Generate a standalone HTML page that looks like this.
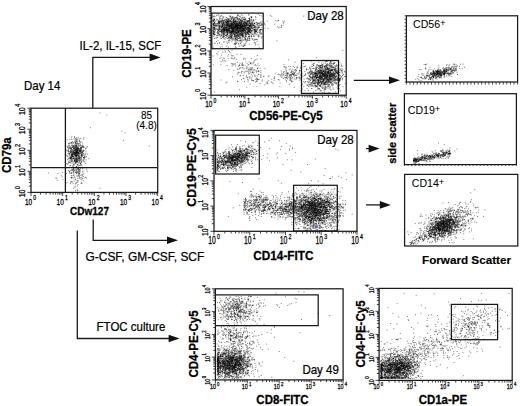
<!DOCTYPE html>
<html><head><meta charset="utf-8"><style>
html,body{margin:0;padding:0;background:#fff;}
svg{display:block;}
text{font-family:"Liberation Sans", sans-serif;}
</style></head><body>
<svg width="520" height="406" viewBox="0 0 520 406">
<rect width="520" height="406" fill="#fff"/>
<g transform="translate(79.5 50) scale(1 1.04)"><text x="0" y="0" font-size="11.5" fill="#000" stroke="#000" stroke-width="0.22">IL-2, IL-15, SCF</text></g>
<g transform="translate(24 90) scale(1 1.04)"><text x="0" y="0" font-size="11.5" fill="#000" stroke="#000" stroke-width="0.22">Day 14</text></g>
<g transform="translate(85.5 261.2) scale(1 1.04)"><text x="0" y="0" font-size="11.95" fill="#000" stroke="#000" stroke-width="0.22">G-CSF, GM-CSF, SCF</text></g>
<g transform="translate(96.6 330.5) scale(1 1.04)"><text x="0" y="0" font-size="11.5" fill="#000" stroke="#000" stroke-width="0.22">FTOC culture</text></g>
<path d="M92.8 108 L92.8 57.4 L150 57.4" fill="none" stroke="#1a1a1a" stroke-width="1.3"/>
<path d="M150 57.4 L150.6 57.4" stroke="#111" stroke-width="1.25"/>
<path d="M160.6 57.4 L149.6 53.6 L149.6 61.199999999999996 Z" fill="#111"/>
<path d="M93.2 219.5 L93.2 240.3 L170 240.3" fill="none" stroke="#1a1a1a" stroke-width="1.3"/>
<path d="M170 240.3 L168 240.3" stroke="#111" stroke-width="1.25"/>
<path d="M178 240.3 L167 236.5 L167 244.10000000000002 Z" fill="#111"/>
<path d="M77.3 230.5 L77.3 338.5 L170 338.5" fill="none" stroke="#1a1a1a" stroke-width="1.3"/>
<path d="M170 338.5 L169.6 338.5" stroke="#111" stroke-width="1.25"/>
<path d="M179.6 338.5 L168.6 334.7 L168.6 342.3 Z" fill="#111"/>
<path d="M353.8 80.3 L390 80.3" stroke="#111" stroke-width="1.25"/>
<path d="M400 80.3 L389 76.5 L389 84.1 Z" fill="#111"/>
<path d="M366 148.6 L369.6 148.6" stroke="#111" stroke-width="1.25"/>
<path d="M379.6 148.6 L368.6 144.79999999999998 L368.6 152.4 Z" fill="#111"/>
<path d="M366 204.9 L380.8 204.9" stroke="#111" stroke-width="1.25"/>
<path d="M390.8 204.9 L379.8 201.1 L379.8 208.70000000000002 Z" fill="#111"/>
<rect x="31" y="108.2" width="126.69999999999999" height="84.2" fill="none" stroke="#1a1a1a" stroke-width="1.25"/>
<path d="M31.0 192.4v3.6M40.5 192.4v2.2M46.1 192.4v2.2M50.1 192.4v2.2M53.1 192.4v2.2M55.6 192.4v2.2M57.8 192.4v2.2M59.6 192.4v2.2M61.2 192.4v2.2M62.7 192.4v3.6M72.2 192.4v2.2M77.8 192.4v2.2M81.7 192.4v2.2M84.8 192.4v2.2M87.3 192.4v2.2M89.4 192.4v2.2M91.3 192.4v2.2M92.9 192.4v2.2M94.3 192.4v3.6M103.9 192.4v2.2M109.5 192.4v2.2M113.4 192.4v2.2M116.5 192.4v2.2M119.0 192.4v2.2M121.1 192.4v2.2M123.0 192.4v2.2M124.6 192.4v2.2M126.0 192.4v3.6M135.6 192.4v2.2M141.1 192.4v2.2M145.1 192.4v2.2M148.2 192.4v2.2M150.7 192.4v2.2M152.8 192.4v2.2M154.6 192.4v2.2M156.3 192.4v2.2M157.7 192.4v3.6" stroke="#222" stroke-width="0.85"/>
<path d="M31 192.4h-3.6M31 186.1h-2.2M31 182.4h-2.2M31 179.7h-2.2M31 177.7h-2.2M31 176.0h-2.2M31 174.6h-2.2M31 173.4h-2.2M31 172.3h-2.2M31 171.3h-3.6M31 165.0h-2.2M31 161.3h-2.2M31 158.7h-2.2M31 156.6h-2.2M31 155.0h-2.2M31 153.6h-2.2M31 152.3h-2.2M31 151.3h-2.2M31 150.3h-3.6M31 144.0h-2.2M31 140.3h-2.2M31 137.6h-2.2M31 135.6h-2.2M31 133.9h-2.2M31 132.5h-2.2M31 131.3h-2.2M31 130.2h-2.2M31 129.2h-3.6M31 122.9h-2.2M31 119.2h-2.2M31 116.6h-2.2M31 114.5h-2.2M31 112.9h-2.2M31 111.5h-2.2M31 110.2h-2.2M31 109.2h-2.2M31 108.2h-3.6" stroke="#222" stroke-width="0.85"/>
<path d="M65.4 108.2 L65.4 192.4" fill="none" stroke="#1a1a1a" stroke-width="1.3"/>
<path d="M31 167.7 L157.7 167.7" fill="none" stroke="#1a1a1a" stroke-width="1.3"/>
<g transform="translate(146.5 118.8) scale(1 1.04)"><text x="0" y="0" font-size="10" text-anchor="middle" fill="#000" stroke="#000" stroke-width="0.1">85</text></g>
<g transform="translate(146.5 128.5) scale(1 1.04)"><text x="0" y="0" font-size="10" text-anchor="middle" fill="#000" stroke="#000" stroke-width="0.1">(4.8)</text></g>
<g transform="translate(32.1 204.8) scale(0.72 1)"><text x="0" y="0" font-size="9" text-anchor="end" fill="#000" stroke="#000" stroke-width="0.28">10</text><text x="1.6666666666666667" y="-4.5" font-size="7.0200000000000005" fill="#000" stroke="#000" stroke-width="0.28">0</text></g>
<g transform="translate(63.775 204.8) scale(0.72 1)"><text x="0" y="0" font-size="9" text-anchor="end" fill="#000" stroke="#000" stroke-width="0.28">10</text><text x="1.6666666666666667" y="-4.5" font-size="7.0200000000000005" fill="#000" stroke="#000" stroke-width="0.28">1</text></g>
<g transform="translate(95.44999999999999 204.8) scale(0.72 1)"><text x="0" y="0" font-size="9" text-anchor="end" fill="#000" stroke="#000" stroke-width="0.28">10</text><text x="1.6666666666666667" y="-4.5" font-size="7.0200000000000005" fill="#000" stroke="#000" stroke-width="0.28">2</text></g>
<g transform="translate(127.12499999999999 204.8) scale(0.72 1)"><text x="0" y="0" font-size="9" text-anchor="end" fill="#000" stroke="#000" stroke-width="0.28">10</text><text x="1.6666666666666667" y="-4.5" font-size="7.0200000000000005" fill="#000" stroke="#000" stroke-width="0.28">3</text></g>
<g transform="translate(158.79999999999998 204.8) scale(0.72 1)"><text x="0" y="0" font-size="9" text-anchor="end" fill="#000" stroke="#000" stroke-width="0.28">10</text><text x="1.6666666666666667" y="-4.5" font-size="7.0200000000000005" fill="#000" stroke="#000" stroke-width="0.28">4</text></g>
<g transform="translate(24.9 193.4) rotate(-90) scale(0.78 1)"><text x="0" y="0" font-size="9" text-anchor="middle" fill="#000" stroke="#000" stroke-width="0.28">10</text><text x="5.58" y="-5.3999999999999995" font-size="7.0200000000000005" fill="#000" stroke="#000" stroke-width="0.28">0</text></g>
<g transform="translate(24.9 172.35) rotate(-90) scale(0.78 1)"><text x="0" y="0" font-size="9" text-anchor="middle" fill="#000" stroke="#000" stroke-width="0.28">10</text><text x="5.58" y="-5.3999999999999995" font-size="7.0200000000000005" fill="#000" stroke="#000" stroke-width="0.28">1</text></g>
<g transform="translate(24.9 151.3) rotate(-90) scale(0.78 1)"><text x="0" y="0" font-size="9" text-anchor="middle" fill="#000" stroke="#000" stroke-width="0.28">10</text><text x="5.58" y="-5.3999999999999995" font-size="7.0200000000000005" fill="#000" stroke="#000" stroke-width="0.28">2</text></g>
<g transform="translate(24.9 130.25) rotate(-90) scale(0.78 1)"><text x="0" y="0" font-size="9" text-anchor="middle" fill="#000" stroke="#000" stroke-width="0.28">10</text><text x="5.58" y="-5.3999999999999995" font-size="7.0200000000000005" fill="#000" stroke="#000" stroke-width="0.28">3</text></g>
<g transform="translate(24.9 111.2) rotate(-90) scale(0.78 1)"><text x="0" y="0" font-size="9" text-anchor="middle" fill="#000" stroke="#000" stroke-width="0.28">10</text><text x="5.58" y="-5.3999999999999995" font-size="7.0200000000000005" fill="#000" stroke="#000" stroke-width="0.28">4</text></g>
<g transform="translate(89.5 215.4) scale(1 1.12)"><text x="0" y="0" font-size="10" font-weight="bold" text-anchor="middle" fill="#000" stroke="#000" stroke-width="0.25">CDw127</text></g>
<g transform="translate(10.6 155.2) rotate(-90) scale(1 1.1)"><text x="0" y="0" font-size="11.5" font-weight="bold" text-anchor="middle" fill="#000" stroke="#000" stroke-width="0.25">CD79a</text></g>
<rect x="211" y="6.5" width="135.2" height="88.7" fill="none" stroke="#1a1a1a" stroke-width="1.25"/>
<path d="M211.0 95.2v3.6M221.2 95.2v2.2M227.1 95.2v2.2M231.3 95.2v2.2M234.6 95.2v2.2M237.3 95.2v2.2M239.6 95.2v2.2M241.5 95.2v2.2M243.3 95.2v2.2M244.8 95.2v3.6M255.0 95.2v2.2M260.9 95.2v2.2M265.1 95.2v2.2M268.4 95.2v2.2M271.1 95.2v2.2M273.4 95.2v2.2M275.3 95.2v2.2M277.1 95.2v2.2M278.6 95.2v3.6M288.8 95.2v2.2M294.7 95.2v2.2M298.9 95.2v2.2M302.2 95.2v2.2M304.9 95.2v2.2M307.2 95.2v2.2M309.1 95.2v2.2M310.9 95.2v2.2M312.4 95.2v3.6M322.6 95.2v2.2M328.5 95.2v2.2M332.7 95.2v2.2M336.0 95.2v2.2M338.7 95.2v2.2M341.0 95.2v2.2M342.9 95.2v2.2M344.7 95.2v2.2M346.2 95.2v3.6" stroke="#222" stroke-width="0.85"/>
<path d="M211 95.2h-3.6M211 88.5h-2.2M211 84.6h-2.2M211 81.8h-2.2M211 79.7h-2.2M211 77.9h-2.2M211 76.5h-2.2M211 75.2h-2.2M211 74.0h-2.2M211 73.0h-3.6M211 66.3h-2.2M211 62.4h-2.2M211 59.7h-2.2M211 57.5h-2.2M211 55.8h-2.2M211 54.3h-2.2M211 53.0h-2.2M211 51.9h-2.2M211 50.9h-3.6M211 44.2h-2.2M211 40.3h-2.2M211 37.5h-2.2M211 35.4h-2.2M211 33.6h-2.2M211 32.1h-2.2M211 30.8h-2.2M211 29.7h-2.2M211 28.7h-3.6M211 22.0h-2.2M211 18.1h-2.2M211 15.3h-2.2M211 13.2h-2.2M211 11.4h-2.2M211 9.9h-2.2M211 8.6h-2.2M211 7.5h-2.2M211 6.5h-3.6" stroke="#222" stroke-width="0.85"/>
<rect x="211.8" y="13.1" width="51.39999999999998" height="35.6" fill="none" stroke="#1a1a1a" stroke-width="1.25"/>
<rect x="301.5" y="60.5" width="37.0" height="32.900000000000006" fill="none" stroke="#1a1a1a" stroke-width="1.25"/>
<g transform="translate(343.7 20) scale(1 1.04)"><text x="0" y="0" font-size="11.5" text-anchor="end" fill="#000" stroke="#000" stroke-width="0.22">Day 28</text></g>
<g transform="translate(212.3 107) scale(0.75 1)"><text x="0" y="0" font-size="8.6" text-anchor="end" fill="#000" stroke="#000" stroke-width="0.28">10</text><text x="1.5999999999999999" y="-4.3" font-size="6.708" fill="#000" stroke="#000" stroke-width="0.28">0</text></g>
<g transform="translate(246.10000000000002 107) scale(0.75 1)"><text x="0" y="0" font-size="8.6" text-anchor="end" fill="#000" stroke="#000" stroke-width="0.28">10</text><text x="1.5999999999999999" y="-4.3" font-size="6.708" fill="#000" stroke="#000" stroke-width="0.28">1</text></g>
<g transform="translate(279.90000000000003 107) scale(0.75 1)"><text x="0" y="0" font-size="8.6" text-anchor="end" fill="#000" stroke="#000" stroke-width="0.28">10</text><text x="1.5999999999999999" y="-4.3" font-size="6.708" fill="#000" stroke="#000" stroke-width="0.28">2</text></g>
<g transform="translate(313.7 107) scale(0.75 1)"><text x="0" y="0" font-size="8.6" text-anchor="end" fill="#000" stroke="#000" stroke-width="0.28">10</text><text x="1.5999999999999999" y="-4.3" font-size="6.708" fill="#000" stroke="#000" stroke-width="0.28">3</text></g>
<g transform="translate(347.5 107) scale(0.75 1)"><text x="0" y="0" font-size="8.6" text-anchor="end" fill="#000" stroke="#000" stroke-width="0.28">10</text><text x="1.5999999999999999" y="-4.3" font-size="6.708" fill="#000" stroke="#000" stroke-width="0.28">4</text></g>
<g transform="translate(205.7 96.2) rotate(-90) scale(0.78 1)"><text x="0" y="0" font-size="8.8" text-anchor="middle" fill="#000" stroke="#000" stroke-width="0.28">10</text><text x="5.456" y="-5.28" font-size="6.864000000000001" fill="#000" stroke="#000" stroke-width="0.28">0</text></g>
<g transform="translate(205.7 74.025) rotate(-90) scale(0.78 1)"><text x="0" y="0" font-size="8.8" text-anchor="middle" fill="#000" stroke="#000" stroke-width="0.28">10</text><text x="5.456" y="-5.28" font-size="6.864000000000001" fill="#000" stroke="#000" stroke-width="0.28">1</text></g>
<g transform="translate(205.7 51.85) rotate(-90) scale(0.78 1)"><text x="0" y="0" font-size="8.8" text-anchor="middle" fill="#000" stroke="#000" stroke-width="0.28">10</text><text x="5.456" y="-5.28" font-size="6.864000000000001" fill="#000" stroke="#000" stroke-width="0.28">2</text></g>
<g transform="translate(205.7 29.674999999999997) rotate(-90) scale(0.78 1)"><text x="0" y="0" font-size="8.8" text-anchor="middle" fill="#000" stroke="#000" stroke-width="0.28">10</text><text x="5.456" y="-5.28" font-size="6.864000000000001" fill="#000" stroke="#000" stroke-width="0.28">3</text></g>
<g transform="translate(205.7 9.2) rotate(-90) scale(0.78 1)"><text x="0" y="0" font-size="8.8" text-anchor="middle" fill="#000" stroke="#000" stroke-width="0.28">10</text><text x="5.456" y="-5.28" font-size="6.864000000000001" fill="#000" stroke="#000" stroke-width="0.28">4</text></g>
<g transform="translate(286 119.5) scale(1 1.04)"><text x="0" y="0" font-size="11.5" font-weight="bold" text-anchor="middle" fill="#000" stroke="#000" stroke-width="0.25">CD56-PE-Cy5</text></g>
<g transform="translate(190.5 53.5) rotate(-90) scale(1 1.04)"><text x="0" y="0" font-size="11.5" font-weight="bold" text-anchor="middle" fill="#000" stroke="#000" stroke-width="0.25">CD19-PE</text></g>
<rect x="214" y="130.4" width="143" height="100.9" fill="none" stroke="#1a1a1a" stroke-width="1.25"/>
<path d="M214.0 231.3v3.6M224.8 231.3v2.2M231.1 231.3v2.2M235.5 231.3v2.2M239.0 231.3v2.2M241.8 231.3v2.2M244.2 231.3v2.2M246.3 231.3v2.2M248.1 231.3v2.2M249.8 231.3v3.6M260.5 231.3v2.2M266.8 231.3v2.2M271.3 231.3v2.2M274.7 231.3v2.2M277.6 231.3v2.2M280.0 231.3v2.2M282.0 231.3v2.2M283.9 231.3v2.2M285.5 231.3v3.6M296.3 231.3v2.2M302.6 231.3v2.2M307.0 231.3v2.2M310.5 231.3v2.2M313.3 231.3v2.2M315.7 231.3v2.2M317.8 231.3v2.2M319.6 231.3v2.2M321.2 231.3v3.6M332.0 231.3v2.2M338.3 231.3v2.2M342.8 231.3v2.2M346.2 231.3v2.2M349.1 231.3v2.2M351.5 231.3v2.2M353.5 231.3v2.2M355.4 231.3v2.2M357.0 231.3v3.6" stroke="#222" stroke-width="0.85"/>
<path d="M214 231.3h-3.6M214 223.7h-2.2M214 219.3h-2.2M214 216.1h-2.2M214 213.7h-2.2M214 211.7h-2.2M214 210.0h-2.2M214 208.5h-2.2M214 207.2h-2.2M214 206.1h-3.6M214 198.5h-2.2M214 194.0h-2.2M214 190.9h-2.2M214 188.4h-2.2M214 186.4h-2.2M214 184.8h-2.2M214 183.3h-2.2M214 182.0h-2.2M214 180.9h-3.6M214 173.3h-2.2M214 168.8h-2.2M214 165.7h-2.2M214 163.2h-2.2M214 161.2h-2.2M214 159.5h-2.2M214 158.1h-2.2M214 156.8h-2.2M214 155.6h-3.6M214 148.0h-2.2M214 143.6h-2.2M214 140.4h-2.2M214 138.0h-2.2M214 136.0h-2.2M214 134.3h-2.2M214 132.8h-2.2M214 131.6h-2.2M214 130.4h-3.6" stroke="#222" stroke-width="0.85"/>
<rect x="215.6" y="135.2" width="43.70000000000002" height="38.80000000000001" fill="none" stroke="#1a1a1a" stroke-width="1.25"/>
<rect x="293.6" y="185.3" width="43.69999999999999" height="45.69999999999999" fill="none" stroke="#1a1a1a" stroke-width="1.25"/>
<g transform="translate(353.7 143.7) scale(1 1.04)"><text x="0" y="0" font-size="11.5" text-anchor="end" fill="#000" stroke="#000" stroke-width="0.22">Day 28</text></g>
<g transform="translate(215.8 243.6) scale(0.68 1)"><text x="0" y="0" font-size="10" text-anchor="end" fill="#000" stroke="#000" stroke-width="0.28">10</text><text x="1.764705882352941" y="-5.0" font-size="7.800000000000001" fill="#000" stroke="#000" stroke-width="0.28">0</text></g>
<g transform="translate(251.55 243.6) scale(0.68 1)"><text x="0" y="0" font-size="10" text-anchor="end" fill="#000" stroke="#000" stroke-width="0.28">10</text><text x="1.764705882352941" y="-5.0" font-size="7.800000000000001" fill="#000" stroke="#000" stroke-width="0.28">1</text></g>
<g transform="translate(287.3 243.6) scale(0.68 1)"><text x="0" y="0" font-size="10" text-anchor="end" fill="#000" stroke="#000" stroke-width="0.28">10</text><text x="1.764705882352941" y="-5.0" font-size="7.800000000000001" fill="#000" stroke="#000" stroke-width="0.28">2</text></g>
<g transform="translate(323.05 243.6) scale(0.68 1)"><text x="0" y="0" font-size="10" text-anchor="end" fill="#000" stroke="#000" stroke-width="0.28">10</text><text x="1.764705882352941" y="-5.0" font-size="7.800000000000001" fill="#000" stroke="#000" stroke-width="0.28">3</text></g>
<g transform="translate(358.8 243.6) scale(0.68 1)"><text x="0" y="0" font-size="10" text-anchor="end" fill="#000" stroke="#000" stroke-width="0.28">10</text><text x="1.764705882352941" y="-5.0" font-size="7.800000000000001" fill="#000" stroke="#000" stroke-width="0.28">4</text></g>
<g transform="translate(207.7 232.3) rotate(-90) scale(0.78 1)"><text x="0" y="0" font-size="8.6" text-anchor="middle" fill="#000" stroke="#000" stroke-width="0.28">10</text><text x="5.332" y="-5.159999999999999" font-size="6.708" fill="#000" stroke="#000" stroke-width="0.28">0</text></g>
<g transform="translate(207.7 207.07500000000002) rotate(-90) scale(0.78 1)"><text x="0" y="0" font-size="8.6" text-anchor="middle" fill="#000" stroke="#000" stroke-width="0.28">10</text><text x="5.332" y="-5.159999999999999" font-size="6.708" fill="#000" stroke="#000" stroke-width="0.28">1</text></g>
<g transform="translate(207.7 181.85000000000002) rotate(-90) scale(0.78 1)"><text x="0" y="0" font-size="8.6" text-anchor="middle" fill="#000" stroke="#000" stroke-width="0.28">10</text><text x="5.332" y="-5.159999999999999" font-size="6.708" fill="#000" stroke="#000" stroke-width="0.28">2</text></g>
<g transform="translate(207.7 156.625) rotate(-90) scale(0.78 1)"><text x="0" y="0" font-size="8.6" text-anchor="middle" fill="#000" stroke="#000" stroke-width="0.28">10</text><text x="5.332" y="-5.159999999999999" font-size="6.708" fill="#000" stroke="#000" stroke-width="0.28">3</text></g>
<g transform="translate(207.7 134.3) rotate(-90) scale(0.78 1)"><text x="0" y="0" font-size="8.6" text-anchor="middle" fill="#000" stroke="#000" stroke-width="0.28">10</text><text x="5.332" y="-5.159999999999999" font-size="6.708" fill="#000" stroke="#000" stroke-width="0.28">4</text></g>
<g transform="translate(283.4 260) scale(1 1.04)"><text x="0" y="0" font-size="11.8" font-weight="bold" text-anchor="middle" fill="#000" stroke="#000" stroke-width="0.25">CD14-FITC</text></g>
<g transform="translate(196.4 167.4) rotate(-90) scale(1 1.04)"><text x="0" y="0" font-size="12.3" font-weight="bold" text-anchor="middle" fill="#000" stroke="#000" stroke-width="0.25">CD19-PE-Cy5</text></g>
<rect x="215.4" y="288.8" width="127.70000000000002" height="91.09999999999997" fill="none" stroke="#1a1a1a" stroke-width="1.25"/>
<path d="M215.4 379.9v3.6M225.0 379.9v2.2M230.6 379.9v2.2M234.6 379.9v2.2M237.7 379.9v2.2M240.2 379.9v2.2M242.4 379.9v2.2M244.2 379.9v2.2M245.9 379.9v2.2M247.3 379.9v3.6M256.9 379.9v2.2M262.6 379.9v2.2M266.5 379.9v2.2M269.6 379.9v2.2M272.2 379.9v2.2M274.3 379.9v2.2M276.2 379.9v2.2M277.8 379.9v2.2M279.2 379.9v3.6M288.9 379.9v2.2M294.5 379.9v2.2M298.5 379.9v2.2M301.6 379.9v2.2M304.1 379.9v2.2M306.2 379.9v2.2M308.1 379.9v2.2M309.7 379.9v2.2M311.2 379.9v3.6M320.8 379.9v2.2M326.4 379.9v2.2M330.4 379.9v2.2M333.5 379.9v2.2M336.0 379.9v2.2M338.2 379.9v2.2M340.0 379.9v2.2M341.6 379.9v2.2M343.1 379.9v3.6" stroke="#222" stroke-width="0.85"/>
<path d="M215.4 379.9h-3.6M215.4 373.0h-2.2M215.4 369.0h-2.2M215.4 366.2h-2.2M215.4 364.0h-2.2M215.4 362.2h-2.2M215.4 360.7h-2.2M215.4 359.3h-2.2M215.4 358.2h-2.2M215.4 357.1h-3.6M215.4 350.3h-2.2M215.4 346.3h-2.2M215.4 343.4h-2.2M215.4 341.2h-2.2M215.4 339.4h-2.2M215.4 337.9h-2.2M215.4 336.6h-2.2M215.4 335.4h-2.2M215.4 334.4h-3.6M215.4 327.5h-2.2M215.4 323.5h-2.2M215.4 320.6h-2.2M215.4 318.4h-2.2M215.4 316.6h-2.2M215.4 315.1h-2.2M215.4 313.8h-2.2M215.4 312.6h-2.2M215.4 311.6h-3.6M215.4 304.7h-2.2M215.4 300.7h-2.2M215.4 297.9h-2.2M215.4 295.7h-2.2M215.4 293.9h-2.2M215.4 292.3h-2.2M215.4 291.0h-2.2M215.4 289.8h-2.2M215.4 288.8h-3.6" stroke="#222" stroke-width="0.85"/>
<path d="M215.4 294.8 L318.2 294.8 L318.2 325.5 L215.4 325.5" fill="none" stroke="#1a1a1a" stroke-width="1.25"/>
<g transform="translate(338.8 374.4) scale(1 1.04)"><text x="0" y="0" font-size="11.5" text-anchor="end" fill="#000" stroke="#000" stroke-width="0.22">Day 49</text></g>
<g transform="translate(215.9 389.4) scale(0.75 1)"><text x="0" y="0" font-size="7.2" text-anchor="end" fill="#000" stroke="#000" stroke-width="0.28">10</text><text x="1.5999999999999999" y="-3.6" font-size="5.6160000000000005" fill="#000" stroke="#000" stroke-width="0.28">0</text></g>
<g transform="translate(247.82500000000002 389.4) scale(0.75 1)"><text x="0" y="0" font-size="7.2" text-anchor="end" fill="#000" stroke="#000" stroke-width="0.28">10</text><text x="1.5999999999999999" y="-3.6" font-size="5.6160000000000005" fill="#000" stroke="#000" stroke-width="0.28">1</text></g>
<g transform="translate(279.75 389.4) scale(0.75 1)"><text x="0" y="0" font-size="7.2" text-anchor="end" fill="#000" stroke="#000" stroke-width="0.28">10</text><text x="1.5999999999999999" y="-3.6" font-size="5.6160000000000005" fill="#000" stroke="#000" stroke-width="0.28">2</text></g>
<g transform="translate(311.675 389.4) scale(0.75 1)"><text x="0" y="0" font-size="7.2" text-anchor="end" fill="#000" stroke="#000" stroke-width="0.28">10</text><text x="1.5999999999999999" y="-3.6" font-size="5.6160000000000005" fill="#000" stroke="#000" stroke-width="0.28">3</text></g>
<g transform="translate(343.6 389.4) scale(0.75 1)"><text x="0" y="0" font-size="7.2" text-anchor="end" fill="#000" stroke="#000" stroke-width="0.28">10</text><text x="1.5999999999999999" y="-3.6" font-size="5.6160000000000005" fill="#000" stroke="#000" stroke-width="0.28">4</text></g>
<g transform="translate(210 381.7) rotate(-90) scale(0.78 1)"><text x="0" y="0" font-size="7" text-anchor="middle" fill="#000" stroke="#000" stroke-width="0.28">10</text><text x="4.34" y="-4.2" font-size="5.46" fill="#000" stroke="#000" stroke-width="0.28">0</text></g>
<g transform="translate(210 358.925) rotate(-90) scale(0.78 1)"><text x="0" y="0" font-size="7" text-anchor="middle" fill="#000" stroke="#000" stroke-width="0.28">10</text><text x="4.34" y="-4.2" font-size="5.46" fill="#000" stroke="#000" stroke-width="0.28">1</text></g>
<g transform="translate(210 336.15000000000003) rotate(-90) scale(0.78 1)"><text x="0" y="0" font-size="7" text-anchor="middle" fill="#000" stroke="#000" stroke-width="0.28">10</text><text x="4.34" y="-4.2" font-size="5.46" fill="#000" stroke="#000" stroke-width="0.28">2</text></g>
<g transform="translate(210 313.375) rotate(-90) scale(0.78 1)"><text x="0" y="0" font-size="7" text-anchor="middle" fill="#000" stroke="#000" stroke-width="0.28">10</text><text x="4.34" y="-4.2" font-size="5.46" fill="#000" stroke="#000" stroke-width="0.28">3</text></g>
<g transform="translate(210 290.6) rotate(-90) scale(0.78 1)"><text x="0" y="0" font-size="7" text-anchor="middle" fill="#000" stroke="#000" stroke-width="0.28">10</text><text x="4.34" y="-4.2" font-size="5.46" fill="#000" stroke="#000" stroke-width="0.28">4</text></g>
<g transform="translate(282.5 404) scale(1 1.04)"><text x="0" y="0" font-size="11.5" font-weight="bold" text-anchor="middle" fill="#000" stroke="#000" stroke-width="0.25">CD8-FITC</text></g>
<g transform="translate(198 344) rotate(-90) scale(1 1.04)"><text x="0" y="0" font-size="11.5" font-weight="bold" text-anchor="middle" fill="#000" stroke="#000" stroke-width="0.25">CD4-PE-Cy5</text></g>
<rect x="379.1" y="288.4" width="133.10000000000002" height="92.0" fill="none" stroke="#1a1a1a" stroke-width="1.25"/>
<path d="M379.1 380.4v3.6M389.1 380.4v2.2M395.0 380.4v2.2M399.1 380.4v2.2M402.4 380.4v2.2M405.0 380.4v2.2M407.2 380.4v2.2M409.2 380.4v2.2M410.9 380.4v2.2M412.4 380.4v3.6M422.4 380.4v2.2M428.3 380.4v2.2M432.4 380.4v2.2M435.6 380.4v2.2M438.3 380.4v2.2M440.5 380.4v2.2M442.4 380.4v2.2M444.1 380.4v2.2M445.7 380.4v3.6M455.7 380.4v2.2M461.5 380.4v2.2M465.7 380.4v2.2M468.9 380.4v2.2M471.5 380.4v2.2M473.8 380.4v2.2M475.7 380.4v2.2M477.4 380.4v2.2M478.9 380.4v3.6M488.9 380.4v2.2M494.8 380.4v2.2M499.0 380.4v2.2M502.2 380.4v2.2M504.8 380.4v2.2M507.0 380.4v2.2M509.0 380.4v2.2M510.7 380.4v2.2M512.2 380.4v3.6" stroke="#222" stroke-width="0.85"/>
<path d="M379.1 380.4h-3.6M379.1 373.5h-2.2M379.1 369.4h-2.2M379.1 366.6h-2.2M379.1 364.3h-2.2M379.1 362.5h-2.2M379.1 361.0h-2.2M379.1 359.6h-2.2M379.1 358.5h-2.2M379.1 357.4h-3.6M379.1 350.5h-2.2M379.1 346.4h-2.2M379.1 343.6h-2.2M379.1 341.3h-2.2M379.1 339.5h-2.2M379.1 338.0h-2.2M379.1 336.6h-2.2M379.1 335.5h-2.2M379.1 334.4h-3.6M379.1 327.5h-2.2M379.1 323.4h-2.2M379.1 320.6h-2.2M379.1 318.3h-2.2M379.1 316.5h-2.2M379.1 315.0h-2.2M379.1 313.6h-2.2M379.1 312.5h-2.2M379.1 311.4h-3.6M379.1 304.5h-2.2M379.1 300.4h-2.2M379.1 297.6h-2.2M379.1 295.3h-2.2M379.1 293.5h-2.2M379.1 292.0h-2.2M379.1 290.6h-2.2M379.1 289.5h-2.2M379.1 288.4h-3.6" stroke="#222" stroke-width="0.85"/>
<rect x="451.4" y="304.4" width="46.200000000000045" height="35.30000000000001" fill="none" stroke="#1a1a1a" stroke-width="1.25"/>
<g transform="translate(379.6 389.4) scale(0.75 1)"><text x="0" y="0" font-size="7.2" text-anchor="end" fill="#000" stroke="#000" stroke-width="0.28">10</text><text x="1.5999999999999999" y="-3.6" font-size="5.6160000000000005" fill="#000" stroke="#000" stroke-width="0.28">0</text></g>
<g transform="translate(412.875 389.4) scale(0.75 1)"><text x="0" y="0" font-size="7.2" text-anchor="end" fill="#000" stroke="#000" stroke-width="0.28">10</text><text x="1.5999999999999999" y="-3.6" font-size="5.6160000000000005" fill="#000" stroke="#000" stroke-width="0.28">1</text></g>
<g transform="translate(446.15000000000003 389.4) scale(0.75 1)"><text x="0" y="0" font-size="7.2" text-anchor="end" fill="#000" stroke="#000" stroke-width="0.28">10</text><text x="1.5999999999999999" y="-3.6" font-size="5.6160000000000005" fill="#000" stroke="#000" stroke-width="0.28">2</text></g>
<g transform="translate(479.42500000000007 389.4) scale(0.75 1)"><text x="0" y="0" font-size="7.2" text-anchor="end" fill="#000" stroke="#000" stroke-width="0.28">10</text><text x="1.5999999999999999" y="-3.6" font-size="5.6160000000000005" fill="#000" stroke="#000" stroke-width="0.28">3</text></g>
<g transform="translate(512.7 389.4) scale(0.75 1)"><text x="0" y="0" font-size="7.2" text-anchor="end" fill="#000" stroke="#000" stroke-width="0.28">10</text><text x="1.5999999999999999" y="-3.6" font-size="5.6160000000000005" fill="#000" stroke="#000" stroke-width="0.28">4</text></g>
<g transform="translate(373.6 382.2) rotate(-90) scale(0.78 1)"><text x="0" y="0" font-size="7" text-anchor="middle" fill="#000" stroke="#000" stroke-width="0.28">10</text><text x="4.34" y="-4.2" font-size="5.46" fill="#000" stroke="#000" stroke-width="0.28">0</text></g>
<g transform="translate(373.6 359.2) rotate(-90) scale(0.78 1)"><text x="0" y="0" font-size="7" text-anchor="middle" fill="#000" stroke="#000" stroke-width="0.28">10</text><text x="4.34" y="-4.2" font-size="5.46" fill="#000" stroke="#000" stroke-width="0.28">1</text></g>
<g transform="translate(373.6 336.2) rotate(-90) scale(0.78 1)"><text x="0" y="0" font-size="7" text-anchor="middle" fill="#000" stroke="#000" stroke-width="0.28">10</text><text x="4.34" y="-4.2" font-size="5.46" fill="#000" stroke="#000" stroke-width="0.28">2</text></g>
<g transform="translate(373.6 313.2) rotate(-90) scale(0.78 1)"><text x="0" y="0" font-size="7" text-anchor="middle" fill="#000" stroke="#000" stroke-width="0.28">10</text><text x="4.34" y="-4.2" font-size="5.46" fill="#000" stroke="#000" stroke-width="0.28">3</text></g>
<g transform="translate(373.6 290.2) rotate(-90) scale(0.78 1)"><text x="0" y="0" font-size="7" text-anchor="middle" fill="#000" stroke="#000" stroke-width="0.28">10</text><text x="4.34" y="-4.2" font-size="5.46" fill="#000" stroke="#000" stroke-width="0.28">4</text></g>
<g transform="translate(442.9 403.8) scale(1 1.04)"><text x="0" y="0" font-size="11.5" font-weight="bold" text-anchor="middle" fill="#000" stroke="#000" stroke-width="0.25">CD1a-PE</text></g>
<g transform="translate(365 334) rotate(-90) scale(1 1.04)"><text x="0" y="0" font-size="11.5" font-weight="bold" text-anchor="middle" fill="#000" stroke="#000" stroke-width="0.25">CD4-PE-Cy5</text></g>
<rect x="406.4" y="15.8" width="111.20000000000005" height="66.2" fill="none" stroke="#1a1a1a" stroke-width="1.25"/>
<path d="M406.40 82.0v2.6M409.99 82.0v2.6M413.57 82.0v2.6M417.16 82.0v2.6M420.75 82.0v2.6M424.34 82.0v2.6M427.92 82.0v2.6M431.51 82.0v2.6M435.10 82.0v2.6M438.68 82.0v2.6M442.27 82.0v2.6M445.86 82.0v2.6M449.45 82.0v2.6M453.03 82.0v2.6M456.62 82.0v2.6M460.21 82.0v2.6M463.79 82.0v2.6M467.38 82.0v2.6M470.97 82.0v2.6M474.55 82.0v2.6M478.14 82.0v2.6M481.73 82.0v2.6M485.32 82.0v2.6M488.90 82.0v2.6M492.49 82.0v2.6M496.08 82.0v2.6M499.66 82.0v2.6M503.25 82.0v2.6M506.84 82.0v2.6M510.43 82.0v2.6M514.01 82.0v2.6M517.60 82.0v2.6" stroke="#222" stroke-width="0.8"/>
<path d="M406.4 82.00h-1.8M406.4 78.52h-1.8M406.4 75.03h-1.8M406.4 71.55h-1.8M406.4 68.06h-1.8M406.4 64.58h-1.8M406.4 61.09h-1.8M406.4 57.61h-1.8M406.4 54.13h-1.8M406.4 50.64h-1.8M406.4 47.16h-1.8M406.4 43.67h-1.8M406.4 40.19h-1.8M406.4 36.71h-1.8M406.4 33.22h-1.8M406.4 29.74h-1.8M406.4 26.25h-1.8M406.4 22.77h-1.8M406.4 19.28h-1.8M406.4 15.80h-1.8" stroke="#222" stroke-width="0.8"/>
<g transform="translate(413 27.6) scale(1 1.04)"><text x="0" y="0" font-size="10.6" fill="#000" stroke="#000" stroke-width="0.05">CD56<tspan font-size="9.5" dy="-1.6">+</tspan></text></g>
<rect x="404.4" y="93.7" width="112.0" height="70.89999999999999" fill="none" stroke="#1a1a1a" stroke-width="1.25"/>
<path d="M404.40 164.6v1.4M408.01 164.6v1.4M411.63 164.6v1.4M415.24 164.6v1.4M418.85 164.6v1.4M422.46 164.6v1.4M426.08 164.6v1.4M429.69 164.6v1.4M433.30 164.6v1.4M436.92 164.6v1.4M440.53 164.6v1.4M444.14 164.6v1.4M447.75 164.6v1.4M451.37 164.6v1.4M454.98 164.6v1.4M458.59 164.6v1.4M462.21 164.6v1.4M465.82 164.6v1.4M469.43 164.6v1.4M473.05 164.6v1.4M476.66 164.6v1.4M480.27 164.6v1.4M483.88 164.6v1.4M487.50 164.6v1.4M491.11 164.6v1.4M494.72 164.6v1.4M498.34 164.6v1.4M501.95 164.6v1.4M505.56 164.6v1.4M509.17 164.6v1.4M512.79 164.6v1.4M516.40 164.6v1.4" stroke="#222" stroke-width="0.7"/>
<g transform="translate(407.8 113.6) scale(1 1.04)"><text x="0" y="0" font-size="10.6" fill="#000" stroke="#000" stroke-width="0.05">CD19<tspan font-size="9.5" dy="-1.6">+</tspan></text></g>
<rect x="404.6" y="174.4" width="113.19999999999993" height="71.6" fill="none" stroke="#1a1a1a" stroke-width="1.25"/>
<g transform="translate(411.8 187.1) scale(1 1.04)"><text x="0" y="0" font-size="10.6" fill="#000" stroke="#000" stroke-width="0.05">CD14<tspan font-size="9.5" dy="-1.6">+</tspan></text></g>
<g transform="translate(395.6 133.3) rotate(-90) scale(1 1.04)"><text x="0" y="0" font-size="11" font-weight="bold" text-anchor="middle" fill="#000" stroke="#000" stroke-width="0.25">side scatter</text></g>
<g transform="translate(466.5 263.7) scale(1 1.0)"><text x="0" y="0" font-size="11.7" font-weight="bold" text-anchor="middle" fill="#000" stroke="#000" stroke-width="0.15">Forward Scatter</text></g>
<filter id="bl" x="0" y="0" width="1" height="1"><feGaussianBlur stdDeviation="0.3"/></filter>
<g filter="url(#bl)">
<path d="M76.2 161.2h1M71.9 154.9h1M76.5 155.3h1M73.2 151.0h1M76.7 150.4h1M79.5 167.5h1M67.1 164.2h1M75.1 154.3h1M77.0 142.0h1M76.0 152.5h1M73.9 151.2h1M81.3 151.0h1M80.4 153.3h1M76.7 151.9h1M76.6 146.2h1M80.3 160.2h1M85.8 167.9h1M76.6 162.0h1M79.5 149.9h1M83.1 157.5h1M74.0 158.0h1M73.4 158.3h1M81.7 156.1h1M79.3 149.3h1M75.7 162.0h1M74.6 167.4h1M83.5 147.2h1M77.9 154.1h1M70.9 142.9h1M81.8 151.3h1M79.4 149.2h1M76.2 166.4h1M77.9 158.4h1M74.7 153.1h1M87.0 154.1h1M77.2 145.9h1M75.2 153.0h1M71.2 158.5h1M71.1 159.9h1M80.9 164.4h1M73.4 149.9h1M70.8 148.8h1M67.8 163.3h1M79.9 151.4h1M82.2 147.1h1M74.9 143.0h1M81.5 155.7h1M72.4 142.8h1M82.2 145.0h1M76.3 139.7h1M73.5 156.0h1M74.8 153.8h1M84.1 156.2h1M77.8 152.3h1M75.2 144.0h1M79.7 145.0h1M72.6 152.9h1M75.5 149.0h1M82.6 153.2h1M76.0 146.4h1M79.2 159.0h1M76.3 153.3h1M78.0 150.2h1M80.8 150.6h1M78.8 141.1h1M80.6 157.4h1M70.2 157.9h1M80.4 147.9h1M70.7 161.6h1M71.3 149.3h1M68.3 158.9h1M76.4 155.8h1M72.1 141.3h1M71.5 154.3h1M75.9 159.2h1M73.0 168.2h1M77.1 154.6h1M77.8 152.7h1M80.5 150.4h1M69.2 154.3h1M75.8 153.4h1M81.7 151.8h1M66.7 146.1h1M76.4 152.0h1M81.6 154.2h1M75.9 160.9h1M78.9 154.8h1M78.7 158.7h1M70.1 149.8h1M69.8 158.4h1M74.0 160.8h1M77.4 161.8h1M71.0 149.0h1M81.9 152.8h1M83.5 160.0h1M67.5 156.3h1M80.6 156.0h1M77.2 150.1h1M76.5 149.5h1M75.9 155.0h1M83.9 157.6h1M74.5 159.2h1M80.4 165.4h1M75.1 158.2h1M75.1 153.0h1M72.5 153.0h1M74.7 157.9h1M76.2 151.9h1M85.9 147.1h1M71.2 153.3h1M70.9 152.5h1M81.4 152.8h1M78.9 151.1h1M73.4 154.1h1M83.3 150.7h1M72.1 156.0h1M75.2 167.6h1M74.8 160.2h1M75.8 156.6h1M79.0 151.5h1M78.1 138.0h1M80.3 148.5h1M68.0 143.5h1M79.3 139.2h1M72.5 146.1h1M75.4 155.6h1M70.7 157.5h1M81.4 154.4h1M75.6 151.8h1M70.0 165.7h1M75.3 159.7h1M67.9 151.6h1M78.1 170.6h1M77.2 147.4h1M80.1 147.7h1M82.7 159.6h1M74.4 142.7h1M88.4 158.7h1M73.1 166.6h1M74.4 159.6h1M81.3 146.8h1M73.8 163.8h1M73.6 151.6h1M71.3 155.4h1M80.4 138.5h1M73.1 154.4h1M73.7 149.0h1M78.1 148.7h1M79.0 143.3h1M76.0 159.0h1M76.4 149.7h1M76.0 158.7h1M71.0 145.1h1M81.5 152.2h1M72.6 157.0h1M72.3 152.6h1M72.6 145.9h1M70.4 148.3h1M74.7 154.6h1M77.0 148.0h1M71.2 139.4h1M69.8 158.0h1M71.6 166.0h1M82.9 160.9h1M81.2 156.0h1M69.0 146.1h1M80.1 153.1h1M67.1 147.5h1M75.8 156.6h1M75.9 147.8h1M85.2 157.3h1M75.9 150.9h1M75.9 149.3h1M75.7 145.4h1M72.7 151.1h1M73.6 147.8h1M69.7 152.9h1M73.2 147.5h1M76.6 158.0h1M74.2 160.0h1M74.9 163.2h1M70.4 159.3h1M75.5 149.8h1M68.2 147.3h1M77.6 160.4h1M75.0 147.7h1M77.2 157.7h1M81.8 143.0h1M68.7 145.1h1M78.0 158.1h1M73.2 148.8h1M77.5 158.0h1M75.7 161.8h1M72.9 142.8h1M76.7 150.8h1M75.9 147.0h1M81.3 155.0h1M77.9 155.9h1M79.0 150.3h1M68.1 161.8h1M72.1 167.7h1M78.0 156.5h1M79.8 150.1h1M79.5 149.1h1M77.7 173.3h1M73.6 153.1h1M85.6 159.8h1M77.2 149.3h1M83.3 157.6h1M75.2 160.9h1M69.0 143.1h1M73.0 164.6h1M78.6 157.6h1M81.1 152.8h1M76.7 182.5h1M77.0 190.2h1M75.8 171.6h1M73.7 176.0h1M66.2 173.5h1M81.9 174.7h1M76.1 172.6h1M86.3 169.8h1M78.1 169.2h1M75.2 179.7h1M77.6 172.8h1M71.0 170.2h1M69.0 171.7h1M77.6 184.6h1M73.4 171.4h1M82.5 180.6h1M71.0 178.0h1M70.8 175.7h1M73.6 172.0h1M74.8 186.2h1M67.9 170.6h1M82.0 175.7h1M79.7 175.5h1M73.3 174.1h1M78.7 170.2h1M81.6 183.3h1M75.3 172.3h1M75.4 183.3h1M80.6 183.3h1M71.3 181.2h1M76.4 173.3h1M76.9 185.9h1M81.5 177.9h1M73.3 168.5h1M77.1 169.8h1M74.5 177.3h1M70.6 177.5h1M76.4 175.7h1M78.8 171.8h1M61.7 176.9h1M60.8 175.2h1M56.7 180.3h1M124.5 132.7h1M148.8 146.1h1M89.9 127.7h1M225.5 30.6h1M229.6 27.6h1M225.5 27.8h1M229.4 16.6h1M244.2 26.2h1M238.7 30.9h1M243.6 22.6h1M235.1 22.3h1M247.0 33.5h1M232.8 26.6h1M220.1 24.1h1M237.8 31.0h1M225.6 26.1h1M222.8 29.3h1M230.3 23.3h1M214.4 31.9h1M231.9 39.1h1M212.9 26.7h1M227.7 30.2h1M218.9 42.7h1M243.4 25.0h1M226.1 31.0h1M214.0 29.4h1M226.2 19.7h1M240.3 27.2h1M251.4 28.2h1M254.0 23.4h1M224.5 25.4h1M219.6 31.2h1M239.5 23.2h1M244.1 33.1h1M213.4 32.1h1M246.9 29.2h1M233.0 27.3h1M228.3 29.7h1M232.5 31.8h1M257.6 14.2h1M250.6 28.1h1M250.5 24.9h1M218.7 23.8h1M227.6 22.7h1M246.0 32.4h1M220.8 34.8h1M229.8 25.3h1M237.7 32.0h1M226.6 30.6h1M250.4 26.1h1M241.1 14.7h1M248.9 40.4h1M247.6 30.4h1M248.8 18.2h1M218.5 21.1h1M231.5 29.7h1M245.4 24.3h1M244.5 23.3h1M259.1 23.1h1M238.5 31.7h1M248.6 31.4h1M226.5 30.3h1M240.0 38.9h1M225.8 27.2h1M250.1 32.5h1M228.2 20.1h1M223.8 31.3h1M230.6 33.1h1M239.8 25.0h1M233.7 29.4h1M221.2 23.0h1M236.8 23.9h1M255.5 31.4h1M248.8 18.9h1M236.1 29.2h1M245.0 22.2h1M238.8 28.9h1M257.7 36.3h1M234.9 21.4h1M232.1 25.2h1M232.0 28.4h1M223.5 28.0h1M227.3 31.9h1M223.2 23.7h1M213.2 23.7h1M230.5 24.5h1M239.3 23.9h1M229.5 33.2h1M235.2 26.5h1M249.9 29.8h1M232.5 17.0h1M229.7 27.8h1M234.5 29.9h1M252.6 25.0h1M240.0 25.7h1M239.8 30.1h1M225.0 20.8h1M258.7 32.9h1M247.6 30.3h1M231.7 37.8h1M234.7 25.1h1M231.2 27.1h1M254.9 33.7h1M230.8 24.2h1M234.2 23.3h1M237.2 18.4h1M232.9 20.4h1M239.6 28.5h1M251.2 25.1h1M255.3 27.7h1M221.2 23.1h1M216.2 25.0h1M220.9 34.0h1M235.1 25.3h1M231.8 25.7h1M257.8 26.7h1M236.1 36.5h1M258.9 25.6h1M234.9 26.6h1M237.9 35.5h1M227.6 30.3h1M225.2 28.9h1M233.9 26.2h1M229.3 24.8h1M226.2 25.8h1M235.1 24.8h1M239.0 18.4h1M249.8 25.4h1M222.9 31.4h1M239.7 34.0h1M233.6 23.1h1M216.9 19.7h1M221.6 22.7h1M227.8 27.4h1M237.9 32.7h1M226.6 25.2h1M226.5 23.1h1M230.4 28.2h1M246.0 29.1h1M254.2 31.3h1M224.1 30.6h1M231.7 17.2h1M227.7 21.8h1M226.8 33.2h1M214.3 24.1h1M227.8 26.7h1M259.4 30.7h1M243.5 29.3h1M249.0 30.1h1M232.3 38.9h1M261.0 33.1h1M220.4 20.4h1M234.4 27.5h1M231.8 28.1h1M255.8 31.4h1M242.5 33.8h1M236.4 26.5h1M218.7 28.4h1M234.8 25.7h1M241.9 27.6h1M248.4 27.1h1M216.4 19.1h1M230.8 29.0h1M213.3 29.1h1M249.3 22.8h1M232.9 27.3h1M252.1 28.7h1M224.4 24.3h1M244.9 29.6h1M230.2 38.6h1M219.9 28.3h1M243.0 36.4h1M242.1 30.4h1M258.4 27.0h1M232.7 31.8h1M212.6 16.7h1M242.2 34.1h1M239.4 28.8h1M226.2 24.5h1M236.1 17.2h1M232.7 20.2h1M259.3 32.9h1M215.7 37.0h1M245.1 27.4h1M228.2 29.1h1M227.4 30.8h1M246.9 20.8h1M218.7 23.7h1M223.6 34.6h1M222.2 30.1h1M227.4 28.9h1M240.8 35.2h1M237.9 28.0h1M241.2 23.1h1M254.5 32.5h1M218.4 26.1h1M228.7 30.5h1M234.4 34.3h1M237.1 26.1h1M259.6 29.5h1M225.9 27.3h1M227.0 29.4h1M224.6 32.1h1M236.9 20.2h1M255.4 24.9h1M231.3 18.0h1M233.3 27.3h1M224.2 30.7h1M244.1 21.3h1M235.0 26.4h1M223.6 22.9h1M222.7 33.1h1M248.8 28.8h1M237.6 25.6h1M231.0 36.1h1M252.1 39.6h1M230.8 24.3h1M229.6 34.7h1M221.4 19.1h1M228.8 29.3h1M250.1 32.8h1M231.3 29.8h1M238.2 32.3h1M213.6 16.3h1M239.1 23.0h1M231.1 27.0h1M229.1 25.7h1M250.9 16.7h1M232.9 25.3h1M241.8 25.0h1M227.6 22.0h1M232.4 18.1h1M242.7 17.9h1M242.8 31.1h1M219.3 19.8h1M233.0 20.6h1M231.9 28.2h1M250.4 24.0h1M225.1 22.4h1M233.8 24.3h1M243.4 24.2h1M254.1 29.6h1M218.6 27.1h1M245.4 20.4h1M233.1 30.7h1M242.5 25.0h1M239.0 24.2h1M230.5 24.9h1M239.7 30.7h1M247.3 21.8h1M241.3 24.8h1M229.6 27.9h1M245.3 28.2h1M230.6 26.6h1M235.7 25.0h1M230.3 31.2h1M240.3 26.9h1M242.8 25.3h1M240.7 26.4h1M227.2 30.0h1M226.3 29.7h1M229.0 24.3h1M233.2 28.6h1M244.8 19.0h1M248.7 23.4h1M234.5 24.0h1M239.8 20.1h1M213.1 33.6h1M236.8 33.7h1M244.6 24.2h1M256.8 27.5h1M249.0 29.0h1M247.7 29.0h1M225.7 27.9h1M217.9 21.8h1M235.1 17.4h1M226.2 22.0h1M228.7 32.4h1M236.2 30.0h1M230.1 24.5h1M237.9 31.0h1M248.7 31.7h1M247.0 21.4h1M235.7 33.8h1M237.3 27.0h1M225.0 29.5h1M242.8 29.7h1M222.8 20.3h1M231.6 27.9h1M241.3 24.2h1M250.6 20.3h1M233.7 22.7h1M228.6 32.1h1M213.6 26.1h1M228.4 28.9h1M219.1 34.0h1M236.9 37.3h1M242.2 36.7h1M238.9 25.3h1M241.7 36.8h1M237.4 32.7h1M234.5 38.2h1M245.0 27.4h1M232.3 32.2h1M226.6 25.0h1M255.1 28.2h1M256.1 31.1h1M247.0 21.3h1M221.0 26.3h1M232.2 29.8h1M246.2 25.7h1M257.1 32.5h1M226.7 26.9h1M240.9 28.9h1M233.7 27.0h1M230.9 32.4h1M258.1 37.2h1M243.6 27.7h1M232.0 30.5h1M227.9 25.5h1M249.8 25.5h1M241.1 26.6h1M220.4 22.6h1M222.1 24.9h1M230.9 27.8h1M235.3 25.2h1M249.5 31.9h1M239.0 27.5h1M225.1 35.4h1M217.4 24.3h1M243.0 28.5h1M251.2 17.2h1M253.8 30.9h1M238.8 36.4h1M255.2 19.6h1M240.7 27.3h1M245.3 25.8h1M229.5 18.7h1M248.0 30.7h1M242.3 27.5h1M242.9 24.3h1M245.7 23.5h1M228.0 24.6h1M222.4 29.6h1M223.5 36.3h1M241.7 22.4h1M249.1 25.7h1M218.0 14.8h1M221.5 23.9h1M226.3 31.3h1M229.9 16.8h1M239.6 29.9h1M241.8 26.3h1M228.7 25.7h1M243.6 30.8h1M238.0 36.5h1M250.8 35.9h1M240.7 34.1h1M256.2 31.3h1M223.2 26.0h1M242.8 25.4h1M229.4 26.8h1M228.7 20.3h1M236.6 34.8h1M221.4 31.5h1M240.5 25.2h1M238.8 25.7h1M229.5 26.6h1M232.6 30.5h1M234.7 32.3h1M242.2 29.0h1M236.5 32.6h1M250.6 20.8h1M225.7 30.0h1M232.8 24.2h1M236.6 27.1h1M227.0 24.6h1M244.8 36.2h1M249.5 28.5h1M220.4 30.0h1M216.1 28.8h1M230.1 32.2h1M248.4 28.4h1M235.3 20.6h1M226.6 22.0h1M221.6 25.6h1M223.3 16.7h1M234.2 30.3h1M224.0 20.5h1M246.2 23.8h1M230.5 31.2h1M226.8 21.5h1M226.1 21.0h1M235.2 20.8h1M228.1 21.1h1M235.9 25.1h1M245.3 28.2h1M245.5 24.4h1M227.7 20.1h1M233.1 19.1h1M240.0 26.5h1M239.2 33.2h1M248.8 26.1h1M222.6 22.2h1M251.3 27.5h1M225.6 17.7h1M239.3 23.6h1M240.5 27.4h1M244.9 33.9h1M234.8 29.1h1M241.0 32.7h1M245.3 30.7h1M255.4 17.5h1M244.6 21.0h1M254.0 23.1h1M233.2 31.0h1M246.1 23.0h1M248.5 28.1h1M238.1 15.2h1M240.3 29.2h1M226.3 34.4h1M227.1 25.5h1M248.3 14.9h1M229.2 25.3h1M243.2 25.1h1M239.1 21.8h1M235.7 30.0h1M225.5 30.4h1M239.9 26.0h1M231.2 23.8h1M212.9 30.4h1M228.9 31.9h1M235.1 39.0h1M234.9 27.0h1M235.8 30.4h1M243.4 33.8h1M248.1 36.3h1M249.2 34.9h1M241.8 28.0h1M258.8 31.6h1M240.4 23.4h1M212.8 24.7h1M235.4 24.4h1M243.5 27.3h1M225.7 31.3h1M234.5 29.4h1M261.2 23.4h1M239.4 28.3h1M222.0 26.4h1M221.8 24.0h1M244.9 29.2h1M247.7 25.6h1M218.5 29.3h1M218.6 29.1h1M229.9 28.4h1M214.2 26.8h1M235.8 26.1h1M221.1 27.1h1M243.0 23.4h1M230.7 32.4h1M227.7 32.1h1M221.3 28.9h1M218.7 15.9h1M242.4 30.1h1M238.1 35.4h1M261.4 15.9h1M241.4 24.2h1M231.4 26.8h1M237.0 15.6h1M250.7 26.4h1M238.2 33.1h1M223.5 29.6h1M228.2 31.9h1M232.7 30.1h1M236.1 26.2h1M248.5 29.6h1M212.9 23.9h1M260.0 30.0h1M232.9 19.2h1M237.7 25.9h1M237.1 29.5h1M244.7 26.2h1M249.8 29.7h1M218.7 28.9h1M237.3 23.4h1M236.3 26.1h1M238.9 19.2h1M226.9 35.7h1M233.3 27.7h1M222.2 34.8h1M226.5 22.3h1M232.9 32.1h1M237.3 29.5h1M248.5 30.5h1M236.3 31.9h1M247.5 33.7h1M231.9 24.9h1M245.6 34.8h1M236.7 25.9h1M248.4 27.2h1M237.6 31.3h1M248.8 22.8h1M232.4 28.6h1M227.1 36.2h1M256.8 24.6h1M233.2 34.2h1M225.4 25.8h1M256.8 22.9h1M238.9 25.2h1M247.5 20.8h1M234.9 30.2h1M217.9 33.3h1M239.7 21.9h1M249.2 34.5h1M242.0 30.7h1M243.7 30.0h1M247.2 28.0h1M258.0 28.2h1M225.3 27.6h1M237.4 21.9h1M236.3 23.2h1M224.1 28.6h1M220.7 29.8h1M248.3 31.0h1M221.1 30.5h1M233.8 21.5h1M244.1 22.7h1M224.3 29.9h1M250.5 27.7h1M251.1 31.7h1M242.0 26.4h1M226.3 25.2h1M239.2 23.4h1M230.9 23.7h1M227.0 24.5h1M240.2 35.0h1M243.7 32.5h1M218.9 31.6h1M252.5 25.0h1M227.9 29.3h1M228.4 35.9h1M252.7 25.3h1M234.5 25.4h1M239.9 17.1h1M213.7 28.3h1M240.6 31.0h1M231.1 26.1h1M224.5 35.2h1M230.6 23.5h1M213.8 28.5h1M235.0 31.7h1M248.6 28.1h1M236.0 35.7h1M248.5 32.0h1M235.4 25.9h1M222.9 27.1h1M239.0 28.9h1M257.1 23.3h1M249.3 19.0h1M222.6 30.3h1M222.6 23.4h1M224.8 22.4h1M237.0 26.9h1M237.3 24.9h1M248.7 25.6h1M222.3 25.3h1M231.0 37.4h1M255.2 31.3h1M233.1 24.9h1M237.0 33.0h1M223.5 38.8h1M242.7 31.9h1M235.8 28.2h1M243.6 26.3h1M236.9 25.3h1M240.0 31.1h1M213.7 33.2h1M256.5 24.1h1M229.3 21.8h1M244.3 26.7h1M231.5 24.9h1M240.3 20.5h1M238.4 21.4h1M254.3 26.6h1M234.8 29.9h1M212.9 34.6h1M222.0 20.3h1M256.4 26.4h1M248.2 14.9h1M213.1 31.8h1M250.0 30.0h1M230.4 25.5h1M212.8 27.5h1M231.4 25.3h1M234.6 25.8h1M232.1 29.7h1M225.8 29.9h1M252.3 23.4h1M242.7 23.9h1M242.3 25.1h1M235.5 18.2h1M242.5 28.1h1M213.1 25.1h1M246.0 28.7h1M229.3 33.1h1M226.0 28.8h1M224.5 19.4h1M236.8 31.7h1M228.1 26.0h1M243.6 29.4h1M236.0 30.1h1M247.2 28.2h1M231.6 35.9h1M230.5 21.5h1M243.4 21.4h1M223.9 36.3h1M232.1 28.3h1M241.8 30.5h1M235.6 24.8h1M240.3 26.7h1M216.2 15.7h1M249.4 33.0h1M235.0 44.8h1M256.5 41.6h1M238.5 36.1h1M213.8 43.1h1M219.2 43.1h1M250.8 36.1h1M239.6 35.7h1M232.4 40.6h1M231.2 39.7h1M244.3 37.5h1M244.3 45.4h1M258.8 47.2h1M226.9 34.4h1M238.0 31.5h1M228.8 37.9h1M234.3 36.8h1M225.6 31.0h1M233.8 43.3h1M244.3 37.6h1M240.3 36.6h1M217.0 43.7h1M221.0 35.7h1M261.4 34.4h1M249.2 36.4h1M234.8 40.1h1M223.4 42.7h1M253.9 35.9h1M235.0 46.8h1M230.4 37.6h1M243.4 44.1h1M246.4 39.6h1M223.0 36.1h1M217.5 33.9h1M235.3 35.9h1M220.3 38.1h1M240.9 40.3h1M230.9 34.9h1M231.1 33.9h1M230.3 36.5h1M244.1 45.1h1M245.5 39.8h1M235.2 41.1h1M237.9 43.5h1M238.1 32.3h1M255.0 44.8h1M220.9 38.6h1M235.9 43.2h1M231.0 38.1h1M229.4 40.4h1M253.6 30.7h1M223.2 37.0h1M244.6 40.4h1M247.3 39.2h1M234.7 44.5h1M230.1 38.3h1M217.1 33.5h1M235.2 38.8h1M236.5 42.3h1M212.7 47.2h1M233.6 44.2h1M233.1 39.1h1M242.4 40.4h1M236.9 39.3h1M222.7 33.0h1M225.8 36.1h1M235.6 35.5h1M216.7 35.3h1M245.4 43.1h1M254.1 33.3h1M255.8 30.2h1M245.2 35.2h1M238.9 34.5h1M239.5 67.8h1M241.9 63.3h1M261.7 81.1h1M250.3 67.4h1M241.1 79.4h1M239.0 64.8h1M248.6 62.0h1M256.7 59.2h1M260.4 76.3h1M250.8 74.7h1M256.9 68.5h1M251.9 80.5h1M257.9 74.3h1M245.5 71.8h1M239.9 75.2h1M259.6 68.2h1M250.0 63.4h1M246.9 71.2h1M257.5 71.4h1M248.1 69.6h1M255.4 75.1h1M258.6 65.5h1M251.7 67.5h1M246.7 63.7h1M246.5 68.8h1M250.0 63.6h1M250.7 68.8h1M250.3 62.5h1M248.3 71.6h1M241.9 65.0h1M283.8 21.0h1M277.8 20.6h1M279.4 27.1h1M264.9 25.1h1M281.0 25.5h1M280.6 27.2h1M283.3 22.9h1M316.0 73.3h1M314.9 81.5h1M319.8 76.0h1M329.2 78.3h1M325.7 71.8h1M317.6 73.3h1M332.1 70.3h1M325.8 81.8h1M316.7 77.7h1M308.1 82.3h1M309.0 78.2h1M331.3 70.5h1M310.3 82.6h1M317.6 81.0h1M317.9 83.6h1M334.2 70.7h1M326.4 64.2h1M321.9 83.0h1M314.0 77.6h1M328.2 73.8h1M340.7 66.7h1M319.1 73.1h1M329.9 72.7h1M317.0 73.4h1M318.4 66.2h1M320.3 74.4h1M336.3 78.9h1M329.3 72.0h1M332.8 84.7h1M330.2 76.7h1M316.3 71.8h1M303.7 79.1h1M315.9 64.9h1M342.2 66.1h1M324.1 79.1h1M327.6 79.4h1M316.0 76.8h1M321.9 86.0h1M331.6 85.1h1M311.8 76.4h1M326.0 76.3h1M325.6 81.0h1M322.7 76.0h1M319.5 72.3h1M321.0 75.3h1M323.2 80.6h1M336.3 82.8h1M324.9 73.5h1M336.1 83.0h1M331.8 85.8h1M338.9 85.6h1M308.7 75.9h1M318.9 66.7h1M306.3 78.1h1M315.0 76.2h1M316.9 75.7h1M334.7 82.9h1M305.9 68.6h1M312.6 81.5h1M329.0 84.2h1M309.3 68.0h1M339.9 69.8h1M328.8 84.5h1M317.4 79.9h1M317.7 82.2h1M327.9 72.2h1M318.4 76.6h1M315.5 80.2h1M335.0 70.8h1M318.9 77.1h1M321.0 73.2h1M320.0 65.7h1M340.9 70.6h1M325.8 87.3h1M325.2 86.6h1M318.0 68.5h1M336.8 71.6h1M337.6 65.6h1M314.0 73.4h1M320.2 79.6h1M334.0 78.8h1M330.7 76.4h1M330.3 69.4h1M327.0 68.8h1M326.6 66.9h1M318.3 70.3h1M337.4 77.9h1M331.8 77.4h1M332.5 75.9h1M323.4 76.3h1M332.4 67.3h1M311.4 83.2h1M326.2 77.3h1M325.0 82.2h1M320.0 74.2h1M334.9 77.8h1M323.4 63.1h1M328.8 70.2h1M317.6 84.3h1M337.7 66.1h1M338.2 89.9h1M304.7 75.2h1M326.4 65.7h1M333.6 76.4h1M319.9 85.8h1M344.7 83.7h1M319.6 82.0h1M322.6 79.2h1M336.0 66.0h1M320.2 73.0h1M319.3 79.4h1M319.2 82.9h1M302.6 76.3h1M316.9 74.3h1M329.8 72.2h1M310.2 71.7h1M322.4 78.8h1M327.2 82.0h1M322.4 71.2h1M322.6 84.7h1M339.4 77.7h1M320.3 72.9h1M330.6 73.7h1M341.5 71.5h1M324.6 88.5h1M319.8 70.4h1M333.7 78.7h1M326.0 69.2h1M324.9 78.8h1M332.3 74.2h1M311.6 72.6h1M296.8 77.7h1M328.5 76.0h1M326.0 61.5h1M326.6 73.7h1M319.1 70.1h1M306.6 88.5h1M320.4 67.9h1M312.4 82.5h1M327.4 71.8h1M332.7 67.7h1M337.4 80.2h1M327.4 82.2h1M319.9 81.6h1M334.9 79.3h1M311.1 88.4h1M332.5 77.8h1M315.7 80.7h1M313.3 77.0h1M341.8 78.4h1M313.9 83.5h1M325.3 72.1h1M329.7 74.6h1M333.2 67.5h1M304.5 66.1h1M321.9 88.6h1M341.8 75.6h1M329.4 74.8h1M326.9 67.8h1M317.2 67.4h1M316.2 86.3h1M323.5 90.8h1M326.4 84.2h1M327.9 75.2h1M318.6 86.3h1M318.5 84.4h1M325.4 77.7h1M322.6 71.8h1M301.5 73.4h1M324.2 72.3h1M320.1 81.1h1M319.1 88.7h1M325.8 64.9h1M319.0 89.0h1M325.6 81.8h1M320.4 86.5h1M336.3 72.5h1M313.1 80.4h1M313.1 92.1h1M311.5 88.4h1M322.0 74.5h1M317.1 71.8h1M308.4 74.8h1M318.9 71.6h1M320.1 79.0h1M322.1 72.0h1M310.6 78.0h1M314.9 86.2h1M337.2 80.6h1M326.7 76.1h1M324.6 82.6h1M320.8 90.9h1M330.2 83.4h1M324.7 77.2h1M328.4 92.5h1M314.9 85.8h1M329.6 70.1h1M329.0 78.8h1M324.7 73.8h1M334.6 80.8h1M324.7 68.0h1M330.9 76.3h1M334.4 69.3h1M327.8 73.7h1M334.9 77.3h1M337.3 67.3h1M321.9 77.1h1M315.6 78.5h1M319.3 77.4h1M315.0 67.2h1M315.7 74.0h1M328.4 79.8h1M317.3 85.2h1M322.0 73.9h1M338.6 79.3h1M324.6 71.6h1M325.1 73.0h1M327.1 75.1h1M333.5 71.9h1M332.7 79.0h1M333.4 63.1h1M307.3 73.4h1M313.4 76.2h1M321.3 73.8h1M338.0 77.3h1M312.5 81.8h1M321.8 76.0h1M323.5 76.3h1M339.7 80.4h1M318.1 82.5h1M325.8 77.4h1M329.5 64.8h1M325.6 70.2h1M326.9 78.3h1M314.3 80.1h1M319.0 85.4h1M326.8 63.7h1M309.9 80.5h1M328.0 71.2h1M317.0 75.8h1M329.1 82.7h1M332.9 72.0h1M339.8 79.2h1M318.4 70.6h1M319.7 91.0h1M330.9 78.1h1M338.4 76.7h1M325.3 76.4h1M335.4 75.7h1M320.1 65.6h1M326.2 79.7h1M321.9 64.5h1M334.6 67.1h1M327.3 80.0h1M307.5 72.5h1M321.1 77.0h1M322.2 87.1h1M328.8 67.9h1M323.8 76.3h1M316.5 69.5h1M325.3 89.0h1M338.2 70.0h1M332.0 75.7h1M335.9 70.6h1M320.4 73.8h1M320.2 80.8h1M327.8 82.4h1M319.4 75.5h1M329.8 82.4h1M322.2 79.9h1M321.4 83.8h1M329.0 76.2h1M326.7 80.3h1M332.3 77.0h1M313.8 63.4h1M316.6 75.6h1M324.5 71.1h1M311.6 83.2h1M307.2 78.0h1M301.4 75.9h1M333.2 80.5h1M338.2 75.4h1M328.0 71.6h1M333.8 75.4h1M310.0 77.7h1M312.5 85.9h1M323.7 74.8h1M310.9 66.3h1M333.3 75.6h1M336.2 84.1h1M321.2 65.7h1M312.3 80.7h1M329.3 80.6h1M331.7 64.0h1M323.7 84.0h1M327.3 79.5h1M323.4 87.5h1M334.4 62.8h1M323.1 74.6h1M332.7 69.2h1M325.5 73.3h1M309.5 72.7h1M317.3 80.6h1M337.8 77.2h1M316.5 77.7h1M309.0 81.8h1M321.5 81.3h1M342.2 69.1h1M333.9 65.8h1M313.0 64.2h1M319.4 67.1h1M321.7 73.9h1M313.0 83.7h1M321.2 79.2h1M320.1 73.1h1M319.1 72.4h1M333.7 73.9h1M331.1 84.9h1M321.5 78.5h1M327.8 73.5h1M325.3 76.7h1M321.6 79.0h1M318.2 70.9h1M323.4 76.9h1M324.6 75.2h1M310.4 74.2h1M328.2 72.2h1M318.7 72.9h1M313.3 80.3h1M329.3 87.4h1M329.0 63.4h1M333.9 77.9h1M339.2 75.2h1M327.1 71.9h1M321.3 68.4h1M329.2 81.1h1M319.7 77.3h1M323.2 74.6h1M298.7 77.0h1M310.9 61.1h1M333.0 75.3h1M323.6 83.0h1M320.1 69.4h1M320.4 81.2h1M327.7 72.3h1M330.9 74.1h1M309.0 79.4h1M323.8 74.8h1M337.2 68.9h1M321.7 73.1h1M320.1 67.3h1M329.7 72.8h1M330.2 62.2h1M321.2 73.1h1M318.2 74.0h1M304.5 90.4h1M334.5 68.9h1M330.3 75.8h1M335.3 71.7h1M324.8 87.2h1M329.8 75.7h1M316.1 78.4h1M309.6 84.5h1M318.4 62.3h1M325.4 76.2h1M322.3 66.7h1M325.1 77.2h1M309.2 67.2h1M323.7 79.4h1M323.5 69.7h1M312.6 80.7h1M327.9 81.8h1M322.0 69.9h1M316.6 76.9h1M325.5 75.5h1M323.5 81.1h1M329.6 78.2h1M311.8 64.4h1M329.3 85.7h1M323.8 68.0h1M327.1 61.2h1M321.0 71.7h1M303.1 63.6h1M330.2 70.3h1M322.1 73.8h1M325.5 66.4h1M314.6 83.2h1M318.1 66.2h1M339.1 81.3h1M339.1 74.5h1M331.9 71.9h1M317.3 83.8h1M331.4 69.7h1M335.2 72.2h1M320.6 67.3h1M330.3 81.7h1M327.8 80.2h1M313.3 78.1h1M330.7 70.4h1M317.5 79.8h1M333.4 76.2h1M321.1 81.7h1M316.6 65.1h1M315.8 78.1h1M331.3 73.0h1M326.7 67.9h1M322.9 71.7h1M324.1 92.0h1M319.2 82.7h1M327.3 65.4h1M321.2 73.4h1M306.2 70.0h1M325.2 65.7h1M316.6 79.5h1M326.5 70.1h1M339.4 70.8h1M307.5 81.9h1M323.1 74.6h1M291.7 78.9h1M299.8 74.8h1M281.2 77.2h1M294.2 74.0h1M286.9 73.3h1M288.9 84.4h1M293.7 73.4h1M299.7 78.8h1M284.3 71.7h1M298.4 72.7h1M292.0 74.2h1M293.8 73.1h1M282.9 71.8h1M283.3 75.0h1M286.0 71.8h1M280.7 71.0h1M286.6 72.7h1M286.1 81.7h1M294.4 72.6h1M275.2 73.2h1M296.1 75.7h1M290.2 69.1h1M286.8 78.9h1M289.8 79.1h1M285.4 67.0h1M290.2 78.0h1M289.6 75.6h1M300.7 66.2h1M290.6 72.5h1M290.5 76.1h1M283.6 66.4h1M285.8 70.3h1M299.6 70.9h1M292.0 73.9h1M294.4 75.6h1M290.7 76.4h1M287.8 73.2h1M294.0 67.5h1M289.4 74.9h1M293.9 87.2h1M290.5 78.1h1M291.1 75.0h1M241.0 71.9h1M232.6 55.8h1M256.4 81.0h1M243.6 58.4h1M221.9 60.0h1M237.3 69.5h1M259.6 83.5h1M256.3 78.9h1M231.2 63.7h1M248.4 64.4h1M231.6 63.7h1M237.8 66.2h1M241.3 64.9h1M220.3 64.3h1M256.4 81.7h1M230.8 55.2h1M242.6 68.1h1M226.6 65.4h1M237.2 74.2h1M236.6 54.2h1M255.6 70.4h1M245.4 61.9h1M239.7 76.0h1M232.7 58.9h1M257.5 67.9h1M223.4 58.0h1M256.8 78.9h1M231.0 57.9h1M249.2 69.3h1M235.8 59.6h1M221.0 55.0h1M232.4 64.1h1M212.6 55.9h1M237.0 81.2h1M234.6 64.3h1M284.7 75.5h1M274.1 78.4h1M286.4 76.8h1M284.1 77.2h1M271.3 79.3h1M289.7 77.7h1M273.5 78.0h1M277.9 79.6h1M286.1 77.4h1M267.8 76.5h1M254.5 26.7h1M322.8 60.4h1M278.9 80.0h1M242.5 46.5h1M225.3 82.8h1M269.8 15.3h1M333.0 75.1h1M266.9 82.8h1M309.1 76.1h1M327.9 69.5h1M290.0 79.1h1M267.2 83.6h1M239.1 89.7h1M226.5 82.1h1M228.8 51.6h1M224.7 61.4h1M231.2 164.5h1M244.0 159.5h1M225.3 163.9h1M226.7 153.6h1M238.4 155.1h1M217.0 159.8h1M230.9 158.0h1M223.4 155.9h1M249.5 152.3h1M251.1 161.5h1M225.1 161.5h1M247.5 151.5h1M227.3 168.2h1M247.4 154.3h1M247.8 159.9h1M222.6 161.5h1M236.2 151.2h1M239.9 148.0h1M228.4 157.0h1M232.4 157.5h1M240.8 158.7h1M234.7 166.8h1M249.6 147.9h1M240.5 166.1h1M236.9 158.9h1M236.7 164.0h1M257.5 142.9h1M246.2 153.2h1M222.7 167.3h1M231.9 160.7h1M236.6 156.7h1M235.9 150.9h1M230.2 157.1h1M220.6 163.0h1M225.6 152.2h1M254.2 149.1h1M227.0 168.0h1M231.2 159.7h1M232.1 157.7h1M248.2 145.2h1M237.6 156.4h1M225.7 157.5h1M247.3 160.6h1M240.0 161.8h1M226.0 171.3h1M232.9 150.0h1M217.9 168.6h1M252.7 157.8h1M239.0 157.4h1M236.0 148.8h1M257.7 150.5h1M226.9 170.3h1M235.4 148.1h1M220.3 161.4h1M247.5 150.4h1M236.1 159.3h1M236.7 153.3h1M229.6 154.6h1M224.3 155.0h1M235.1 158.4h1M245.6 148.1h1M223.9 167.5h1M222.7 164.4h1M233.2 165.1h1M252.7 157.4h1M228.7 147.2h1M252.2 156.3h1M230.6 165.2h1M233.4 157.1h1M227.6 168.0h1M230.8 155.5h1M241.8 158.2h1M243.4 155.6h1M241.6 157.3h1M226.3 158.6h1M234.4 159.7h1M247.9 147.4h1M234.7 162.8h1M225.4 164.2h1M223.5 165.6h1M216.8 159.2h1M246.7 157.9h1M239.7 157.6h1M240.7 163.2h1M236.9 158.2h1M229.9 157.9h1M231.2 163.5h1M235.3 158.6h1M249.1 163.8h1M238.5 161.0h1M224.6 156.0h1M229.0 167.3h1M218.5 165.3h1M233.0 161.2h1M231.8 159.5h1M231.3 155.3h1M228.8 165.0h1M228.9 158.8h1M235.3 160.1h1M235.4 155.7h1M237.0 165.1h1M243.3 150.3h1M221.0 164.5h1M236.9 158.3h1M230.4 167.8h1M235.8 150.1h1M241.2 158.7h1M232.6 160.1h1M246.5 153.8h1M243.6 149.9h1M223.1 155.5h1M240.4 140.8h1M257.0 145.4h1M221.6 160.0h1M233.8 157.5h1M237.9 156.5h1M251.4 145.9h1M235.6 157.8h1M225.5 162.2h1M240.5 156.6h1M236.8 155.0h1M247.7 152.7h1M242.6 157.2h1M222.9 162.2h1M232.7 154.8h1M239.1 160.6h1M225.1 151.3h1M244.5 152.0h1M225.2 170.2h1M230.1 160.9h1M240.1 157.9h1M216.8 167.2h1M236.4 164.3h1M244.8 163.3h1M240.7 152.0h1M240.4 151.6h1M247.3 153.7h1M236.5 154.6h1M233.6 157.8h1M245.9 154.5h1M217.6 166.5h1M231.3 158.4h1M230.9 158.8h1M226.0 161.4h1M232.6 158.7h1M227.3 160.4h1M235.3 157.1h1M225.3 163.1h1M229.1 154.8h1M224.3 157.6h1M223.4 155.9h1M228.3 159.2h1M229.8 159.3h1M224.6 161.6h1M235.8 152.5h1M237.7 155.7h1M245.4 152.8h1M231.8 157.7h1M222.8 164.2h1M244.0 158.2h1M217.9 171.1h1M218.0 155.5h1M217.0 170.1h1M236.9 165.2h1M228.3 169.2h1M248.9 153.6h1M251.1 150.1h1M235.5 160.7h1M218.1 162.6h1M246.9 161.2h1M243.7 159.1h1M240.6 159.9h1M248.9 150.1h1M227.8 154.9h1M238.0 163.4h1M233.7 162.4h1M217.7 166.2h1M233.0 154.4h1M224.5 157.4h1M246.4 159.6h1M231.6 153.7h1M228.4 151.6h1M217.1 167.0h1M227.2 157.3h1M236.3 164.2h1M240.6 158.3h1M219.8 153.8h1M244.2 161.6h1M228.4 158.1h1M238.8 148.0h1M242.5 155.3h1M229.2 156.4h1M235.7 163.2h1M222.0 164.4h1M243.7 151.2h1M257.0 159.8h1M238.8 154.2h1M228.3 156.8h1M218.1 154.2h1M245.9 149.5h1M245.6 155.7h1M238.9 154.6h1M223.2 164.3h1M229.1 161.3h1M223.7 156.2h1M226.8 157.1h1M241.9 152.1h1M236.3 155.0h1M230.9 159.9h1M236.8 144.5h1M251.6 160.4h1M228.0 159.1h1M229.9 162.3h1M242.3 160.0h1M231.7 160.8h1M228.0 158.7h1M233.3 160.1h1M239.3 146.6h1M239.4 160.1h1M246.9 153.6h1M237.5 162.4h1M236.2 154.5h1M241.0 154.0h1M244.9 159.2h1M241.4 157.2h1M232.0 163.8h1M246.4 154.9h1M251.6 163.5h1M221.8 160.9h1M240.0 151.4h1M220.0 156.6h1M218.5 160.8h1M240.2 151.1h1M233.9 162.9h1M234.5 162.5h1M234.4 164.7h1M218.7 157.4h1M248.8 152.2h1M229.6 152.3h1M238.0 153.4h1M228.3 160.6h1M239.3 167.3h1M233.9 168.2h1M219.6 161.3h1M224.6 161.8h1M255.0 159.8h1M222.9 163.6h1M239.7 163.0h1M217.3 164.6h1M239.6 156.2h1M234.7 161.2h1M233.3 157.5h1M238.0 150.5h1M233.9 164.1h1M231.7 157.6h1M248.1 159.7h1M228.3 161.0h1M235.2 159.4h1M239.7 150.0h1M226.1 156.6h1M230.4 163.1h1M239.4 155.1h1M220.1 164.9h1M245.3 157.1h1M232.6 158.8h1M246.4 148.8h1M250.3 145.1h1M234.7 156.9h1M232.0 159.1h1M234.5 156.5h1M238.9 154.2h1M250.2 151.0h1M235.8 169.4h1M231.1 168.5h1M251.3 148.8h1M233.5 165.8h1M232.7 156.9h1M246.1 156.2h1M229.8 155.7h1M234.8 159.5h1M232.3 161.3h1M237.5 154.2h1M233.8 163.8h1M233.2 160.7h1M226.9 158.4h1M245.0 148.8h1M229.6 155.1h1M225.0 156.7h1M231.1 165.4h1M242.1 151.6h1M249.5 153.7h1M219.8 161.8h1M240.1 165.8h1M234.2 163.8h1M233.6 166.7h1M223.9 162.6h1M229.3 158.6h1M256.6 154.0h1M221.4 161.9h1M231.7 160.8h1M228.9 162.1h1M234.2 164.9h1M227.6 155.3h1M243.7 159.3h1M239.3 153.5h1M229.7 155.1h1M219.9 169.0h1M231.2 160.3h1M244.3 160.0h1M230.7 156.6h1M246.7 155.9h1M225.7 161.2h1M246.5 155.6h1M227.1 165.3h1M231.6 159.3h1M239.0 155.9h1M230.5 162.6h1M234.6 155.6h1M222.2 152.2h1M248.4 146.5h1M247.0 155.6h1M218.4 161.9h1M234.0 160.4h1M236.8 155.7h1M232.6 160.1h1M218.1 160.9h1M238.8 155.2h1M246.6 153.1h1M224.4 166.4h1M232.1 160.1h1M229.8 157.2h1M245.3 155.0h1M232.3 158.7h1M247.9 149.4h1M220.0 156.3h1M231.5 163.5h1M237.1 157.3h1M241.9 159.4h1M239.9 154.8h1M242.8 156.7h1M242.2 161.1h1M243.6 163.5h1M225.2 162.8h1M238.2 159.0h1M252.7 154.3h1M228.9 151.1h1M275.7 154.1h1M282.4 164.3h1M264.2 142.0h1M292.0 147.9h1M271.1 138.2h1M268.8 148.6h1M285.3 153.4h1M291.5 159.9h1M284.5 209.1h1M258.0 215.7h1M274.3 217.9h1M281.3 214.4h1M273.5 214.0h1M254.7 212.2h1M254.7 202.9h1M260.2 203.9h1M290.6 208.6h1M254.8 212.2h1M254.6 204.2h1M249.2 210.6h1M295.2 211.3h1M293.5 210.1h1M266.1 206.6h1M264.5 199.4h1M284.8 217.7h1M256.1 206.7h1M245.9 199.5h1M290.3 206.2h1M259.0 204.5h1M273.5 210.2h1M259.7 203.8h1M269.4 203.0h1M280.2 214.0h1M251.0 210.2h1M280.0 205.2h1M269.1 202.1h1M264.0 207.7h1M263.6 205.0h1M246.8 212.9h1M266.7 202.2h1M255.5 207.6h1M277.2 209.8h1M275.6 206.4h1M295.8 204.4h1M251.2 204.9h1M250.3 209.9h1M282.5 209.4h1M244.5 208.0h1M289.3 216.5h1M275.5 205.2h1M281.5 214.0h1M268.9 206.6h1M243.5 210.7h1M288.3 214.3h1M257.8 202.3h1M277.5 199.1h1M293.1 212.8h1M265.1 207.1h1M290.5 209.5h1M255.6 201.6h1M257.0 199.5h1M273.1 196.4h1M283.8 208.5h1M285.9 210.6h1M281.9 214.2h1M251.1 205.4h1M285.5 209.1h1M272.3 206.3h1M260.6 203.3h1M251.0 212.5h1M295.3 208.6h1M287.3 210.7h1M277.3 206.4h1M274.3 206.9h1M267.1 199.9h1M286.9 212.0h1M260.9 216.5h1M287.9 207.2h1M263.8 205.1h1M265.3 206.2h1M247.3 202.9h1M288.5 209.8h1M270.4 205.3h1M290.0 214.3h1M257.0 204.9h1M277.4 216.0h1M285.0 204.3h1M247.7 209.9h1M295.1 203.1h1M271.6 195.3h1M273.1 205.6h1M287.5 199.9h1M289.2 212.1h1M291.4 203.2h1M269.7 208.8h1M245.1 200.8h1M249.3 220.4h1M249.0 205.9h1M293.4 213.1h1M263.6 213.1h1M250.3 205.8h1M289.0 205.3h1M288.6 198.6h1M284.5 209.1h1M256.6 203.4h1M294.7 218.0h1M249.7 202.5h1M291.1 210.4h1M293.7 215.4h1M245.0 209.7h1M247.4 207.1h1M273.7 211.0h1M282.8 213.5h1M249.3 202.3h1M244.5 206.0h1M244.5 206.2h1M261.5 201.5h1M274.6 212.5h1M264.9 198.9h1M254.8 208.7h1M260.8 195.8h1M291.7 205.3h1M268.6 209.0h1M253.4 208.6h1M255.3 210.2h1M276.7 201.7h1M285.5 206.3h1M273.3 211.1h1M281.0 210.9h1M282.9 204.4h1M293.8 206.8h1M271.6 217.2h1M261.8 205.1h1M250.6 201.5h1M294.9 207.2h1M275.0 206.7h1M275.9 211.5h1M251.5 212.4h1M262.7 207.0h1M246.9 204.2h1M244.0 207.1h1M262.8 200.9h1M264.7 205.2h1M290.9 216.4h1M246.5 201.4h1M257.7 206.4h1M283.8 204.3h1M293.8 200.2h1M293.0 211.3h1M281.7 211.4h1M284.7 209.0h1M244.7 209.6h1M265.2 207.4h1M275.2 205.2h1M256.3 200.3h1M262.7 200.9h1M243.4 199.2h1M284.4 204.2h1M269.1 204.0h1M280.8 208.4h1M257.8 202.9h1M291.3 213.6h1M281.5 192.5h1M259.4 191.0h1M246.8 212.5h1M260.5 205.9h1M248.3 209.9h1M280.4 212.9h1M271.5 212.4h1M264.0 210.3h1M262.4 201.6h1M263.6 208.2h1M280.5 207.2h1M250.7 208.2h1M247.0 201.7h1M256.9 205.7h1M279.9 216.5h1M272.7 212.3h1M285.7 207.3h1M266.8 204.4h1M265.9 199.7h1M253.2 205.8h1M275.5 212.6h1M262.5 206.9h1M267.4 213.1h1M271.1 217.1h1M261.4 210.7h1M284.4 211.0h1M296.4 199.9h1M267.7 207.0h1M255.7 206.7h1M291.8 195.4h1M252.6 206.2h1M250.1 191.5h1M275.4 199.2h1M244.7 199.6h1M261.0 213.5h1M248.2 201.1h1M289.7 203.2h1M256.6 206.7h1M286.9 215.4h1M262.7 207.6h1M255.4 200.4h1M254.3 202.3h1M283.2 212.4h1M285.7 217.4h1M295.1 201.7h1M289.1 199.8h1M293.7 212.0h1M260.5 198.6h1M286.7 203.9h1M286.2 212.9h1M249.2 203.4h1M291.7 204.1h1M253.3 201.7h1M291.4 202.7h1M260.4 201.3h1M272.3 208.6h1M257.3 204.5h1M289.2 197.2h1M276.7 204.0h1M258.4 198.0h1M276.4 197.4h1M278.4 209.9h1M266.1 204.0h1M258.0 196.5h1M259.6 200.0h1M257.7 202.5h1M261.2 200.4h1M256.6 196.6h1M250.5 194.3h1M255.6 196.1h1M259.0 196.7h1M258.0 194.8h1M253.6 200.7h1M262.6 192.5h1M255.6 202.4h1M260.9 192.7h1M296.2 212.4h1M315.7 207.5h1M323.7 214.1h1M329.1 205.7h1M309.4 217.3h1M310.5 202.0h1M311.8 201.1h1M333.9 215.0h1M322.0 202.3h1M313.5 206.7h1M331.2 213.4h1M323.7 220.8h1M318.9 211.3h1M311.8 209.0h1M303.7 204.2h1M307.6 205.9h1M314.8 209.9h1M308.9 217.9h1M328.3 192.5h1M315.0 217.8h1M307.5 218.2h1M312.9 201.9h1M320.6 215.9h1M307.6 225.4h1M299.8 215.5h1M317.3 207.8h1M304.4 207.8h1M299.4 219.4h1M324.2 209.7h1M311.0 208.2h1M312.1 204.6h1M308.1 201.3h1M307.1 209.9h1M308.1 197.4h1M309.3 219.9h1M313.5 194.4h1M308.8 201.7h1M308.7 208.4h1M317.3 211.1h1M311.8 223.1h1M319.0 205.2h1M299.8 210.4h1M299.3 220.9h1M305.6 217.4h1M309.5 197.7h1M316.7 225.7h1M300.7 216.4h1M309.0 209.0h1M325.3 202.7h1M311.6 207.5h1M316.9 210.3h1M282.2 206.2h1M318.6 220.3h1M330.4 205.9h1M300.0 209.7h1M321.5 203.4h1M316.5 207.1h1M339.9 208.1h1M307.1 207.2h1M299.4 194.7h1M302.8 204.9h1M313.4 214.8h1M298.9 203.6h1M308.5 194.5h1M320.1 208.8h1M313.9 218.3h1M314.3 208.9h1M303.6 195.7h1M326.9 213.6h1M313.8 208.8h1M325.2 212.3h1M319.1 225.6h1M337.6 210.2h1M295.4 203.8h1M311.3 200.3h1M299.6 202.3h1M302.9 227.8h1M319.5 209.8h1M308.6 210.2h1M295.3 223.3h1M317.8 200.4h1M295.7 204.3h1M314.3 202.3h1M324.7 211.1h1M311.7 218.4h1M304.2 205.5h1M331.1 204.1h1M316.7 211.8h1M290.4 198.9h1M317.6 217.6h1M317.3 218.6h1M324.7 207.1h1M339.2 198.6h1M298.3 204.2h1M324.3 200.6h1M317.1 201.0h1M299.7 202.6h1M324.1 202.6h1M323.8 206.1h1M315.3 216.7h1M315.6 223.3h1M308.6 214.2h1M303.4 213.1h1M327.4 194.2h1M314.1 202.8h1M301.4 198.1h1M317.8 196.6h1M303.6 203.7h1M325.7 208.3h1M329.5 214.8h1M308.2 219.1h1M300.1 208.8h1M297.1 211.3h1M316.2 209.6h1M302.0 200.2h1M308.8 206.2h1M307.4 216.6h1M335.4 201.7h1M328.4 206.1h1M302.0 216.2h1M311.5 216.4h1M298.2 211.0h1M325.9 202.7h1M321.6 194.6h1M299.4 208.3h1M331.8 199.6h1M301.0 207.3h1M301.2 215.7h1M337.0 199.8h1M341.6 207.8h1M320.3 226.7h1M328.2 194.9h1M335.0 206.4h1M316.7 204.9h1M333.7 207.1h1M308.6 204.5h1M325.3 211.8h1M299.2 205.1h1M315.1 227.7h1M297.5 214.1h1M315.9 197.0h1M324.4 211.5h1M308.7 220.7h1M325.3 213.4h1M301.8 212.5h1M285.8 205.6h1M305.4 216.2h1M332.5 208.6h1M301.5 200.9h1M313.4 216.1h1M330.2 207.6h1M328.0 204.5h1M322.6 210.4h1M287.5 212.6h1M320.7 200.4h1M299.4 207.2h1M314.5 218.3h1M327.6 222.7h1M292.6 207.2h1M292.2 206.3h1M320.1 212.4h1M311.8 204.3h1M294.8 206.2h1M327.4 193.0h1M308.1 203.7h1M318.8 219.0h1M300.2 200.0h1M320.1 209.6h1M305.9 199.7h1M329.4 203.9h1M303.2 205.2h1M310.8 209.3h1M323.3 210.4h1M315.0 211.1h1M314.8 207.6h1M326.0 220.5h1M316.6 214.5h1M290.5 213.1h1M309.2 221.2h1M316.1 224.0h1M322.8 206.8h1M335.7 226.6h1M316.3 214.5h1M330.4 207.8h1M322.3 215.4h1M329.9 209.7h1M307.6 205.6h1M311.9 203.7h1M286.4 201.3h1M309.7 208.0h1M308.2 205.5h1M324.0 205.6h1M329.2 218.2h1M318.9 204.3h1M281.4 206.2h1M338.7 204.2h1M302.3 218.2h1M318.4 205.6h1M315.9 221.4h1M320.5 218.3h1M312.7 213.1h1M305.9 215.1h1M323.2 213.0h1M324.9 210.1h1M299.3 196.3h1M331.8 205.6h1M309.6 203.9h1M313.4 213.6h1M322.9 216.4h1M337.4 203.4h1M317.5 204.8h1M307.8 199.2h1M306.5 204.8h1M307.0 200.3h1M308.4 201.0h1M322.9 201.2h1M310.9 207.0h1M302.5 210.2h1M309.7 216.2h1M297.4 211.0h1M326.6 196.8h1M303.0 206.7h1M310.9 205.4h1M313.6 228.4h1M323.0 202.5h1M330.5 203.4h1M308.8 205.4h1M332.8 206.6h1M293.9 208.7h1M310.6 207.7h1M311.0 220.4h1M325.1 203.0h1M322.0 218.1h1M337.6 216.3h1M306.8 210.9h1M328.6 209.9h1M294.7 212.9h1M312.9 199.4h1M302.2 215.1h1M342.5 213.4h1M308.3 201.2h1M289.9 212.4h1M311.0 216.8h1M323.6 204.5h1M309.6 224.2h1M308.9 206.0h1M311.3 204.7h1M308.0 216.9h1M335.7 212.4h1M317.4 206.7h1M302.9 203.0h1M311.2 212.0h1M318.7 204.8h1M299.7 199.4h1M297.4 199.6h1M329.2 215.4h1M297.1 197.4h1M317.7 204.1h1M315.9 200.0h1M300.2 195.3h1M325.2 212.0h1M320.9 210.0h1M295.2 192.7h1M310.3 196.1h1M313.3 202.5h1M306.6 196.7h1M312.6 205.3h1M311.9 202.8h1M322.9 207.1h1M321.0 207.0h1M317.4 195.0h1M310.1 212.3h1M314.0 204.3h1M314.4 205.2h1M315.7 192.8h1M295.3 203.6h1M318.5 213.5h1M309.8 193.1h1M318.5 203.9h1M282.4 210.1h1M307.3 202.4h1M297.3 210.0h1M312.0 212.9h1M325.7 201.3h1M310.6 208.9h1M301.4 205.6h1M301.5 204.2h1M305.8 191.4h1M326.7 200.8h1M325.4 216.3h1M303.3 200.4h1M299.5 206.6h1M301.3 215.2h1M318.6 206.3h1M324.4 213.2h1M324.8 196.0h1M321.9 199.8h1M335.0 215.6h1M319.7 201.9h1M318.5 211.3h1M317.6 210.3h1M324.3 209.3h1M313.7 201.9h1M295.7 218.3h1M337.0 210.2h1M318.1 223.5h1M311.3 206.5h1M314.0 205.7h1M320.6 205.2h1M318.2 215.2h1M304.9 197.3h1M291.3 207.1h1M306.7 208.9h1M297.9 190.6h1M304.9 197.3h1M305.1 200.0h1M304.9 207.9h1M284.2 197.7h1M320.0 209.8h1M302.7 219.6h1M304.4 200.5h1M328.8 198.2h1M318.5 198.6h1M313.7 212.6h1M311.1 208.6h1M296.8 217.4h1M309.1 204.2h1M326.2 205.4h1M315.5 200.3h1M299.5 202.7h1M329.9 194.9h1M304.1 221.9h1M326.6 206.1h1M304.8 200.8h1M311.0 192.2h1M328.5 213.8h1M301.6 206.7h1M312.4 205.3h1M329.9 200.0h1M315.7 218.7h1M307.9 217.1h1M317.1 213.2h1M329.3 225.8h1M304.7 206.0h1M332.2 213.8h1M311.2 222.4h1M313.1 218.7h1M314.3 212.3h1M338.2 206.1h1M328.7 208.1h1M326.2 202.7h1M296.6 203.7h1M314.3 209.6h1M304.9 201.2h1M311.4 204.3h1M315.3 207.7h1M325.9 205.7h1M326.0 217.9h1M320.1 199.3h1M313.1 201.2h1M308.7 212.0h1M305.2 203.3h1M303.5 204.8h1M314.8 199.2h1M298.8 213.3h1M306.8 211.7h1M315.3 213.6h1M327.8 204.4h1M300.1 207.9h1M325.3 198.1h1M305.1 203.1h1M315.9 213.6h1M318.4 195.4h1M308.1 217.0h1M316.5 197.2h1M309.7 204.4h1M299.8 208.1h1M303.2 214.2h1M293.1 205.5h1M316.3 197.1h1M317.2 208.2h1M315.4 199.8h1M310.4 213.8h1M321.9 218.9h1M317.8 210.8h1M311.4 220.0h1M305.2 206.3h1M317.3 202.9h1M305.6 200.5h1M310.2 220.9h1M334.2 214.4h1M311.1 208.3h1M315.6 220.3h1M330.1 207.5h1M297.3 206.3h1M318.1 203.6h1M322.9 213.0h1M303.7 205.6h1M304.5 205.6h1M310.6 204.0h1M313.5 208.3h1M308.6 210.5h1M322.7 221.0h1M306.3 204.7h1M325.4 208.6h1M319.3 204.3h1M302.6 194.6h1M296.1 197.7h1M304.0 214.8h1M303.4 203.1h1M303.5 226.1h1M288.8 214.4h1M300.8 204.4h1M322.9 224.0h1M305.8 211.4h1M319.0 209.6h1M332.5 210.8h1M312.0 202.9h1M314.9 194.7h1M327.1 202.2h1M321.0 204.8h1M295.3 220.2h1M334.7 219.6h1M309.7 204.6h1M326.7 213.4h1M301.8 215.8h1M315.9 215.1h1M325.8 201.5h1M293.7 200.6h1M305.5 214.7h1M309.6 210.4h1M309.9 211.6h1M320.3 207.3h1M308.9 217.7h1M293.9 201.6h1M329.8 210.6h1M328.6 213.7h1M319.6 207.7h1M316.7 202.2h1M297.6 214.7h1M323.1 217.8h1M332.2 213.6h1M301.9 208.1h1M327.9 199.3h1M306.6 219.7h1M328.4 202.6h1M313.6 213.8h1M323.7 214.3h1M313.6 208.9h1M289.7 204.0h1M301.5 210.5h1M327.0 198.3h1M328.8 204.8h1M300.3 204.3h1M334.5 209.7h1M318.3 225.3h1M304.2 209.7h1M304.2 219.1h1M318.3 212.9h1M326.8 207.4h1M310.7 205.5h1M301.9 213.1h1M336.2 217.5h1M302.3 200.9h1M316.2 210.2h1M334.3 207.8h1M317.0 201.7h1M317.2 206.8h1M289.3 205.0h1M318.4 199.4h1M319.8 219.0h1M332.8 192.0h1M339.3 216.3h1M308.8 211.8h1M293.3 206.2h1M296.0 212.3h1M316.1 199.6h1M299.4 217.1h1M314.8 200.8h1M334.6 213.2h1M314.3 208.8h1M306.1 214.1h1M304.5 219.6h1M313.2 224.3h1M322.0 210.4h1M314.4 209.3h1M293.9 207.7h1M306.2 208.4h1M327.2 210.7h1M334.5 194.8h1M319.0 214.0h1M292.3 207.2h1M335.2 201.4h1M312.8 216.4h1M311.2 199.7h1M288.0 217.0h1M298.4 213.5h1M324.2 207.3h1M327.2 210.8h1M288.4 209.3h1M323.8 204.1h1M323.1 204.7h1M320.0 196.9h1M327.7 201.1h1M304.1 212.2h1M339.0 207.1h1M317.5 215.0h1M300.7 204.1h1M280.7 212.7h1M303.1 202.0h1M314.4 216.3h1M317.7 205.3h1M306.3 217.0h1M317.1 219.4h1M320.0 204.7h1M311.8 204.3h1M284.4 207.8h1M317.6 207.4h1M310.2 212.7h1M284.4 200.9h1M299.5 196.2h1M300.5 206.0h1M305.8 215.6h1M312.2 215.7h1M312.4 205.3h1M332.4 206.7h1M292.3 196.6h1M342.8 204.3h1M304.1 204.3h1M312.8 207.2h1M313.1 221.5h1M321.9 210.6h1M325.5 197.2h1M312.5 216.0h1M308.8 210.3h1M293.0 210.1h1M326.2 210.4h1M321.0 207.1h1M319.5 215.9h1M328.4 202.5h1M316.0 194.7h1M310.5 186.5h1M297.5 217.0h1M303.8 215.9h1M314.5 206.0h1M308.4 205.0h1M334.6 201.7h1M317.1 211.4h1M316.6 210.5h1M310.1 203.8h1M311.6 200.1h1M309.1 204.1h1M289.7 203.4h1M317.7 209.4h1M311.2 205.5h1M288.7 206.1h1M314.2 209.0h1M307.5 197.5h1M330.7 218.4h1M324.7 202.9h1M311.2 218.8h1M330.2 192.1h1M319.0 213.3h1M321.4 203.3h1M313.4 217.5h1M320.0 216.3h1M305.9 197.7h1M303.3 204.2h1M327.7 202.5h1M324.4 211.3h1M309.8 206.6h1M301.5 205.0h1M319.9 210.2h1M306.7 213.2h1M311.1 218.0h1M317.8 205.1h1M313.0 220.3h1M321.8 204.3h1M294.3 207.9h1M321.2 207.9h1M320.1 203.2h1M306.3 212.7h1M301.7 207.0h1M311.1 198.2h1M302.7 209.2h1M304.4 219.5h1M307.3 210.5h1M315.9 215.3h1M331.7 199.2h1M300.5 201.3h1M296.9 209.2h1M298.0 211.5h1M305.0 205.4h1M310.6 207.0h1M312.6 208.8h1M339.9 204.1h1M304.7 215.6h1M311.3 203.0h1M311.0 205.0h1M309.3 212.6h1M334.4 209.3h1M301.7 211.9h1M323.3 221.5h1M344.9 210.0h1M313.7 213.2h1M303.1 196.9h1M304.8 212.9h1M331.3 215.4h1M307.3 215.6h1M314.3 209.9h1M288.5 211.6h1M288.8 205.7h1M330.3 223.3h1M336.6 216.5h1M306.2 211.3h1M307.0 212.4h1M311.4 205.4h1M294.7 206.7h1M333.5 197.0h1M321.4 210.6h1M318.6 212.3h1M305.4 223.9h1M313.6 198.3h1M304.6 199.2h1M314.6 213.2h1M313.1 214.8h1M326.2 196.8h1M299.5 210.2h1M319.3 208.5h1M318.6 215.1h1M303.1 214.8h1M301.7 206.8h1M290.4 203.8h1M312.1 218.7h1M285.3 211.9h1M325.5 207.9h1M319.9 207.5h1M320.3 202.8h1M308.6 217.3h1M320.9 210.8h1M314.8 200.7h1M318.6 218.8h1M300.0 213.2h1M302.9 207.7h1M306.4 210.5h1M336.6 214.1h1M313.8 197.3h1M308.2 198.5h1M314.8 203.3h1M305.0 202.8h1M307.0 209.8h1M320.7 211.5h1M298.1 208.7h1M334.7 208.1h1M326.6 212.9h1M288.2 211.5h1M309.1 209.0h1M314.7 214.9h1M321.2 201.4h1M308.5 208.7h1M305.1 218.3h1M312.6 201.7h1M318.0 201.2h1M316.1 215.4h1M308.0 203.8h1M306.7 204.2h1M303.4 210.2h1M302.6 197.4h1M312.4 218.0h1M323.9 206.9h1M306.4 211.5h1M309.6 204.2h1M326.4 215.3h1M320.6 199.6h1M307.7 204.8h1M309.7 203.7h1M316.5 203.5h1M316.2 215.1h1M317.9 210.2h1M334.9 200.8h1M320.4 206.6h1M307.8 207.5h1M314.2 216.6h1M315.5 205.5h1M309.1 214.2h1M325.3 199.4h1M305.7 201.5h1M326.2 210.6h1M313.1 207.0h1M302.3 221.2h1M310.4 219.0h1M305.8 226.0h1M314.4 227.1h1M313.4 223.8h1M312.0 219.2h1M307.7 217.7h1M326.3 217.6h1M323.9 221.6h1M319.3 227.9h1M310.2 225.9h1M303.8 222.5h1M313.7 218.4h1M313.7 218.4h1M301.9 221.8h1M334.3 219.4h1M303.6 222.3h1M314.6 220.4h1M333.9 229.1h1M334.3 223.0h1M306.8 222.8h1M330.5 224.6h1M316.6 230.6h1M307.6 220.4h1M315.3 214.4h1M303.8 223.1h1M312.3 218.8h1M320.2 214.4h1M318.7 214.2h1M304.8 227.7h1M304.3 214.1h1M305.4 223.4h1M319.8 224.1h1M314.9 220.9h1M329.9 219.4h1M314.3 215.9h1M311.5 216.3h1M310.3 214.0h1M316.5 229.2h1M320.6 220.6h1M310.6 223.2h1M311.5 217.1h1M337.8 220.0h1M324.9 230.4h1M321.4 227.0h1M333.3 223.2h1M334.5 226.2h1M319.5 227.7h1M325.9 221.6h1M314.9 217.1h1M309.9 222.2h1M306.8 225.3h1M329.7 226.6h1M331.3 216.0h1M332.6 220.9h1M299.3 215.1h1M326.7 226.0h1M305.1 217.4h1M319.9 225.7h1M309.0 221.0h1M334.4 219.6h1M319.5 228.5h1M306.8 216.4h1M315.6 215.3h1M324.7 230.4h1M310.6 222.7h1M303.9 218.4h1M325.4 226.1h1M312.9 222.7h1M314.7 226.0h1M300.6 226.4h1M307.2 224.2h1M312.2 218.6h1M314.8 225.0h1M310.5 229.3h1M330.3 225.5h1M304.0 217.0h1M310.5 222.0h1M294.2 219.7h1M326.6 223.3h1M315.3 226.2h1M315.3 219.7h1M305.4 213.9h1M330.6 218.3h1M310.8 212.3h1M316.2 225.1h1M309.3 219.7h1M317.3 215.8h1M296.2 224.1h1M310.8 220.1h1M258.6 178.7h1M260.3 147.7h1M310.5 198.2h1M276.8 152.8h1M306.8 210.8h1M330.5 211.2h1M252.8 189.2h1M276.8 157.9h1M315.2 159.0h1M295.1 152.4h1M229.5 181.7h1M232.0 147.0h1M259.1 212.0h1M338.8 219.9h1M345.9 179.6h1M341.6 187.7h1M310.9 180.6h1M333.5 189.3h1M323.5 175.4h1M338.2 176.2h1M231.0 366.2h1M242.2 368.8h1M233.8 355.3h1M235.4 365.8h1M224.9 361.9h1M233.6 355.5h1M237.9 367.0h1M217.3 357.9h1M228.9 360.1h1M238.8 351.7h1M247.5 352.0h1M225.0 371.4h1M219.9 360.7h1M240.7 364.3h1M227.8 355.2h1M216.8 366.7h1M253.1 374.0h1M220.5 357.1h1M238.5 350.6h1M220.2 370.2h1M231.4 360.4h1M231.9 368.8h1M224.3 372.1h1M227.5 372.7h1M227.4 363.1h1M237.2 359.1h1M218.7 359.0h1M217.5 348.6h1M224.4 375.2h1M220.3 355.5h1M230.8 357.8h1M237.5 365.9h1M231.6 363.3h1M225.2 364.2h1M239.1 364.3h1M229.0 370.9h1M234.9 360.0h1M219.5 370.9h1M223.5 372.5h1M241.2 348.7h1M245.4 367.9h1M225.7 367.5h1M235.4 367.7h1M229.1 365.1h1M237.6 359.8h1M220.3 368.1h1M253.6 359.4h1M218.0 374.2h1M229.8 375.7h1M230.3 357.4h1M228.2 363.6h1M252.5 370.4h1M228.9 351.3h1M217.6 359.9h1M228.2 362.5h1M237.2 361.4h1M245.9 366.6h1M232.4 363.5h1M235.2 359.1h1M239.3 355.7h1M232.8 363.5h1M250.8 352.9h1M219.2 372.3h1M233.7 366.0h1M231.0 354.6h1M224.6 373.6h1M247.4 361.6h1M240.6 357.1h1M231.7 373.1h1M226.9 361.3h1M233.3 350.2h1M224.5 366.1h1M235.0 351.0h1M224.5 363.3h1M235.1 363.3h1M237.5 362.1h1M216.8 361.7h1M223.4 360.0h1M234.8 362.7h1M231.7 352.5h1M227.4 348.3h1M225.3 369.9h1M249.1 343.4h1M234.6 357.0h1M228.0 363.4h1M229.6 372.4h1M219.5 360.6h1M238.4 370.3h1M224.4 354.0h1M229.6 369.7h1M218.3 362.8h1M239.5 369.9h1M255.5 365.7h1M250.2 365.2h1M243.3 361.3h1M217.7 362.5h1M239.0 353.1h1M226.7 365.4h1M223.8 372.1h1M231.3 365.9h1M244.4 367.5h1M229.7 358.0h1M224.4 377.6h1M225.5 365.4h1M220.0 354.5h1M223.9 364.8h1M241.9 359.2h1M227.9 366.1h1M232.9 355.9h1M234.4 372.6h1M235.4 359.8h1M234.8 361.8h1M219.7 362.4h1M242.1 369.8h1M239.9 364.3h1M225.7 368.0h1M240.1 358.6h1M238.7 357.4h1M243.4 355.9h1M223.8 361.4h1M235.8 357.9h1M238.6 364.3h1M231.1 357.7h1M223.0 350.7h1M226.9 360.5h1M225.2 370.5h1M228.9 365.1h1M222.6 365.9h1M235.0 367.9h1M223.7 357.3h1M219.5 371.4h1M243.4 359.7h1M232.0 352.4h1M216.8 361.9h1M242.9 360.2h1M219.0 362.8h1M241.1 368.0h1M228.1 361.8h1M225.4 362.9h1M217.8 360.6h1M245.5 367.7h1M230.3 359.7h1M223.4 353.6h1M239.9 365.4h1M245.5 365.2h1M222.5 366.0h1M235.1 367.1h1M243.5 365.4h1M219.4 369.2h1M249.2 359.7h1M216.7 370.2h1M219.7 372.4h1M228.9 373.9h1M227.2 376.9h1M229.8 359.1h1M218.1 359.7h1M223.3 366.9h1M236.4 377.2h1M232.8 362.4h1M229.0 368.2h1M228.0 366.6h1M241.0 360.8h1M222.5 362.4h1M232.5 361.1h1M218.0 356.5h1M240.4 358.0h1M233.1 365.7h1M233.5 366.3h1M222.9 367.8h1M228.8 369.6h1M232.0 365.5h1M225.0 367.6h1M234.7 354.1h1M219.2 358.4h1M229.4 372.7h1M218.8 357.3h1M253.6 359.7h1M233.9 364.5h1M230.0 361.3h1M246.5 374.8h1M236.5 349.2h1M231.8 369.7h1M239.2 358.3h1M229.5 373.6h1M226.3 364.9h1M227.6 364.4h1M230.9 351.8h1M236.7 361.0h1M236.0 371.7h1M224.7 350.3h1M224.3 353.2h1M231.1 363.6h1M220.2 366.9h1M222.4 355.8h1M230.0 364.4h1M238.2 365.0h1M217.4 361.0h1M231.7 366.3h1M221.0 345.9h1M235.4 360.5h1M225.4 369.1h1M224.9 355.2h1M231.0 361.7h1M239.9 377.2h1M217.9 367.5h1M245.1 363.3h1M230.7 367.7h1M238.1 361.8h1M233.7 355.8h1M229.1 367.8h1M258.6 376.8h1M231.8 372.1h1M227.7 368.1h1M219.3 367.5h1M225.4 360.0h1M226.6 350.7h1M218.2 373.3h1M240.8 357.4h1M228.7 346.1h1M228.3 369.7h1M217.1 368.6h1M226.7 373.7h1M237.8 358.4h1M239.4 368.7h1M230.9 376.7h1M240.1 359.7h1M226.4 358.7h1M239.4 364.4h1M226.1 357.8h1M226.1 349.9h1M239.9 359.0h1M223.7 364.4h1M237.8 375.6h1M229.4 362.3h1M230.3 361.2h1M222.7 362.8h1M232.3 369.7h1M243.0 368.4h1M225.2 368.3h1M217.3 357.6h1M227.0 362.0h1M236.5 365.6h1M218.7 365.3h1M216.9 357.0h1M232.2 360.9h1M240.1 367.6h1M227.4 356.4h1M227.4 361.9h1M234.2 353.3h1M216.6 358.1h1M233.0 358.0h1M246.6 361.1h1M237.8 353.9h1M246.8 373.1h1M235.8 360.7h1M231.8 358.4h1M234.9 365.1h1M230.5 371.5h1M235.5 359.3h1M226.1 373.9h1M219.0 376.6h1M245.3 360.8h1M246.7 357.7h1M232.3 357.7h1M228.0 369.4h1M232.6 366.4h1M246.1 364.5h1M227.0 366.2h1M239.9 373.6h1M222.8 367.3h1M233.6 369.0h1M240.2 357.8h1M221.2 362.4h1M225.9 352.1h1M236.4 363.0h1M245.4 365.8h1M233.1 371.6h1M242.0 368.2h1M235.1 363.3h1M219.8 358.4h1M234.7 346.5h1M225.8 356.7h1M226.1 365.3h1M222.4 366.6h1M251.0 359.7h1M222.5 356.6h1M232.2 372.8h1M217.1 367.5h1M225.2 353.3h1M243.2 364.5h1M245.8 351.8h1M229.0 376.8h1M235.1 365.9h1M239.7 373.3h1M234.1 359.2h1M229.0 368.0h1M217.1 357.7h1M239.2 355.5h1M227.6 377.1h1M235.9 364.2h1M222.8 369.4h1M224.3 349.2h1M222.6 354.8h1M237.5 365.3h1M227.2 354.3h1M250.5 364.4h1M222.3 370.6h1M221.9 353.3h1M217.3 366.5h1M236.1 353.5h1M234.1 350.0h1M232.4 367.7h1M246.3 361.5h1M251.7 367.2h1M224.8 363.1h1M230.5 366.1h1M232.7 357.8h1M243.5 362.1h1M234.1 357.3h1M250.6 373.3h1M236.6 368.6h1M239.2 363.4h1M222.5 362.8h1M227.6 364.9h1M236.3 375.1h1M239.6 370.8h1M242.9 371.3h1M233.4 367.3h1M235.1 363.4h1M228.7 374.4h1M216.8 372.0h1M229.1 371.8h1M220.9 361.5h1M223.3 354.0h1M224.9 365.9h1M218.8 356.4h1M231.4 358.1h1M229.8 358.1h1M225.6 363.5h1M237.4 350.5h1M224.2 357.7h1M217.2 378.7h1M240.8 355.9h1M225.7 352.7h1M247.0 366.7h1M217.3 374.1h1M246.8 351.1h1M221.8 371.8h1M243.3 369.2h1M224.4 362.0h1M242.1 340.6h1M226.4 374.4h1M232.9 368.4h1M228.9 369.2h1M218.0 377.6h1M217.7 363.8h1M218.3 351.7h1M236.2 369.7h1M229.1 349.7h1M218.0 360.5h1M228.9 359.2h1M229.6 364.5h1M231.9 354.7h1M229.2 368.8h1M225.3 372.6h1M224.1 363.5h1M220.1 365.8h1M232.0 356.7h1M222.4 362.4h1M234.9 369.8h1M242.7 368.8h1M247.8 358.6h1M217.2 364.7h1M239.8 362.2h1M240.1 359.9h1M232.4 349.9h1M224.5 367.0h1M237.2 369.8h1M230.4 358.8h1M242.3 359.3h1M236.1 374.4h1M227.4 375.0h1M222.4 356.2h1M245.2 353.4h1M228.3 370.1h1M233.7 368.7h1M232.1 378.0h1M229.8 368.9h1M233.9 351.9h1M243.6 364.0h1M229.3 365.4h1M254.1 360.0h1M244.7 359.1h1M216.7 360.9h1M218.1 373.0h1M223.3 365.9h1M239.4 356.1h1M240.0 364.2h1M236.4 361.4h1M225.0 368.5h1M236.0 375.9h1M245.2 373.4h1M228.2 368.7h1M232.8 367.3h1M240.8 369.3h1M219.9 362.5h1M226.7 368.3h1M233.9 373.3h1M235.6 374.0h1M239.8 364.8h1M237.6 368.3h1M249.8 363.9h1M239.1 366.5h1M227.0 361.5h1M217.1 361.5h1M221.7 366.7h1M218.0 364.7h1M248.2 361.0h1M231.5 353.7h1M223.6 349.8h1M241.2 367.7h1M225.7 356.6h1M216.8 359.5h1M226.3 365.4h1M234.8 348.5h1M242.4 358.0h1M217.3 352.8h1M222.3 369.3h1M218.7 362.6h1M224.6 361.5h1M217.3 370.3h1M218.5 346.6h1M228.1 367.5h1M233.5 372.7h1M233.2 356.4h1M236.4 357.7h1M234.5 371.2h1M217.5 363.4h1M221.5 361.8h1M234.4 364.9h1M219.1 362.3h1M230.2 357.8h1M239.4 369.0h1M222.1 358.5h1M235.8 374.1h1M229.7 363.0h1M244.2 352.5h1M238.9 368.2h1M220.2 365.4h1M228.5 372.4h1M229.9 371.6h1M241.8 359.3h1M227.0 357.9h1M231.5 360.6h1M233.0 366.4h1M217.3 358.8h1M232.0 366.2h1M239.8 365.9h1M219.8 366.3h1M232.0 360.7h1M217.6 373.6h1M217.3 359.8h1M229.0 361.4h1M219.5 355.7h1M221.5 370.7h1M227.7 362.6h1M236.8 370.7h1M239.1 372.6h1M219.1 361.1h1M219.4 361.0h1M229.2 363.4h1M232.6 371.3h1M239.3 372.7h1M234.0 367.4h1M255.0 369.5h1M231.8 356.5h1M237.3 359.6h1M225.2 370.3h1M220.6 356.5h1M232.7 366.4h1M221.6 353.3h1M224.6 355.3h1M222.6 363.2h1M220.0 355.5h1M238.5 368.8h1M231.6 351.8h1M244.3 375.6h1M229.1 364.4h1M224.5 358.9h1M232.1 370.3h1M220.8 367.4h1M224.7 365.4h1M233.2 358.8h1M247.0 357.8h1M217.4 365.9h1M223.1 352.9h1M228.1 357.9h1M245.4 374.3h1M231.8 376.5h1M219.7 365.8h1M246.4 373.1h1M236.5 376.7h1M226.1 369.9h1M243.5 362.9h1M226.5 352.2h1M219.4 363.0h1M232.3 371.1h1M220.9 368.3h1M245.1 357.7h1M234.9 366.8h1M216.6 374.3h1M234.7 353.4h1M229.2 375.5h1M234.5 370.1h1M235.5 374.0h1M235.7 360.3h1M232.4 377.7h1M216.6 363.5h1M228.8 367.8h1M234.8 364.4h1M232.8 353.6h1M224.9 362.5h1M228.0 375.8h1M239.9 359.6h1M250.6 364.5h1M239.0 371.0h1M217.6 368.5h1M218.6 366.5h1M231.5 362.2h1M217.4 371.5h1M224.8 360.0h1M239.7 358.6h1M242.7 357.1h1M224.6 361.7h1M228.9 363.2h1M251.8 359.0h1M216.9 362.6h1M217.8 354.5h1M235.9 365.3h1M237.6 378.6h1M227.6 368.5h1M217.8 368.5h1M248.6 356.0h1M226.3 374.5h1M230.2 356.8h1M241.4 372.2h1M239.5 349.9h1M232.1 365.2h1M230.2 370.1h1M234.2 366.9h1M251.9 349.0h1M225.9 376.1h1M218.1 367.0h1M235.2 353.1h1M239.4 360.6h1M224.8 365.3h1M232.4 373.8h1M233.8 359.8h1M238.0 365.5h1M249.7 367.0h1M229.8 373.1h1M217.8 371.7h1M235.5 349.2h1M244.7 364.2h1M221.6 359.0h1M234.6 365.5h1M218.3 352.7h1M238.2 355.2h1M226.4 356.3h1M218.4 362.5h1M223.6 363.7h1M228.9 367.2h1M231.3 356.8h1M232.2 368.1h1M224.3 369.3h1M237.0 313.9h1M239.1 316.7h1M245.4 303.9h1M233.4 310.2h1M231.8 319.6h1M224.2 316.9h1M245.5 306.5h1M242.9 317.2h1M230.3 316.6h1M233.7 304.2h1M263.5 324.4h1M236.0 321.2h1M237.6 307.8h1M241.6 309.4h1M240.3 310.1h1M236.0 307.5h1M231.3 305.6h1M226.9 314.7h1M276.3 304.5h1M235.9 319.8h1M258.3 307.3h1M236.9 314.1h1M238.2 318.7h1M234.5 301.5h1M250.0 302.0h1M236.2 310.6h1M240.5 309.3h1M232.3 314.4h1M248.6 314.9h1M225.1 306.3h1M242.2 309.1h1M223.0 313.1h1M237.5 316.1h1M246.5 316.4h1M250.1 296.9h1M241.7 318.7h1M243.8 304.9h1M236.3 301.7h1M247.5 298.1h1M229.4 308.8h1M247.8 304.9h1M231.8 303.3h1M248.3 318.1h1M245.9 307.5h1M244.3 310.6h1M245.2 305.6h1M239.4 312.3h1M240.9 303.7h1M240.3 317.4h1M233.3 308.3h1M251.8 319.9h1M259.5 320.0h1M238.7 297.4h1M228.4 298.0h1M237.5 309.0h1M222.7 318.0h1M249.4 305.7h1M217.7 319.8h1M243.0 320.0h1M246.0 307.8h1M238.6 311.7h1M246.1 320.1h1M231.3 306.2h1M230.1 297.2h1M240.6 311.2h1M232.7 308.2h1M227.9 300.2h1M236.4 306.5h1M229.3 311.7h1M256.2 312.7h1M224.8 305.4h1M250.2 309.2h1M240.1 303.6h1M234.3 310.3h1M239.4 307.0h1M227.7 318.9h1M233.5 322.8h1M230.2 307.8h1M255.0 321.4h1M238.7 310.2h1M263.7 299.7h1M236.2 310.6h1M234.2 324.7h1M248.4 296.3h1M245.4 313.0h1M220.1 310.0h1M235.4 302.0h1M238.4 314.0h1M237.6 315.7h1M234.1 298.4h1M228.3 316.7h1M259.1 306.4h1M243.9 312.5h1M242.6 312.0h1M234.7 316.5h1M225.9 302.8h1M231.1 319.1h1M232.6 308.1h1M240.8 296.7h1M247.5 309.5h1M234.6 317.3h1M247.4 313.4h1M248.4 311.6h1M233.3 307.2h1M240.4 306.8h1M232.7 306.2h1M235.6 308.3h1M223.9 306.7h1M236.9 306.1h1M236.7 314.9h1M237.2 315.2h1M250.8 296.5h1M230.3 313.5h1M232.3 317.4h1M246.0 311.6h1M228.9 309.0h1M228.6 310.7h1M237.2 314.4h1M218.9 302.8h1M237.1 303.1h1M241.2 298.6h1M239.9 322.0h1M225.0 303.1h1M234.9 325.9h1M249.5 313.0h1M240.6 306.2h1M242.4 319.9h1M225.2 300.3h1M239.1 307.6h1M240.6 311.3h1M229.6 308.8h1M250.8 310.5h1M235.6 299.8h1M231.3 313.6h1M226.2 304.6h1M238.5 312.1h1M256.8 315.9h1M239.1 317.7h1M225.5 308.4h1M233.6 301.1h1M233.0 300.1h1M223.1 316.1h1M230.9 317.3h1M243.7 303.2h1M229.5 309.6h1M227.9 307.9h1M239.8 318.8h1M240.3 302.9h1M238.8 302.1h1M256.9 312.5h1M245.0 318.3h1M235.6 309.3h1M229.4 309.2h1M227.3 312.3h1M244.0 310.8h1M249.5 309.3h1M234.1 306.0h1M239.5 311.0h1M234.8 307.9h1M240.5 317.0h1M225.7 304.8h1M249.2 319.5h1M228.2 303.1h1M234.6 313.0h1M263.2 303.2h1M287.3 305.5h1M277.0 305.8h1M295.6 302.2h1M288.9 304.1h1M245.4 338.4h1M228.7 333.5h1M237.5 336.8h1M245.0 342.2h1M223.4 333.1h1M237.4 333.6h1M235.6 330.7h1M229.8 329.7h1M245.7 345.7h1M230.1 338.7h1M247.3 337.0h1M236.6 335.0h1M236.8 338.7h1M246.9 346.2h1M228.5 332.6h1M244.7 331.9h1M234.7 337.8h1M235.1 336.6h1M227.9 337.7h1M225.3 335.9h1M246.4 336.4h1M217.0 333.9h1M247.2 333.1h1M229.1 326.6h1M246.9 335.4h1M240.1 330.0h1M241.2 336.3h1M231.9 336.0h1M237.8 335.3h1M233.7 334.7h1M230.4 343.1h1M250.3 341.2h1M259.8 347.7h1M241.6 339.3h1M238.2 339.8h1M235.4 341.8h1M236.5 337.1h1M247.0 343.4h1M231.9 344.0h1M225.7 334.5h1M255.6 336.0h1M249.3 332.6h1M239.4 342.4h1M232.2 332.8h1M233.0 341.8h1M230.2 337.2h1M251.5 341.3h1M246.7 347.2h1M253.1 342.4h1M235.5 336.5h1M222.5 334.1h1M225.5 337.3h1M224.2 334.4h1M239.0 348.1h1M230.1 330.0h1M239.4 340.6h1M233.0 330.6h1M220.6 327.0h1M244.9 338.7h1M240.5 350.6h1M239.3 348.1h1M233.3 335.0h1M249.0 335.7h1M242.0 337.0h1M241.4 339.8h1M230.4 334.1h1M247.0 331.8h1M240.6 332.7h1M245.5 326.9h1M243.0 332.0h1M239.4 353.9h1M244.6 341.0h1M230.9 335.5h1M238.3 332.9h1M236.0 330.8h1M236.1 337.7h1M231.0 343.9h1M227.9 330.1h1M235.8 336.4h1M293.3 361.3h1M242.8 350.9h1M332.9 368.2h1M301.1 319.5h1M275.4 293.2h1M271.3 377.1h1M303.5 292.1h1M270.6 333.3h1M252.4 343.8h1M253.8 343.0h1M274.0 327.3h1M390.3 365.0h1M400.9 364.0h1M397.5 372.5h1M406.4 358.1h1M414.5 364.9h1M397.4 368.1h1M399.6 370.0h1M401.0 373.0h1M406.0 361.1h1M397.2 368.9h1M397.3 363.4h1M405.1 366.5h1M382.2 370.1h1M380.3 350.7h1M410.6 359.5h1M410.0 371.1h1M394.1 376.3h1M388.4 368.1h1M396.9 364.6h1M408.3 358.8h1M392.9 365.3h1M392.0 364.0h1M390.1 363.6h1M383.8 362.7h1M403.8 361.4h1M395.3 373.3h1M412.3 374.7h1M390.5 361.9h1M381.1 374.3h1M389.3 357.8h1M387.4 365.7h1M404.5 377.1h1M394.4 362.8h1M391.3 377.6h1M381.8 377.7h1M400.4 362.6h1M391.0 372.1h1M411.9 366.1h1M405.5 372.5h1M398.0 364.6h1M397.1 376.5h1M381.3 373.6h1M390.3 358.4h1M395.4 365.6h1M401.9 360.2h1M413.6 372.8h1M408.1 359.0h1M403.7 363.6h1M396.2 356.9h1M404.3 361.4h1M399.3 370.7h1M391.5 378.1h1M386.0 376.5h1M403.1 370.5h1M392.3 366.6h1M394.4 370.1h1M409.5 366.5h1M386.3 370.2h1M418.3 376.7h1M403.3 366.1h1M399.3 369.4h1M387.3 377.9h1M399.1 363.5h1M401.6 359.7h1M405.9 366.7h1M380.7 368.1h1M396.2 369.7h1M392.4 365.5h1M383.9 377.1h1M386.8 377.1h1M401.3 370.4h1M393.5 368.7h1M394.9 367.5h1M410.1 374.8h1M399.6 372.2h1M380.9 370.1h1M397.0 357.1h1M385.6 368.7h1M388.1 362.7h1M391.0 376.0h1M380.5 366.7h1M399.1 378.0h1M387.8 359.3h1M385.7 361.1h1M415.5 362.2h1M388.7 360.3h1M406.2 365.7h1M399.4 369.8h1M391.9 362.2h1M403.2 368.8h1M393.3 368.2h1M386.6 366.6h1M385.2 360.6h1M402.5 378.5h1M395.1 362.0h1M410.0 378.5h1M381.4 368.2h1M398.2 350.5h1M401.1 377.3h1M407.5 364.1h1M399.2 370.2h1M409.0 360.8h1M411.4 362.0h1M401.4 365.0h1M392.7 358.7h1M380.4 361.6h1M398.1 367.3h1M409.6 370.6h1M388.5 373.7h1M398.5 372.7h1M411.3 365.8h1M405.7 374.9h1M380.2 371.4h1M390.0 369.4h1M388.4 369.7h1M393.2 377.0h1M380.5 364.4h1M395.5 357.5h1M392.0 374.6h1M389.2 359.9h1M401.7 356.3h1M397.8 370.8h1M394.9 364.9h1M401.8 362.2h1M398.5 362.2h1M384.3 367.7h1M396.1 368.1h1M395.6 364.0h1M399.0 365.0h1M417.9 369.4h1M391.9 373.5h1M404.8 362.8h1M384.1 372.1h1M385.5 367.1h1M393.8 373.1h1M380.5 375.7h1M405.2 378.0h1M415.5 363.9h1M383.0 362.2h1M385.0 366.5h1M399.4 362.9h1M398.5 359.5h1M380.3 376.5h1M400.0 365.5h1M380.3 377.6h1M389.5 358.2h1M399.2 355.2h1M401.6 358.8h1M397.6 364.8h1M408.8 349.2h1M389.8 372.1h1M400.6 369.5h1M395.8 367.1h1M410.6 366.0h1M399.2 367.4h1M391.3 368.1h1M394.7 353.8h1M400.7 370.5h1M405.1 367.5h1M389.1 364.3h1M397.5 369.3h1M401.4 363.5h1M387.9 370.0h1M380.3 372.5h1M380.7 357.0h1M408.3 366.2h1M387.9 367.4h1M396.9 368.0h1M407.2 366.1h1M406.5 359.0h1M387.2 370.5h1M383.0 366.5h1M383.4 366.9h1M407.0 368.8h1M408.3 370.6h1M399.9 357.0h1M380.3 375.6h1M403.8 377.4h1M408.4 370.5h1M419.4 361.6h1M395.0 359.2h1M381.3 378.1h1M380.7 375.7h1M406.1 373.1h1M402.6 368.5h1M417.0 358.4h1M395.5 366.4h1M389.5 369.2h1M402.5 374.6h1M405.8 369.9h1M402.6 369.2h1M406.3 365.5h1M388.8 353.7h1M403.5 371.9h1M403.8 375.9h1M382.5 365.2h1M415.1 353.7h1M389.0 370.1h1M399.8 374.3h1M424.4 362.9h1M396.5 369.9h1M414.6 364.5h1M401.2 365.5h1M390.4 368.3h1M392.8 358.0h1M388.9 363.4h1M392.0 364.9h1M389.9 364.1h1M401.5 377.4h1M422.0 355.3h1M380.8 373.3h1M381.5 366.6h1M388.2 368.5h1M414.9 365.3h1M401.9 362.4h1M400.3 375.4h1M392.4 376.9h1M399.9 366.7h1M383.0 368.7h1M387.5 371.4h1M380.4 368.0h1M402.1 365.4h1M389.7 373.3h1M386.0 367.1h1M407.7 374.1h1M411.0 363.7h1M399.9 371.0h1M401.0 378.7h1M405.8 377.1h1M399.6 376.8h1M385.5 377.2h1M397.1 373.5h1M399.5 359.7h1M403.7 360.7h1M405.0 377.3h1M418.7 363.1h1M399.4 378.0h1M389.3 369.4h1M399.2 367.3h1M399.2 372.2h1M381.0 373.3h1M390.1 370.8h1M388.3 358.2h1M411.9 365.8h1M384.9 374.0h1M411.3 371.4h1M389.7 369.7h1M387.3 377.1h1M400.4 362.4h1M416.7 361.3h1M385.3 370.0h1M393.1 378.1h1M381.7 367.8h1M409.2 374.1h1M411.7 372.4h1M388.9 375.9h1M391.8 378.8h1M380.7 378.3h1M395.1 375.0h1M398.7 366.9h1M386.1 372.3h1M408.8 368.8h1M402.2 378.3h1M410.9 367.4h1M381.5 367.1h1M401.8 377.5h1M380.5 377.5h1M388.7 360.3h1M389.4 364.1h1M403.9 358.1h1M391.5 377.9h1M406.5 366.5h1M391.2 365.9h1M399.9 373.2h1M388.5 359.6h1M397.6 368.8h1M391.1 378.5h1M400.2 372.2h1M394.3 373.1h1M404.3 366.1h1M408.7 366.9h1M391.3 378.2h1M390.5 376.9h1M384.0 362.9h1M395.2 356.6h1M406.2 363.1h1M405.9 370.6h1M392.5 362.6h1M395.5 366.8h1M391.1 366.5h1M413.0 367.6h1M400.0 357.8h1M389.1 371.6h1M381.5 368.2h1M405.0 373.9h1M380.4 373.8h1M387.2 371.2h1M387.9 360.4h1M388.4 365.2h1M395.3 370.8h1M398.3 369.3h1M403.1 374.3h1M396.1 360.8h1M389.8 355.9h1M391.7 359.9h1M387.5 377.6h1M392.8 358.2h1M403.5 364.7h1M403.3 373.2h1M401.4 366.3h1M394.0 367.6h1M387.5 377.0h1M393.3 370.5h1M398.5 357.4h1M403.0 357.0h1M384.6 357.0h1M393.8 363.8h1M392.8 363.0h1M413.7 358.3h1M397.0 366.4h1M384.0 364.0h1M407.6 376.3h1M396.3 377.4h1M393.4 362.4h1M388.9 367.4h1M407.9 366.2h1M402.2 352.5h1M386.3 371.2h1M387.5 378.5h1M401.9 370.1h1M391.4 368.2h1M404.6 370.8h1M391.4 377.7h1M392.5 364.6h1M404.1 358.7h1M390.8 370.6h1M401.3 364.7h1M401.5 365.6h1M393.7 367.3h1M391.6 370.4h1M381.1 374.4h1M381.7 370.3h1M381.3 376.7h1M401.1 363.4h1M405.1 358.3h1M397.0 368.4h1M406.7 364.2h1M381.9 358.8h1M399.7 361.1h1M417.4 357.7h1M392.5 358.4h1M402.0 358.1h1M390.2 364.1h1M380.7 375.0h1M389.7 366.3h1M402.6 366.7h1M385.9 372.2h1M399.2 364.4h1M390.5 354.0h1M395.5 365.7h1M396.1 369.2h1M393.7 374.7h1M380.5 377.7h1M389.1 364.6h1M388.1 372.1h1M404.5 363.7h1M390.7 348.3h1M403.5 361.8h1M402.7 371.4h1M388.6 369.6h1M389.0 358.2h1M405.1 375.1h1M397.9 369.8h1M394.9 377.7h1M389.0 371.0h1M402.6 373.7h1M400.1 368.6h1M404.8 367.5h1M393.2 350.7h1M388.1 372.5h1M406.8 364.8h1M388.8 371.1h1M400.0 374.0h1M383.2 375.1h1M415.8 362.0h1M387.8 354.5h1M385.5 353.7h1M404.5 368.9h1M384.8 360.3h1M383.1 370.2h1M386.1 377.4h1M398.9 359.8h1M396.7 356.3h1M389.3 371.1h1M380.2 375.7h1M382.8 370.5h1M399.2 360.7h1M402.8 374.5h1M380.8 374.3h1M410.0 355.8h1M380.6 377.0h1M398.9 371.4h1M408.8 362.0h1M391.3 360.4h1M392.5 365.6h1M381.1 366.1h1M386.4 376.8h1M411.7 365.5h1M401.2 359.5h1M386.7 369.0h1M385.8 373.2h1M391.2 378.2h1M394.3 369.4h1M405.7 375.4h1M403.9 365.6h1M387.0 371.4h1M406.0 376.3h1M381.7 369.5h1M389.3 372.0h1M403.5 377.1h1M397.4 369.0h1M394.5 372.4h1M381.9 369.8h1M389.4 373.2h1M389.7 371.5h1M395.9 367.8h1M391.3 368.3h1M397.0 360.4h1M408.6 366.1h1M382.0 364.9h1M396.1 370.2h1M398.9 367.3h1M398.8 360.2h1M387.8 369.7h1M405.6 377.1h1M397.8 370.4h1M390.9 364.7h1M406.4 366.3h1M415.0 364.9h1M418.2 376.1h1M380.9 360.6h1M398.3 356.0h1M387.9 377.7h1M400.7 361.5h1M413.9 358.7h1M384.0 361.5h1M384.6 377.5h1M401.1 362.7h1M393.9 364.6h1M397.0 364.5h1M398.1 377.7h1M400.9 365.3h1M405.6 362.4h1M397.0 362.7h1M408.3 362.9h1M396.6 360.8h1M398.4 374.1h1M398.1 370.8h1M387.8 367.9h1M407.0 377.8h1M394.6 371.7h1M404.0 372.3h1M403.0 364.9h1M387.7 368.6h1M399.1 369.1h1M389.9 369.5h1M387.9 377.3h1M380.4 364.6h1M381.8 370.5h1M384.1 375.7h1M380.9 376.4h1M380.8 377.4h1M380.5 377.7h1M400.8 368.8h1M400.3 378.5h1M392.2 364.6h1M412.6 375.5h1M390.9 363.8h1M389.5 363.9h1M395.6 366.2h1M402.0 356.6h1M387.2 373.7h1M386.9 367.8h1M395.6 369.7h1M387.6 369.5h1M414.6 372.6h1M391.6 370.5h1M399.3 368.4h1M380.5 373.9h1M403.6 364.0h1M409.7 364.7h1M408.5 361.1h1M400.3 366.3h1M382.2 375.3h1M403.6 375.6h1M396.5 368.8h1M390.6 365.4h1M390.0 362.0h1M412.8 348.1h1M403.4 367.5h1M403.4 373.3h1M404.6 369.2h1M409.9 365.9h1M404.6 367.0h1M394.1 365.4h1M394.8 364.8h1M393.5 359.1h1M380.3 366.1h1M394.3 364.3h1M381.3 377.0h1M413.2 355.7h1M396.4 364.6h1M390.1 365.0h1M380.8 367.8h1M402.0 373.6h1M402.3 378.5h1M390.6 367.9h1M399.4 360.0h1M397.9 354.4h1M401.0 363.6h1M382.8 360.2h1M382.5 369.4h1M394.8 368.3h1M396.4 369.8h1M404.3 375.3h1M385.1 361.6h1M410.5 361.8h1M411.8 375.2h1M413.1 368.9h1M385.6 357.2h1M388.3 378.6h1M398.0 367.6h1M410.4 364.5h1M386.8 367.0h1M384.1 368.6h1M394.6 378.3h1M383.7 365.9h1M413.9 361.8h1M391.1 370.0h1M386.2 378.7h1M423.0 346.2h1M403.4 373.4h1M404.0 369.5h1M381.8 364.9h1M398.1 362.6h1M398.8 371.6h1M401.9 375.4h1M389.4 360.3h1M392.7 374.5h1M401.5 376.4h1M394.2 378.0h1M380.6 365.8h1M385.4 371.0h1M399.2 367.1h1M395.2 359.2h1M393.7 367.6h1M390.2 365.7h1M389.4 373.8h1M396.3 363.3h1M397.1 355.9h1M409.3 353.5h1M390.7 377.6h1M418.5 365.7h1M398.8 356.4h1M397.1 370.5h1M399.9 374.2h1M417.8 350.0h1M454.2 347.0h1M444.9 346.1h1M426.9 351.7h1M413.6 352.2h1M409.3 364.2h1M476.2 325.3h1M465.7 336.2h1M445.5 340.9h1M452.0 355.2h1M442.2 348.4h1M431.7 343.5h1M443.5 355.3h1M453.6 327.6h1M464.0 327.6h1M423.9 339.1h1M426.2 348.4h1M446.5 345.6h1M421.8 344.1h1M444.5 329.7h1M470.1 334.1h1M404.2 350.5h1M413.1 354.0h1M439.7 344.7h1M467.9 337.4h1M441.6 345.7h1M444.0 341.7h1M413.0 366.4h1M409.0 350.8h1M460.0 298.6h1M408.9 355.2h1M440.9 328.8h1M460.2 341.6h1M458.2 342.3h1M470.8 323.9h1M428.4 348.1h1M433.4 360.7h1M461.4 315.9h1M446.3 348.8h1M432.9 354.2h1M471.4 330.3h1M446.2 337.1h1M422.4 351.1h1M449.8 340.7h1M442.2 336.8h1M459.7 340.5h1M468.4 318.7h1M403.8 349.8h1M453.6 341.9h1M476.3 342.9h1M474.6 323.4h1M477.7 342.3h1M478.8 337.3h1M415.5 354.4h1M434.1 334.4h1M431.0 341.2h1M468.0 323.7h1M423.2 358.5h1M413.9 344.9h1M416.3 355.9h1M412.3 351.1h1M411.8 352.0h1M438.0 319.2h1M419.4 347.2h1M409.6 351.8h1M462.6 322.9h1M416.4 349.4h1M432.6 352.2h1M422.5 343.6h1M440.1 350.3h1M405.1 356.0h1M473.5 332.5h1M469.5 322.7h1M406.4 351.5h1M474.6 330.0h1M421.7 353.2h1M478.0 341.4h1M466.2 332.7h1M449.6 338.6h1M431.5 338.1h1M408.7 353.0h1M476.6 348.2h1M436.0 339.2h1M463.7 325.7h1M426.6 357.1h1M468.5 334.6h1M464.4 347.8h1M478.1 338.9h1M474.0 343.3h1M420.4 354.3h1M433.4 355.4h1M463.9 320.0h1M418.8 344.0h1M443.2 345.9h1M470.6 324.0h1M465.3 307.1h1M474.3 324.4h1M408.6 349.7h1M428.0 356.5h1M437.1 355.6h1M422.6 341.0h1M474.6 338.8h1M420.7 346.8h1M452.6 329.9h1M427.3 333.6h1M415.5 351.2h1M432.5 340.0h1M409.2 350.8h1M471.1 323.8h1M447.2 357.5h1M410.3 357.9h1M427.2 351.9h1M426.5 345.0h1M416.3 354.7h1M448.2 359.1h1M466.8 342.3h1M464.6 340.9h1M478.9 342.3h1M416.4 354.5h1M477.1 344.4h1M454.4 332.4h1M449.5 338.9h1M460.1 348.3h1M456.2 343.4h1M424.0 358.8h1M417.7 356.8h1M417.4 355.9h1M434.5 353.3h1M413.2 351.7h1M455.5 336.3h1M406.6 355.1h1M416.1 344.0h1M424.1 347.9h1M458.4 347.6h1M438.9 341.8h1M455.6 324.2h1M405.4 347.2h1M433.1 353.4h1M448.9 347.9h1M455.2 341.9h1M434.7 324.3h1M444.0 329.0h1M435.3 326.7h1M423.3 338.4h1M388.6 349.0h1M396.5 324.1h1M439.9 348.4h1M420.4 313.2h1M430.8 341.3h1M390.1 323.5h1M393.6 348.1h1M384.6 343.9h1M382.5 354.5h1M401.8 354.9h1M390.3 343.7h1M401.1 350.3h1M406.8 341.0h1M396.5 351.4h1M408.4 353.8h1M397.2 339.3h1M391.5 339.4h1M382.4 349.1h1M463.3 326.3h1M449.2 322.1h1M471.6 321.9h1M473.9 313.6h1M494.9 320.7h1M484.4 322.3h1M485.0 313.2h1M468.7 322.7h1M500.5 326.4h1M487.8 325.0h1M486.7 325.3h1M487.4 317.1h1M484.3 306.0h1M497.2 337.4h1M473.4 317.3h1M466.4 329.4h1M462.7 311.9h1M481.8 322.4h1M459.2 319.7h1M471.0 301.6h1M454.7 314.7h1M500.1 318.1h1M460.9 311.2h1M467.8 309.2h1M469.6 318.0h1M477.1 332.8h1M488.9 327.1h1M483.3 316.8h1M488.6 318.6h1M478.6 319.8h1M476.5 311.1h1M488.2 308.0h1M467.9 320.1h1M487.3 319.7h1M464.9 311.2h1M481.5 314.8h1M480.9 329.3h1M473.2 334.1h1M480.8 315.3h1M446.6 326.4h1M473.0 336.4h1M472.5 323.0h1M498.0 331.7h1M488.2 323.5h1M455.4 317.2h1M475.5 324.6h1M476.8 322.0h1M489.6 333.7h1M480.2 317.6h1M495.3 311.2h1M464.4 321.4h1M462.0 325.9h1M461.2 330.3h1M470.4 335.6h1M465.2 324.2h1M480.7 328.5h1M490.4 332.6h1M488.9 325.8h1M495.9 314.4h1M464.1 319.9h1M483.5 331.8h1M491.7 315.3h1M486.1 329.7h1M472.5 314.2h1M447.9 302.0h1M453.2 351.7h1M419.8 354.5h1M433.7 293.8h1M408.3 320.6h1M380.0 350.2h1M481.8 325.3h1M407.7 319.7h1M420.8 305.2h1M396.7 303.6h1M481.1 293.4h1M387.4 307.7h1M465.3 337.8h1M419.4 337.0h1M435.4 359.9h1M446.3 335.4h1M424.8 307.9h1M424.8 364.4h1M497.0 320.9h1M417.4 323.1h1M430.1 78.4h1M443.1 71.1h1M425.8 77.3h1M448.4 73.5h1M444.5 73.1h1M440.8 75.0h1M431.9 78.8h1M441.6 75.2h1M424.1 76.2h1M440.1 70.7h1M437.9 75.8h1M445.7 69.6h1M450.8 70.8h1M432.9 73.5h1M432.3 73.5h1M438.9 77.5h1M437.2 73.4h1M440.3 76.9h1M430.1 78.4h1M432.5 72.7h1M426.6 74.8h1M449.8 73.2h1M435.7 75.0h1M448.0 73.9h1M445.6 73.2h1M441.8 72.2h1M454.1 71.4h1M443.3 71.4h1M451.4 71.8h1M448.6 67.9h1M441.5 73.1h1M444.6 73.8h1M420.6 77.2h1M439.0 75.0h1M443.0 70.7h1M445.6 70.9h1M437.2 70.4h1M444.8 70.5h1M437.8 73.2h1M435.5 77.7h1M444.4 69.5h1M455.3 70.2h1M442.2 68.4h1M438.6 73.5h1M435.2 75.3h1M436.0 71.5h1M455.6 67.9h1M451.3 70.2h1M440.0 72.7h1M437.6 74.5h1M424.5 77.0h1M443.4 73.6h1M445.5 72.8h1M420.5 77.4h1M439.6 75.7h1M421.9 78.5h1M440.7 70.9h1M447.1 73.3h1M429.0 76.0h1M446.1 69.6h1M442.0 72.1h1M427.6 75.4h1M435.5 72.8h1M433.2 71.4h1M436.5 75.8h1M432.4 76.6h1M434.1 73.0h1M436.8 73.9h1M432.8 76.5h1M457.0 74.6h1M445.9 71.2h1M429.4 67.8h1M430.2 74.9h1M456.0 69.8h1M439.2 71.9h1M437.3 77.0h1M430.0 79.2h1M428.5 69.8h1M436.6 70.9h1M449.3 70.2h1M435.0 73.9h1M453.6 66.5h1M443.6 77.4h1M432.9 76.8h1M439.7 71.2h1M444.2 71.3h1M437.8 71.4h1M438.4 71.5h1M449.9 73.2h1M449.5 74.5h1M439.4 73.7h1M437.0 72.3h1M440.8 71.4h1M434.6 72.0h1M439.4 72.7h1M439.4 73.9h1M446.5 64.6h1M443.7 73.4h1M432.3 73.3h1M438.7 69.8h1M443.6 73.5h1M437.5 71.2h1M439.4 77.4h1M443.5 70.2h1M426.3 75.6h1M444.3 72.3h1M438.6 74.3h1M438.0 75.0h1M446.4 68.2h1M442.9 69.8h1M433.6 74.4h1M444.3 76.7h1M448.7 67.9h1M421.5 74.1h1M433.5 75.5h1M443.0 67.8h1M433.0 77.9h1M438.2 71.7h1M442.7 74.2h1M445.5 68.2h1M441.3 75.8h1M449.3 74.2h1M430.6 77.0h1M455.0 68.3h1M449.3 73.7h1M438.1 71.9h1M434.4 76.7h1M420.5 80.5h1M443.4 74.6h1M454.5 68.7h1M440.1 74.7h1M444.0 69.9h1M436.6 74.1h1M442.9 70.8h1M428.6 79.2h1M433.2 76.2h1M430.4 69.6h1M453.9 70.5h1M433.5 74.7h1M443.6 68.4h1M434.1 73.7h1M451.8 72.9h1M462.6 64.1h1M452.9 69.0h1M423.7 64.5h1M425.1 68.7h1M415.2 79.3h1M427.6 76.5h1M419.3 69.5h1M425.1 64.8h1M449.5 69.4h1M447.2 72.6h1M457.0 65.9h1M426.9 159.2h1M437.2 156.2h1M415.9 162.4h1M421.7 156.7h1M449.5 150.9h1M443.6 154.8h1M424.0 160.7h1M433.8 157.9h1M419.0 160.1h1M449.1 155.7h1M429.1 157.1h1M448.5 153.8h1M430.0 156.4h1M428.1 159.1h1M443.4 153.3h1M414.8 159.7h1M424.2 155.1h1M420.6 158.0h1M435.7 155.2h1M422.5 158.2h1M414.2 161.8h1M424.2 155.0h1M421.1 154.6h1M430.2 156.7h1M422.0 158.2h1M413.1 160.8h1M414.4 158.6h1M437.2 155.1h1M425.2 159.8h1M431.6 156.0h1M436.3 153.8h1M444.7 152.2h1M424.3 158.2h1M438.3 154.2h1M448.1 154.8h1M444.7 155.8h1M421.5 160.2h1M416.9 157.7h1M431.0 155.2h1M441.7 154.8h1M433.9 155.6h1M436.4 155.1h1M448.8 153.9h1M424.6 156.3h1M443.0 153.7h1M435.8 152.7h1M422.6 158.1h1M429.5 158.4h1M420.3 160.2h1M423.1 160.7h1M445.7 152.8h1M431.6 157.3h1M431.9 155.3h1M415.1 158.8h1M421.8 157.9h1M428.8 157.1h1M432.6 158.0h1M440.9 151.3h1M414.1 160.4h1M416.4 160.3h1M434.1 157.1h1M413.8 159.4h1M433.7 157.5h1M434.0 155.8h1M427.7 158.9h1M429.8 157.3h1M449.8 153.2h1M443.1 156.3h1M421.6 157.1h1M444.2 155.7h1M432.8 156.4h1M430.3 158.1h1M447.1 152.2h1M418.5 163.5h1M446.1 157.2h1M440.4 155.4h1M436.4 156.6h1M414.9 160.2h1M426.0 156.6h1M430.2 157.1h1M414.7 159.9h1M445.7 153.6h1M436.1 157.8h1M439.7 155.1h1M432.0 157.1h1M437.0 156.6h1M447.9 158.1h1M420.2 159.1h1M416.1 160.2h1M417.7 161.4h1M421.3 156.2h1M435.0 154.1h1M424.5 155.6h1M431.4 158.6h1M445.2 154.8h1M422.1 154.0h1M445.9 153.0h1M431.1 158.9h1M416.6 159.2h1M420.3 158.8h1M438.2 156.2h1M447.9 151.4h1M432.7 156.8h1M449.2 151.2h1M431.2 158.8h1M422.6 159.6h1M413.5 162.8h1M415.9 160.6h1M425.3 160.6h1M441.6 156.0h1M434.8 153.0h1M421.0 159.6h1M429.7 155.7h1M416.1 159.6h1M442.3 152.4h1M440.7 155.1h1M413.1 161.1h1M423.8 158.2h1M429.4 160.8h1M434.1 153.8h1M442.9 153.9h1M434.5 157.1h1M444.8 158.7h1M437.6 155.4h1M415.1 161.8h1M418.8 158.7h1M427.4 159.5h1M449.6 148.0h1M439.8 151.0h1M447.0 150.0h1M439.3 229.0h1M451.3 219.8h1M445.8 229.9h1M447.9 217.3h1M444.4 221.9h1M452.9 231.0h1M451.4 226.5h1M440.4 222.9h1M430.2 241.9h1M460.6 225.5h1M454.2 227.7h1M455.1 220.6h1M449.0 223.6h1M441.9 224.5h1M448.3 216.3h1M442.2 236.9h1M442.6 226.2h1M423.2 239.0h1M445.7 225.0h1M456.8 220.1h1M452.1 221.8h1M437.4 228.1h1M448.9 219.9h1M441.5 231.9h1M450.1 228.1h1M443.5 237.8h1M441.9 221.3h1M438.8 224.9h1M427.7 226.6h1M448.3 221.2h1M438.3 226.3h1M453.0 222.7h1M442.2 227.5h1M442.8 232.2h1M447.5 228.3h1M446.6 225.5h1M443.0 233.5h1M434.7 232.2h1M437.4 223.1h1M449.6 219.0h1M445.5 215.3h1M441.5 219.7h1M446.4 228.5h1M461.3 225.3h1M443.4 222.6h1M436.4 234.8h1M455.0 227.6h1M437.7 220.7h1M434.9 229.7h1M457.5 226.4h1M443.7 215.0h1M444.7 219.1h1M449.7 227.1h1M435.5 232.7h1M441.2 224.2h1M445.0 230.7h1M452.4 224.7h1M435.9 230.7h1M441.0 224.2h1M442.5 226.2h1M429.5 229.1h1M446.2 224.7h1M442.3 217.8h1M442.0 216.2h1M441.4 228.6h1M448.1 214.7h1M441.4 234.9h1M445.4 226.9h1M433.1 234.1h1M454.5 222.1h1M439.2 233.2h1M440.2 218.1h1M438.4 229.1h1M450.5 233.7h1M443.4 232.3h1M435.8 221.5h1M443.1 218.5h1M445.6 214.6h1M429.6 222.9h1M440.0 228.3h1M439.6 228.2h1M446.5 225.8h1M431.7 229.8h1M446.6 228.0h1M446.2 215.8h1M428.3 218.1h1M464.6 225.3h1M448.9 219.9h1M448.7 225.6h1M443.2 235.8h1M444.2 227.8h1M442.2 232.6h1M426.8 229.3h1M443.5 216.2h1M448.6 226.4h1M448.8 227.7h1M444.8 217.6h1M441.5 221.1h1M442.7 223.9h1M442.9 212.2h1M446.8 229.2h1M430.5 237.7h1M464.0 223.1h1M450.6 225.7h1M441.4 215.2h1M443.9 229.4h1M439.0 229.9h1M447.4 234.6h1M439.1 233.0h1M456.8 224.1h1M458.5 216.5h1M438.1 230.0h1M453.8 221.8h1M452.4 213.9h1M455.4 224.6h1M446.3 223.4h1M447.8 225.4h1M434.7 237.5h1M445.6 228.7h1M447.9 220.2h1M461.5 225.3h1M455.2 219.7h1M430.4 236.8h1M432.6 229.3h1M448.0 220.2h1M449.5 219.8h1M444.0 218.6h1M437.3 226.3h1M438.1 226.5h1M444.8 231.0h1M447.5 216.2h1M428.4 223.0h1M432.0 232.3h1M451.2 232.4h1M437.3 232.9h1M463.2 233.7h1M442.1 229.1h1M441.1 220.4h1M456.9 226.9h1M434.2 231.9h1M433.2 224.3h1M445.2 219.1h1M443.5 217.6h1M449.6 228.3h1M440.3 220.3h1M433.3 217.9h1M419.7 234.0h1M428.9 230.8h1M441.7 236.1h1M437.3 224.2h1M441.9 228.4h1M456.9 217.0h1M444.7 220.2h1M445.4 226.2h1M443.7 230.1h1M440.3 226.6h1M448.5 215.8h1M452.9 216.3h1M448.8 227.0h1M442.3 223.2h1M452.1 221.5h1M455.8 217.6h1M456.1 226.2h1M455.4 221.9h1M447.4 226.5h1M440.6 225.5h1M434.8 239.6h1M443.8 226.9h1M446.2 226.7h1M443.8 232.1h1M446.4 229.9h1M456.4 216.4h1M430.1 230.9h1M429.8 230.1h1M439.3 221.5h1M439.7 229.6h1M451.0 224.2h1M443.3 221.6h1M445.4 229.4h1M439.9 235.6h1M438.0 228.1h1M424.3 228.6h1M455.1 225.3h1M432.9 227.2h1M443.8 227.0h1M444.0 221.4h1M447.4 221.6h1M456.3 217.0h1M448.6 223.0h1M438.3 225.3h1M445.4 223.9h1M445.0 219.4h1M438.0 222.8h1M441.1 228.9h1M439.7 222.4h1M435.8 217.8h1M442.2 236.5h1M434.9 241.8h1M433.8 220.5h1M442.2 230.9h1M440.9 229.1h1M428.4 231.7h1M426.2 231.4h1M435.0 219.6h1M449.8 226.8h1M444.8 223.7h1M440.8 226.7h1M448.3 233.8h1M433.0 237.9h1M440.1 230.1h1M462.3 211.5h1M447.1 231.1h1M437.0 223.2h1M438.2 229.5h1M446.7 221.3h1M455.7 218.1h1M433.3 231.7h1M435.8 228.4h1M457.1 209.4h1M441.3 221.7h1M434.7 229.0h1M432.6 220.9h1M432.4 227.5h1M455.9 229.8h1M444.8 226.7h1M440.7 220.0h1M439.0 230.5h1M432.6 226.5h1M442.9 220.7h1M431.1 234.5h1M456.8 221.6h1M443.3 225.1h1M439.4 231.1h1M445.3 222.0h1M449.0 223.3h1M459.3 230.6h1M437.2 239.5h1M444.7 224.3h1M437.3 221.9h1M428.2 233.2h1M432.3 223.3h1M444.3 224.1h1M433.6 232.6h1M447.8 219.0h1M450.0 221.2h1M437.8 222.4h1M445.4 223.5h1M437.8 224.6h1M420.9 222.7h1M442.8 230.9h1M446.4 225.2h1M444.5 220.7h1M443.4 236.6h1M443.6 225.5h1M432.0 218.8h1M461.8 220.1h1M448.2 229.8h1M435.3 229.5h1M445.1 232.3h1M452.7 222.8h1M447.0 225.9h1M440.2 219.4h1M428.2 231.0h1M449.1 229.8h1M447.1 226.1h1M449.6 217.6h1M441.5 239.4h1M442.1 217.9h1M449.5 220.4h1M448.0 219.8h1M445.3 222.7h1M447.7 218.3h1M441.8 236.3h1M437.1 228.4h1M436.9 240.9h1M436.1 231.4h1M445.2 223.5h1M450.8 232.1h1M442.1 226.9h1M440.8 227.4h1M441.1 223.6h1M439.6 219.2h1M438.2 226.7h1M447.0 222.1h1M443.9 221.6h1M441.3 225.0h1M441.5 227.9h1M445.5 226.9h1M446.5 223.5h1M448.5 224.5h1M457.5 216.9h1M438.7 230.3h1M448.3 228.3h1M446.6 224.5h1M445.0 216.8h1M446.8 219.7h1M446.6 227.2h1M432.0 230.9h1M468.0 211.9h1M441.9 229.3h1M435.5 235.8h1M438.8 229.9h1M449.3 230.0h1M442.8 219.0h1M430.1 215.3h1M452.3 214.0h1M443.4 226.7h1M446.6 230.8h1M425.8 226.9h1M443.0 226.2h1M440.8 224.5h1M443.3 232.7h1M446.9 237.0h1M445.4 221.7h1M439.0 228.9h1M439.2 229.5h1M450.3 233.1h1M451.2 230.1h1M448.6 230.7h1M453.6 229.5h1M448.3 220.8h1M442.0 226.8h1M442.7 219.5h1M443.9 225.3h1M443.0 228.3h1M436.0 231.9h1M466.2 213.9h1M448.5 230.6h1M448.2 233.7h1M438.2 225.5h1M452.3 224.7h1M449.3 226.8h1M431.1 226.7h1M441.0 229.9h1M430.0 224.0h1M460.2 212.8h1M444.9 233.3h1M459.7 219.3h1M447.4 233.8h1M467.9 220.1h1M450.1 226.2h1M428.1 217.9h1M436.1 221.0h1M464.4 229.5h1M447.8 216.0h1M440.4 219.6h1M448.8 220.3h1M465.0 221.2h1M477.0 216.5h1M446.6 231.5h1M448.3 230.8h1M453.9 210.2h1M459.6 229.5h1M453.1 214.6h1M449.8 220.1h1M430.8 216.3h1M441.5 229.2h1M425.1 234.6h1M444.6 235.5h1M443.2 220.3h1M445.3 220.5h1M441.3 235.1h1M453.1 221.7h1M470.6 218.8h1M437.9 217.9h1M447.6 215.3h1M453.9 229.1h1M441.0 218.1h1M437.6 236.9h1M449.4 226.3h1M462.6 231.7h1M452.7 234.5h1M456.2 225.5h1M455.5 212.7h1M452.9 221.1h1M450.4 213.2h1M440.3 233.4h1M470.9 229.0h1M450.2 225.4h1M450.9 224.0h1M458.0 227.5h1M449.9 234.0h1M453.0 212.5h1M443.0 224.9h1M434.4 227.8h1M470.2 210.5h1M455.9 232.8h1M462.0 207.9h1M440.0 217.9h1M455.1 226.7h1M446.2 211.5h1M460.1 210.1h1M449.9 216.0h1M472.2 218.4h1M451.7 242.7h1M456.2 224.1h1M434.5 229.2h1M432.0 214.2h1M462.2 216.3h1M444.1 230.4h1M439.0 218.5h1M460.1 217.4h1M450.5 228.8h1M425.5 218.9h1M470.3 192.9h1M464.3 216.2h1M467.1 210.4h1M435.9 227.8h1M451.3 219.7h1M462.3 211.0h1M450.6 210.7h1M441.3 216.1h1M463.4 230.6h1M449.2 220.9h1M472.5 212.8h1M447.5 224.1h1M441.0 232.6h1M441.5 231.4h1M474.0 215.8h1M420.2 230.3h1M450.5 226.7h1M457.3 216.8h1M438.6 228.9h1M466.5 214.4h1M448.7 211.4h1M429.8 228.3h1M436.6 234.2h1M447.9 202.5h1M459.8 230.4h1M438.9 213.6h1M456.9 221.7h1M459.9 232.5h1M464.5 228.6h1M470.4 214.1h1M462.5 216.3h1M441.2 223.4h1M463.3 239.6h1M416.4 240.9h1M454.7 234.3h1M465.4 225.9h1M439.2 224.1h1M458.1 210.4h1M449.1 235.5h1M458.2 218.5h1M463.2 217.7h1M464.7 202.4h1M445.2 209.1h1M445.1 227.6h1M449.1 214.6h1M446.6 230.8h1M439.1 230.8h1M473.3 205.7h1M457.6 230.0h1M441.4 237.5h1M452.3 219.3h1M470.0 218.9h1M445.9 222.5h1M447.0 223.1h1M437.8 223.5h1M460.5 206.8h1M455.3 238.0h1M448.4 240.3h1M430.8 225.2h1M437.9 215.5h1M450.4 230.1h1M435.8 218.6h1M454.8 213.2h1M441.7 223.0h1M467.1 214.9h1M450.5 224.2h1M463.4 211.2h1M454.0 226.9h1M453.6 233.1h1M447.8 211.9h1M440.1 229.0h1M449.3 228.5h1M441.6 220.8h1M467.6 204.0h1M427.0 226.1h1M455.8 233.2h1M443.5 212.6h1M435.9 229.6h1M450.8 227.9h1M442.1 217.4h1M475.7 207.8h1M456.3 215.7h1M454.9 214.1h1M444.5 224.2h1M438.2 212.6h1M435.9 217.8h1M436.2 227.2h1M423.3 224.4h1M422.2 234.1h1M413.0 243.5h1M428.9 235.5h1M430.1 236.0h1M412.1 242.9h1M409.6 242.8h1M429.3 236.0h1M427.6 231.5h1M431.6 234.2h1M434.9 235.5h1M415.1 241.9h1M429.7 231.3h1M416.1 239.6h1M423.2 231.7h1M430.9 236.2h1M428.3 233.3h1M413.8 240.3h1M419.2 237.8h1M432.5 233.9h1M426.4 236.4h1M416.0 239.0h1M429.9 237.1h1M433.1 234.6h1M421.7 235.7h1M411.0 243.1h1M408.2 234.7h1M424.5 233.0h1M411.4 241.7h1M422.4 239.5h1M424.4 237.0h1M412.0 240.8h1M418.6 236.9h1M412.4 240.9h1M430.7 233.3h1M410.9 243.1h1M429.1 242.4h1M418.1 223.2h1M424.5 222.0h1M431.7 218.4h1M420.5 215.9h1M415.8 234.7h1" stroke="#000" stroke-width="1" stroke-opacity="0.5"/>
<path d="M77.6 147.1h1M74.0 148.6h1M82.6 147.0h1M78.6 159.9h1M71.7 162.0h1M69.7 153.9h1M70.0 152.6h1M70.1 156.7h1M75.3 143.4h1M76.7 155.0h1M71.5 157.0h1M72.3 146.3h1M73.4 148.3h1M76.5 158.4h1M82.7 150.9h1M76.8 152.7h1M79.9 151.9h1M79.0 157.0h1M75.9 167.0h1M73.0 158.3h1M76.8 152.1h1M75.3 151.1h1M69.8 148.3h1M66.6 151.1h1M82.2 155.3h1M74.4 153.7h1M74.1 145.1h1M75.6 139.5h1M76.1 155.6h1M79.3 153.0h1M74.6 141.7h1M79.0 167.4h1M68.1 148.8h1M71.9 153.0h1M72.2 150.5h1M78.6 150.9h1M79.6 151.8h1M75.8 145.7h1M77.4 155.4h1M77.1 148.8h1M75.6 163.9h1M77.9 149.8h1M79.8 142.5h1M76.8 148.8h1M83.1 139.0h1M75.4 149.0h1M73.6 164.6h1M73.2 148.2h1M75.5 156.5h1M72.9 158.4h1M76.2 154.2h1M69.6 162.2h1M73.0 156.4h1M83.0 151.7h1M73.2 164.9h1M76.1 141.5h1M78.4 148.5h1M70.9 157.4h1M73.8 160.4h1M74.1 150.2h1M74.8 145.5h1M81.8 146.6h1M73.5 138.8h1M80.8 154.5h1M80.0 150.3h1M74.0 152.9h1M80.3 149.4h1M85.2 163.6h1M68.1 150.1h1M76.1 152.4h1M66.1 150.0h1M75.0 162.0h1M68.9 151.5h1M68.3 162.7h1M78.2 145.8h1M71.4 158.9h1M72.4 166.0h1M85.9 156.7h1M75.8 155.7h1M74.0 152.6h1M76.6 159.6h1M76.1 158.2h1M73.7 169.7h1M70.6 158.7h1M77.0 164.3h1M76.4 153.2h1M77.2 148.8h1M72.9 153.8h1M75.5 138.6h1M84.5 154.5h1M79.9 150.3h1M75.9 143.8h1M74.9 145.8h1M77.8 144.4h1M73.5 161.8h1M83.7 158.5h1M79.4 153.3h1M75.0 154.0h1M83.5 150.5h1M73.4 159.7h1M78.6 169.4h1M70.9 151.3h1M74.3 139.8h1M76.7 159.0h1M72.1 156.7h1M79.0 160.7h1M73.3 146.3h1M71.4 147.3h1M75.0 147.1h1M77.7 157.0h1M82.3 160.8h1M83.5 157.5h1M85.6 151.8h1M69.7 147.2h1M80.8 156.7h1M73.8 156.2h1M77.2 156.1h1M76.0 148.9h1M78.6 153.9h1M76.5 140.8h1M66.9 156.1h1M79.6 152.0h1M74.4 141.3h1M87.0 146.7h1M70.6 158.1h1M70.7 151.3h1M81.5 165.8h1M73.9 146.7h1M74.3 159.3h1M69.3 139.6h1M77.2 151.0h1M72.4 143.8h1M74.4 161.5h1M70.4 150.7h1M78.4 148.7h1M79.1 150.9h1M74.8 148.6h1M75.4 149.1h1M77.0 161.7h1M80.9 161.6h1M77.8 152.7h1M74.0 136.7h1M72.2 151.9h1M70.0 152.0h1M68.9 153.5h1M71.5 155.0h1M83.4 159.0h1M75.1 167.8h1M75.5 155.6h1M71.0 155.0h1M80.8 152.0h1M67.9 150.7h1M67.5 153.2h1M68.9 160.8h1M70.8 156.0h1M72.7 151.3h1M78.3 162.9h1M67.4 150.1h1M77.4 148.5h1M76.4 137.6h1M68.7 153.2h1M79.8 144.1h1M69.5 155.7h1M78.7 162.6h1M71.0 157.8h1M71.5 153.9h1M74.3 154.2h1M74.3 152.6h1M75.7 160.8h1M76.0 142.0h1M75.5 153.8h1M73.3 153.7h1M71.2 151.7h1M77.4 164.8h1M71.6 155.0h1M77.3 153.1h1M76.5 140.4h1M74.8 149.7h1M76.9 159.8h1M74.4 161.7h1M73.5 152.5h1M77.3 143.9h1M74.1 150.9h1M78.4 153.4h1M78.0 152.9h1M79.3 156.3h1M68.9 165.8h1M81.0 147.5h1M80.7 162.6h1M69.0 162.3h1M82.3 151.1h1M84.6 161.8h1M75.0 163.0h1M78.2 152.6h1M81.0 159.9h1M79.7 163.6h1M78.1 160.0h1M71.4 136.3h1M75.9 146.6h1M74.4 150.1h1M74.6 144.9h1M73.3 148.6h1M75.6 154.8h1M84.4 155.8h1M77.6 148.5h1M76.0 152.6h1M75.4 162.4h1M82.6 149.7h1M71.6 163.3h1M80.0 164.1h1M71.8 145.2h1M68.9 147.6h1M78.6 165.5h1M75.0 152.1h1M75.9 182.7h1M72.6 183.3h1M78.9 173.7h1M78.4 174.4h1M73.1 188.3h1M70.6 181.6h1M69.8 170.7h1M78.7 177.9h1M81.1 174.8h1M77.1 190.3h1M77.5 171.9h1M71.2 177.8h1M69.8 183.7h1M83.6 178.2h1M79.5 177.7h1M74.7 184.0h1M77.3 181.3h1M78.0 168.5h1M78.4 174.0h1M77.6 180.7h1M74.9 172.4h1M85.9 177.9h1M76.6 172.3h1M66.4 182.8h1M82.9 173.8h1M81.9 178.8h1M69.5 173.0h1M80.9 182.6h1M73.0 175.2h1M74.9 179.3h1M82.2 172.2h1M72.6 173.0h1M85.0 177.3h1M78.7 173.2h1M78.3 175.5h1M69.5 173.1h1M75.5 170.6h1M70.6 173.5h1M82.5 171.1h1M62.0 172.6h1M62.5 179.8h1M57.4 173.7h1M123.0 140.4h1M106.3 115.0h1M99.5 113.0h1M233.3 22.9h1M238.4 27.9h1M229.5 30.4h1M229.0 25.9h1M238.4 25.2h1M254.1 27.4h1M218.0 23.8h1M233.0 21.0h1M231.2 28.2h1M233.1 25.7h1M224.4 34.2h1M231.3 30.7h1M235.3 27.9h1M255.0 30.1h1M245.8 26.2h1M219.9 16.5h1M229.6 25.5h1M242.2 33.9h1M230.8 27.7h1M223.4 27.4h1M243.1 29.3h1M224.5 27.8h1M251.5 26.1h1M240.2 24.5h1M249.2 20.3h1M251.6 22.0h1M238.1 31.9h1M232.4 18.9h1M244.1 24.3h1M213.1 36.4h1M226.5 20.5h1M244.4 26.5h1M213.0 20.6h1M246.1 29.9h1M225.6 31.9h1M223.2 29.6h1M227.2 31.3h1M249.9 26.2h1M225.2 30.4h1M218.3 22.4h1M236.9 27.6h1M258.5 36.2h1M240.6 26.0h1M226.3 19.2h1M222.2 37.5h1M239.7 26.2h1M244.9 23.3h1M247.2 28.4h1M229.1 31.0h1M222.7 20.9h1M226.9 34.3h1M219.4 26.7h1M240.6 29.3h1M221.2 27.5h1M235.1 21.7h1M225.2 32.5h1M253.6 36.4h1M226.7 22.5h1M231.5 34.9h1M237.4 28.9h1M245.2 27.2h1M251.1 22.2h1M238.2 32.8h1M243.1 19.5h1M231.0 23.2h1M220.6 15.5h1M227.9 21.6h1M240.5 22.4h1M249.3 39.0h1M232.3 32.2h1M239.9 30.2h1M250.9 33.3h1M241.0 28.4h1M248.4 28.7h1M234.7 32.7h1M232.9 25.2h1M220.0 21.4h1M238.6 24.8h1M244.4 24.3h1M243.5 25.9h1M235.8 30.6h1M243.5 23.7h1M219.3 18.6h1M248.7 29.3h1M246.2 32.7h1M234.9 20.8h1M237.5 34.3h1M240.3 35.0h1M235.3 27.6h1M228.4 19.2h1M241.6 25.1h1M234.9 18.0h1M253.6 27.3h1M244.7 28.5h1M231.9 23.6h1M251.7 25.1h1M218.6 28.0h1M231.6 27.4h1M226.7 33.1h1M212.9 30.2h1M242.2 26.6h1M223.0 31.7h1M234.0 22.2h1M216.6 32.6h1M234.1 33.0h1M222.3 33.7h1M253.7 29.9h1M228.0 26.6h1M236.4 26.7h1M247.5 31.4h1M243.9 25.9h1M236.6 24.8h1M244.1 22.6h1M244.9 27.9h1M253.2 25.2h1M220.0 36.1h1M237.2 26.2h1M237.4 28.7h1M231.4 22.1h1M224.9 28.0h1M229.8 20.7h1M244.1 30.3h1M245.0 33.9h1M222.0 29.0h1M238.9 31.9h1M248.2 24.1h1M251.6 25.3h1M236.0 28.3h1M247.8 32.1h1M219.1 18.0h1M213.0 27.9h1M230.0 16.7h1M237.3 27.4h1M240.8 27.5h1M256.9 29.6h1M242.6 27.7h1M235.8 26.1h1M232.8 31.0h1M242.5 21.7h1M236.1 25.0h1M221.1 26.9h1M237.4 35.5h1M223.4 20.1h1M219.2 23.4h1M231.4 28.7h1M257.6 23.5h1M249.1 21.5h1M228.9 26.4h1M226.9 32.2h1M234.3 32.5h1M235.8 23.9h1M235.2 32.6h1M232.3 24.9h1M224.5 19.8h1M250.6 26.6h1M226.4 27.1h1M245.3 23.2h1M229.0 28.1h1M245.5 26.0h1M250.5 32.0h1M236.5 27.2h1M229.5 28.5h1M240.4 26.6h1M223.7 28.5h1M239.5 22.2h1M224.3 26.0h1M235.4 23.5h1M241.8 21.7h1M241.8 32.1h1M246.7 28.1h1M212.8 24.7h1M232.5 28.9h1M231.2 33.2h1M217.6 25.3h1M232.9 22.3h1M221.9 31.8h1M233.8 28.7h1M224.8 24.0h1M243.8 19.9h1M218.3 29.9h1M226.4 21.2h1M237.1 31.0h1M231.7 29.3h1M223.2 21.3h1M218.4 30.4h1M247.9 31.4h1M232.5 31.3h1M260.1 31.3h1M240.1 33.4h1M247.0 23.3h1M244.7 32.1h1M248.3 20.3h1M234.5 34.1h1M248.1 36.7h1M213.7 19.4h1M227.2 26.5h1M220.9 35.3h1M251.0 24.0h1M230.7 25.2h1M254.2 25.7h1M244.1 29.0h1M222.9 32.6h1M226.4 20.2h1M223.7 26.7h1M254.2 25.3h1M250.8 38.1h1M239.5 34.7h1M237.2 27.3h1M240.8 22.9h1M235.9 32.8h1M233.9 20.0h1M245.4 30.9h1M214.8 21.7h1M238.1 27.6h1M245.8 22.8h1M252.7 30.1h1M246.4 22.1h1M233.3 26.4h1M226.4 25.3h1M236.4 28.2h1M237.2 19.1h1M250.1 32.8h1M233.8 27.9h1M228.7 29.1h1M235.8 25.4h1M236.9 26.6h1M246.3 33.1h1M256.7 24.9h1M254.3 31.6h1M231.0 31.5h1M233.9 19.1h1M241.1 21.9h1M221.4 21.3h1M217.8 25.2h1M247.0 25.0h1M213.8 27.8h1M248.1 27.7h1M238.7 23.1h1M222.7 29.5h1M256.2 34.0h1M221.0 26.9h1M237.0 26.1h1M231.1 18.2h1M232.3 29.4h1M246.2 22.5h1M231.1 24.7h1M222.8 27.3h1M215.3 24.2h1M225.7 26.0h1M233.0 29.7h1M239.8 25.7h1M243.3 29.2h1M222.4 24.9h1M232.8 26.4h1M232.2 30.7h1M213.9 35.0h1M253.3 28.8h1M233.3 27.3h1M235.3 27.0h1M245.7 34.4h1M239.4 22.3h1M256.8 30.3h1M239.2 28.5h1M238.5 20.1h1M227.6 20.2h1M236.1 26.2h1M246.8 27.1h1M259.4 32.5h1M241.5 28.8h1M227.0 21.3h1M226.6 22.6h1M222.9 22.4h1M240.8 23.2h1M229.1 26.2h1M247.7 31.3h1M236.2 24.7h1M250.0 24.3h1M236.5 28.1h1M247.8 20.5h1M237.5 27.7h1M213.3 29.1h1M221.4 20.7h1M242.2 17.5h1M231.0 28.4h1M214.1 29.1h1M230.8 28.9h1M256.9 28.4h1M228.9 29.6h1M249.8 27.4h1M244.9 31.2h1M261.4 29.9h1M240.2 25.9h1M229.8 26.4h1M250.0 24.5h1M243.5 22.4h1M224.2 29.3h1M236.2 30.0h1M226.4 25.5h1M225.8 22.7h1M228.6 21.6h1M232.1 23.0h1M230.5 22.0h1M254.7 39.4h1M235.5 19.5h1M239.7 30.9h1M252.3 24.4h1M213.2 19.4h1M246.0 23.7h1M235.4 28.2h1M231.6 31.2h1M219.3 22.0h1M225.8 24.9h1M216.4 15.0h1M217.1 31.0h1M244.0 20.0h1M237.8 31.8h1M221.5 28.0h1M240.6 35.2h1M237.4 36.2h1M237.5 15.9h1M238.7 38.7h1M241.0 18.1h1M241.4 26.3h1M221.0 31.6h1M241.7 29.1h1M246.1 26.0h1M240.1 23.1h1M258.7 23.4h1M223.2 25.3h1M254.4 23.5h1M238.1 24.9h1M244.2 17.4h1M249.1 28.3h1M221.4 30.8h1M234.4 33.4h1M243.8 28.1h1M221.2 29.3h1M232.3 23.5h1M245.0 35.9h1M222.7 28.0h1M227.8 30.0h1M218.3 27.1h1M236.7 18.7h1M231.7 24.7h1M250.9 18.2h1M240.8 24.6h1M245.4 25.2h1M247.9 33.1h1M229.8 33.1h1M223.6 30.4h1M260.9 27.8h1M221.0 31.4h1M244.5 19.5h1M226.0 24.7h1M243.4 29.9h1M243.0 22.1h1M214.8 24.2h1M231.7 21.9h1M255.6 31.2h1M252.9 20.8h1M228.4 31.2h1M230.0 21.1h1M242.9 31.1h1M223.4 28.5h1M224.1 32.3h1M220.5 27.2h1M237.4 18.8h1M233.3 21.0h1M259.5 24.7h1M253.2 20.4h1M261.2 29.3h1M233.1 28.8h1M233.8 34.4h1M223.0 25.1h1M249.7 19.8h1M242.0 33.3h1M238.7 25.6h1M227.1 26.2h1M227.0 30.3h1M248.3 20.6h1M248.9 20.7h1M246.4 29.9h1M214.2 20.8h1M234.3 17.4h1M227.2 31.8h1M235.4 24.5h1M225.6 19.9h1M215.4 28.9h1M247.0 24.5h1M219.2 25.9h1M233.3 29.1h1M249.2 23.5h1M213.0 23.9h1M253.5 33.0h1M230.9 26.4h1M248.2 22.4h1M231.9 32.0h1M225.6 29.6h1M236.1 25.1h1M234.9 36.5h1M228.0 25.3h1M214.1 27.7h1M223.8 32.0h1M243.7 26.5h1M247.0 32.4h1M237.9 25.3h1M235.2 33.3h1M229.6 27.3h1M214.8 30.3h1M214.3 25.5h1M215.4 25.6h1M255.5 34.7h1M240.5 29.1h1M222.0 24.3h1M222.1 36.1h1M219.2 25.1h1M217.1 27.1h1M227.8 23.7h1M248.1 21.4h1M235.5 22.9h1M229.7 30.8h1M247.7 38.2h1M233.4 23.4h1M254.3 27.6h1M227.4 18.5h1M233.1 22.9h1M232.5 23.1h1M246.8 33.4h1M226.7 30.9h1M236.2 26.1h1M239.8 20.4h1M261.5 24.9h1M237.8 25.2h1M249.8 29.9h1M242.4 26.6h1M220.4 24.3h1M239.2 33.4h1M231.5 26.4h1M216.0 41.5h1M232.9 33.0h1M213.2 25.6h1M220.6 30.8h1M232.7 31.4h1M222.8 23.2h1M243.5 32.1h1M248.5 27.7h1M228.4 28.7h1M243.8 17.3h1M237.0 26.8h1M216.3 25.6h1M232.2 27.7h1M230.3 25.5h1M247.0 22.8h1M245.1 27.4h1M237.1 27.4h1M238.0 32.0h1M236.6 17.7h1M234.2 26.5h1M255.6 22.5h1M249.8 25.3h1M235.8 31.7h1M228.8 24.2h1M213.8 34.4h1M222.8 23.3h1M262.0 36.8h1M241.9 31.6h1M241.4 35.2h1M252.9 27.6h1M228.1 24.1h1M231.3 27.5h1M241.3 26.0h1M261.9 30.9h1M242.2 23.5h1M234.1 30.9h1M218.8 34.6h1M245.1 28.1h1M231.7 32.8h1M221.7 25.7h1M243.5 27.8h1M235.7 25.8h1M252.9 19.6h1M230.6 26.2h1M231.8 22.9h1M228.4 27.3h1M245.0 25.3h1M236.6 26.4h1M252.3 28.8h1M234.3 35.8h1M218.7 22.7h1M240.3 24.8h1M248.4 26.4h1M232.8 33.0h1M236.8 34.8h1M218.4 22.4h1M241.6 30.8h1M246.8 32.8h1M228.4 28.8h1M223.7 28.9h1M230.0 23.4h1M233.5 27.7h1M241.2 34.0h1M243.6 36.1h1M218.3 35.0h1M247.9 28.1h1M245.2 25.6h1M238.6 26.4h1M227.1 34.6h1M232.8 20.4h1M250.9 23.4h1M259.1 30.4h1M243.8 29.9h1M235.7 21.4h1M240.3 20.3h1M241.8 29.4h1M242.4 29.0h1M231.7 16.7h1M239.2 16.6h1M244.1 30.3h1M251.9 22.9h1M222.5 36.9h1M250.6 22.9h1M227.8 19.3h1M213.8 19.4h1M234.2 20.1h1M217.8 20.4h1M248.9 26.5h1M231.9 31.5h1M230.4 37.2h1M224.3 26.5h1M235.3 29.3h1M254.0 26.6h1M251.6 17.7h1M214.2 33.0h1M236.2 33.7h1M244.5 23.0h1M235.1 21.4h1M218.4 32.2h1M223.2 34.4h1M239.4 27.0h1M227.4 21.6h1M242.1 28.1h1M226.4 31.0h1M237.2 28.1h1M255.6 27.3h1M233.1 29.3h1M242.6 26.5h1M235.8 27.0h1M233.7 28.7h1M230.2 35.6h1M237.3 33.5h1M235.9 26.7h1M223.5 22.5h1M238.4 30.2h1M242.6 18.4h1M236.4 27.8h1M236.9 28.3h1M234.8 27.4h1M234.7 43.3h1M235.4 25.5h1M221.0 21.8h1M241.6 20.6h1M241.1 31.6h1M234.3 27.4h1M237.2 24.2h1M231.1 28.1h1M251.8 30.5h1M233.2 26.3h1M244.4 22.0h1M237.6 28.1h1M248.8 31.3h1M233.2 28.2h1M247.7 27.4h1M217.3 35.4h1M223.5 22.2h1M219.9 26.7h1M213.5 31.1h1M233.7 22.9h1M236.1 32.5h1M259.7 25.3h1M228.3 21.6h1M222.1 18.8h1M230.7 21.2h1M240.5 34.0h1M227.9 29.0h1M224.5 24.8h1M255.0 16.7h1M254.1 26.9h1M235.5 30.8h1M254.4 29.9h1M224.3 29.7h1M219.0 22.4h1M234.8 26.1h1M230.3 31.5h1M232.4 24.3h1M240.7 33.4h1M241.1 21.7h1M258.4 36.0h1M230.8 25.9h1M234.8 31.0h1M240.4 24.7h1M219.9 31.2h1M240.9 27.5h1M228.6 21.9h1M213.5 18.2h1M247.4 37.3h1M240.3 21.8h1M239.9 24.4h1M236.7 18.0h1M257.4 25.8h1M213.4 34.4h1M213.7 23.5h1M226.8 23.5h1M245.5 32.8h1M260.4 25.7h1M234.2 23.7h1M241.1 23.0h1M251.6 30.4h1M223.8 29.8h1M243.6 19.7h1M237.9 40.8h1M213.6 34.4h1M241.9 35.0h1M235.5 47.5h1M234.5 43.7h1M241.5 41.5h1M231.3 35.5h1M223.4 37.9h1M231.3 41.6h1M240.7 45.7h1M223.1 35.7h1M253.7 42.7h1M217.6 40.6h1M241.2 31.6h1M240.7 34.7h1M244.8 36.0h1M252.3 34.3h1M219.8 47.2h1M217.2 31.5h1M221.5 46.2h1M252.9 36.2h1M251.1 36.1h1M223.0 36.3h1M247.0 38.6h1M222.1 32.1h1M229.6 33.0h1M219.1 35.2h1M244.5 39.4h1M235.4 40.9h1M228.8 40.7h1M238.2 44.0h1M231.0 36.7h1M231.2 37.0h1M232.5 33.5h1M214.2 38.4h1M230.0 32.1h1M216.9 37.3h1M242.9 46.4h1M245.3 36.9h1M247.5 40.6h1M239.8 43.5h1M232.2 35.2h1M221.4 44.2h1M236.7 37.8h1M239.4 40.4h1M225.5 37.8h1M234.9 42.8h1M236.2 39.7h1M213.7 38.4h1M237.0 35.2h1M252.2 38.6h1M236.3 39.6h1M235.2 38.1h1M230.5 31.8h1M235.8 43.8h1M226.9 43.6h1M249.2 38.7h1M222.4 30.5h1M236.8 40.2h1M225.4 37.7h1M224.7 30.8h1M230.5 36.9h1M242.7 45.3h1M246.7 40.4h1M246.5 34.8h1M242.9 39.9h1M242.6 36.0h1M254.4 42.8h1M231.5 36.7h1M244.4 45.4h1M224.4 39.1h1M240.0 40.8h1M245.0 59.0h1M258.3 74.4h1M255.7 71.3h1M257.7 63.9h1M250.2 69.2h1M253.3 72.3h1M246.7 77.9h1M253.6 61.9h1M240.4 67.9h1M257.9 71.2h1M249.3 77.2h1M264.5 68.4h1M252.8 73.2h1M252.6 62.4h1M254.5 65.3h1M247.6 82.0h1M252.5 63.8h1M248.6 70.4h1M258.4 71.2h1M237.8 72.2h1M246.7 67.1h1M250.2 72.1h1M237.4 73.1h1M253.2 80.9h1M242.8 78.3h1M256.4 86.4h1M251.2 63.8h1M260.4 70.3h1M251.7 68.7h1M252.0 76.1h1M275.2 20.8h1M281.2 27.2h1M264.1 23.1h1M282.9 22.9h1M278.1 20.4h1M276.7 21.1h1M277.0 26.7h1M323.3 79.7h1M324.7 68.6h1M331.6 65.5h1M319.2 67.7h1M327.3 78.6h1M316.9 73.0h1M335.2 69.5h1M309.6 68.4h1M318.6 73.7h1M330.0 71.3h1M326.5 76.5h1M317.7 71.0h1M312.4 78.9h1M338.2 75.1h1M327.0 69.6h1M328.0 69.7h1M332.8 77.3h1M320.3 76.5h1M319.4 78.5h1M309.6 76.3h1M335.1 74.4h1M336.2 78.9h1M317.8 70.9h1M325.6 75.7h1M329.3 77.9h1M332.0 74.0h1M301.7 89.1h1M309.9 74.0h1M314.4 78.8h1M321.4 77.5h1M334.7 71.1h1M330.7 61.0h1M337.7 86.6h1M318.5 81.2h1M311.9 77.0h1M329.6 66.6h1M329.1 68.6h1M315.6 85.6h1M332.0 75.8h1M336.2 72.6h1M316.9 64.8h1M322.7 68.9h1M334.2 77.0h1M316.3 71.4h1M324.2 89.7h1M318.8 76.5h1M320.9 76.7h1M310.4 83.5h1M328.0 73.4h1M303.2 81.6h1M331.5 84.2h1M332.6 73.3h1M328.4 80.8h1M332.1 83.6h1M311.9 78.6h1M330.4 79.8h1M320.8 71.2h1M314.1 75.9h1M314.7 79.8h1M318.1 80.8h1M321.7 75.7h1M322.9 73.9h1M334.9 67.2h1M327.8 64.9h1M311.9 74.9h1M333.6 62.8h1M320.4 71.3h1M319.2 85.7h1M312.9 65.6h1M338.6 88.4h1M332.2 70.2h1M339.0 78.8h1M335.5 68.6h1M314.3 73.8h1M330.9 70.9h1M315.1 75.6h1M321.9 71.1h1M316.7 70.2h1M335.7 68.9h1M309.0 72.4h1M321.8 78.2h1M313.0 76.6h1M317.3 82.0h1M323.7 82.4h1M326.7 88.0h1M328.9 73.0h1M316.7 75.8h1M324.4 84.5h1M314.7 73.7h1M322.7 76.4h1M315.1 74.9h1M332.8 74.9h1M327.9 68.6h1M321.3 82.9h1M319.8 70.7h1M327.3 72.5h1M317.3 84.5h1M325.9 73.6h1M320.1 67.2h1M313.1 65.5h1M323.4 85.9h1M321.1 77.2h1M324.8 63.2h1M328.1 85.8h1M310.9 73.0h1M318.1 83.0h1M332.3 70.3h1M308.0 86.6h1M322.5 81.5h1M328.8 81.8h1M321.3 64.4h1M328.0 80.5h1M323.4 78.3h1M328.6 69.3h1M335.0 80.8h1M317.9 88.5h1M317.2 83.6h1M330.9 83.0h1M324.6 74.9h1M312.2 72.3h1M340.6 64.1h1M333.8 75.2h1M316.3 82.5h1M324.6 78.6h1M315.9 75.8h1M324.2 88.8h1M327.3 83.5h1M326.0 81.8h1M329.6 81.8h1M341.3 70.2h1M337.5 76.8h1M322.8 73.3h1M336.5 73.0h1M306.3 84.9h1M331.2 69.3h1M329.3 78.4h1M322.7 83.7h1M303.3 86.5h1M331.0 80.3h1M330.9 82.1h1M336.6 80.4h1M319.0 78.0h1M315.6 82.5h1M319.7 76.5h1M321.9 66.8h1M325.9 72.1h1M329.4 79.5h1M324.0 76.6h1M333.8 82.0h1M311.5 86.2h1M326.5 77.0h1M323.4 81.0h1M339.1 79.5h1M325.7 78.0h1M318.5 77.8h1M322.7 75.7h1M337.1 70.7h1M340.6 68.7h1M329.6 74.8h1M328.1 86.4h1M321.8 66.8h1M331.4 61.0h1M311.6 78.3h1M309.9 71.0h1M317.2 74.1h1M316.8 89.7h1M304.9 73.7h1M333.8 63.4h1M337.3 75.3h1M311.9 76.0h1M332.9 74.1h1M329.5 73.0h1M326.2 78.5h1M323.5 73.7h1M317.2 87.4h1M331.9 75.1h1M304.1 75.4h1M326.0 76.0h1M320.4 78.7h1M323.0 70.7h1M337.1 79.2h1M334.2 73.9h1M330.8 74.9h1M326.8 75.8h1M319.2 75.1h1M312.2 74.0h1M325.4 74.3h1M332.7 80.8h1M311.8 79.3h1M324.2 93.2h1M337.8 71.8h1M318.4 79.2h1M342.3 78.0h1M321.0 79.4h1M329.9 77.2h1M335.9 71.3h1M320.0 76.4h1M320.0 75.4h1M333.2 74.0h1M331.3 79.4h1M324.3 79.1h1M312.4 77.3h1M325.7 71.1h1M339.1 72.8h1M317.0 83.4h1M328.5 75.0h1M325.1 82.1h1M330.9 74.9h1M311.0 73.7h1M319.2 73.7h1M339.7 78.1h1M315.0 76.9h1M327.3 73.7h1M327.6 78.9h1M322.8 80.9h1M338.4 78.5h1M321.3 76.7h1M317.1 75.9h1M334.9 76.6h1M321.6 82.5h1M313.7 73.5h1M321.1 82.8h1M330.1 75.9h1M322.3 73.9h1M320.1 85.4h1M320.3 72.7h1M326.0 78.2h1M323.4 74.4h1M329.9 89.3h1M323.3 79.0h1M316.7 77.0h1M327.6 73.7h1M336.6 73.8h1M311.1 82.7h1M313.0 72.3h1M312.9 63.2h1M340.2 78.6h1M321.8 81.7h1M334.8 76.9h1M323.5 76.0h1M320.8 72.9h1M333.6 69.2h1M313.5 86.1h1M320.4 79.3h1M324.2 66.7h1M323.9 73.6h1M327.7 70.3h1M330.1 79.2h1M339.3 72.6h1M309.9 74.5h1M332.4 88.0h1M338.9 79.5h1M333.1 64.4h1M319.5 69.0h1M310.1 69.6h1M327.3 73.0h1M310.3 71.1h1M326.1 77.9h1M330.9 73.8h1M330.5 70.9h1M338.4 64.7h1M324.6 77.6h1M334.5 76.3h1M324.4 74.3h1M324.4 70.7h1M325.2 78.0h1M344.8 76.2h1M312.5 68.5h1M315.5 83.2h1M332.2 80.7h1M333.3 75.6h1M333.6 76.1h1M318.8 71.8h1M315.0 72.9h1M335.6 79.5h1M314.3 79.6h1M318.1 89.1h1M324.7 87.3h1M327.6 70.0h1M319.0 69.1h1M320.2 70.3h1M334.9 91.9h1M319.5 74.4h1M327.0 75.6h1M331.0 65.4h1M325.6 82.8h1M332.1 73.7h1M321.9 81.6h1M306.7 79.0h1M340.5 76.9h1M314.8 84.1h1M335.8 72.6h1M304.3 71.6h1M311.4 71.0h1M333.1 63.4h1M320.6 77.4h1M331.5 78.8h1M308.8 71.6h1M335.3 65.6h1M338.7 80.9h1M323.1 73.9h1M323.1 74.0h1M322.9 81.9h1M328.9 77.4h1M313.7 68.2h1M326.8 82.2h1M327.1 76.5h1M330.6 63.2h1M312.1 77.5h1M316.9 81.1h1M318.6 77.1h1M338.2 79.6h1M330.1 76.1h1M335.3 79.4h1M318.0 71.1h1M325.9 76.7h1M319.3 76.0h1M307.5 85.1h1M314.1 74.5h1M309.0 73.1h1M311.6 84.5h1M322.0 73.2h1M315.3 74.9h1M333.8 73.5h1M316.1 77.7h1M330.5 67.8h1M337.3 88.5h1M324.1 72.8h1M314.0 72.0h1M307.8 84.1h1M325.3 69.9h1M312.9 74.4h1M305.1 81.4h1M326.3 78.9h1M311.1 77.4h1M317.9 79.1h1M324.1 83.6h1M324.8 86.1h1M329.9 65.5h1M317.9 65.4h1M330.1 77.2h1M328.0 79.6h1M335.3 73.2h1M333.7 79.2h1M299.7 90.9h1M319.9 90.2h1M338.5 62.5h1M327.9 72.7h1M326.0 74.5h1M336.0 64.9h1M329.7 79.4h1M309.3 84.8h1M322.0 78.9h1M326.3 65.9h1M323.4 88.8h1M336.7 83.2h1M325.2 84.1h1M330.7 73.0h1M315.0 70.0h1M339.5 84.5h1M324.5 78.8h1M315.5 73.1h1M316.2 93.6h1M315.8 81.7h1M320.7 84.0h1M320.0 75.5h1M324.1 66.9h1M334.6 71.8h1M309.4 86.0h1M336.6 87.2h1M325.3 79.4h1M314.0 81.0h1M323.8 71.4h1M323.5 75.6h1M321.6 72.8h1M336.9 78.0h1M328.3 77.6h1M331.5 66.5h1M328.0 69.2h1M326.6 71.9h1M318.3 80.5h1M301.9 84.3h1M341.6 72.4h1M318.0 74.0h1M324.3 67.4h1M330.4 78.5h1M304.3 66.5h1M328.2 72.9h1M326.7 83.9h1M324.6 76.9h1M323.8 82.8h1M324.2 78.6h1M321.2 72.9h1M312.9 75.4h1M328.9 74.1h1M327.2 73.3h1M315.2 70.2h1M329.9 62.2h1M319.3 70.9h1M337.3 73.7h1M315.9 86.5h1M332.8 72.9h1M328.5 78.9h1M331.4 67.1h1M320.9 76.4h1M330.2 78.5h1M331.7 69.9h1M317.6 79.4h1M330.7 90.1h1M337.1 73.4h1M321.2 67.5h1M327.3 77.3h1M335.2 70.9h1M329.2 74.3h1M320.4 73.5h1M334.0 69.8h1M334.5 72.9h1M292.9 66.4h1M296.8 66.9h1M293.1 74.4h1M287.6 77.8h1M298.2 77.8h1M296.4 68.4h1M293.8 76.3h1M291.4 74.0h1M295.6 78.2h1M291.2 71.4h1M284.5 67.7h1M298.9 78.0h1M299.1 71.8h1M289.8 80.5h1M283.1 72.8h1M295.9 70.8h1M287.1 75.3h1M291.7 73.0h1M298.3 73.9h1M281.7 76.9h1M290.6 72.7h1M300.7 75.9h1M294.5 62.1h1M295.5 79.7h1M296.7 73.7h1M295.8 70.4h1M291.0 81.4h1M296.4 75.1h1M299.4 70.5h1M292.5 73.3h1M295.1 69.7h1M286.8 74.2h1M284.2 66.7h1M296.1 77.4h1M281.8 73.9h1M285.3 69.7h1M288.7 74.8h1M286.2 73.3h1M293.7 78.9h1M280.6 74.6h1M292.2 69.3h1M284.7 79.0h1M228.2 54.6h1M231.6 58.5h1M236.8 62.3h1M217.6 51.9h1M249.2 73.5h1M228.2 69.7h1M260.3 72.3h1M242.8 75.4h1M220.6 61.6h1M222.6 60.7h1M256.7 79.1h1M243.8 71.9h1M255.0 82.0h1M228.8 51.8h1M256.9 68.8h1M234.2 58.6h1M234.6 63.2h1M250.9 77.8h1M251.1 79.9h1M233.3 64.1h1M220.5 57.2h1M247.3 79.3h1M260.1 75.1h1M240.6 54.5h1M231.5 50.1h1M250.4 69.5h1M241.7 71.5h1M231.6 66.0h1M237.2 69.0h1M245.8 76.7h1M260.9 74.8h1M253.6 70.8h1M243.8 68.8h1M243.7 73.1h1M240.8 72.8h1M284.8 77.5h1M266.8 81.9h1M283.0 78.6h1M262.0 79.9h1M268.5 75.9h1M281.6 75.2h1M265.8 83.0h1M271.6 82.5h1M285.9 77.4h1M283.2 74.4h1M308.4 11.8h1M260.3 58.9h1M278.3 74.2h1M276.5 40.8h1M279.4 86.7h1M230.4 9.2h1M285.9 68.0h1M224.2 27.1h1M315.8 57.6h1M303.2 16.1h1M286.4 78.5h1M214.3 92.0h1M245.9 68.4h1M253.9 60.4h1M213.2 64.9h1M220.7 80.0h1M288.1 59.9h1M251.9 163.0h1M228.1 160.9h1M241.5 157.4h1M233.1 157.3h1M249.5 156.3h1M230.7 154.9h1M240.4 155.6h1M235.9 147.8h1M237.6 157.1h1M229.8 162.7h1M237.0 162.7h1M234.2 156.2h1M221.3 158.9h1M216.7 169.8h1M219.3 161.9h1M242.0 157.4h1M242.4 165.0h1M251.9 142.6h1M227.0 167.4h1M235.3 149.1h1M235.0 160.1h1M240.5 162.2h1M237.9 152.4h1M244.9 154.9h1M232.9 169.2h1M231.7 160.8h1M217.0 167.8h1M243.8 157.3h1M225.6 157.5h1M251.0 154.4h1M238.9 163.5h1M228.3 160.0h1M237.2 154.7h1M239.1 156.5h1M232.6 166.6h1M220.0 169.3h1M238.8 151.5h1M243.7 145.8h1M226.2 155.6h1M236.2 161.1h1M235.6 165.4h1M235.0 153.6h1M252.0 151.1h1M248.2 155.3h1M244.7 149.8h1M248.7 153.4h1M238.2 151.2h1M234.7 157.9h1M237.2 153.4h1M231.8 167.2h1M224.3 164.4h1M228.6 157.0h1M245.2 154.3h1M217.4 165.1h1M220.3 168.3h1M245.3 160.6h1M241.4 169.4h1M253.0 152.5h1M230.4 157.6h1M245.3 158.5h1M254.8 157.3h1M226.8 162.1h1M223.0 156.4h1M240.7 167.6h1M245.0 157.4h1M251.4 152.2h1M245.1 152.0h1M252.7 154.2h1M236.8 158.7h1M233.0 156.6h1M239.3 162.3h1M235.9 160.6h1M246.8 150.1h1M233.2 160.9h1M232.6 166.0h1M239.1 155.8h1M229.4 157.2h1M243.8 150.4h1M216.8 162.6h1M240.0 148.8h1M222.6 168.4h1M237.8 166.2h1M240.4 159.1h1M223.1 165.7h1M227.2 158.8h1M228.2 152.0h1M224.5 161.1h1M255.0 154.3h1M239.6 153.0h1M226.8 161.0h1M252.0 151.0h1M246.0 152.3h1M233.8 163.8h1M242.1 161.0h1M248.8 146.0h1M239.4 149.6h1M222.3 160.2h1M242.4 155.2h1M231.2 157.1h1M223.2 165.5h1M242.4 155.3h1M255.0 149.8h1M235.2 157.6h1M232.6 160.5h1M237.0 162.1h1M244.4 157.8h1M226.3 165.2h1M246.8 159.7h1M220.8 156.9h1M241.5 161.6h1M243.2 156.2h1M229.8 165.7h1M249.7 151.0h1M237.9 153.4h1M247.6 152.4h1M236.0 154.4h1M222.6 168.7h1M216.7 165.6h1M242.3 162.7h1M237.1 158.6h1M229.8 166.1h1M256.3 151.5h1M224.8 160.0h1M243.4 158.5h1M226.9 168.6h1M229.3 160.6h1M248.2 162.8h1M255.3 158.3h1M232.7 167.2h1M238.4 161.2h1M223.0 162.2h1M216.5 156.0h1M226.1 154.3h1M245.6 157.6h1M239.6 161.3h1M232.9 159.1h1M228.5 161.6h1M241.0 167.0h1M240.6 162.3h1M237.0 162.5h1M242.5 161.4h1M231.8 159.1h1M217.7 166.4h1M252.5 151.9h1M236.2 158.7h1M232.4 156.6h1M217.0 152.7h1M234.0 159.3h1M232.0 164.7h1M216.6 171.1h1M238.2 156.5h1M235.1 147.9h1M235.1 170.7h1M221.9 156.4h1M248.1 155.9h1M243.8 157.2h1M235.8 165.5h1M234.5 154.7h1M234.6 162.6h1M252.4 148.4h1M240.6 160.9h1M232.2 157.2h1M241.2 151.0h1M224.1 164.3h1M239.2 150.8h1M238.2 159.9h1M236.1 159.1h1M216.5 161.6h1M224.4 157.8h1M231.1 149.3h1M234.0 151.7h1M223.8 157.2h1M218.9 158.3h1M241.6 150.6h1M239.8 150.9h1M217.0 162.5h1M233.9 154.9h1M236.6 157.8h1M219.5 167.0h1M243.4 153.8h1M238.7 157.3h1M236.1 157.9h1M227.1 161.7h1M255.3 141.0h1M224.8 168.3h1M229.2 162.6h1M233.5 154.4h1M240.1 158.1h1M229.6 157.0h1M226.4 161.2h1M241.3 164.9h1M238.2 160.2h1M227.6 161.5h1M236.5 164.9h1M235.3 168.5h1M232.1 155.7h1M233.4 161.8h1M239.7 164.6h1M231.9 157.9h1M228.5 157.1h1M228.2 156.2h1M241.5 160.8h1M244.2 158.1h1M254.0 149.6h1M229.5 162.0h1M216.8 169.2h1M236.6 152.9h1M240.5 160.6h1M228.7 162.7h1M221.4 162.7h1M224.6 162.9h1M246.5 159.7h1M222.6 159.1h1M240.8 153.3h1M223.8 157.5h1M228.4 152.8h1M229.2 159.3h1M229.0 158.3h1M240.2 150.8h1M230.9 156.8h1M216.5 168.2h1M230.0 158.1h1M235.2 156.2h1M227.4 162.3h1M239.9 162.2h1M217.4 165.8h1M232.5 152.8h1M227.5 162.1h1M239.4 154.8h1M222.0 161.3h1M218.2 156.4h1M232.3 156.6h1M233.8 160.5h1M239.6 151.4h1M231.0 161.7h1M223.1 159.4h1M238.5 158.9h1M242.5 161.6h1M223.0 164.8h1M220.6 162.2h1M236.7 161.0h1M238.1 153.9h1M235.5 169.8h1M229.2 154.5h1M226.2 156.4h1M247.2 158.4h1M238.4 157.2h1M242.5 160.5h1M216.7 167.3h1M246.4 148.9h1M236.5 155.7h1M223.3 152.9h1M237.7 158.5h1M217.2 162.3h1M229.7 157.7h1M233.7 159.4h1M241.4 154.5h1M230.9 165.3h1M216.9 160.3h1M235.1 164.0h1M230.4 158.9h1M227.4 170.6h1M247.3 153.4h1M229.6 162.0h1M240.6 155.9h1M240.5 148.9h1M227.2 167.2h1M219.6 156.6h1M250.4 159.8h1M236.3 157.7h1M224.3 152.6h1M233.9 157.4h1M235.7 166.5h1M222.4 161.0h1M227.1 158.3h1M221.9 158.7h1M229.2 153.8h1M238.2 151.7h1M241.3 161.4h1M233.7 161.0h1M232.6 155.9h1M225.0 161.9h1M231.8 150.8h1M234.9 153.6h1M225.0 155.3h1M227.9 165.0h1M240.8 152.4h1M239.3 158.5h1M238.9 161.4h1M236.1 146.6h1M242.3 157.9h1M231.4 160.0h1M247.2 149.6h1M232.8 155.0h1M221.6 160.4h1M226.4 161.6h1M236.7 156.8h1M246.3 157.8h1M217.3 170.0h1M255.7 150.4h1M245.7 162.5h1M245.8 154.0h1M222.6 162.5h1M220.8 164.8h1M216.7 163.3h1M241.1 152.5h1M223.8 159.1h1M232.8 156.3h1M246.9 156.3h1M233.6 165.9h1M235.3 153.2h1M239.2 155.3h1M237.2 150.9h1M232.5 156.1h1M219.9 158.5h1M242.1 156.5h1M217.7 168.2h1M230.6 160.7h1M233.6 165.7h1M218.1 163.8h1M216.9 165.0h1M239.1 151.7h1M236.8 154.0h1M245.0 155.8h1M237.8 159.5h1M234.6 162.4h1M244.1 151.2h1M224.4 157.5h1M234.6 160.8h1M222.2 161.0h1M239.9 154.1h1M236.3 158.4h1M220.1 155.4h1M233.7 149.3h1M217.8 157.9h1M219.3 160.8h1M240.3 154.8h1M230.5 160.0h1M223.9 155.4h1M231.8 166.4h1M243.2 157.3h1M236.1 171.0h1M241.0 161.9h1M239.5 152.2h1M222.9 165.4h1M237.1 160.2h1M268.9 160.9h1M262.7 155.4h1M258.8 149.6h1M267.3 153.9h1M289.0 150.1h1M286.8 159.8h1M281.2 146.5h1M270.3 205.4h1M284.2 208.4h1M255.3 199.7h1M288.9 203.9h1M273.0 208.4h1M258.0 206.3h1M264.9 202.5h1M283.4 210.0h1M245.6 200.5h1M263.0 205.3h1M256.4 205.2h1M291.0 208.1h1M266.5 211.2h1M295.7 200.6h1M277.1 209.5h1M288.5 204.2h1M248.0 210.2h1M287.1 207.3h1M280.1 207.3h1M289.3 202.0h1M275.1 200.7h1M263.6 210.0h1M250.4 210.4h1M290.9 205.6h1M244.1 207.5h1M275.1 214.2h1M268.0 199.2h1M248.5 205.4h1M271.0 216.6h1M289.1 211.1h1M286.4 204.6h1M255.4 201.0h1M252.8 197.4h1M277.0 214.1h1M290.2 210.6h1M279.4 204.0h1M285.9 213.9h1M266.6 197.8h1M255.7 205.4h1M271.5 212.0h1M261.0 196.7h1M270.4 207.0h1M269.2 206.4h1M282.2 205.6h1M249.3 216.6h1M251.4 203.6h1M293.0 207.4h1M244.8 201.7h1M248.8 211.5h1M253.0 203.8h1M275.3 212.8h1M258.8 202.6h1M252.7 202.3h1M293.1 216.3h1M273.1 201.1h1M278.9 212.5h1M268.0 205.0h1M269.1 208.1h1M253.8 203.7h1M295.7 207.6h1M284.6 206.4h1M292.5 213.6h1M266.3 200.5h1M244.5 209.0h1M286.0 212.2h1M288.0 207.3h1M272.0 208.1h1M280.7 202.8h1M281.3 194.3h1M287.4 210.8h1M263.9 210.5h1M295.4 203.9h1M252.0 209.6h1M284.0 214.6h1M276.1 203.7h1M255.2 202.3h1M287.0 216.9h1M243.5 212.4h1M266.7 200.0h1M254.9 211.5h1M295.5 206.5h1M244.6 203.9h1M269.6 200.5h1M275.6 208.0h1M285.9 209.0h1M270.9 203.9h1M247.2 206.6h1M275.2 202.1h1M275.0 206.0h1M279.3 207.2h1M248.2 211.0h1M286.9 209.3h1M293.9 199.3h1M275.3 195.7h1M269.9 202.8h1M284.6 211.1h1M263.5 204.5h1M277.2 212.7h1M259.8 204.1h1M267.2 205.5h1M246.8 204.9h1M244.2 204.8h1M278.9 206.8h1M282.4 209.8h1M261.6 202.7h1M253.4 203.3h1M264.6 207.1h1M282.1 202.4h1M277.3 212.6h1M258.6 205.5h1M250.6 195.3h1M270.3 203.3h1M259.3 210.6h1M279.1 208.6h1M293.1 205.9h1M261.5 202.0h1M271.2 212.6h1M284.6 207.2h1M289.9 210.0h1M293.5 209.5h1M258.2 209.8h1M281.4 202.0h1M260.7 204.9h1M291.4 213.0h1M243.8 205.7h1M275.6 202.6h1M273.7 213.9h1M280.1 207.2h1M257.6 205.7h1M250.7 197.3h1M245.2 200.0h1M272.3 212.2h1M288.5 210.1h1M243.7 214.4h1M293.4 204.0h1M279.9 210.3h1M262.7 210.2h1M273.4 204.6h1M277.6 210.2h1M246.3 213.8h1M276.5 203.9h1M283.5 207.0h1M270.1 205.6h1M288.4 212.7h1M267.7 203.9h1M263.6 200.0h1M293.5 210.3h1M276.5 210.6h1M245.7 209.4h1M287.3 211.4h1M261.2 211.4h1M252.2 215.6h1M291.8 196.0h1M294.9 210.3h1M263.0 213.5h1M282.3 210.3h1M262.5 202.6h1M263.4 202.1h1M272.6 208.7h1M262.3 211.1h1M291.1 204.2h1M243.1 205.7h1M257.7 209.0h1M269.2 210.1h1M254.7 204.9h1M245.0 198.5h1M284.7 211.5h1M284.7 209.3h1M262.9 211.1h1M257.7 207.6h1M248.7 218.3h1M281.1 214.0h1M264.0 207.8h1M255.0 207.3h1M277.2 208.2h1M252.0 208.3h1M278.8 212.6h1M271.6 206.4h1M271.2 206.9h1M251.2 203.8h1M243.8 202.0h1M272.1 213.0h1M253.2 208.0h1M266.8 209.4h1M263.6 210.4h1M274.8 215.2h1M259.3 213.8h1M272.5 205.2h1M264.5 209.5h1M246.1 205.5h1M280.8 208.3h1M270.6 200.4h1M295.4 203.4h1M278.7 215.6h1M247.2 210.2h1M289.5 203.3h1M258.8 200.0h1M245.4 209.0h1M276.2 203.5h1M253.6 210.0h1M274.3 203.2h1M282.3 208.3h1M293.6 204.3h1M266.6 204.9h1M248.0 210.6h1M264.3 206.6h1M284.8 206.4h1M254.0 208.4h1M293.0 196.9h1M279.9 208.4h1M278.5 213.1h1M265.2 200.9h1M262.6 202.6h1M295.4 205.4h1M291.3 199.5h1M267.2 210.0h1M271.9 208.1h1M256.3 199.9h1M256.3 200.3h1M260.1 197.6h1M265.5 195.6h1M262.5 200.2h1M264.5 206.2h1M253.3 196.5h1M266.5 196.8h1M262.7 198.3h1M256.5 198.2h1M259.3 195.2h1M249.4 196.6h1M258.9 197.6h1M297.8 213.4h1M328.5 216.1h1M317.6 204.9h1M305.0 214.7h1M316.4 205.2h1M314.4 210.7h1M292.1 211.4h1M319.7 221.1h1M298.2 206.6h1M300.5 203.9h1M288.5 205.6h1M316.3 209.3h1M300.3 206.9h1M303.7 197.8h1M313.1 214.5h1M323.1 203.3h1M306.0 196.2h1M311.4 210.9h1M305.6 212.2h1M325.7 210.3h1M309.5 217.5h1M309.2 207.6h1M312.6 205.8h1M308.8 202.7h1M326.3 198.2h1M312.6 222.8h1M322.5 201.8h1M317.4 209.9h1M294.0 202.8h1M327.2 200.0h1M316.4 206.7h1M312.9 226.9h1M306.7 189.7h1M315.2 208.7h1M331.4 194.3h1M329.4 204.0h1M312.4 213.2h1M314.6 204.7h1M316.7 217.8h1M342.8 216.3h1M312.0 207.7h1M309.9 203.2h1M321.4 190.7h1M321.3 200.3h1M342.3 215.6h1M307.6 213.4h1M314.3 200.8h1M304.7 212.7h1M305.3 212.6h1M314.4 203.8h1M320.5 208.1h1M314.8 198.6h1M321.2 206.2h1M309.7 216.1h1M298.7 218.6h1M314.4 210.1h1M315.4 206.8h1M324.5 201.6h1M320.4 199.2h1M314.5 209.3h1M324.8 210.2h1M321.0 205.2h1M309.8 199.8h1M320.0 206.9h1M306.5 228.6h1M307.5 201.9h1M305.7 194.0h1M283.2 211.0h1M333.3 198.2h1M316.0 208.6h1M304.6 209.5h1M320.1 199.7h1M315.9 198.7h1M316.5 209.0h1M305.8 222.9h1M307.6 219.1h1M313.6 201.3h1M304.4 211.7h1M314.4 203.3h1M323.4 217.5h1M308.2 211.1h1M313.6 204.8h1M332.8 226.7h1M320.0 215.4h1M324.3 207.3h1M322.9 208.7h1M296.3 197.3h1M329.0 206.6h1M319.5 198.7h1M306.7 202.9h1M314.6 205.3h1M281.8 214.7h1M305.6 201.6h1M336.3 204.2h1M315.8 210.6h1M297.9 218.5h1M308.0 209.7h1M298.4 202.5h1M310.0 209.4h1M316.6 210.7h1M310.8 202.9h1M303.8 219.3h1M318.4 210.6h1M311.4 210.3h1M316.9 214.1h1M322.9 204.8h1M315.1 203.7h1M315.6 205.2h1M310.0 210.9h1M321.3 212.3h1M318.5 209.6h1M312.7 205.0h1M303.9 208.0h1M314.4 207.9h1M314.1 208.6h1M307.4 188.6h1M315.2 217.1h1M311.6 221.0h1M307.7 214.1h1M320.2 218.8h1M320.9 197.9h1M333.3 198.4h1M306.3 190.7h1M320.6 207.0h1M305.9 211.5h1M291.3 201.9h1M307.6 210.7h1M312.8 206.0h1M295.4 211.4h1M313.0 209.2h1M305.8 218.8h1M298.4 206.7h1M300.3 214.5h1M300.5 207.7h1M309.8 216.7h1M306.5 195.7h1M310.9 200.3h1M308.4 192.9h1M307.7 198.6h1M305.5 230.4h1M314.4 214.7h1M330.7 216.1h1M308.5 213.4h1M312.6 208.6h1M319.4 215.7h1M322.4 204.8h1M291.7 212.6h1M313.5 203.0h1M290.0 212.7h1M296.7 196.4h1M297.0 203.1h1M327.4 211.5h1M313.4 202.3h1M337.3 211.5h1M299.2 208.9h1M311.2 211.0h1M305.0 221.1h1M315.1 214.9h1M303.9 216.5h1M313.7 200.3h1M333.5 209.7h1M325.5 207.5h1M327.0 201.4h1M302.7 215.0h1M315.2 206.9h1M298.0 210.2h1M311.5 206.9h1M311.4 209.7h1M317.1 203.5h1M295.0 209.9h1M309.6 202.1h1M313.0 211.2h1M323.7 217.7h1M322.7 214.4h1M311.3 208.8h1M303.4 205.3h1M318.7 218.8h1M307.8 211.9h1M311.7 212.9h1M302.7 205.4h1M315.8 224.1h1M313.5 196.2h1M314.7 196.4h1M328.9 212.8h1M312.3 210.8h1M312.7 198.2h1M309.7 202.9h1M325.5 207.5h1M287.6 206.6h1M300.9 206.6h1M308.5 214.7h1M292.3 209.8h1M323.5 213.2h1M319.8 194.0h1M314.5 200.5h1M322.0 200.5h1M289.5 215.3h1M314.0 203.6h1M313.7 209.2h1M320.0 213.4h1M312.4 202.2h1M319.1 209.4h1M322.7 207.3h1M336.4 215.5h1M312.9 189.9h1M314.5 207.8h1M340.6 196.2h1M341.5 206.9h1M315.4 213.9h1M307.0 201.3h1M334.0 213.3h1M311.3 219.2h1M315.7 212.4h1M314.7 207.0h1M313.4 206.0h1M306.1 207.8h1M327.9 216.4h1M313.8 210.6h1M313.6 227.0h1M293.4 209.6h1M306.9 201.3h1M303.5 213.5h1M290.9 217.7h1M301.3 206.3h1M307.7 207.6h1M315.1 204.5h1M305.5 202.0h1M296.5 209.3h1M298.5 202.4h1M327.5 205.6h1M329.8 196.2h1M325.6 211.8h1M314.3 196.9h1M324.1 200.5h1M312.2 206.1h1M310.8 208.7h1M308.9 202.6h1M308.3 200.0h1M290.9 213.6h1M338.4 215.7h1M322.5 202.2h1M312.8 225.5h1M326.7 198.7h1M280.0 196.2h1M317.8 203.1h1M316.2 200.0h1M320.5 218.3h1M317.2 217.1h1M344.8 204.2h1M327.7 204.8h1M327.2 216.7h1M299.2 196.1h1M316.6 200.1h1M327.6 196.9h1M308.1 202.3h1M294.3 212.5h1M293.7 211.5h1M332.5 209.0h1M313.6 200.5h1M306.0 211.3h1M314.3 220.1h1M287.6 197.3h1M329.5 202.3h1M302.5 213.2h1M308.9 198.2h1M311.3 202.8h1M326.9 201.0h1M307.6 204.9h1M299.3 216.8h1M333.9 202.2h1M310.0 197.4h1M317.4 210.0h1M310.0 215.0h1M311.5 216.1h1M317.2 205.1h1M315.6 213.0h1M312.3 205.5h1M330.8 220.0h1M307.3 203.1h1M305.7 216.4h1M303.4 193.8h1M329.5 207.5h1M321.7 206.7h1M316.3 211.9h1M333.0 202.8h1M326.0 213.6h1M308.6 212.0h1M317.3 209.2h1M321.2 219.1h1M325.9 212.1h1M321.4 201.1h1M325.5 209.6h1M330.2 212.0h1M319.1 203.4h1M311.0 206.8h1M313.7 206.3h1M303.5 197.3h1M315.8 206.2h1M323.7 218.2h1M312.5 211.3h1M310.0 199.3h1M314.4 205.1h1M329.1 203.3h1M315.9 203.1h1M327.3 197.7h1M336.9 206.1h1M304.3 209.9h1M311.2 190.1h1M323.8 200.0h1M305.3 202.6h1M304.4 207.5h1M303.6 200.5h1M321.3 192.1h1M327.9 227.4h1M320.8 213.0h1M321.5 211.5h1M289.1 197.4h1M292.5 193.9h1M310.0 217.7h1M302.6 202.8h1M322.3 203.0h1M297.7 207.1h1M298.9 209.8h1M289.0 204.1h1M342.4 200.4h1M312.3 195.5h1M324.3 216.6h1M312.1 200.2h1M314.2 212.4h1M340.5 213.4h1M320.3 205.4h1M330.9 208.3h1M322.1 208.7h1M316.6 211.8h1M316.4 208.7h1M308.5 217.6h1M318.1 206.9h1M289.4 209.4h1M324.4 198.9h1M333.9 213.0h1M304.6 208.3h1M304.1 204.6h1M325.2 212.9h1M318.9 211.6h1M300.6 214.3h1M296.2 225.1h1M307.0 212.5h1M325.9 202.1h1M296.8 201.1h1M301.5 210.5h1M295.2 221.8h1M317.5 202.9h1M298.7 206.9h1M313.2 214.9h1M287.1 197.2h1M324.7 208.2h1M321.7 223.0h1M318.6 204.1h1M299.8 207.5h1M334.6 221.8h1M342.3 207.7h1M337.0 198.0h1M306.7 190.8h1M304.0 213.5h1M320.4 212.5h1M323.7 208.2h1M310.8 194.4h1M312.6 208.1h1M310.2 213.1h1M312.1 203.7h1M316.4 209.5h1M317.0 198.6h1M314.5 198.8h1M311.5 210.0h1M320.4 204.7h1M324.3 214.7h1M290.2 204.7h1M315.7 216.7h1M315.3 203.9h1M308.9 207.3h1M302.5 207.2h1M320.0 207.3h1M325.0 224.3h1M306.0 216.0h1M326.6 211.5h1M323.2 207.9h1M311.1 221.6h1M298.1 204.3h1M328.9 204.1h1M295.7 193.7h1M339.8 192.0h1M302.6 199.3h1M302.8 206.3h1M309.0 219.3h1M302.1 205.6h1M311.5 219.2h1M316.1 213.8h1M306.4 201.1h1M308.7 209.1h1M327.9 214.7h1M307.8 197.2h1M313.8 211.5h1M290.2 201.5h1M300.6 201.4h1M305.2 204.5h1M320.2 212.2h1M311.6 205.7h1M313.2 214.4h1M335.6 202.2h1M295.4 217.9h1M306.3 212.7h1M314.9 193.2h1M314.0 211.7h1M310.0 201.4h1M323.0 215.7h1M336.9 194.3h1M312.1 217.4h1M307.3 206.9h1M328.0 211.5h1M308.2 217.9h1M302.6 217.4h1M308.1 222.0h1M305.6 216.4h1M320.9 222.3h1M314.9 206.1h1M328.5 212.8h1M326.8 204.6h1M300.3 220.9h1M313.6 195.3h1M298.3 219.1h1M314.9 199.4h1M299.3 214.6h1M298.8 202.8h1M316.8 206.8h1M312.3 207.2h1M298.2 211.2h1M311.9 202.2h1M309.3 201.8h1M296.9 212.9h1M299.2 215.3h1M331.7 202.4h1M334.3 204.1h1M339.5 212.9h1M328.1 197.3h1M305.7 209.6h1M320.2 223.1h1M324.7 206.7h1M310.1 203.7h1M315.7 212.9h1M313.1 203.6h1M321.5 217.6h1M338.8 211.4h1M317.3 218.4h1M326.0 201.7h1M298.2 209.0h1M325.4 210.0h1M322.9 208.0h1M323.4 207.7h1M300.9 208.3h1M311.3 192.8h1M315.3 211.2h1M303.9 201.1h1M309.5 207.3h1M322.3 208.8h1M301.1 211.7h1M306.5 210.5h1M326.9 199.7h1M330.6 202.3h1M293.7 202.5h1M284.8 219.7h1M302.8 214.9h1M313.1 210.7h1M331.9 205.3h1M314.7 199.0h1M290.0 208.2h1M328.8 213.4h1M321.5 199.1h1M320.3 206.5h1M312.6 194.7h1M333.4 216.9h1M305.8 204.2h1M319.7 199.5h1M337.3 217.8h1M304.9 215.1h1M309.8 220.4h1M314.1 198.0h1M324.3 212.5h1M300.7 201.0h1M328.5 216.4h1M312.5 198.7h1M307.5 207.8h1M298.2 204.6h1M315.1 206.9h1M318.7 196.8h1M297.2 198.6h1M319.5 214.4h1M318.3 202.7h1M338.7 215.1h1M326.6 194.4h1M300.5 211.7h1M321.1 211.2h1M321.8 213.0h1M317.4 204.9h1M313.7 205.3h1M301.0 206.5h1M327.5 209.7h1M304.7 213.1h1M331.4 194.1h1M324.9 208.1h1M321.6 207.1h1M307.8 209.4h1M310.8 205.4h1M305.3 207.1h1M316.6 212.3h1M322.6 198.6h1M317.8 196.1h1M315.0 208.7h1M320.6 202.5h1M310.8 196.0h1M320.4 207.3h1M314.3 208.7h1M330.9 202.6h1M299.4 204.3h1M309.7 210.6h1M328.7 203.7h1M336.6 212.9h1M322.1 220.5h1M303.2 208.9h1M316.3 208.6h1M300.7 206.7h1M314.7 201.3h1M318.8 195.6h1M303.0 197.9h1M321.2 198.5h1M301.1 214.0h1M301.6 217.6h1M306.6 218.6h1M309.0 217.1h1M313.0 221.7h1M316.0 200.3h1M317.9 221.0h1M339.1 213.9h1M303.5 205.2h1M319.7 194.1h1M302.9 213.7h1M299.3 197.3h1M304.9 217.4h1M286.2 207.1h1M300.2 219.3h1M332.0 213.2h1M315.6 212.6h1M298.6 207.6h1M326.6 217.6h1M311.4 212.3h1M299.6 197.7h1M321.4 202.3h1M311.1 214.3h1M327.5 219.0h1M317.6 208.7h1M332.8 201.8h1M296.1 202.9h1M322.1 211.2h1M306.0 207.9h1M314.0 204.9h1M318.0 198.2h1M310.6 213.8h1M322.9 207.1h1M340.0 204.3h1M340.0 215.5h1M301.1 211.2h1M325.2 201.3h1M334.2 215.9h1M315.1 210.7h1M286.1 206.8h1M301.5 208.9h1M308.1 205.8h1M318.9 203.7h1M324.8 211.4h1M320.8 212.7h1M297.4 215.5h1M312.2 209.6h1M323.4 203.1h1M321.1 214.1h1M315.6 220.4h1M319.4 213.0h1M303.5 211.1h1M318.8 212.7h1M321.8 223.6h1M313.5 210.5h1M309.2 216.2h1M336.4 203.9h1M317.4 201.9h1M312.4 207.9h1M335.0 213.8h1M314.9 215.6h1M298.6 220.0h1M304.1 195.7h1M330.8 206.6h1M339.9 216.7h1M302.9 220.3h1M301.6 209.3h1M291.5 199.8h1M308.0 211.2h1M320.2 203.2h1M299.4 200.6h1M316.6 213.3h1M297.1 206.4h1M307.8 217.0h1M319.8 220.4h1M314.7 205.3h1M310.7 201.1h1M310.5 207.1h1M309.5 223.9h1M312.9 203.0h1M330.7 199.0h1M327.1 216.7h1M311.0 215.9h1M310.7 218.8h1M336.4 195.9h1M312.3 211.0h1M324.6 209.6h1M301.1 200.4h1M336.0 199.0h1M332.0 217.2h1M311.6 199.3h1M324.8 214.1h1M327.1 217.8h1M315.7 194.2h1M292.6 197.5h1M307.9 201.9h1M312.3 211.8h1M299.7 218.6h1M313.7 195.5h1M323.0 215.7h1M317.5 216.0h1M338.3 209.1h1M328.3 201.2h1M323.2 193.4h1M330.2 204.7h1M315.1 203.5h1M339.1 215.2h1M339.6 206.2h1M320.4 213.0h1M315.7 205.4h1M315.6 204.4h1M291.2 209.7h1M325.4 207.4h1M327.6 204.3h1M320.7 205.2h1M317.9 206.9h1M319.4 201.7h1M302.0 193.2h1M316.1 196.3h1M311.4 202.3h1M302.5 210.4h1M303.6 195.8h1M315.3 206.4h1M336.2 208.4h1M316.0 215.8h1M327.4 209.2h1M300.6 213.6h1M326.7 211.0h1M307.1 211.5h1M322.6 217.7h1M300.8 200.7h1M321.6 211.5h1M326.2 211.7h1M319.9 210.2h1M322.9 207.0h1M326.2 205.7h1M311.6 211.5h1M329.1 201.2h1M305.7 213.1h1M342.5 207.2h1M323.8 206.1h1M299.0 208.1h1M304.9 209.9h1M307.0 209.3h1M331.3 205.4h1M305.2 205.8h1M322.1 213.5h1M313.8 198.0h1M320.4 198.5h1M312.1 203.8h1M326.7 213.6h1M318.8 211.6h1M323.2 216.9h1M300.3 205.1h1M298.7 212.8h1M309.4 203.5h1M307.2 225.4h1M322.6 227.5h1M303.5 214.4h1M317.9 227.9h1M308.2 215.0h1M324.4 220.7h1M308.6 228.5h1M305.7 217.8h1M321.2 220.3h1M312.8 227.2h1M332.4 219.4h1M312.9 219.2h1M302.8 218.7h1M310.4 219.5h1M311.7 221.8h1M325.6 226.9h1M331.1 222.3h1M304.7 227.7h1M326.3 215.5h1M315.7 226.4h1M336.9 224.9h1M304.2 224.2h1M313.0 223.0h1M302.3 216.0h1M322.2 223.0h1M308.6 215.7h1M312.5 227.0h1M326.3 228.4h1M322.3 228.7h1M322.0 222.6h1M318.9 230.7h1M331.1 226.0h1M308.1 220.0h1M325.1 227.0h1M309.2 219.9h1M295.9 213.0h1M297.7 228.5h1M316.5 212.6h1M316.8 220.1h1M324.9 217.7h1M311.1 218.4h1M311.3 225.5h1M301.6 220.5h1M327.5 217.9h1M319.1 220.3h1M304.4 222.6h1M331.9 220.0h1M319.1 221.4h1M297.4 219.1h1M323.3 220.7h1M315.0 215.9h1M324.3 222.7h1M331.2 216.9h1M316.9 226.9h1M338.6 229.6h1M329.6 222.9h1M319.0 218.5h1M333.1 221.0h1M303.3 228.2h1M312.7 225.6h1M309.9 226.6h1M304.6 214.0h1M311.1 220.3h1M317.4 215.8h1M303.6 227.3h1M302.4 222.6h1M310.1 229.2h1M325.6 213.5h1M298.4 228.8h1M310.1 220.6h1M316.4 226.0h1M304.7 228.1h1M319.3 216.7h1M322.8 218.6h1M319.7 213.4h1M311.5 226.1h1M311.1 222.8h1M316.1 227.1h1M336.6 216.2h1M304.4 224.0h1M334.5 230.6h1M307.2 230.4h1M298.9 221.8h1M300.1 219.7h1M306.3 221.3h1M306.9 228.7h1M317.9 217.8h1M333.6 218.6h1M331.7 222.2h1M271.8 208.4h1M256.9 207.9h1M328.4 202.3h1M215.1 155.1h1M324.6 168.6h1M239.2 205.3h1M287.5 200.7h1M253.4 142.6h1M232.7 207.9h1M242.0 182.5h1M280.8 183.3h1M227.8 216.6h1M277.8 180.7h1M344.8 200.7h1M215.2 142.7h1M329.3 178.5h1M300.6 187.7h1M331.6 176.9h1M322.7 183.8h1M317.8 181.2h1M238.6 357.2h1M240.3 352.9h1M232.4 366.6h1M235.5 358.6h1M222.6 363.5h1M252.1 360.0h1M217.8 357.6h1M229.4 369.2h1M217.8 358.0h1M217.6 361.3h1M226.6 372.9h1M234.3 369.4h1M243.1 366.0h1M230.8 353.2h1M224.7 362.7h1M228.4 357.2h1M220.0 370.1h1M239.1 368.8h1M239.9 367.7h1M257.2 370.2h1M228.3 364.8h1M236.1 359.7h1M235.0 353.7h1M224.2 371.0h1M222.6 367.3h1M232.1 360.4h1M240.1 370.0h1M246.9 365.9h1M217.7 358.7h1M217.1 368.4h1M240.8 360.2h1M218.2 366.7h1M232.4 372.2h1M237.8 365.3h1M244.2 363.0h1M220.2 364.2h1M222.8 370.2h1M243.1 371.2h1M240.3 353.7h1M231.5 359.5h1M259.1 363.1h1M228.7 361.6h1M226.6 366.5h1M222.8 366.8h1M224.3 377.4h1M238.3 366.0h1M226.6 357.1h1M224.6 358.3h1M222.6 361.4h1M219.0 361.4h1M228.3 374.8h1M218.5 360.4h1M231.9 357.9h1M228.7 355.5h1M218.5 352.5h1M245.4 344.4h1M234.8 353.7h1M221.1 363.4h1M233.8 368.1h1M217.0 366.2h1M217.9 361.4h1M224.7 351.4h1M235.8 362.4h1M220.7 363.4h1M230.6 363.9h1M231.2 347.5h1M231.2 369.9h1M232.1 362.1h1M220.3 369.0h1M249.6 360.9h1M222.4 356.6h1M220.3 359.8h1M241.3 360.5h1M231.3 361.7h1M248.2 361.4h1M228.2 356.6h1M219.7 369.8h1M234.8 369.6h1M237.3 370.2h1M229.4 362.5h1M219.7 358.2h1M228.4 342.2h1M220.2 368.2h1M227.4 362.2h1M224.4 353.8h1M226.5 368.0h1M219.5 368.4h1M220.1 368.5h1M245.3 371.7h1M242.2 366.6h1M222.3 352.0h1M236.0 373.5h1M218.0 364.4h1M228.0 351.6h1M226.4 372.7h1M217.4 354.1h1M223.9 373.1h1M241.0 346.4h1M216.9 356.3h1M236.9 368.8h1M217.8 364.6h1M233.5 367.7h1M229.0 359.7h1M240.6 367.9h1M234.1 360.1h1M233.7 368.9h1M243.8 357.1h1M240.1 365.7h1M224.3 370.3h1M244.9 361.0h1M247.7 357.2h1M246.9 371.0h1M238.4 364.4h1M217.8 368.4h1M240.8 359.9h1M224.4 342.6h1M228.2 354.5h1M222.9 372.8h1M217.1 358.7h1M232.1 360.7h1M231.7 361.2h1M230.0 366.7h1M217.9 356.9h1M242.9 343.8h1M231.1 358.8h1M232.3 361.6h1M219.2 374.6h1M232.7 376.5h1M223.6 364.5h1M239.6 364.4h1M219.3 367.1h1M217.2 370.7h1M231.1 363.3h1M230.3 356.1h1M247.4 354.0h1M218.3 350.6h1M217.9 376.8h1M244.4 354.6h1M238.6 357.1h1M233.2 357.8h1M242.1 361.7h1M242.2 372.0h1M237.6 360.5h1M227.8 360.5h1M226.6 369.1h1M240.0 356.5h1M233.7 367.3h1M227.0 361.3h1M229.4 360.0h1M227.6 365.9h1M243.2 373.9h1M242.4 358.4h1M217.9 362.9h1M232.3 371.5h1M228.2 352.4h1M228.2 373.8h1M243.3 364.2h1M229.2 365.1h1M217.5 364.1h1M248.7 362.9h1M236.7 368.5h1M234.8 365.1h1M236.3 357.0h1M219.0 362.9h1M232.7 370.9h1M223.8 372.6h1M228.5 361.0h1M235.0 371.9h1M226.6 367.4h1M235.8 366.3h1M229.7 365.6h1M235.9 361.4h1M217.3 370.7h1M243.4 351.6h1M231.9 364.6h1M240.1 358.8h1M222.0 361.1h1M236.8 356.6h1M233.1 359.3h1M228.5 365.5h1M244.2 356.8h1M223.8 349.2h1M237.1 362.1h1M239.2 359.5h1M217.5 349.4h1M238.3 366.5h1M249.1 354.1h1M226.9 368.6h1M226.7 350.6h1M227.6 355.3h1M225.9 354.0h1M237.1 368.5h1M218.1 366.7h1M218.3 372.6h1M218.7 378.9h1M217.3 369.2h1M225.1 356.2h1M225.5 371.1h1M242.3 362.6h1M233.1 356.9h1M227.7 368.0h1M236.5 352.9h1M242.5 366.8h1M236.6 367.1h1M225.3 364.4h1M217.7 371.0h1M246.9 363.9h1M226.1 360.8h1M227.3 366.8h1M225.8 361.1h1M235.4 359.8h1M233.0 366.7h1M242.2 360.9h1M224.5 353.5h1M225.9 368.8h1M247.0 362.9h1M230.7 369.4h1M233.3 355.5h1M222.1 365.7h1M258.4 363.1h1M227.7 359.1h1M228.6 361.0h1M235.8 361.9h1M218.2 349.1h1M238.9 371.1h1M225.6 359.8h1M225.4 360.4h1M236.8 360.6h1M250.0 356.1h1M226.8 366.8h1M240.6 356.2h1M225.6 358.9h1M234.9 367.7h1M218.0 359.5h1M217.1 364.8h1M228.6 362.4h1M217.7 369.8h1M231.9 348.0h1M228.9 357.1h1M241.3 356.9h1M242.9 355.3h1M240.6 356.0h1M239.6 351.3h1M234.7 357.6h1M228.2 353.8h1M248.2 348.4h1M234.3 370.9h1M242.7 369.3h1M241.4 369.7h1M238.4 357.5h1M231.6 353.5h1M234.0 367.8h1M235.4 376.3h1M235.0 373.5h1M233.8 366.8h1M217.9 345.8h1M247.9 372.7h1M233.1 368.9h1M234.2 365.1h1M238.1 361.7h1M234.3 361.2h1M239.5 376.6h1M223.0 368.4h1M223.9 373.4h1M243.0 359.7h1M240.0 352.9h1M232.3 368.9h1M230.0 365.5h1M232.0 359.2h1M228.0 373.4h1M221.4 356.7h1M218.4 352.9h1M227.6 359.3h1M220.5 354.5h1M241.8 358.9h1M223.3 360.6h1M229.3 368.1h1M216.6 361.0h1M244.0 376.2h1M230.3 355.6h1M238.5 374.8h1M223.6 366.3h1M243.6 368.8h1M228.1 362.3h1M228.4 358.5h1M234.9 364.3h1M233.1 364.0h1M217.2 358.4h1M229.2 358.6h1M228.0 368.2h1M231.4 368.7h1M217.3 354.0h1M223.8 349.1h1M241.8 363.8h1M229.6 366.8h1M235.0 362.1h1M217.5 368.1h1M228.2 358.3h1M218.2 368.5h1M217.3 359.5h1M235.2 363.4h1M233.9 348.3h1M233.9 368.2h1M235.5 363.4h1M217.2 360.6h1M243.2 357.3h1M218.8 366.8h1M248.6 366.1h1M238.5 365.4h1M220.7 356.4h1M227.3 370.1h1M233.9 366.5h1M236.3 351.4h1M245.5 351.3h1M223.1 359.9h1M249.3 364.8h1M234.6 364.2h1M227.3 358.7h1M229.0 354.9h1M229.3 364.2h1M228.6 377.3h1M232.6 367.8h1M234.7 363.1h1M224.6 372.9h1M229.0 359.1h1M221.7 359.1h1M247.7 366.1h1M244.6 354.1h1M220.7 342.3h1M236.3 364.0h1M236.3 367.1h1M231.3 361.3h1M220.2 367.6h1M218.4 376.9h1M231.3 368.1h1M217.8 364.6h1M222.2 366.7h1M231.6 378.6h1M241.8 370.5h1M228.8 356.2h1M228.9 363.3h1M245.8 349.6h1M222.5 361.7h1M222.3 360.9h1M225.8 357.7h1M232.6 361.9h1M232.5 371.3h1M222.3 362.9h1M224.5 365.4h1M231.1 357.4h1M217.4 365.8h1M239.4 372.7h1M246.5 370.6h1M235.7 373.9h1M227.4 368.0h1M231.2 358.9h1M235.1 359.4h1M217.8 354.3h1M226.5 355.2h1M239.6 371.8h1M235.2 377.5h1M231.2 365.8h1M221.2 358.2h1M242.2 358.8h1M222.0 360.3h1M217.4 375.8h1M219.9 355.3h1M217.9 363.8h1M229.8 351.2h1M236.5 364.1h1M236.6 378.0h1M238.4 351.7h1M246.9 359.2h1M224.5 364.4h1M237.1 362.2h1M237.6 360.7h1M241.0 364.4h1M222.5 355.5h1M238.9 358.5h1M242.6 354.9h1M230.5 360.3h1M239.1 364.0h1M247.2 370.0h1M217.6 362.5h1M219.1 372.4h1M217.7 362.8h1M225.9 373.5h1M236.6 354.4h1M236.3 364.1h1M247.6 363.6h1M227.9 355.7h1M219.7 356.6h1M217.8 356.3h1M233.8 362.5h1M224.8 368.4h1M234.4 356.6h1M224.5 366.1h1M220.5 366.4h1M230.9 365.4h1M237.6 358.4h1M246.4 362.8h1M229.8 362.0h1M224.2 353.1h1M230.5 361.9h1M218.0 355.0h1M239.1 355.9h1M226.8 363.5h1M230.8 360.5h1M222.0 373.3h1M241.1 360.4h1M249.8 366.1h1M217.1 371.5h1M242.9 370.0h1M260.5 366.0h1M241.8 366.5h1M233.1 346.7h1M234.7 369.5h1M236.0 361.7h1M219.8 363.9h1M233.7 359.5h1M244.4 355.2h1M230.6 362.9h1M225.8 378.0h1M227.0 371.9h1M232.3 363.0h1M227.0 363.9h1M229.4 364.5h1M219.9 363.4h1M220.2 372.7h1M240.7 369.6h1M218.4 363.8h1M218.6 366.9h1M235.9 369.6h1M220.3 366.4h1M221.0 360.0h1M236.2 362.1h1M234.6 349.0h1M234.0 341.5h1M231.3 358.6h1M217.4 363.1h1M239.3 366.3h1M230.2 356.9h1M240.8 372.0h1M247.1 373.1h1M237.2 375.9h1M230.5 344.9h1M218.0 358.3h1M217.8 365.4h1M232.3 372.0h1M223.5 363.2h1M229.1 368.2h1M226.8 349.4h1M241.1 346.4h1M226.1 366.8h1M230.5 375.4h1M238.2 351.9h1M224.4 367.0h1M219.5 367.6h1M235.8 356.9h1M242.1 363.9h1M235.0 370.0h1M219.3 356.2h1M241.0 360.8h1M241.3 377.7h1M237.1 362.5h1M216.7 361.2h1M258.8 364.5h1M234.0 360.2h1M222.2 369.6h1M217.3 360.8h1M217.8 359.6h1M234.6 360.8h1M235.3 359.5h1M220.3 377.5h1M228.7 370.4h1M224.3 371.1h1M229.0 367.9h1M240.0 362.2h1M218.2 365.4h1M230.8 366.7h1M226.4 364.7h1M254.6 363.4h1M221.2 366.8h1M244.8 361.8h1M236.4 351.6h1M224.2 363.6h1M250.8 348.6h1M229.8 372.0h1M220.2 364.9h1M236.9 370.7h1M241.5 366.1h1M240.9 362.5h1M225.2 367.7h1M225.5 363.4h1M240.1 369.8h1M219.9 363.0h1M222.5 368.3h1M227.1 364.4h1M234.0 364.7h1M246.4 347.3h1M225.9 361.7h1M220.0 359.0h1M231.7 371.5h1M216.6 364.6h1M216.6 366.3h1M217.8 362.8h1M238.4 369.0h1M237.6 365.0h1M240.1 370.6h1M224.9 373.9h1M235.2 360.6h1M222.2 376.5h1M230.1 339.3h1M240.4 365.9h1M229.1 357.1h1M237.2 373.1h1M247.0 361.6h1M228.7 373.2h1M247.0 365.8h1M233.8 367.7h1M237.8 345.5h1M238.5 351.6h1M238.8 361.7h1M235.6 350.3h1M227.1 373.2h1M238.0 352.8h1M231.8 368.7h1M232.2 358.1h1M223.8 362.1h1M228.2 357.3h1M222.8 362.7h1M235.5 367.0h1M234.4 365.8h1M234.4 355.8h1M245.3 372.7h1M218.2 362.0h1M243.1 360.9h1M217.8 356.8h1M232.3 367.6h1M229.0 359.3h1M235.6 362.8h1M230.7 362.2h1M224.5 353.7h1M235.1 354.5h1M218.7 359.0h1M230.8 368.3h1M237.9 365.0h1M221.1 366.0h1M247.7 365.0h1M228.4 357.1h1M228.5 365.6h1M247.2 366.0h1M230.3 366.8h1M248.2 362.8h1M219.0 350.2h1M236.4 364.1h1M240.4 377.8h1M240.5 357.9h1M243.7 350.4h1M224.0 369.0h1M225.0 375.7h1M227.2 365.9h1M218.4 363.8h1M226.1 376.8h1M260.7 375.5h1M241.0 361.6h1M240.7 363.1h1M220.0 372.1h1M237.1 357.3h1M224.2 369.2h1M225.8 346.3h1M231.3 363.8h1M226.9 341.9h1M217.7 361.2h1M225.2 350.8h1M232.4 355.9h1M240.1 313.9h1M234.6 313.9h1M239.8 308.2h1M228.5 307.9h1M230.8 311.2h1M237.8 303.9h1M240.3 302.3h1M226.0 321.5h1M231.4 307.3h1M238.0 311.9h1M235.3 317.5h1M234.3 313.4h1M234.9 314.4h1M227.6 316.5h1M234.1 310.9h1M243.5 313.0h1M236.5 301.0h1M244.0 311.9h1M243.7 298.0h1M221.0 306.0h1M240.8 301.3h1M237.5 298.6h1M242.4 303.1h1M219.3 302.2h1M256.6 323.9h1M233.5 313.6h1M237.9 308.5h1M247.3 301.0h1M239.0 299.2h1M220.9 309.3h1M251.4 305.8h1M240.7 303.0h1M234.3 312.3h1M246.9 319.5h1M236.3 304.0h1M239.9 317.8h1M220.4 313.4h1M237.8 296.3h1M235.5 317.9h1M229.5 302.5h1M223.2 310.9h1M234.2 306.5h1M244.5 316.6h1M247.8 311.0h1M259.3 300.5h1M228.6 315.9h1M223.9 306.3h1M227.7 312.7h1M233.9 320.4h1M239.3 301.5h1M234.3 306.7h1M253.6 311.7h1M236.6 303.9h1M218.1 309.8h1M253.1 315.9h1M227.3 305.3h1M238.4 311.0h1M261.1 303.2h1M240.7 315.1h1M252.4 300.9h1M244.0 318.2h1M227.7 311.2h1M223.2 308.9h1M228.2 304.9h1M245.7 304.0h1M239.6 305.0h1M243.2 309.1h1M225.0 310.0h1M235.7 303.5h1M252.7 305.5h1M236.5 323.2h1M236.4 305.6h1M239.8 307.3h1M233.9 308.3h1M248.1 300.8h1M230.9 306.7h1M233.3 311.0h1M228.2 309.2h1M235.5 308.4h1M233.8 313.6h1M229.8 317.3h1M243.4 306.2h1M238.7 315.7h1M230.8 313.7h1M235.6 296.5h1M222.5 307.7h1M235.6 304.4h1M236.0 305.9h1M247.6 299.4h1M229.7 301.6h1M235.8 314.3h1M217.0 307.4h1M233.4 301.8h1M242.1 302.9h1M226.6 298.8h1M227.2 307.3h1M227.7 317.3h1M240.5 310.9h1M239.0 311.8h1M221.7 314.5h1M238.2 305.9h1M247.2 316.4h1M230.7 314.0h1M233.2 300.0h1M234.6 314.1h1M249.6 314.8h1M235.3 307.3h1M226.2 318.8h1M240.1 309.8h1M248.2 296.3h1M252.4 304.8h1M232.0 306.3h1M236.8 325.2h1M257.5 311.2h1M225.6 314.1h1M237.7 312.0h1M224.2 302.1h1M245.5 312.1h1M241.7 302.2h1M240.3 316.3h1M236.7 301.7h1M236.9 315.6h1M227.1 311.9h1M218.3 311.3h1M228.8 303.6h1M230.7 301.3h1M242.4 311.8h1M233.5 314.8h1M242.2 301.6h1M246.5 316.2h1M247.8 299.5h1M242.5 307.1h1M224.7 320.5h1M232.3 311.4h1M230.3 316.4h1M236.8 307.0h1M242.4 300.2h1M239.7 316.1h1M240.4 316.4h1M243.1 310.6h1M230.3 305.8h1M237.0 318.0h1M236.0 310.3h1M227.7 300.4h1M242.1 301.7h1M240.2 312.6h1M256.1 308.7h1M222.3 306.6h1M242.7 315.1h1M252.6 315.6h1M250.7 325.4h1M219.6 298.4h1M225.6 308.8h1M244.8 317.1h1M245.8 302.0h1M256.2 310.9h1M232.8 304.0h1M222.9 311.6h1M230.7 311.4h1M226.7 323.7h1M239.1 310.9h1M244.6 299.6h1M223.2 304.9h1M294.7 298.3h1M253.1 301.5h1M296.3 299.0h1M285.0 296.8h1M250.8 307.1h1M278.9 307.6h1M258.6 344.7h1M217.6 334.6h1M228.6 329.8h1M245.9 337.1h1M232.7 337.1h1M241.2 340.5h1M222.9 338.8h1M229.7 331.7h1M225.4 329.7h1M229.7 335.4h1M242.4 347.9h1M240.2 344.7h1M235.8 333.9h1M225.3 329.5h1M252.4 341.8h1M230.5 336.5h1M219.3 332.8h1M240.3 333.9h1M225.7 329.0h1M249.3 343.5h1M243.8 327.8h1M237.4 333.6h1M239.4 332.1h1M228.2 335.3h1M222.1 331.3h1M217.5 330.0h1M252.2 336.4h1M232.3 341.6h1M244.2 337.9h1M229.6 339.1h1M254.0 331.2h1M218.8 342.2h1M239.8 337.0h1M233.0 333.1h1M240.4 341.6h1M235.1 342.9h1M233.8 333.7h1M223.9 328.5h1M246.1 328.7h1M226.3 332.0h1M242.3 334.5h1M233.7 327.9h1M245.4 344.9h1M243.4 332.2h1M231.9 335.3h1M244.2 331.1h1M229.8 336.1h1M231.6 326.9h1M236.0 332.5h1M249.2 344.9h1M246.1 330.8h1M233.7 333.5h1M230.0 340.6h1M247.0 336.5h1M238.8 339.8h1M232.7 338.0h1M226.2 341.5h1M238.0 336.9h1M233.5 341.7h1M239.4 336.8h1M231.1 335.8h1M228.6 338.6h1M221.3 330.9h1M235.8 335.5h1M252.8 341.2h1M256.1 346.1h1M236.1 335.5h1M217.9 341.0h1M230.0 339.3h1M239.9 336.3h1M219.6 337.1h1M235.5 330.9h1M246.9 348.7h1M240.1 343.1h1M217.8 332.8h1M242.1 335.8h1M240.5 328.4h1M227.9 334.1h1M228.2 335.9h1M278.8 351.5h1M299.4 332.6h1M237.5 361.1h1M317.6 313.4h1M227.1 327.1h1M329.2 315.5h1M266.6 332.4h1M271.0 329.9h1M256.8 340.1h1M250.3 344.7h1M398.5 372.6h1M410.0 353.0h1M393.4 377.3h1M391.9 370.8h1M380.3 365.1h1M398.6 366.9h1M398.6 372.4h1M394.4 364.6h1M402.7 372.9h1M415.6 372.8h1M384.7 364.9h1M404.2 369.3h1M384.6 365.7h1M417.2 366.0h1M409.5 373.1h1M384.6 377.3h1M394.5 369.0h1M393.2 360.6h1M396.8 362.0h1M405.2 359.9h1M384.2 374.3h1M401.3 378.0h1M403.6 369.4h1M389.6 367.6h1M383.8 373.9h1M391.1 364.5h1M388.2 370.9h1M396.7 375.1h1M386.9 369.2h1M390.9 368.3h1M383.0 365.4h1M380.9 368.1h1M408.5 365.0h1M401.9 363.9h1M399.1 376.6h1M405.5 376.6h1M393.9 376.9h1M399.5 363.2h1M419.5 358.7h1M391.6 367.1h1M394.2 370.4h1M411.4 352.1h1M394.4 350.5h1M383.5 368.9h1M395.8 372.0h1M395.0 370.4h1M389.6 354.4h1M407.3 359.0h1M393.0 354.7h1M380.3 365.6h1M386.8 377.2h1M403.7 356.4h1M400.6 365.9h1M392.9 369.5h1M382.8 365.4h1M396.5 363.1h1M407.0 365.0h1M414.0 372.4h1M392.6 364.3h1M409.4 368.6h1M387.7 361.3h1M405.8 364.0h1M408.4 366.9h1M403.0 366.6h1M390.7 376.2h1M391.5 363.9h1M396.4 366.3h1M385.2 374.5h1M405.9 366.3h1M397.3 356.4h1M401.4 364.8h1M380.7 378.7h1M398.3 371.1h1M382.0 378.6h1M398.1 363.5h1M410.7 369.3h1M384.6 369.1h1M404.6 363.9h1M405.3 367.9h1M403.9 369.1h1M394.7 358.2h1M381.3 367.5h1M400.0 365.8h1M395.6 359.0h1M406.6 369.8h1M403.0 365.9h1M381.2 366.2h1M433.3 357.2h1M385.1 373.7h1M395.6 374.2h1M406.0 356.3h1M381.2 369.5h1M384.0 371.0h1M380.4 368.0h1M383.0 377.8h1M397.0 367.5h1M402.5 372.6h1M381.1 363.0h1M392.9 365.7h1M390.4 357.0h1M405.5 371.8h1M414.4 371.0h1M407.9 365.5h1M415.7 364.7h1M394.4 356.7h1M401.0 366.7h1M389.4 367.9h1M411.3 362.8h1M395.4 361.3h1M388.8 364.9h1M387.6 373.7h1M404.1 362.6h1M405.7 372.0h1M392.3 362.6h1M384.1 371.7h1M395.9 377.0h1M411.6 363.2h1M410.8 377.9h1M391.6 377.3h1M406.1 366.7h1M401.7 364.2h1M383.4 363.3h1M388.4 366.1h1M398.1 372.0h1M396.7 375.7h1M399.3 378.4h1M380.9 377.3h1M393.6 377.4h1M397.5 368.3h1M405.6 365.2h1M389.8 360.1h1M391.7 366.3h1M380.4 371.5h1M390.2 366.3h1M393.4 366.4h1M400.1 375.8h1M395.0 373.1h1M387.6 361.8h1M399.7 358.1h1M388.3 369.7h1M402.6 362.6h1M380.5 370.0h1M402.1 373.8h1M401.7 370.1h1M409.5 372.3h1M408.9 360.1h1M391.3 367.3h1M400.4 369.6h1M425.7 359.5h1M397.2 364.1h1M383.4 377.2h1M381.8 369.0h1M399.1 369.7h1M389.4 374.1h1M395.6 369.1h1M405.7 367.4h1M393.7 374.6h1M392.1 359.2h1M405.9 369.9h1M396.5 372.1h1M389.5 365.2h1M395.4 377.0h1M398.9 376.1h1M387.8 377.1h1M413.5 378.7h1M409.1 373.5h1M403.5 367.7h1M391.5 375.5h1M381.3 377.2h1M394.1 377.5h1M381.5 364.3h1M394.9 366.8h1M398.7 360.5h1M413.4 362.6h1M410.3 373.8h1M380.5 370.3h1M404.6 366.4h1M400.8 370.6h1M395.7 376.7h1M404.6 368.4h1M399.0 373.9h1M381.9 376.3h1M394.0 365.8h1M404.1 368.1h1M400.4 360.1h1M396.1 372.0h1M394.4 372.7h1M403.0 367.2h1M397.9 369.5h1M385.4 370.1h1M402.2 370.8h1M407.6 364.0h1M388.4 371.7h1M383.6 370.3h1M396.8 376.3h1M401.1 373.2h1M397.2 376.5h1M388.3 362.0h1M398.2 356.1h1M396.8 372.4h1M395.8 364.5h1M408.1 377.8h1M400.2 357.5h1M381.6 368.6h1M384.9 365.1h1M388.8 369.3h1M410.2 361.8h1M401.3 363.5h1M407.4 362.6h1M416.9 371.5h1M381.1 378.4h1M384.2 377.5h1M394.3 369.5h1M397.7 368.4h1M395.5 369.1h1M397.0 365.3h1M403.8 367.9h1M400.0 371.3h1M413.9 362.8h1M413.3 373.7h1M407.9 366.6h1M403.0 360.0h1M381.3 378.5h1M406.0 363.6h1M381.5 365.4h1M398.8 355.9h1M398.5 357.0h1M395.2 368.5h1M408.4 363.4h1M384.3 350.0h1M397.9 370.1h1M397.8 373.9h1M395.4 367.0h1M390.9 372.5h1M412.4 363.7h1M402.5 357.2h1M389.4 365.6h1M413.2 369.6h1M380.9 373.7h1M403.4 368.1h1M400.6 354.9h1M399.7 367.8h1M389.7 377.6h1M384.9 372.7h1M382.3 359.7h1M400.3 338.4h1M395.6 362.2h1M408.3 378.6h1M393.7 370.8h1M389.4 378.7h1M384.1 367.0h1M393.1 358.5h1M399.0 368.4h1M380.8 373.0h1M394.2 374.3h1M385.4 368.6h1M398.1 367.3h1M395.3 367.1h1M393.4 360.0h1M405.3 365.0h1M392.1 366.7h1M403.2 367.9h1M420.3 376.4h1M398.1 367.1h1M393.1 377.1h1M406.8 369.6h1M381.6 369.5h1M383.8 374.1h1M413.1 354.7h1M388.0 364.0h1M387.4 358.5h1M400.3 361.5h1M385.1 377.1h1M416.6 371.8h1M385.2 378.1h1M413.2 356.8h1M388.5 370.1h1M401.6 369.5h1M388.5 372.1h1M405.5 363.5h1M399.6 363.7h1M384.9 368.8h1M392.1 377.7h1M385.1 369.0h1M396.3 356.4h1M380.6 371.1h1M383.9 366.1h1M394.3 366.1h1M380.7 366.0h1M399.2 369.1h1M417.8 375.8h1M384.0 369.9h1M405.4 367.5h1M397.2 367.3h1M381.0 367.4h1M415.8 368.9h1M385.5 376.2h1M385.9 365.6h1M381.5 363.5h1M409.5 362.7h1M407.2 373.5h1M394.2 365.1h1M394.1 369.8h1M406.0 373.9h1M394.5 371.9h1M395.1 377.7h1M399.1 362.1h1M419.1 365.2h1M399.0 375.0h1M407.7 367.1h1M426.2 355.3h1M402.2 361.6h1M391.0 357.5h1M396.7 371.7h1M392.2 375.5h1M384.9 376.4h1M399.7 349.6h1M409.2 367.8h1M395.5 370.7h1M384.5 374.5h1M408.6 368.4h1M414.2 364.6h1M394.9 369.5h1M384.8 378.5h1M385.3 378.7h1M401.7 368.5h1M407.7 368.4h1M404.8 357.0h1M381.0 372.7h1M405.6 366.9h1M391.6 377.8h1M394.6 369.2h1M409.2 365.3h1M391.6 377.5h1M380.5 366.2h1M397.4 366.0h1M407.1 363.1h1M396.9 351.2h1M391.2 377.8h1M397.0 361.8h1M390.1 376.9h1M400.4 361.1h1M384.6 363.5h1M400.7 375.2h1M406.0 366.3h1M403.4 365.1h1M381.0 369.5h1M407.0 371.0h1M381.8 373.3h1M416.1 377.4h1M404.8 359.8h1M407.7 364.8h1M391.7 369.4h1M388.3 371.2h1M407.2 361.7h1M403.0 368.1h1M397.0 354.1h1M388.9 369.4h1M394.1 366.9h1M398.5 362.4h1M393.2 364.4h1M408.8 371.1h1M398.7 370.6h1M396.3 364.5h1M410.6 363.4h1M388.7 370.0h1M380.8 368.8h1M389.8 370.1h1M387.0 378.3h1M394.7 357.2h1M409.6 367.1h1M381.0 367.6h1M398.1 359.9h1M380.4 378.5h1M389.3 365.6h1M389.2 377.1h1M396.7 371.5h1M399.5 368.2h1M417.2 367.7h1M408.4 370.4h1M395.0 362.2h1M382.2 367.4h1M399.1 355.6h1M408.2 368.3h1M393.3 368.1h1M390.6 367.2h1M395.4 365.2h1M410.8 359.4h1M402.6 377.9h1M390.2 373.8h1M399.3 359.7h1M386.0 371.1h1M401.2 359.6h1M396.3 375.4h1M382.0 374.8h1M401.9 365.9h1M381.2 371.2h1M385.8 371.3h1M385.5 366.7h1M391.2 373.1h1M404.3 358.0h1M429.9 365.1h1M412.5 359.9h1M383.0 369.9h1M390.0 363.5h1M383.6 377.1h1M388.6 371.7h1M395.7 373.3h1M408.7 366.7h1M382.6 368.8h1M390.2 374.4h1M391.3 377.3h1M381.2 365.2h1M392.1 367.4h1M413.9 371.3h1M398.5 367.1h1M398.1 358.6h1M425.4 359.9h1M397.9 362.9h1M392.9 374.0h1M386.9 354.2h1M417.4 365.7h1M385.7 357.8h1M385.9 376.8h1M386.4 370.3h1M385.9 355.3h1M399.1 362.3h1M408.1 377.5h1M390.5 374.0h1M398.5 366.7h1M390.1 371.7h1M412.0 357.4h1M397.0 360.3h1M393.6 377.9h1M396.9 372.1h1M414.7 368.9h1M396.3 365.7h1M413.1 362.1h1M404.4 372.1h1M381.5 366.8h1M391.7 368.0h1M406.8 358.0h1M381.7 378.6h1M405.5 366.2h1M400.6 361.6h1M383.8 364.2h1M388.2 364.8h1M394.5 357.2h1M381.9 371.8h1M386.9 360.6h1M396.9 363.6h1M382.7 371.1h1M398.2 372.0h1M401.9 367.2h1M416.7 361.6h1M401.3 368.0h1M403.0 365.8h1M402.7 377.6h1M411.2 364.3h1M380.3 361.7h1M394.7 372.7h1M389.1 378.3h1M412.2 367.3h1M403.6 371.2h1M388.3 360.8h1M389.4 372.9h1M398.1 375.6h1M406.6 370.4h1M394.8 360.2h1M406.2 376.1h1M396.6 363.1h1M400.8 364.0h1M391.2 369.0h1M407.9 370.1h1M403.4 367.8h1M398.0 376.3h1M406.8 373.1h1M407.8 369.3h1M401.2 366.8h1M396.9 371.2h1M407.1 362.4h1M388.6 375.8h1M393.8 377.5h1M397.5 377.6h1M394.0 354.0h1M404.5 371.9h1M399.7 364.2h1M401.7 362.2h1M393.5 355.0h1M395.0 363.5h1M389.4 362.1h1M390.3 371.5h1M381.5 368.7h1M399.4 360.8h1M388.3 372.4h1M392.2 356.7h1M403.0 372.4h1M401.2 375.3h1M409.9 364.3h1M384.2 377.4h1M396.0 369.8h1M406.5 362.1h1M392.4 369.7h1M391.0 377.1h1M386.7 366.9h1M397.7 354.5h1M390.1 354.0h1M392.0 353.6h1M380.2 378.5h1M401.2 366.2h1M398.3 376.7h1M400.2 367.4h1M407.6 374.0h1M406.3 364.9h1M395.5 368.7h1M412.4 366.3h1M384.0 375.2h1M416.7 367.3h1M380.8 364.2h1M395.2 378.5h1M401.6 362.3h1M402.3 360.3h1M403.5 372.5h1M409.6 361.9h1M394.2 370.0h1M386.8 369.9h1M400.9 356.2h1M393.9 362.7h1M390.0 367.1h1M404.6 370.8h1M388.2 374.5h1M404.3 362.3h1M396.1 369.6h1M397.6 375.0h1M381.4 375.8h1M397.4 361.4h1M392.7 367.7h1M398.3 378.8h1M396.9 355.2h1M404.3 370.1h1M393.5 378.0h1M382.1 363.8h1M394.2 349.6h1M394.5 378.7h1M395.2 361.2h1M408.1 354.6h1M387.2 363.7h1M391.0 353.1h1M380.6 365.3h1M388.7 371.3h1M395.6 376.4h1M388.6 361.7h1M401.9 363.1h1M385.8 366.7h1M396.7 364.1h1M381.3 368.8h1M400.7 370.0h1M397.9 377.4h1M416.9 365.4h1M386.0 364.0h1M397.8 368.7h1M388.9 369.4h1M407.9 354.3h1M393.4 369.5h1M387.1 374.2h1M407.0 368.4h1M407.9 371.2h1M410.8 349.0h1M442.9 353.6h1M436.4 341.1h1M447.6 317.1h1M460.5 345.0h1M471.3 324.4h1M453.3 331.4h1M468.3 342.8h1M427.7 340.8h1M413.8 350.3h1M443.1 351.0h1M455.7 341.1h1M440.6 344.1h1M424.4 357.8h1M461.7 330.0h1M415.0 347.7h1M436.2 346.2h1M472.7 343.4h1M446.7 355.8h1M412.0 346.6h1M450.0 350.1h1M452.8 342.3h1M475.1 338.3h1M409.7 355.8h1M470.5 343.6h1M473.5 341.9h1M417.6 363.1h1M476.5 351.7h1M421.5 348.5h1M473.5 332.7h1M455.9 341.6h1M425.1 355.8h1M440.0 344.2h1M420.3 353.8h1M437.5 348.1h1M441.1 324.2h1M436.3 340.7h1M414.2 349.5h1M429.5 352.3h1M425.4 345.7h1M421.3 356.6h1M411.8 356.1h1M428.8 350.2h1M476.1 339.4h1M423.9 346.2h1M409.2 352.2h1M436.1 338.1h1M407.6 360.3h1M411.0 343.9h1M451.6 336.3h1M424.0 352.2h1M429.9 349.2h1M449.0 314.0h1M413.8 361.9h1M457.5 337.1h1M474.5 322.5h1M436.0 331.7h1M450.7 346.4h1M451.5 338.9h1M447.4 350.4h1M407.7 352.1h1M426.8 348.0h1M478.2 343.2h1M414.8 342.5h1M475.2 325.3h1M405.9 354.1h1M419.0 347.7h1M452.1 331.3h1M466.6 339.1h1M451.5 343.1h1M463.6 337.7h1M471.6 339.1h1M459.0 342.6h1M457.2 328.9h1M427.7 352.9h1M460.3 328.8h1M449.2 333.2h1M449.1 357.3h1M469.6 340.7h1M415.0 351.8h1M436.6 339.5h1M446.3 329.7h1M475.6 343.7h1M441.9 347.8h1M438.7 341.5h1M449.1 330.8h1M425.8 348.5h1M462.5 352.3h1M429.7 361.7h1M447.4 341.5h1M413.6 342.8h1M431.0 344.4h1M434.2 341.9h1M470.7 329.1h1M453.4 337.2h1M474.7 344.1h1M467.8 331.9h1M435.3 345.4h1M413.9 336.9h1M426.2 339.6h1M412.9 338.2h1M419.4 352.9h1M453.2 353.9h1M456.7 346.1h1M474.1 321.3h1M465.8 333.2h1M424.9 337.7h1M447.7 340.6h1M441.6 330.3h1M437.0 334.1h1M447.4 334.9h1M437.8 341.3h1M420.4 362.6h1M470.3 352.7h1M412.7 353.3h1M428.5 342.2h1M473.3 324.1h1M468.7 320.3h1M411.3 349.5h1M449.8 334.9h1M472.2 330.9h1M413.4 354.2h1M409.9 359.6h1M453.5 362.5h1M439.9 364.7h1M430.0 329.8h1M435.7 352.0h1M466.1 346.3h1M432.9 345.2h1M442.5 335.7h1M471.8 322.2h1M438.5 332.7h1M468.3 356.2h1M476.9 336.6h1M456.2 344.4h1M443.0 348.5h1M468.6 325.2h1M432.5 345.6h1M443.5 328.6h1M445.6 333.8h1M386.5 329.9h1M415.0 314.7h1M426.2 326.1h1M410.9 327.5h1M426.5 320.6h1M398.1 338.7h1M413.3 329.2h1M413.0 333.0h1M412.8 342.5h1M426.9 326.6h1M413.9 345.7h1M397.0 339.9h1M395.8 351.1h1M389.9 349.7h1M383.7 350.0h1M392.9 352.5h1M383.1 347.5h1M395.9 339.5h1M390.2 350.9h1M403.7 348.4h1M411.4 354.7h1M383.7 344.0h1M457.9 320.8h1M461.6 319.7h1M455.9 327.8h1M484.6 320.6h1M470.7 311.6h1M479.5 311.1h1M500.2 309.2h1M477.0 315.7h1M458.2 323.8h1M471.7 333.6h1M452.7 319.2h1M498.8 321.1h1M475.8 327.7h1M483.9 320.2h1M500.4 326.9h1M465.6 324.9h1M468.8 329.9h1M482.5 335.6h1M455.4 321.9h1M476.7 323.5h1M452.5 314.6h1M469.1 319.6h1M475.5 315.6h1M478.6 316.7h1M483.0 312.2h1M468.8 329.0h1M474.1 327.6h1M482.9 311.2h1M453.1 322.7h1M467.9 326.5h1M469.0 329.0h1M454.1 330.3h1M494.6 315.1h1M480.3 315.9h1M460.2 333.4h1M487.9 325.4h1M471.0 327.4h1M473.8 317.6h1M475.6 312.4h1M487.3 324.4h1M489.6 325.6h1M468.5 324.9h1M471.5 332.3h1M486.0 311.8h1M478.2 314.8h1M494.2 309.0h1M475.2 322.7h1M491.5 307.6h1M469.5 332.0h1M484.3 309.1h1M454.5 325.8h1M467.2 310.1h1M476.3 306.1h1M472.2 312.8h1M480.5 312.4h1M465.5 327.8h1M484.0 308.3h1M478.0 319.2h1M470.5 321.7h1M474.0 334.7h1M473.1 308.8h1M468.2 327.0h1M467.1 319.4h1M432.6 342.7h1M449.2 305.0h1M458.2 355.4h1M502.2 329.1h1M507.0 315.4h1M462.3 316.7h1M437.0 315.5h1M501.6 310.4h1M462.8 375.7h1M393.2 328.7h1M509.0 328.3h1M478.1 316.5h1M469.4 351.1h1M461.8 328.5h1M504.9 312.1h1M427.2 318.3h1M430.9 314.8h1M498.9 309.6h1M467.2 317.6h1M459.9 333.8h1M423.4 74.0h1M443.3 71.3h1M437.2 76.5h1M439.4 71.1h1M434.1 73.1h1M438.4 71.7h1M438.5 67.7h1M429.9 73.1h1M449.4 75.9h1M441.6 74.7h1M447.3 73.5h1M438.4 73.1h1M438.4 72.5h1M435.0 76.9h1M450.1 69.6h1M428.0 79.3h1M438.0 71.4h1M435.1 70.6h1M434.5 77.8h1M428.0 71.0h1M439.9 75.0h1M427.7 73.4h1M433.1 71.6h1M439.9 72.5h1M440.6 76.0h1M426.2 78.1h1M452.0 70.0h1M448.8 75.5h1M448.5 69.5h1M426.1 75.9h1M453.0 70.1h1M425.9 75.6h1M446.2 71.4h1M443.3 69.6h1M443.9 76.1h1M432.9 77.5h1M427.0 75.9h1M447.7 71.2h1M430.0 79.5h1M452.2 70.4h1M433.9 68.9h1M427.2 72.3h1M440.5 72.0h1M438.4 74.0h1M422.5 78.7h1M448.1 70.3h1M438.1 72.3h1M448.1 72.8h1M431.3 78.3h1M429.3 77.8h1M448.1 74.5h1M435.1 78.6h1M443.5 73.7h1M450.1 68.5h1M443.2 73.2h1M432.9 80.1h1M443.5 74.1h1M433.0 71.0h1M444.4 71.2h1M443.3 74.3h1M433.2 73.5h1M434.5 75.9h1M450.0 68.6h1M437.5 71.0h1M440.6 73.3h1M440.4 70.2h1M445.6 67.6h1M446.3 69.1h1M430.0 73.8h1M438.2 65.7h1M431.8 74.7h1M424.5 78.9h1M436.5 74.5h1M437.1 73.0h1M434.1 72.5h1M437.4 71.2h1M426.7 75.9h1M442.2 73.6h1M453.1 72.6h1M447.9 67.1h1M450.6 74.0h1M444.6 73.4h1M421.7 73.7h1M437.0 71.6h1M433.0 75.7h1M437.2 71.9h1M445.7 71.5h1M433.1 72.6h1M434.4 73.4h1M446.1 75.9h1M440.6 74.0h1M451.6 66.5h1M429.7 79.3h1M430.5 72.7h1M441.8 72.2h1M455.5 71.0h1M452.3 71.7h1M442.1 72.8h1M459.2 68.4h1M453.7 69.8h1M435.8 74.6h1M431.2 73.7h1M444.1 70.9h1M447.3 70.4h1M446.6 67.6h1M446.1 70.7h1M432.8 77.5h1M429.0 77.0h1M437.8 76.0h1M437.6 70.8h1M436.9 71.8h1M455.9 68.1h1M453.9 67.1h1M418.4 81.0h1M439.5 74.3h1M434.2 74.4h1M444.0 72.5h1M441.3 73.0h1M437.2 75.0h1M441.4 74.9h1M454.8 69.6h1M451.0 68.6h1M435.6 76.2h1M438.5 75.8h1M440.4 72.2h1M430.8 77.5h1M424.0 77.6h1M436.9 72.0h1M443.3 72.0h1M444.5 68.4h1M425.2 77.8h1M451.4 67.1h1M441.0 75.5h1M431.9 76.8h1M451.4 73.8h1M451.3 76.4h1M435.5 73.3h1M440.1 74.6h1M418.4 79.4h1M453.5 70.6h1M453.1 68.4h1M437.9 74.0h1M440.6 77.9h1M452.7 67.3h1M453.6 64.0h1M421.0 77.6h1M425.5 69.0h1M425.3 64.6h1M417.6 76.4h1M426.6 73.6h1M453.2 64.2h1M447.4 73.9h1M459.0 66.4h1M449.1 73.5h1M430.2 155.4h1M428.2 157.0h1M426.0 156.6h1M446.1 152.8h1M421.3 160.6h1M445.5 150.9h1M437.9 156.9h1M439.9 155.9h1M420.2 159.9h1M415.1 163.8h1M447.8 157.1h1M416.5 160.8h1M418.5 160.8h1M433.7 158.6h1M413.7 163.6h1M418.0 161.2h1M436.6 155.5h1M418.1 158.7h1M432.3 152.7h1M419.2 158.9h1M447.9 153.4h1M429.3 158.5h1M447.7 154.0h1M413.3 160.8h1M417.0 158.9h1M416.8 161.2h1M424.1 156.9h1M437.5 158.1h1M432.4 159.5h1M428.9 156.1h1M426.1 160.4h1M420.7 157.5h1M421.8 157.9h1M424.1 159.0h1M448.7 154.0h1M437.3 154.3h1M422.2 156.8h1M413.2 158.6h1M415.0 162.8h1M445.7 152.1h1M416.6 161.6h1M443.6 153.9h1M414.8 159.8h1M417.5 161.4h1M438.4 156.9h1M449.1 153.4h1M421.4 157.8h1M438.5 153.4h1M442.1 152.2h1M432.3 155.4h1M413.4 160.6h1M449.6 153.9h1M442.6 153.4h1M424.9 158.3h1M431.1 157.0h1M438.4 155.1h1M442.6 152.2h1M440.4 157.9h1M433.1 153.6h1M444.4 154.7h1M448.0 151.5h1M415.9 159.0h1M417.9 160.6h1M428.4 158.3h1M438.1 153.2h1M449.0 152.3h1M416.9 161.6h1M417.8 159.9h1M428.1 156.5h1M415.9 159.6h1M419.4 159.6h1M445.7 152.9h1M434.8 150.8h1M440.1 156.7h1M429.1 155.4h1M413.0 159.8h1M419.8 159.6h1M449.5 153.7h1M424.6 158.8h1M419.8 157.5h1M413.4 158.6h1M418.2 160.0h1M437.7 156.9h1M446.1 152.1h1M443.4 155.9h1M438.1 155.7h1M434.2 155.8h1M442.1 154.8h1M447.5 152.9h1M442.8 158.3h1M448.7 150.0h1M426.7 155.4h1M418.0 157.2h1M434.7 157.2h1M429.2 155.5h1M445.9 151.0h1M420.4 159.7h1M444.3 155.2h1M438.1 156.7h1M447.8 153.8h1M436.0 155.2h1M414.1 160.0h1M436.8 156.0h1M424.2 157.1h1M438.8 158.3h1M419.2 158.2h1M440.6 155.1h1M414.7 160.5h1M429.9 157.1h1M438.6 153.5h1M440.2 155.1h1M437.8 156.0h1M442.6 156.4h1M441.9 155.3h1M426.2 158.4h1M426.1 161.6h1M449.1 156.4h1M416.2 159.4h1M441.2 151.0h1M423.3 156.0h1M415.4 159.9h1M415.4 158.4h1M449.1 150.2h1M425.8 155.5h1M418.3 161.1h1M416.9 159.8h1M438.0 143.0h1M417.0 150.6h1M454.2 151.0h1M438.1 233.4h1M457.8 219.7h1M450.3 221.7h1M432.0 230.3h1M437.9 228.6h1M448.8 213.6h1M443.3 230.1h1M457.7 209.4h1M438.9 233.8h1M435.5 242.1h1M455.4 217.7h1M447.1 226.8h1M451.7 218.6h1M452.3 230.0h1M439.6 235.0h1M452.3 219.6h1M444.3 230.1h1M456.0 211.8h1M439.5 229.2h1M444.9 221.8h1M438.0 224.3h1M452.4 221.1h1M439.4 228.3h1M449.2 223.3h1M457.3 221.3h1M451.5 222.9h1M447.2 229.0h1M447.2 227.4h1M433.7 230.5h1M436.0 228.2h1M456.4 224.2h1M446.2 231.8h1M453.1 221.4h1M461.2 212.5h1M419.5 228.9h1M443.2 225.8h1M449.0 228.4h1M447.4 227.2h1M434.2 233.4h1M437.1 223.9h1M427.0 241.6h1M442.3 220.4h1M432.0 229.2h1M446.6 218.9h1M441.0 222.9h1M429.9 223.4h1M441.1 221.6h1M442.8 222.8h1M444.0 228.5h1M433.6 233.9h1M421.2 230.7h1M436.7 225.8h1M429.6 236.4h1M443.4 221.4h1M446.3 230.9h1M435.0 234.4h1M440.2 226.4h1M436.5 224.8h1M430.3 220.5h1M429.4 236.5h1M430.1 226.6h1M447.4 230.0h1M453.6 225.8h1M444.7 226.6h1M456.2 214.7h1M444.1 223.1h1M433.0 237.2h1M444.4 223.4h1M442.7 224.8h1M432.8 227.8h1M435.4 238.4h1M443.8 225.7h1M447.3 225.9h1M431.8 237.2h1M428.7 234.6h1M453.9 216.5h1M431.4 235.3h1M440.4 222.1h1M435.8 227.8h1M438.3 214.8h1M443.3 217.2h1M441.6 230.1h1M432.2 237.7h1M443.4 232.7h1M448.5 209.4h1M455.8 220.2h1M455.8 231.6h1M448.8 222.7h1M441.0 223.5h1M437.3 225.0h1M428.5 229.1h1M442.4 223.7h1M426.7 228.8h1M444.7 223.4h1M426.3 227.9h1M446.1 221.1h1M433.9 240.1h1M434.4 238.6h1M457.8 222.1h1M443.0 220.9h1M450.5 230.4h1M453.5 224.4h1M441.8 233.6h1M441.9 224.3h1M436.8 228.5h1M441.2 221.8h1M424.1 236.1h1M448.1 217.1h1M453.1 221.1h1M445.7 224.2h1M440.9 224.7h1M437.4 223.6h1M448.1 225.3h1M439.7 223.4h1M444.0 225.5h1M456.6 227.4h1M433.5 226.5h1M437.5 233.3h1M437.6 230.4h1M437.4 225.3h1M440.4 223.9h1M447.6 222.4h1M450.2 220.1h1M447.2 216.0h1M442.7 224.7h1M449.1 219.3h1M434.9 226.0h1M451.6 230.0h1M439.0 231.2h1M434.6 226.7h1M430.1 232.8h1M450.0 223.3h1M461.6 225.9h1M444.7 234.2h1M436.7 218.6h1M443.2 219.9h1M452.7 219.8h1M454.3 223.4h1M439.5 221.3h1M438.1 217.6h1M438.2 227.6h1M436.4 219.0h1M440.3 224.4h1M442.3 234.0h1M442.9 223.8h1M444.4 220.4h1M438.4 233.3h1M432.7 229.3h1M442.3 230.5h1M442.2 222.6h1M437.4 233.0h1M448.2 236.0h1M447.9 221.6h1M434.4 228.9h1M450.2 218.7h1M454.1 219.2h1M442.2 222.8h1M433.6 237.5h1M440.6 226.0h1M446.0 226.6h1M448.9 223.6h1M435.9 224.6h1M449.4 209.4h1M438.9 235.4h1M448.0 231.3h1M447.0 215.0h1M451.1 222.4h1M436.3 213.3h1M443.1 227.3h1M427.3 231.3h1M443.5 220.8h1M445.0 222.1h1M442.7 216.6h1M450.7 228.9h1M435.6 228.2h1M442.7 225.2h1M447.1 229.1h1M437.5 226.6h1M432.7 229.6h1M431.4 242.8h1M448.1 232.8h1M437.7 228.7h1M452.4 226.8h1M453.5 222.1h1M453.8 224.9h1M447.4 237.0h1M437.1 223.6h1M452.6 221.3h1M447.9 235.0h1M442.9 226.4h1M446.4 228.9h1M437.4 238.2h1M442.6 229.5h1M438.7 227.1h1M438.6 222.7h1M454.3 230.7h1M446.9 219.7h1M433.6 231.3h1M443.0 218.6h1M450.0 213.6h1M445.7 226.5h1M446.0 220.9h1M447.1 227.6h1M449.9 216.7h1M449.9 227.7h1M458.7 227.7h1M434.1 226.4h1M438.4 226.4h1M458.5 221.0h1M463.7 212.4h1M429.0 234.5h1M443.5 218.9h1M452.1 222.2h1M448.9 220.9h1M447.0 222.9h1M440.2 223.7h1M448.9 228.4h1M440.0 216.5h1M452.2 224.3h1M440.4 233.4h1M447.8 231.5h1M449.0 219.4h1M434.1 227.3h1M438.4 230.9h1M426.0 237.6h1M429.8 229.8h1M448.0 233.7h1M445.1 233.5h1M443.8 227.9h1M451.0 218.2h1M441.5 231.0h1M454.7 226.9h1M429.9 233.0h1M459.0 212.6h1M452.6 224.0h1M437.7 229.2h1M420.2 239.3h1M451.1 219.7h1M432.2 224.5h1M431.4 227.7h1M449.2 227.2h1M443.4 229.9h1M440.7 225.5h1M437.6 228.0h1M455.5 211.6h1M446.7 224.2h1M454.8 222.9h1M449.0 221.6h1M442.2 228.8h1M460.9 229.7h1M436.5 227.1h1M453.5 223.0h1M434.3 232.3h1M427.7 226.9h1M456.6 210.6h1M449.8 220.0h1M445.0 231.1h1M429.3 233.7h1M441.5 218.0h1M449.8 231.2h1M445.9 217.4h1M439.7 225.6h1M440.5 224.2h1M447.1 219.7h1M448.5 225.4h1M456.7 220.5h1M463.3 225.8h1M458.6 208.9h1M434.7 229.1h1M448.6 225.0h1M434.9 228.6h1M455.3 218.4h1M457.7 222.6h1M451.1 211.3h1M439.7 230.1h1M440.4 222.6h1M438.6 222.8h1M436.8 239.6h1M439.3 229.7h1M437.7 222.1h1M428.8 228.9h1M444.3 224.1h1M434.1 229.8h1M448.7 231.9h1M423.8 227.0h1M433.8 228.1h1M440.6 236.5h1M430.8 231.0h1M440.4 226.8h1M436.0 223.4h1M437.1 228.4h1M448.1 217.5h1M449.2 228.7h1M450.8 228.9h1M439.9 230.1h1M446.6 224.9h1M434.7 225.7h1M423.4 232.6h1M449.0 242.6h1M440.5 217.9h1M431.7 224.9h1M436.5 224.2h1M447.0 224.6h1M442.8 223.0h1M434.0 232.8h1M451.1 216.6h1M442.3 226.5h1M456.0 225.4h1M439.0 225.8h1M435.0 219.0h1M449.9 222.5h1M456.9 226.6h1M440.2 229.4h1M442.9 221.0h1M437.7 229.2h1M437.9 224.7h1M443.4 227.1h1M439.0 234.6h1M446.1 226.6h1M430.2 227.2h1M456.6 222.6h1M459.4 221.9h1M454.2 226.3h1M446.9 226.8h1M450.9 226.0h1M433.7 222.8h1M439.1 223.4h1M441.8 220.9h1M432.8 234.9h1M437.6 224.1h1M445.2 214.1h1M444.5 217.9h1M440.1 225.3h1M477.6 207.7h1M443.6 217.9h1M436.0 229.7h1M435.1 225.6h1M477.9 212.3h1M454.5 236.5h1M440.4 213.9h1M463.8 219.9h1M459.0 203.0h1M449.8 235.6h1M456.9 211.5h1M437.0 225.9h1M444.9 236.0h1M451.6 224.1h1M450.0 208.3h1M447.8 215.9h1M468.1 221.4h1M469.3 214.3h1M448.4 213.1h1M442.6 217.7h1M451.0 217.8h1M462.5 219.2h1M447.9 230.0h1M475.9 222.7h1M475.8 212.8h1M418.0 233.7h1M460.3 210.8h1M460.3 220.7h1M463.8 219.5h1M436.7 235.2h1M459.6 216.3h1M474.2 222.0h1M447.0 231.7h1M465.5 207.9h1M450.9 222.9h1M435.3 232.5h1M443.8 222.2h1M441.7 225.7h1M457.7 229.6h1M453.9 210.3h1M439.7 225.3h1M443.8 231.1h1M443.6 225.7h1M448.4 212.3h1M469.7 214.6h1M440.2 236.3h1M467.7 220.8h1M443.8 231.8h1M461.5 207.4h1M448.5 233.0h1M435.0 235.3h1M443.9 234.9h1M450.3 232.4h1M472.8 238.9h1M474.8 207.3h1M457.9 224.2h1M454.5 225.3h1M446.7 222.9h1M449.9 211.3h1M446.4 222.8h1M430.6 213.6h1M442.4 203.1h1M445.2 225.6h1M443.9 239.2h1M460.1 202.5h1M450.0 210.2h1M469.8 212.4h1M435.5 219.7h1M449.0 227.7h1M478.3 210.1h1M443.3 224.3h1M472.5 218.2h1M451.2 208.3h1M444.1 224.7h1M447.1 213.2h1M470.7 215.0h1M443.5 224.7h1M452.9 225.0h1M464.8 210.8h1M407.3 231.8h1M433.5 229.6h1M437.3 226.0h1M453.6 242.3h1M433.7 210.4h1M448.8 224.9h1M455.4 222.5h1M463.2 223.7h1M444.6 219.1h1M460.3 221.1h1M437.3 225.7h1M464.1 208.6h1M452.4 232.6h1M437.8 228.0h1M462.1 222.8h1M442.3 226.7h1M446.2 229.7h1M445.2 232.1h1M415.0 236.8h1M453.9 223.1h1M472.3 219.2h1M452.9 229.5h1M469.0 227.8h1M461.2 228.5h1M447.6 208.8h1M465.5 204.0h1M439.9 219.1h1M467.9 213.6h1M436.8 231.1h1M471.8 218.9h1M460.5 210.4h1M434.0 234.7h1M458.6 218.1h1M443.2 210.5h1M447.7 218.8h1M470.4 201.3h1M438.1 229.6h1M432.0 228.8h1M435.3 227.2h1M451.6 223.9h1M437.6 221.6h1M446.0 220.5h1M438.3 214.5h1M449.5 224.9h1M447.2 210.7h1M453.0 216.9h1M437.4 218.3h1M458.9 221.3h1M433.5 232.9h1M437.7 210.8h1M452.6 224.1h1M457.6 205.6h1M448.8 207.2h1M445.9 230.1h1M455.4 219.4h1M436.2 229.2h1M443.9 235.5h1M466.3 222.9h1M453.6 230.0h1M429.5 235.3h1M446.1 214.9h1M435.8 224.7h1M446.8 218.5h1M448.6 221.9h1M437.8 229.0h1M467.8 220.2h1M454.6 204.5h1M429.6 227.4h1M435.0 221.6h1M457.7 213.9h1M442.0 228.0h1M448.5 221.6h1M444.5 218.0h1M439.6 217.8h1M436.8 212.9h1M440.1 210.7h1M443.0 223.3h1M455.2 224.8h1M450.9 231.5h1M434.7 231.0h1M445.4 230.1h1M423.0 240.6h1M435.0 236.4h1M412.4 243.4h1M434.7 235.9h1M411.5 242.1h1M429.5 233.4h1M410.8 243.8h1M421.7 238.7h1M426.4 237.7h1M415.2 239.8h1M427.8 239.2h1M414.3 243.1h1M419.0 237.2h1M409.5 242.3h1M431.7 232.8h1M423.9 238.8h1M418.8 237.7h1M417.1 243.3h1M430.5 232.7h1M431.6 230.7h1M410.4 244.2h1M417.8 240.6h1M424.5 235.4h1M426.0 228.3h1M413.0 244.8h1M426.9 239.1h1M429.3 234.6h1M429.1 230.6h1M428.5 233.3h1M430.3 234.2h1M420.2 232.2h1M429.2 224.8h1M429.6 236.2h1M410.3 244.4h1M418.7 238.3h1M415.5 244.2h1M421.7 216.3h1M427.9 238.6h1M425.8 230.8h1M420.3 214.1h1" stroke="#000" stroke-width="1" stroke-opacity="0.5"/>
<path d="M74.9 147.5h1M71.4 158.2h1M73.8 154.0h1M77.9 149.1h1M76.1 169.2h1M74.0 155.0h1M67.4 146.7h1M77.5 147.7h1M73.6 148.2h1M68.9 157.8h1M72.3 147.3h1M76.0 161.4h1M75.7 151.0h1M70.3 142.3h1M68.8 171.2h1M73.1 158.5h1M70.4 150.9h1M75.3 158.2h1M79.4 165.5h1M77.2 139.3h1M70.5 156.5h1M80.5 141.7h1M72.4 151.2h1M74.0 137.3h1M79.5 161.3h1M75.0 140.9h1M74.7 150.0h1M75.3 155.9h1M74.1 152.7h1M76.1 149.7h1M81.3 153.3h1M70.0 162.8h1M66.4 163.6h1M77.0 151.5h1M73.2 152.9h1M75.4 169.5h1M78.7 157.2h1M76.4 152.0h1M72.1 154.4h1M76.6 154.1h1M66.6 139.8h1M80.3 157.7h1M72.1 158.8h1M68.8 157.3h1M75.9 150.9h1M71.5 156.1h1M76.0 152.1h1M70.1 147.1h1M80.8 149.0h1M74.6 152.7h1M74.4 157.9h1M72.3 156.5h1M71.1 143.3h1M69.2 155.0h1M67.7 154.2h1M76.5 151.5h1M73.6 154.1h1M70.4 148.4h1M77.6 171.5h1M73.8 147.6h1M75.5 150.1h1M79.5 146.8h1M69.6 143.4h1M75.5 152.2h1M80.2 159.1h1M83.5 147.3h1M78.6 145.3h1M83.3 155.0h1M80.1 160.1h1M80.2 170.9h1M77.4 152.9h1M76.4 150.1h1M75.4 153.6h1M78.6 155.7h1M71.5 159.6h1M71.9 155.3h1M77.9 147.0h1M69.5 158.7h1M76.1 151.6h1M79.8 145.5h1M74.8 146.7h1M72.9 154.8h1M82.6 167.7h1M71.7 154.3h1M76.4 144.3h1M80.1 163.4h1M71.2 155.4h1M81.5 156.9h1M76.2 159.8h1M83.2 154.0h1M78.0 148.6h1M76.6 161.8h1M75.3 162.3h1M76.2 151.0h1M74.3 150.5h1M80.8 149.0h1M76.7 149.7h1M75.2 153.7h1M78.9 161.3h1M73.2 161.9h1M76.5 147.7h1M75.9 166.5h1M75.1 146.7h1M68.6 158.7h1M80.4 158.1h1M83.5 137.7h1M77.1 160.2h1M78.4 156.1h1M75.2 142.5h1M70.2 160.7h1M71.9 153.6h1M77.4 160.9h1M75.3 152.4h1M76.4 160.7h1M71.7 147.7h1M77.6 150.6h1M77.6 165.9h1M77.2 150.8h1M85.2 153.8h1M68.1 151.9h1M69.4 148.4h1M75.5 155.4h1M72.9 146.0h1M77.2 164.6h1M75.9 143.9h1M76.8 153.1h1M81.3 154.9h1M78.7 157.6h1M74.6 153.2h1M80.0 151.4h1M81.0 148.0h1M77.0 154.3h1M81.1 145.7h1M71.7 160.5h1M67.1 159.7h1M82.6 145.7h1M70.8 137.9h1M83.8 156.9h1M68.2 145.4h1M70.2 148.3h1M71.2 142.3h1M76.0 145.8h1M74.7 154.7h1M76.0 161.5h1M76.2 148.5h1M80.3 147.1h1M72.5 155.9h1M72.6 169.7h1M79.1 171.1h1M75.7 152.0h1M71.8 149.6h1M79.3 150.4h1M75.9 147.2h1M71.0 156.1h1M78.0 153.9h1M79.0 158.8h1M71.5 153.7h1M85.1 148.8h1M76.1 161.5h1M85.4 148.4h1M71.3 160.9h1M80.1 148.2h1M74.5 153.5h1M71.0 154.5h1M74.8 149.2h1M82.9 146.9h1M72.0 169.9h1M76.1 152.3h1M70.8 150.1h1M82.4 147.0h1M72.5 146.4h1M72.6 157.0h1M79.1 140.8h1M75.3 138.2h1M75.1 150.9h1M76.2 153.5h1M69.8 152.5h1M66.2 155.1h1M75.4 150.0h1M71.5 161.5h1M76.6 152.3h1M76.9 155.0h1M78.9 141.3h1M77.4 159.7h1M73.1 152.2h1M78.3 151.8h1M78.8 153.3h1M77.3 143.3h1M75.5 155.1h1M70.0 151.0h1M74.4 155.5h1M83.9 162.0h1M70.1 158.1h1M78.1 155.7h1M72.5 151.0h1M79.0 158.2h1M74.7 160.9h1M68.3 148.8h1M77.7 154.9h1M73.3 145.6h1M80.5 155.2h1M76.1 159.0h1M78.8 158.9h1M81.6 152.8h1M80.0 163.2h1M80.5 158.6h1M76.0 155.8h1M76.1 157.1h1M75.3 156.4h1M81.2 154.7h1M77.8 143.4h1M81.2 162.1h1M73.9 160.5h1M76.3 170.7h1M82.1 168.7h1M79.2 174.1h1M80.2 168.6h1M76.7 180.8h1M76.8 168.3h1M82.9 176.4h1M79.4 169.7h1M80.8 177.2h1M71.3 172.3h1M79.4 178.5h1M73.3 170.4h1M74.1 170.4h1M76.7 176.3h1M70.3 182.7h1M75.2 190.6h1M71.6 175.7h1M77.2 168.6h1M78.2 168.9h1M78.2 176.0h1M73.8 177.8h1M78.9 176.6h1M80.7 179.6h1M71.6 182.1h1M86.7 171.7h1M72.5 170.0h1M71.4 177.5h1M72.2 170.0h1M75.8 173.8h1M79.5 172.6h1M71.0 173.0h1M73.1 169.1h1M71.3 169.8h1M77.8 172.1h1M77.1 178.3h1M73.8 181.1h1M74.3 187.2h1M72.4 177.9h1M72.9 171.9h1M79.2 170.1h1M56.2 178.1h1M55.3 178.0h1M121.3 131.3h1M47.9 172.9h1M71.3 147.3h1M99.5 188.2h1M250.2 21.8h1M222.9 22.8h1M230.9 22.0h1M233.9 28.1h1M261.7 24.4h1M239.5 28.0h1M234.4 28.1h1M213.7 25.1h1M230.5 34.5h1M241.1 20.4h1M239.6 29.0h1M228.8 27.1h1M250.8 30.9h1M246.5 28.3h1M217.7 22.2h1M230.9 26.1h1M237.2 21.7h1M218.3 26.1h1M221.5 25.1h1M235.9 24.6h1M223.6 29.1h1M241.6 20.3h1M229.9 25.8h1M248.9 23.9h1M237.7 27.6h1M234.8 24.2h1M237.1 14.7h1M245.7 25.3h1M240.4 28.1h1M234.7 31.8h1M237.1 21.8h1M227.7 25.8h1M244.7 31.3h1M224.4 23.7h1M227.2 32.8h1M250.9 30.8h1M214.4 25.5h1M246.3 20.6h1M233.9 34.3h1M248.3 34.8h1M228.0 22.7h1M242.1 20.3h1M253.2 35.1h1M248.7 30.1h1M231.3 35.8h1M237.4 24.7h1M216.5 25.5h1M241.7 27.3h1M224.1 24.7h1M213.1 23.8h1M232.2 30.2h1M221.5 31.8h1M213.5 22.4h1M222.7 31.6h1M216.8 32.6h1M239.1 28.6h1M230.3 30.6h1M250.0 24.1h1M259.7 34.7h1M240.5 32.4h1M221.2 21.8h1M228.8 29.7h1M236.2 22.2h1M213.2 24.6h1M232.6 27.6h1M243.4 29.0h1M218.9 29.8h1M224.0 27.1h1M248.9 19.8h1M222.4 17.1h1M250.0 25.2h1M246.6 25.7h1M238.9 22.7h1M229.6 20.3h1M248.3 31.8h1M261.4 25.1h1M227.1 29.3h1M247.7 34.0h1M258.5 27.5h1M239.8 26.1h1M232.7 25.0h1M242.8 30.2h1M254.5 30.8h1M253.6 29.5h1M233.0 24.4h1M236.0 35.7h1M234.1 25.7h1M224.8 27.5h1M228.9 30.4h1M261.0 33.2h1M235.3 35.9h1M239.8 28.2h1M235.8 21.1h1M223.5 31.1h1M235.3 28.5h1M222.1 26.3h1M237.7 31.7h1M227.4 18.6h1M242.6 37.9h1M234.6 27.5h1M224.1 30.1h1M244.7 22.6h1M240.6 19.1h1M243.4 26.4h1M248.3 33.8h1M226.2 29.0h1M226.8 20.0h1M229.8 30.2h1M220.0 31.8h1M227.5 33.5h1M246.2 29.1h1M225.7 35.3h1M222.2 29.5h1M242.0 33.6h1M229.3 23.7h1M239.1 21.6h1M214.3 31.0h1M220.3 18.7h1M240.3 40.2h1M245.8 21.8h1M218.8 31.9h1M215.8 23.5h1M231.3 22.4h1M252.4 21.9h1M214.1 22.8h1M257.4 35.2h1M228.4 26.1h1M241.3 33.1h1M252.5 21.0h1M240.4 37.9h1M246.1 24.1h1M237.7 38.4h1M223.0 30.4h1M229.1 32.0h1M246.7 25.8h1M242.1 34.7h1M259.2 15.5h1M218.8 22.4h1M254.1 32.3h1M231.5 28.3h1M236.8 26.8h1M236.3 32.6h1M218.7 23.0h1M255.5 32.1h1M221.5 30.3h1M224.3 25.4h1M240.2 25.0h1M242.8 23.4h1M213.1 33.7h1M259.9 22.6h1M243.4 28.3h1M249.0 22.6h1M237.0 22.2h1M251.2 27.6h1M247.9 30.2h1M233.2 20.0h1M239.6 25.1h1M238.9 19.1h1M237.9 29.7h1M244.6 34.0h1M217.8 21.8h1M236.9 28.4h1M244.1 30.6h1M255.6 29.2h1M250.5 30.0h1M227.2 25.0h1M250.3 26.5h1M243.6 28.0h1M255.0 30.8h1M243.0 32.2h1M252.0 28.1h1M223.9 30.4h1M227.4 38.8h1M253.9 23.4h1M227.1 30.7h1M229.2 34.0h1M218.3 23.5h1M238.0 26.2h1M232.1 32.5h1M214.9 29.6h1M236.8 30.0h1M253.5 40.5h1M225.9 34.9h1M221.8 25.1h1M241.9 25.8h1M239.1 25.4h1M233.1 21.9h1M213.0 27.9h1M228.8 23.0h1M237.9 30.2h1M213.3 28.7h1M248.7 36.4h1M225.8 29.2h1M226.0 28.8h1M234.0 31.6h1M227.0 27.2h1M222.9 17.8h1M240.2 25.3h1M249.3 30.9h1M253.7 27.9h1M245.4 31.8h1M250.8 17.2h1M237.3 24.9h1M216.0 26.6h1M260.5 21.5h1M229.5 15.4h1M222.5 29.4h1M232.0 31.5h1M232.7 31.0h1M232.2 34.2h1M227.6 29.1h1M244.1 28.6h1M231.1 31.7h1M230.3 27.6h1M238.2 24.7h1M248.5 25.3h1M226.8 25.3h1M226.0 30.2h1M238.4 19.6h1M229.0 32.1h1M213.3 16.1h1M239.4 30.2h1M234.3 31.1h1M224.5 27.8h1M248.0 34.3h1M233.9 24.2h1M239.0 26.0h1M232.5 17.4h1M249.6 31.1h1M240.9 23.5h1M218.3 20.9h1M240.9 31.8h1M218.0 22.2h1M247.2 31.8h1M228.6 27.3h1M228.6 36.2h1M243.6 34.2h1M244.3 21.9h1M230.3 26.4h1M252.2 31.9h1M238.2 27.8h1M233.6 23.9h1M246.7 27.3h1M234.6 22.0h1M232.6 21.8h1M217.4 29.0h1M244.5 18.9h1M224.2 29.8h1M221.2 31.0h1M240.8 31.0h1M226.6 28.5h1M236.6 32.6h1M238.1 20.7h1M226.4 32.4h1M240.2 24.8h1M237.5 34.5h1M232.8 22.2h1M238.1 28.2h1M219.1 25.8h1M260.6 29.4h1M250.8 19.5h1M249.5 29.3h1M238.2 23.3h1M226.2 22.6h1M213.0 32.7h1M215.1 26.4h1M237.2 30.4h1M220.9 32.7h1M241.2 26.8h1M228.6 28.9h1M234.8 37.7h1M243.2 28.6h1M213.7 19.0h1M236.4 28.6h1M235.3 32.9h1M244.8 32.8h1M241.8 34.8h1M242.5 30.9h1M240.7 26.7h1M251.7 24.0h1M252.7 23.3h1M233.5 27.2h1M216.4 25.0h1M260.0 33.3h1M236.8 23.8h1M212.6 29.9h1M213.6 20.7h1M241.5 19.0h1M242.6 34.9h1M229.6 18.0h1M231.6 28.9h1M216.5 35.4h1M229.5 22.0h1M230.1 32.9h1M222.4 28.2h1M249.3 28.9h1M219.3 26.6h1M244.8 25.4h1M247.6 24.8h1M250.5 16.8h1M237.5 24.3h1M234.0 21.6h1M232.8 30.6h1M240.8 27.0h1M239.0 27.3h1M230.8 19.3h1M248.5 21.4h1M248.2 28.6h1M247.7 28.2h1M249.2 18.1h1M240.5 20.9h1M241.4 30.0h1M222.1 26.4h1M238.8 34.3h1M220.7 21.1h1M246.0 23.6h1M248.5 18.5h1M228.4 37.8h1M246.5 24.6h1M234.0 31.7h1M236.4 28.7h1M218.3 34.1h1M239.6 16.1h1M217.2 23.6h1M243.7 27.7h1M225.4 23.8h1M244.9 32.2h1M239.6 28.8h1M218.6 29.3h1M242.4 31.7h1M227.4 30.6h1M242.3 30.2h1M242.3 24.2h1M242.4 35.7h1M247.1 30.3h1M215.8 38.2h1M225.7 17.6h1M246.1 27.1h1M224.8 21.5h1M229.3 20.7h1M233.4 25.5h1M219.0 28.1h1M248.8 24.1h1M244.4 31.1h1M233.3 33.7h1M212.6 21.1h1M236.9 28.2h1M223.0 28.8h1M225.4 25.9h1M259.8 29.7h1M222.3 24.3h1M219.2 26.7h1M220.1 25.6h1M237.6 19.1h1M213.5 20.6h1M230.7 20.2h1M219.0 21.2h1M221.9 27.1h1M231.9 24.7h1M241.8 25.9h1M216.6 23.5h1M233.3 32.1h1M238.8 30.2h1M213.0 21.2h1M227.8 47.4h1M222.1 21.7h1M227.8 22.9h1M223.3 34.5h1M227.6 24.1h1M254.7 29.7h1M237.5 28.4h1M243.5 19.8h1M252.0 34.0h1M245.9 34.2h1M222.6 24.7h1M258.0 23.3h1M232.5 38.9h1M250.1 25.7h1M246.9 21.9h1M226.1 23.1h1M227.8 23.5h1M255.5 31.5h1M217.9 30.7h1M243.7 30.9h1M237.9 26.0h1M228.0 29.8h1M223.5 21.0h1M226.9 21.1h1M230.7 29.7h1M221.3 16.0h1M250.2 31.9h1M239.2 31.1h1M219.9 29.4h1M238.6 31.1h1M231.4 26.7h1M240.3 32.0h1M243.0 28.7h1M257.4 29.9h1M254.5 26.3h1M242.7 32.0h1M214.0 23.0h1M244.5 38.8h1M233.6 29.2h1M258.1 25.1h1M228.5 19.3h1M230.2 34.5h1M238.4 30.0h1M226.7 22.8h1M228.3 37.5h1M227.3 32.3h1M212.8 33.6h1M247.5 33.3h1M224.8 28.1h1M232.6 30.7h1M231.4 25.4h1M250.6 28.8h1M235.4 23.0h1M237.0 30.7h1M227.2 34.1h1M246.7 29.5h1M221.6 26.4h1M252.1 26.7h1M240.9 30.5h1M247.8 23.9h1M253.1 25.8h1M250.8 28.3h1M230.2 36.1h1M220.9 27.2h1M245.1 33.5h1M215.0 28.1h1M240.6 27.4h1M242.6 33.1h1M233.6 34.3h1M219.7 22.0h1M248.0 25.6h1M221.3 32.4h1M218.3 29.8h1M213.0 31.2h1M239.4 26.2h1M239.6 31.1h1M232.2 29.4h1M229.2 25.7h1M217.8 30.8h1M214.9 25.7h1M241.8 30.5h1M226.2 35.9h1M234.6 35.1h1M235.7 29.2h1M247.2 32.8h1M245.7 31.9h1M234.8 28.8h1M253.4 25.4h1M236.3 33.8h1M258.9 27.1h1M233.7 27.6h1M244.2 24.0h1M227.6 21.8h1M234.2 23.9h1M234.3 27.7h1M226.6 23.9h1M239.1 23.1h1M236.5 17.0h1M236.8 26.9h1M218.9 21.5h1M242.7 26.4h1M243.9 25.6h1M237.8 26.0h1M246.2 23.7h1M240.1 33.5h1M224.1 30.1h1M248.4 32.0h1M235.0 22.5h1M229.8 25.1h1M238.2 23.8h1M259.8 29.6h1M212.8 31.9h1M244.5 30.6h1M247.8 25.0h1M248.6 30.2h1M219.0 27.3h1M244.9 23.7h1M236.4 26.0h1M227.3 30.6h1M219.7 21.4h1M245.5 25.6h1M232.2 27.0h1M240.7 31.6h1M247.0 31.0h1M224.1 31.2h1M234.8 38.8h1M240.0 28.4h1M242.9 30.4h1M241.6 21.3h1M223.5 27.6h1M255.9 22.6h1M252.5 25.1h1M233.7 18.3h1M241.9 30.4h1M260.7 24.9h1M233.0 28.0h1M236.3 23.8h1M242.7 26.0h1M234.9 24.7h1M235.6 23.1h1M246.4 31.9h1M244.2 25.2h1M242.2 15.8h1M227.3 30.2h1M236.8 28.5h1M224.9 28.3h1M241.0 34.2h1M255.9 29.1h1M251.6 34.4h1M240.1 23.0h1M234.9 25.7h1M222.9 33.9h1M213.9 22.1h1M238.1 22.9h1M227.3 38.2h1M235.9 22.3h1M238.7 30.3h1M224.8 21.5h1M237.4 23.8h1M241.8 28.0h1M228.0 24.4h1M230.3 23.8h1M254.9 31.1h1M245.9 36.3h1M217.9 32.9h1M235.0 27.6h1M230.7 19.4h1M253.8 39.1h1M228.5 28.7h1M255.4 32.8h1M228.2 29.3h1M248.9 21.9h1M222.1 20.2h1M251.0 25.7h1M223.1 32.0h1M254.2 29.4h1M231.0 33.0h1M222.0 29.5h1M226.0 23.0h1M224.0 33.3h1M227.3 23.4h1M257.7 34.7h1M236.5 23.5h1M231.7 27.0h1M234.4 26.5h1M233.9 27.5h1M238.2 23.2h1M225.6 29.6h1M227.1 31.2h1M214.0 27.7h1M234.7 34.1h1M228.5 26.8h1M246.6 25.0h1M240.8 25.4h1M244.2 25.5h1M241.1 30.1h1M250.1 23.5h1M239.9 29.8h1M238.8 28.4h1M225.7 29.4h1M241.0 28.2h1M241.4 32.5h1M237.6 28.3h1M227.1 28.2h1M249.7 30.8h1M224.5 33.5h1M238.4 27.1h1M212.6 21.1h1M251.1 36.1h1M215.1 34.5h1M237.4 36.5h1M231.8 28.6h1M247.8 29.6h1M231.2 33.3h1M240.5 25.8h1M226.6 27.6h1M224.6 24.4h1M260.5 23.2h1M244.9 19.4h1M241.4 21.5h1M216.3 29.7h1M231.8 21.1h1M233.5 18.7h1M231.3 26.0h1M253.9 33.7h1M258.2 27.5h1M236.1 28.6h1M230.0 31.8h1M240.2 19.5h1M234.2 23.2h1M234.6 31.4h1M249.6 27.6h1M252.8 20.3h1M247.0 27.6h1M217.5 37.3h1M245.6 18.7h1M249.0 26.3h1M241.2 35.0h1M214.4 23.6h1M241.5 28.7h1M240.5 27.1h1M231.1 32.1h1M223.6 30.5h1M232.2 30.9h1M231.4 25.1h1M234.4 36.4h1M239.6 31.9h1M231.3 18.2h1M217.0 29.2h1M236.6 25.3h1M221.3 33.1h1M223.2 33.5h1M249.4 25.5h1M215.8 20.2h1M248.7 38.8h1M228.1 40.4h1M228.6 35.8h1M254.6 39.7h1M245.3 44.0h1M257.6 44.7h1M233.4 37.4h1M234.2 36.7h1M237.9 38.5h1M234.0 35.0h1M248.8 40.4h1M238.8 46.1h1M245.8 41.1h1M241.7 35.8h1M238.9 35.3h1M245.0 38.7h1M213.7 32.0h1M256.1 39.5h1M239.4 40.5h1M241.7 38.1h1M241.5 39.7h1M236.6 31.2h1M248.8 44.1h1M238.8 37.4h1M234.2 39.9h1M239.0 37.6h1M220.3 36.8h1M225.9 32.8h1M244.8 39.5h1M244.9 38.3h1M260.7 36.9h1M228.7 37.5h1M227.5 41.8h1M241.9 35.6h1M233.5 36.6h1M239.9 37.5h1M242.5 35.1h1M234.0 35.1h1M229.6 38.4h1M249.0 37.1h1M240.5 43.8h1M236.7 38.3h1M234.6 35.1h1M238.5 32.9h1M248.8 31.0h1M228.4 42.6h1M235.5 39.1h1M242.7 36.2h1M226.2 46.1h1M236.5 35.7h1M239.4 38.6h1M225.8 41.9h1M223.5 41.5h1M237.1 40.6h1M240.6 42.4h1M227.0 38.4h1M229.1 39.2h1M214.7 43.3h1M228.9 36.2h1M235.9 37.8h1M260.9 38.1h1M255.1 43.1h1M249.3 32.6h1M237.8 35.1h1M236.9 30.3h1M230.6 36.9h1M236.5 37.2h1M246.3 41.4h1M239.4 41.8h1M255.8 39.3h1M257.1 39.8h1M248.6 36.6h1M246.2 75.6h1M248.6 68.3h1M241.8 65.4h1M242.8 65.6h1M248.1 72.8h1M263.4 76.0h1M249.5 84.3h1M247.2 77.5h1M242.5 64.6h1M254.1 69.5h1M252.0 71.8h1M256.3 65.8h1M244.6 65.7h1M250.7 58.6h1M239.2 65.5h1M238.6 72.6h1M251.3 69.9h1M247.6 65.0h1M256.9 76.2h1M252.1 72.4h1M254.0 75.1h1M255.2 59.8h1M256.9 55.5h1M246.2 67.0h1M243.5 78.7h1M249.3 78.2h1M255.1 64.7h1M250.3 70.8h1M232.1 76.8h1M257.4 79.6h1M267.4 28.5h1M278.1 27.9h1M282.4 21.1h1M282.4 25.2h1M264.0 24.2h1M264.6 28.2h1M266.7 21.3h1M274.2 24.2h1M320.7 70.7h1M321.2 70.0h1M315.0 76.5h1M329.1 80.8h1M315.7 77.8h1M326.6 64.5h1M320.2 86.3h1M303.9 82.8h1M310.2 80.0h1M317.3 74.5h1M321.9 75.3h1M339.9 75.8h1M323.5 70.2h1M309.6 80.9h1M330.1 74.1h1M320.2 81.9h1M321.7 72.3h1M318.6 75.1h1M310.0 77.3h1M344.2 76.6h1M322.6 75.0h1M326.3 67.2h1M334.7 77.9h1M308.2 79.7h1M320.3 71.3h1M323.8 80.7h1M329.9 76.1h1M312.2 81.0h1M318.5 72.6h1M329.0 75.3h1M327.6 81.8h1M325.0 75.5h1M308.0 78.5h1M339.4 69.0h1M325.4 68.1h1M334.5 82.9h1M331.5 63.4h1M315.4 68.6h1M316.6 75.0h1M309.8 86.1h1M307.9 90.5h1M338.1 71.9h1M334.4 76.0h1M339.7 79.2h1M321.7 70.8h1M331.5 70.0h1M311.4 71.3h1M318.4 68.5h1M314.4 85.2h1M317.9 77.3h1M311.4 71.1h1M324.0 73.0h1M319.0 76.7h1M318.3 72.7h1M326.8 72.6h1M321.9 75.8h1M318.3 77.5h1M331.3 70.4h1M327.7 86.9h1M325.2 71.1h1M333.0 72.4h1M322.0 65.4h1M329.1 70.8h1M333.6 80.4h1M329.3 68.2h1M325.3 84.3h1M314.8 70.8h1M319.9 68.0h1M324.1 79.9h1M327.0 74.5h1M325.2 80.9h1M331.2 76.4h1M331.9 81.5h1M331.3 78.2h1M324.5 74.0h1M331.2 74.3h1M328.9 65.0h1M321.4 80.0h1M327.1 79.5h1M322.9 71.7h1M320.6 70.6h1M325.1 82.6h1M316.8 79.1h1M322.4 81.6h1M315.9 69.1h1M335.2 79.3h1M335.0 83.2h1M329.3 93.1h1M330.3 68.0h1M335.5 66.5h1M322.0 74.6h1M324.0 75.5h1M341.7 73.4h1M341.1 76.8h1M311.7 85.5h1M326.3 69.7h1M317.4 77.5h1M340.1 90.9h1M315.1 75.7h1M332.0 75.9h1M331.5 75.1h1M309.2 84.0h1M317.5 88.7h1M319.8 77.6h1M323.0 79.0h1M328.7 72.1h1M328.9 65.6h1M319.9 81.7h1M330.7 79.4h1M327.8 81.1h1M327.5 65.3h1M322.9 79.0h1M319.2 72.5h1M320.2 77.7h1M326.1 80.2h1M333.4 67.1h1M323.9 84.2h1M317.0 86.0h1M305.1 74.6h1M337.9 82.4h1M332.4 68.0h1M322.9 82.4h1M319.3 65.5h1M312.8 79.7h1M323.5 70.8h1M333.9 74.3h1M324.9 82.8h1M330.2 80.6h1M312.6 73.1h1M326.6 80.4h1M321.8 68.5h1M330.6 74.1h1M330.7 73.4h1M314.4 72.4h1M315.2 83.3h1M306.9 85.4h1M327.2 79.4h1M325.1 83.5h1M323.9 76.1h1M319.9 84.6h1M328.6 76.8h1M333.5 82.1h1M324.1 66.4h1M325.7 68.0h1M326.1 81.5h1M335.7 80.6h1M319.9 67.1h1M312.3 81.9h1M316.3 78.4h1M328.9 76.5h1M315.1 80.2h1M320.6 84.3h1M319.3 79.2h1M324.6 84.5h1M307.9 73.3h1M328.1 71.2h1M320.7 70.2h1M326.5 84.3h1M310.7 72.7h1M330.0 61.3h1M323.7 76.5h1M325.9 66.6h1M315.0 73.2h1M327.4 76.3h1M331.0 76.0h1M318.5 72.6h1M324.7 73.1h1M321.3 63.0h1M314.5 84.9h1M314.5 81.2h1M332.7 74.6h1M321.3 72.9h1M330.6 73.4h1M326.8 80.9h1M341.0 65.4h1M326.7 74.9h1M344.1 71.4h1M329.5 74.8h1M337.3 71.9h1M321.9 75.1h1M318.3 80.3h1M330.6 75.7h1M330.8 70.4h1M327.2 68.7h1M318.4 70.4h1M324.3 74.7h1M323.9 70.1h1M343.0 74.5h1M336.7 72.8h1M319.1 82.8h1M329.8 79.1h1M320.8 83.2h1M314.7 87.1h1M317.6 72.4h1M311.3 77.9h1M327.7 75.4h1M321.1 73.6h1M314.2 72.9h1M315.0 73.4h1M316.6 77.5h1M330.6 66.8h1M312.0 73.2h1M328.6 88.6h1M313.3 83.2h1M331.5 67.0h1M322.1 74.1h1M314.8 69.1h1M332.6 79.2h1M328.1 81.7h1M327.0 86.2h1M326.0 74.2h1M316.2 73.3h1M322.2 67.3h1M326.8 68.3h1M315.2 90.5h1M319.5 65.5h1M328.5 77.9h1M322.5 72.0h1M333.3 78.4h1M321.3 83.7h1M324.1 74.7h1M318.1 81.2h1M317.8 84.6h1M317.8 82.3h1M326.5 77.9h1M321.7 70.0h1M339.2 80.4h1M321.1 83.1h1M331.3 79.7h1M326.7 77.1h1M317.4 83.5h1M305.1 82.0h1M318.7 71.9h1M332.5 84.2h1M321.8 77.6h1M329.0 77.6h1M312.9 79.8h1M328.2 77.8h1M310.8 84.9h1M332.5 67.1h1M315.2 72.0h1M323.1 84.1h1M319.7 85.8h1M316.6 86.2h1M320.5 67.0h1M324.7 69.3h1M324.5 75.6h1M317.3 82.5h1M335.5 70.3h1M320.7 82.5h1M323.0 74.9h1M318.5 83.0h1M312.3 78.0h1M315.9 74.4h1M328.6 66.8h1M314.8 72.4h1M309.3 76.4h1M316.0 66.9h1M341.8 79.7h1M344.4 72.0h1M300.7 80.1h1M307.3 81.7h1M336.0 76.2h1M317.8 65.7h1M328.5 73.6h1M332.9 77.7h1M314.0 76.6h1M313.9 80.3h1M315.0 76.1h1M321.4 87.6h1M329.1 75.7h1M315.3 73.4h1M334.3 69.4h1M337.2 72.7h1M326.6 75.3h1M321.9 77.2h1M330.0 72.1h1M324.7 71.6h1M312.9 83.6h1M322.6 84.2h1M338.5 81.7h1M337.1 85.2h1M330.8 69.3h1M322.4 80.5h1M328.0 70.0h1M331.5 73.8h1M331.8 74.9h1M329.3 70.8h1M324.1 84.2h1M315.9 71.8h1M332.4 76.4h1M333.5 69.5h1M318.4 82.0h1M322.5 66.4h1M327.4 67.9h1M324.8 89.6h1M323.0 80.1h1M336.0 72.2h1M325.5 69.5h1M319.5 78.8h1M326.7 77.2h1M322.4 64.7h1M310.2 79.4h1M342.4 86.8h1M327.3 68.5h1M318.1 81.2h1M325.1 65.9h1M312.6 74.3h1M325.5 74.3h1M337.0 79.1h1M319.4 80.7h1M313.6 77.9h1M309.7 76.0h1M324.6 77.1h1M316.0 74.0h1M336.3 75.3h1M317.7 77.3h1M320.5 72.2h1M315.2 75.8h1M316.0 67.6h1M334.7 68.5h1M321.1 77.6h1M335.2 73.6h1M330.3 79.0h1M331.5 77.0h1M316.1 73.4h1M329.7 86.8h1M320.9 77.9h1M324.7 68.9h1M323.6 65.4h1M314.9 77.8h1M330.3 64.2h1M326.6 75.1h1M317.0 75.8h1M325.4 66.8h1M315.5 69.8h1M324.7 61.3h1M311.9 66.6h1M337.4 73.5h1M326.9 71.6h1M336.0 76.9h1M327.9 79.8h1M333.2 89.3h1M314.3 83.0h1M314.7 73.9h1M325.7 61.5h1M329.6 70.5h1M327.1 76.2h1M310.4 69.0h1M329.3 79.2h1M325.1 72.5h1M315.7 77.0h1M342.3 75.2h1M318.9 76.5h1M310.6 73.9h1M323.1 71.4h1M325.4 74.3h1M312.9 68.5h1M325.9 65.0h1M320.8 75.3h1M327.9 84.1h1M327.2 72.5h1M330.0 70.6h1M313.8 76.0h1M325.5 75.7h1M305.9 69.6h1M325.5 72.9h1M323.8 72.4h1M328.5 73.7h1M320.2 78.3h1M315.6 86.1h1M322.9 80.7h1M319.3 75.2h1M318.7 78.1h1M303.3 66.8h1M326.9 69.2h1M319.7 76.4h1M333.8 70.4h1M327.7 72.7h1M324.2 77.7h1M329.3 75.1h1M325.2 81.8h1M330.7 82.2h1M313.8 82.9h1M317.0 71.6h1M329.6 63.3h1M324.1 75.7h1M339.1 80.7h1M334.2 73.7h1M326.6 79.3h1M319.6 78.1h1M318.5 80.6h1M337.5 65.3h1M334.0 80.0h1M323.8 83.9h1M327.8 84.9h1M329.3 71.7h1M328.6 76.2h1M325.7 77.5h1M320.1 71.0h1M327.2 76.3h1M321.8 92.6h1M313.7 80.2h1M307.6 69.5h1M316.2 68.1h1M319.3 82.8h1M331.3 69.7h1M316.1 75.8h1M329.8 82.6h1M321.9 72.9h1M341.8 70.8h1M328.7 75.2h1M331.6 78.9h1M325.1 71.9h1M330.4 66.4h1M326.7 93.3h1M334.4 73.9h1M289.3 77.6h1M293.6 75.1h1M285.9 75.8h1M291.4 81.9h1M288.3 66.6h1M298.8 80.1h1M300.0 68.0h1M279.3 74.8h1M289.0 80.0h1M291.1 80.3h1M300.4 67.9h1M285.9 80.6h1M292.4 81.2h1M295.0 75.0h1M293.2 75.2h1M284.7 73.3h1M300.7 74.3h1M293.2 72.9h1M292.8 71.2h1M281.2 73.0h1M290.4 74.6h1M290.2 66.5h1M301.0 77.5h1M290.3 74.5h1M287.0 73.3h1M291.6 71.2h1M294.8 71.8h1M294.3 70.4h1M296.9 67.4h1M288.2 73.1h1M300.0 77.9h1M289.4 75.6h1M288.7 76.7h1M292.0 77.3h1M296.0 78.3h1M293.0 74.6h1M285.9 74.7h1M294.6 69.7h1M290.7 71.0h1M299.0 70.2h1M288.8 69.6h1M283.5 64.4h1M216.2 53.6h1M242.1 67.7h1M253.1 80.6h1M260.4 77.3h1M257.5 79.7h1M255.8 78.1h1M251.3 80.1h1M217.3 54.8h1M225.0 52.0h1M224.5 51.0h1M227.8 58.4h1M231.8 55.9h1M222.3 52.1h1M249.4 76.6h1M232.5 65.2h1M239.6 63.3h1M255.3 79.5h1M254.7 76.5h1M252.6 69.8h1M238.5 65.6h1M227.2 56.0h1M248.3 74.0h1M224.3 60.4h1M258.6 79.4h1M251.7 72.5h1M247.7 80.2h1M239.0 68.7h1M230.3 52.7h1M263.1 76.7h1M233.3 70.4h1M235.1 66.0h1M223.6 58.6h1M246.3 87.1h1M219.4 58.4h1M241.6 62.7h1M272.5 83.8h1M273.5 80.2h1M280.1 75.8h1M270.9 81.9h1M287.2 75.8h1M264.3 84.7h1M274.0 76.9h1M277.4 74.3h1M290.9 74.8h1M268.1 80.8h1M342.3 50.4h1M223.5 23.7h1M243.0 59.1h1M320.7 65.5h1M271.2 16.2h1M244.0 81.6h1M311.1 16.7h1M341.5 14.0h1M256.2 80.9h1M214.6 16.3h1M227.9 50.4h1M279.6 83.2h1M245.6 71.0h1M256.0 72.2h1M258.4 70.8h1M234.2 57.4h1M237.6 81.6h1M224.5 165.0h1M244.2 154.7h1M230.4 158.8h1M239.0 160.3h1M242.3 155.7h1M216.7 159.6h1M221.9 167.4h1M231.8 162.6h1M239.6 170.0h1M234.5 163.3h1M244.3 152.9h1M227.8 168.2h1M235.7 164.0h1M218.2 162.3h1M237.7 156.2h1M242.0 153.6h1M235.1 156.4h1M245.0 141.7h1M232.3 150.9h1M228.9 165.6h1M238.1 164.4h1M223.3 158.6h1M238.9 148.6h1M241.7 157.3h1M219.1 159.7h1M231.7 158.5h1M235.2 154.6h1M246.5 155.9h1M240.6 157.8h1M236.9 161.4h1M232.2 155.6h1M234.4 164.6h1M221.3 160.3h1M236.9 159.5h1M224.8 164.0h1M251.1 156.5h1M232.3 167.5h1M242.6 160.3h1M254.5 152.3h1M232.0 158.1h1M246.2 155.7h1M227.4 160.1h1M234.0 153.5h1M232.0 159.1h1M239.7 158.2h1M237.1 160.9h1M234.3 162.9h1M232.9 171.4h1M221.5 164.1h1M248.2 160.0h1M225.7 163.6h1M228.3 153.7h1M222.5 153.8h1M245.4 153.5h1M219.4 161.5h1M244.5 149.4h1M238.0 156.9h1M234.9 155.6h1M220.2 162.2h1M222.9 152.8h1M238.5 155.3h1M231.7 152.2h1M232.4 160.4h1M223.5 161.1h1M243.4 160.3h1M231.6 160.8h1M226.4 164.9h1M244.4 154.8h1M236.8 163.9h1M228.6 155.4h1M225.8 162.0h1M242.2 158.5h1M240.9 153.8h1M240.3 155.2h1M242.0 154.3h1M224.9 156.8h1M238.7 153.4h1M231.3 157.3h1M232.0 161.7h1M248.6 152.8h1M237.8 157.1h1M238.0 155.9h1M250.6 153.0h1M230.4 164.7h1M232.4 157.3h1M241.5 158.6h1M228.1 157.8h1M237.4 159.5h1M217.2 165.6h1M222.0 160.7h1M219.8 165.9h1M241.2 159.2h1M230.0 161.0h1M229.4 154.1h1M217.3 153.2h1M223.0 164.1h1M236.4 157.4h1M244.6 156.6h1M237.4 153.9h1M245.1 153.7h1M221.8 168.6h1M240.8 159.3h1M234.3 168.7h1M239.6 154.4h1M228.3 162.2h1M230.1 157.4h1M231.3 155.7h1M227.5 161.2h1M233.3 155.5h1M225.1 161.5h1M222.7 155.2h1M234.7 164.3h1M242.9 157.4h1M235.3 155.8h1M218.3 163.8h1M227.6 160.4h1M235.1 149.8h1M221.0 164.1h1M243.9 150.5h1M217.3 161.5h1M246.0 152.0h1M241.6 155.6h1M235.5 160.1h1M223.3 168.2h1M230.2 157.4h1M236.9 156.4h1M228.5 156.3h1M217.9 164.9h1M246.0 159.0h1M227.7 153.8h1M242.8 154.0h1M252.3 158.3h1M256.0 153.6h1M230.6 154.4h1M218.7 171.6h1M247.1 151.4h1M228.8 159.7h1M230.7 158.7h1M238.8 157.4h1M226.1 155.6h1M231.4 162.5h1M219.4 154.0h1M230.7 163.7h1M239.0 153.2h1M241.7 162.5h1M231.2 158.8h1M242.4 148.7h1M244.4 161.5h1M222.6 163.4h1M245.8 148.6h1M237.8 159.6h1M233.7 157.2h1M235.1 165.0h1M226.3 162.3h1M249.0 156.5h1M235.8 156.5h1M238.4 160.2h1M253.2 154.4h1M228.8 167.1h1M231.5 169.1h1M240.6 163.3h1M233.9 156.1h1M238.9 155.7h1M227.5 158.4h1M224.8 163.2h1M217.6 162.7h1M229.1 153.5h1M236.4 162.4h1M247.8 156.9h1M224.9 161.5h1M236.6 153.6h1M242.3 153.3h1M228.2 148.9h1M241.8 164.8h1M239.1 166.8h1M217.5 168.3h1M232.1 150.5h1M232.1 157.3h1M216.8 158.2h1M221.0 162.5h1M250.2 150.5h1M245.8 155.2h1M233.9 153.6h1M242.9 150.8h1M242.9 159.9h1M230.0 161.9h1M242.9 162.0h1M242.5 154.8h1M246.2 150.9h1M239.2 155.0h1M235.3 161.0h1M251.1 146.8h1M237.6 156.6h1M231.3 157.0h1M244.7 155.8h1M226.0 162.5h1M235.6 156.8h1M234.9 159.9h1M237.5 153.1h1M226.3 158.2h1M235.3 149.1h1M234.3 151.8h1M229.9 157.4h1M242.9 154.2h1M231.8 165.8h1M242.1 146.0h1M230.2 167.9h1M223.9 151.1h1M241.1 156.5h1M228.1 164.0h1M235.7 149.8h1M233.5 154.6h1M231.8 159.5h1M249.5 155.2h1M235.4 158.4h1M227.9 152.6h1M217.3 150.0h1M245.9 155.1h1M235.9 160.9h1M224.4 160.3h1M230.5 163.8h1M246.5 149.5h1M230.2 157.2h1M230.0 163.3h1M254.1 153.8h1M240.6 160.4h1M249.4 147.4h1M229.4 161.9h1M241.1 170.8h1M226.6 160.2h1M220.8 158.5h1M238.2 161.4h1M227.5 167.4h1M231.1 144.7h1M228.9 157.0h1M244.3 156.3h1M220.7 159.9h1M226.1 161.6h1M233.4 162.8h1M246.1 154.1h1M242.6 153.8h1M232.1 156.4h1M245.7 155.6h1M221.8 167.3h1M244.7 157.7h1M234.7 164.0h1M246.4 158.0h1M232.6 164.1h1M233.0 164.7h1M230.6 167.9h1M244.4 156.9h1M244.6 154.8h1M221.6 161.2h1M217.3 165.4h1M239.5 150.2h1M251.4 151.1h1M221.6 158.2h1M232.0 157.7h1M235.1 167.0h1M237.8 156.3h1M222.8 153.7h1M238.3 156.7h1M224.0 160.4h1M239.3 168.0h1M234.0 155.2h1M240.6 160.0h1M246.7 159.4h1M238.7 157.4h1M229.2 156.1h1M217.9 162.0h1M247.7 146.9h1M218.6 167.4h1M241.0 158.6h1M232.6 156.3h1M227.6 158.9h1M229.7 163.5h1M231.6 160.3h1M221.0 157.7h1M227.7 162.4h1M239.1 154.8h1M225.6 154.2h1M250.9 154.6h1M241.7 155.4h1M233.5 159.9h1M227.2 165.8h1M230.0 157.5h1M253.3 149.9h1M235.2 149.1h1M221.6 168.6h1M224.3 158.0h1M245.3 153.0h1M228.9 152.3h1M217.3 164.7h1M243.7 156.0h1M232.1 164.2h1M234.4 162.0h1M219.3 167.1h1M241.0 150.9h1M225.6 165.2h1M246.7 152.3h1M245.9 155.7h1M237.2 163.6h1M232.8 153.6h1M218.3 158.0h1M251.7 146.7h1M252.1 157.7h1M255.8 151.5h1M236.2 156.6h1M235.1 157.9h1M236.9 154.8h1M251.7 151.1h1M251.1 156.7h1M225.4 149.5h1M237.0 165.0h1M226.8 163.2h1M220.4 157.6h1M228.5 157.4h1M228.3 152.0h1M231.3 164.9h1M238.2 159.5h1M240.4 152.4h1M248.3 153.1h1M227.3 159.0h1M232.2 163.5h1M242.0 149.4h1M227.3 156.1h1M237.0 164.3h1M230.0 162.6h1M234.9 163.1h1M233.3 156.6h1M231.4 161.0h1M217.5 166.2h1M243.4 152.2h1M238.3 157.9h1M228.6 154.7h1M234.9 163.2h1M249.1 157.4h1M235.0 153.2h1M246.9 153.9h1M227.8 167.1h1M251.5 167.6h1M240.9 158.6h1M219.1 163.3h1M218.9 167.1h1M244.2 154.8h1M227.7 165.9h1M279.9 149.2h1M266.7 157.9h1M279.1 140.7h1M289.9 146.1h1M261.2 159.2h1M288.9 148.9h1M268.6 140.4h1M285.3 204.6h1M263.4 201.6h1M267.7 208.2h1M295.5 214.8h1M258.8 196.4h1M289.3 204.8h1M254.6 211.1h1M254.0 200.1h1M291.5 204.1h1M291.7 208.7h1M273.0 197.2h1M294.1 213.1h1M265.6 205.1h1M245.9 211.8h1M268.1 204.5h1M249.6 208.3h1M263.9 209.0h1M250.5 204.9h1M252.2 205.0h1M244.4 202.2h1M264.3 200.3h1M290.6 206.7h1M272.6 210.6h1M252.0 196.0h1M257.3 200.2h1M291.8 205.9h1M248.7 200.0h1M292.0 206.8h1M262.4 207.6h1M283.2 208.2h1M263.5 197.8h1M266.0 197.8h1M279.7 217.3h1M270.5 214.0h1M280.9 203.5h1M270.4 206.8h1M251.1 209.4h1M291.7 211.3h1M296.3 201.6h1M252.4 195.7h1M253.1 206.0h1M269.7 209.0h1M254.9 217.7h1M291.3 205.8h1M294.0 209.0h1M280.9 200.6h1M274.8 202.8h1M282.1 204.1h1M282.5 209.2h1M274.9 208.6h1M249.0 209.5h1M277.3 200.8h1M294.0 205.1h1M288.5 209.0h1M245.0 198.3h1M274.3 201.8h1M262.9 212.0h1M274.9 210.5h1M253.0 199.6h1M294.7 206.0h1M249.7 200.1h1M258.8 204.7h1M284.1 200.4h1M276.9 203.6h1M291.4 213.2h1M264.8 197.9h1M266.0 213.5h1M251.3 200.4h1M254.0 200.1h1M265.8 199.6h1M295.5 210.8h1M263.1 210.4h1M284.6 209.4h1M269.5 204.0h1M293.3 206.7h1M291.9 209.0h1M274.4 214.0h1M285.9 209.5h1M269.8 214.0h1M244.2 202.7h1M254.6 196.2h1M278.6 207.1h1M243.2 201.3h1M287.5 203.4h1M246.2 203.5h1M288.9 210.9h1M264.7 206.7h1M292.8 207.2h1M268.9 209.6h1M281.4 210.8h1M268.7 208.8h1M277.5 219.1h1M268.0 207.9h1M248.2 201.0h1M282.0 207.9h1M284.7 211.3h1M244.5 205.1h1M259.6 208.5h1M280.1 214.4h1M285.8 202.2h1M285.5 210.6h1M286.0 209.4h1M295.5 205.2h1M248.6 209.3h1M272.5 208.9h1M258.8 207.7h1M246.8 214.0h1M280.2 208.9h1M279.2 200.2h1M255.6 197.9h1M272.3 202.5h1M283.0 211.3h1M268.4 209.5h1M251.1 196.2h1M249.8 202.7h1M260.8 214.7h1M285.3 211.2h1M282.1 217.1h1M274.9 206.9h1M288.5 203.9h1M275.0 207.3h1M264.6 197.2h1M249.1 217.9h1M265.2 210.5h1M293.3 211.2h1M250.4 200.4h1M278.6 208.5h1M275.5 204.1h1M262.4 209.4h1M259.0 207.1h1M267.0 205.1h1M263.9 209.2h1M244.8 210.3h1M284.7 209.5h1M259.8 205.3h1M293.1 209.7h1M278.6 214.5h1M277.0 210.4h1M259.1 207.2h1M270.3 212.3h1M292.8 208.0h1M286.0 200.7h1M284.5 213.5h1M243.1 209.3h1M280.7 212.4h1M244.2 203.2h1M275.4 210.4h1M262.6 205.9h1M281.0 203.5h1M243.1 209.6h1M261.2 211.2h1M254.0 205.4h1M250.3 208.7h1M279.9 198.7h1M283.2 216.9h1M268.1 208.3h1M250.6 205.2h1M288.4 208.8h1M286.8 205.7h1M263.0 199.5h1M243.5 203.8h1M258.8 209.0h1M265.0 203.8h1M256.0 209.7h1M265.0 210.8h1M295.8 209.6h1M258.5 201.7h1M273.1 204.7h1M288.7 209.8h1M255.1 214.5h1M255.1 206.1h1M244.5 202.8h1M282.0 209.4h1M287.7 206.4h1M258.0 205.3h1M289.5 207.1h1M282.5 211.6h1M249.2 206.5h1M289.9 216.5h1M264.9 199.8h1M245.1 202.1h1M281.0 208.2h1M278.3 208.7h1M254.2 204.8h1M279.7 209.7h1M259.0 199.5h1M246.2 207.8h1M288.0 211.2h1M294.6 219.0h1M285.3 209.5h1M270.9 205.5h1M278.4 217.1h1M254.2 204.1h1M268.7 203.9h1M285.1 206.2h1M290.0 208.2h1M280.7 206.5h1M286.8 206.9h1M290.2 207.8h1M293.0 207.7h1M248.3 214.7h1M262.3 210.9h1M255.6 199.6h1M279.7 210.2h1M256.0 219.6h1M250.3 208.4h1M273.7 209.2h1M274.0 213.3h1M292.2 208.7h1M270.6 204.8h1M258.4 210.4h1M256.0 193.8h1M245.0 206.0h1M272.5 199.1h1M276.2 210.3h1M284.1 203.1h1M260.5 210.0h1M255.4 199.7h1M263.4 200.0h1M262.2 199.8h1M250.9 191.5h1M256.2 197.3h1M258.5 196.6h1M265.0 199.5h1M266.8 198.9h1M255.9 197.8h1M262.9 194.5h1M260.2 197.2h1M251.1 194.2h1M260.7 199.5h1M311.6 215.3h1M308.5 215.0h1M311.8 202.6h1M318.4 215.6h1M315.3 210.0h1M322.4 209.7h1M315.8 212.1h1M314.2 201.3h1M301.2 209.3h1M317.8 213.3h1M322.2 214.7h1M295.7 209.8h1M312.1 211.0h1M292.0 193.8h1M302.7 209.6h1M312.5 214.1h1M315.8 213.1h1M295.9 215.8h1M314.4 206.8h1M321.7 207.0h1M317.8 211.6h1M302.9 207.8h1M336.9 209.7h1M323.4 214.0h1M323.4 206.2h1M312.1 217.2h1M301.2 207.7h1M325.8 201.5h1M328.0 213.1h1M301.3 208.6h1M319.1 214.1h1M326.3 216.4h1M308.1 217.4h1M310.9 200.9h1M317.3 227.1h1M306.7 222.0h1M306.4 213.3h1M295.6 200.3h1M317.0 215.4h1M321.8 194.8h1M313.5 198.3h1M332.3 208.7h1M319.8 217.4h1M320.4 219.0h1M322.4 220.2h1M304.3 200.5h1M296.0 198.9h1M308.5 208.2h1M321.5 220.9h1M286.4 203.7h1M312.5 198.4h1M295.1 205.7h1M307.1 219.1h1M311.4 219.9h1M313.4 207.6h1M319.4 198.0h1M296.5 210.7h1M325.8 199.3h1M300.9 199.2h1M326.4 201.8h1M321.5 214.1h1M304.1 190.6h1M316.4 213.4h1M286.7 206.6h1M333.0 196.3h1M302.5 206.2h1M341.1 206.9h1M326.3 202.4h1M306.8 204.9h1M328.1 220.0h1M294.3 195.0h1M313.6 205.2h1M306.5 208.9h1M311.1 208.0h1M313.7 193.0h1M312.9 212.1h1M294.4 206.1h1M324.2 200.3h1M299.3 219.2h1M329.0 209.2h1M314.8 210.1h1M321.8 210.9h1M299.4 207.9h1M328.0 204.0h1M329.4 202.6h1M332.6 216.2h1M301.2 198.7h1M309.2 208.4h1M326.6 209.7h1M310.4 227.2h1M309.8 221.4h1M323.9 206.1h1M318.9 212.4h1M314.7 211.4h1M310.0 221.7h1M311.4 202.9h1M326.9 215.7h1M309.4 204.7h1M306.4 202.7h1M307.2 204.9h1M321.4 202.2h1M307.8 208.5h1M318.4 204.2h1M317.6 217.6h1M338.0 209.3h1M309.7 205.0h1M319.8 213.9h1M309.6 190.3h1M319.6 207.6h1M327.2 201.2h1M322.1 205.1h1M320.3 215.7h1M316.2 215.5h1M295.3 207.1h1M306.8 205.6h1M285.9 207.2h1M328.8 211.4h1M331.1 207.2h1M326.8 203.5h1M301.5 212.2h1M342.8 208.3h1M337.4 209.5h1M332.6 220.0h1M313.6 220.6h1M345.0 204.7h1M315.6 218.3h1M313.1 212.1h1M301.1 206.0h1M306.9 207.4h1M316.2 212.0h1M301.3 193.7h1M317.9 199.5h1M307.2 212.3h1M305.2 209.3h1M303.1 212.7h1M317.9 218.3h1M296.6 217.7h1M329.7 195.6h1M319.7 206.9h1M312.0 207.7h1M280.6 207.2h1M324.9 206.7h1M319.9 202.0h1M312.5 209.8h1M324.3 203.9h1M319.8 198.8h1M314.4 212.2h1M305.7 205.8h1M296.7 207.2h1M306.5 216.9h1M318.3 219.2h1M338.9 217.6h1M336.1 195.0h1M311.4 214.6h1M316.1 216.7h1M326.4 212.0h1M326.2 211.4h1M331.5 206.8h1M316.4 208.3h1M318.8 207.0h1M338.9 204.9h1M332.7 196.2h1M318.8 198.5h1M306.9 199.7h1M326.3 230.6h1M339.8 205.0h1M328.9 217.0h1M296.1 198.6h1M309.0 210.0h1M303.7 209.0h1M329.8 199.2h1M308.3 207.2h1M288.3 205.7h1M314.1 212.1h1M322.7 222.7h1M315.9 212.6h1M314.4 208.4h1M308.3 208.8h1M326.3 209.3h1M325.2 218.7h1M319.9 210.3h1M303.7 207.8h1M304.4 196.6h1M296.4 194.5h1M338.9 196.8h1M329.7 216.7h1M316.9 196.1h1M296.6 207.2h1M321.4 214.7h1M317.3 211.6h1M302.1 219.9h1M318.1 186.1h1M313.6 199.7h1M325.9 218.3h1M304.6 204.5h1M312.6 197.8h1M324.5 211.2h1M303.1 205.5h1M324.9 211.6h1M329.9 209.4h1M329.4 198.2h1M310.1 209.0h1M299.8 211.0h1M297.8 209.0h1M319.7 217.3h1M316.0 227.2h1M318.0 220.2h1M312.8 206.8h1M319.9 207.2h1M312.8 213.2h1M319.7 203.1h1M326.8 199.6h1M308.5 206.0h1M314.2 224.0h1M315.0 209.3h1M312.5 211.7h1M316.5 199.5h1M325.5 194.9h1M307.7 203.6h1M314.6 197.3h1M333.0 208.7h1M301.4 189.9h1M302.1 211.9h1M323.6 204.8h1M335.9 207.9h1M337.1 212.6h1M318.2 203.9h1M337.7 204.4h1M320.3 217.3h1M313.6 210.2h1M314.4 206.7h1M310.5 216.8h1M324.5 202.8h1M301.7 202.0h1M336.1 206.5h1M311.0 205.7h1M319.4 207.7h1M317.0 206.4h1M320.5 212.6h1M311.9 215.7h1M320.0 215.0h1M319.9 210.2h1M299.6 216.0h1M319.9 203.8h1M318.3 218.4h1M329.4 215.9h1M323.4 189.6h1M317.0 202.3h1M308.8 216.5h1M288.7 202.3h1M324.5 207.9h1M301.2 206.3h1M334.4 207.9h1M299.1 211.4h1M336.3 217.2h1M313.3 216.8h1M311.0 206.2h1M322.9 211.3h1M311.2 214.5h1M303.0 204.3h1M304.1 212.5h1M321.4 207.0h1M311.0 220.3h1M328.5 193.7h1M306.8 212.1h1M294.5 201.0h1M332.5 200.4h1M331.3 189.7h1M312.5 204.1h1M308.0 202.4h1M328.6 206.3h1M301.7 195.6h1M325.0 212.5h1M309.6 203.4h1M297.6 216.8h1M314.5 208.0h1M297.9 214.3h1M325.1 202.4h1M306.9 205.8h1M307.3 224.3h1M304.2 215.0h1M296.9 213.5h1M301.7 209.4h1M314.3 222.7h1M301.4 213.4h1M311.5 196.5h1M324.6 206.8h1M318.9 219.6h1M322.5 209.3h1M295.2 207.5h1M326.4 214.4h1M318.8 212.4h1M304.2 202.7h1M306.5 201.9h1M317.7 200.9h1M325.1 211.7h1M324.9 205.2h1M328.2 211.4h1M295.6 213.1h1M310.7 203.3h1M334.7 217.3h1M324.0 197.0h1M322.2 209.1h1M287.0 211.9h1M310.1 205.8h1M298.4 203.9h1M319.2 203.6h1M310.7 213.9h1M304.1 219.7h1M320.8 200.9h1M316.0 204.9h1M328.9 209.8h1M323.1 200.7h1M325.7 201.6h1M320.1 203.6h1M323.7 205.5h1M319.3 206.3h1M309.4 214.6h1M333.2 209.7h1M309.0 206.8h1M314.1 213.4h1M308.8 214.5h1M319.5 191.1h1M328.2 213.9h1M336.2 206.3h1M301.5 210.4h1M311.0 202.8h1M322.8 203.5h1M311.8 207.9h1M287.9 213.9h1M316.1 206.5h1M339.4 212.3h1M311.2 205.1h1M325.5 213.2h1M307.7 212.2h1M301.2 205.7h1M328.2 205.4h1M306.1 213.8h1M327.8 202.0h1M323.6 200.1h1M323.1 206.6h1M321.8 205.1h1M305.2 199.8h1M312.2 197.9h1M296.9 209.0h1M322.4 214.3h1M308.3 202.4h1M321.5 214.6h1M291.6 202.2h1M294.3 217.5h1M323.8 214.1h1M326.6 208.2h1M311.8 213.4h1M320.3 202.5h1M319.5 194.3h1M340.8 206.2h1M302.9 199.5h1M317.5 200.9h1M321.5 217.1h1M291.2 224.8h1M309.1 206.8h1M315.8 213.2h1M309.2 202.7h1M316.5 203.2h1M314.6 210.6h1M317.4 215.8h1M318.4 209.3h1M324.0 218.8h1M314.0 198.6h1M320.3 200.4h1M313.1 211.1h1M300.3 201.3h1M302.7 216.4h1M321.9 212.9h1M334.2 202.1h1M306.1 206.9h1M312.3 209.8h1M288.0 191.8h1M319.2 207.3h1M324.3 209.6h1M320.8 210.7h1M326.4 215.6h1M291.4 203.7h1M333.3 217.3h1M306.3 208.4h1M299.7 203.9h1M310.5 208.0h1M319.6 195.4h1M313.3 207.8h1M315.2 212.9h1M343.3 207.0h1M296.4 197.2h1M332.2 203.2h1M314.0 212.9h1M320.3 214.7h1M305.7 217.4h1M329.4 219.9h1M297.3 206.1h1M311.2 208.4h1M326.0 218.4h1M311.1 211.1h1M293.5 203.2h1M314.5 216.5h1M316.2 188.9h1M339.1 209.9h1M308.5 228.8h1M319.9 211.7h1M309.0 203.8h1M324.5 212.3h1M304.8 211.8h1M294.8 208.0h1M319.3 220.7h1M301.5 207.9h1M305.3 197.0h1M310.2 213.7h1M337.9 206.6h1M326.9 201.2h1M337.1 209.0h1M307.5 209.4h1M314.4 225.3h1M310.2 201.4h1M340.1 210.3h1M326.5 207.6h1M296.0 214.0h1M321.3 201.8h1M333.0 203.7h1M291.6 222.6h1M291.1 203.6h1M326.8 213.8h1M312.7 210.1h1M306.0 204.6h1M330.6 199.4h1M322.8 215.1h1M316.9 212.3h1M285.5 218.2h1M317.7 200.7h1M310.6 209.3h1M322.5 195.9h1M318.1 210.8h1M300.7 206.9h1M341.3 212.3h1M296.6 206.8h1M334.9 211.7h1M312.5 208.9h1M314.2 191.5h1M312.7 212.3h1M319.4 215.6h1M314.1 217.9h1M317.8 206.3h1M305.4 210.3h1M321.3 209.2h1M298.9 211.3h1M318.1 209.6h1M314.4 203.8h1M316.5 202.5h1M313.6 203.7h1M336.3 211.4h1M317.7 213.9h1M330.5 202.4h1M315.4 210.0h1M334.9 197.6h1M312.6 204.7h1M329.9 204.3h1M316.6 193.6h1M318.9 211.9h1M308.3 201.9h1M314.8 202.3h1M318.7 205.9h1M292.2 216.4h1M313.9 215.8h1M319.8 198.0h1M294.9 200.9h1M306.6 198.2h1M303.9 206.4h1M309.5 210.0h1M318.2 201.2h1M291.8 209.4h1M314.9 212.4h1M311.7 202.3h1M336.1 201.6h1M304.3 197.3h1M287.3 213.4h1M297.9 200.4h1M320.4 194.7h1M294.3 200.2h1M305.4 206.9h1M294.8 201.8h1M302.7 210.7h1M309.7 213.5h1M332.1 207.6h1M303.3 204.4h1M309.3 203.2h1M314.1 211.7h1M305.4 196.1h1M314.4 204.5h1M326.1 203.7h1M323.6 210.1h1M304.6 199.1h1M317.5 213.2h1M303.5 197.6h1M304.7 215.6h1M296.5 222.5h1M316.6 205.5h1M314.2 220.0h1M298.3 216.8h1M309.8 205.5h1M308.2 208.6h1M311.6 214.1h1M334.2 204.8h1M317.9 212.6h1M317.8 217.1h1M298.8 209.1h1M315.1 208.1h1M323.7 218.8h1M295.9 210.3h1M305.8 200.0h1M308.6 206.6h1M305.6 209.3h1M320.3 204.1h1M324.8 213.0h1M306.2 214.5h1M326.4 205.1h1M324.6 210.0h1M288.3 215.6h1M307.9 210.1h1M325.3 205.5h1M329.5 206.8h1M292.4 210.2h1M312.3 215.6h1M343.1 210.5h1M295.6 206.9h1M312.8 197.9h1M318.1 222.4h1M318.9 204.3h1M321.1 212.3h1M323.8 194.8h1M324.0 200.3h1M314.7 217.3h1M303.9 211.8h1M315.3 202.6h1M307.9 191.0h1M304.6 209.2h1M318.5 205.9h1M323.8 204.2h1M294.6 201.4h1M305.8 218.1h1M324.7 214.0h1M303.3 212.9h1M306.9 216.3h1M329.2 203.0h1M309.2 210.6h1M290.9 202.4h1M323.8 201.3h1M305.8 208.7h1M325.8 208.0h1M325.3 204.1h1M333.6 221.9h1M319.4 209.1h1M327.6 217.6h1M299.5 224.5h1M312.3 204.5h1M318.0 214.9h1M324.9 207.5h1M298.4 217.0h1M324.2 196.4h1M319.0 202.6h1M338.5 207.4h1M326.4 209.8h1M302.4 218.8h1M299.3 197.3h1M304.9 207.2h1M300.8 202.7h1M300.8 208.1h1M316.3 202.5h1M316.7 214.9h1M324.5 203.0h1M331.2 194.0h1M308.6 225.3h1M306.9 210.4h1M301.8 208.4h1M310.1 192.3h1M332.0 220.3h1M323.1 213.0h1M302.1 206.9h1M292.0 217.0h1M315.2 215.4h1M302.9 220.6h1M318.1 198.5h1M326.9 209.3h1M304.6 207.0h1M302.4 206.8h1M327.6 201.8h1M295.4 222.7h1M316.1 221.0h1M317.6 210.6h1M298.7 201.3h1M329.4 207.6h1M323.0 214.4h1M301.9 207.6h1M303.9 208.4h1M309.8 213.5h1M297.8 210.5h1M327.0 206.8h1M316.6 209.3h1M299.1 199.9h1M310.9 209.5h1M310.4 210.2h1M300.0 211.7h1M337.9 191.6h1M310.8 211.9h1M311.9 201.9h1M322.9 213.7h1M321.4 206.6h1M319.9 212.5h1M308.2 201.5h1M316.9 218.2h1M318.1 200.0h1M310.9 204.4h1M329.7 207.0h1M315.6 219.0h1M290.4 205.5h1M313.1 205.1h1M320.9 204.3h1M313.1 206.7h1M309.3 216.3h1M312.5 207.9h1M317.7 213.1h1M297.2 197.8h1M328.7 200.5h1M301.2 199.0h1M318.1 213.9h1M334.2 207.9h1M331.2 206.4h1M314.9 213.0h1M298.7 216.6h1M310.3 205.3h1M317.7 210.9h1M334.3 188.6h1M310.3 205.9h1M319.2 198.9h1M324.8 219.8h1M318.3 204.9h1M309.7 208.1h1M310.0 206.5h1M311.5 206.1h1M311.9 218.6h1M327.9 192.2h1M305.4 205.2h1M295.7 208.7h1M335.7 207.2h1M305.7 206.9h1M328.8 201.0h1M321.0 203.6h1M313.3 212.0h1M319.5 193.9h1M315.2 205.4h1M285.7 211.3h1M319.3 202.0h1M341.8 203.9h1M308.5 202.4h1M311.8 212.5h1M322.3 200.3h1M306.5 205.2h1M283.2 212.7h1M311.3 205.2h1M290.2 212.4h1M316.7 195.1h1M317.7 207.7h1M322.7 200.1h1M299.0 206.3h1M302.0 208.3h1M306.9 215.5h1M303.9 209.4h1M331.3 197.3h1M309.6 217.5h1M332.6 216.6h1M305.9 209.7h1M314.3 215.1h1M298.1 228.2h1M308.6 202.6h1M309.1 187.4h1M328.4 206.5h1M311.4 200.8h1M306.1 207.7h1M306.3 216.3h1M304.4 211.7h1M284.6 203.8h1M324.7 202.1h1M305.3 216.7h1M312.4 228.4h1M338.0 221.8h1M324.2 222.2h1M307.9 222.5h1M294.7 218.6h1M321.4 230.7h1M310.9 230.1h1M315.4 220.2h1M308.6 227.6h1M323.6 214.5h1M310.0 223.6h1M337.9 222.8h1M315.6 223.2h1M332.6 222.7h1M315.5 228.9h1M324.3 214.3h1M330.2 224.8h1M317.6 224.0h1M307.1 221.2h1M295.4 228.4h1M320.4 220.3h1M320.5 227.2h1M323.5 219.0h1M306.3 220.9h1M308.0 218.3h1M297.8 221.6h1M296.9 219.9h1M313.4 214.5h1M324.7 223.8h1M306.5 229.5h1M313.0 220.7h1M310.4 218.5h1M337.5 225.1h1M318.5 223.1h1M319.5 218.9h1M315.4 215.0h1M302.5 222.4h1M320.4 220.4h1M318.3 222.9h1M313.9 218.8h1M312.7 219.2h1M319.2 226.6h1M298.4 223.7h1M335.0 220.3h1M318.8 227.9h1M322.6 230.1h1M321.5 222.1h1M304.1 221.0h1M318.8 216.8h1M323.6 218.1h1M317.7 221.0h1M320.1 230.6h1M329.0 223.1h1M324.3 224.5h1M320.9 219.3h1M312.1 226.9h1M337.4 220.8h1M308.8 212.6h1M327.7 224.7h1M310.1 223.1h1M318.9 219.6h1M316.6 229.4h1M321.3 227.4h1M319.2 224.9h1M305.5 218.2h1M326.1 217.5h1M315.2 223.5h1M314.5 220.1h1M321.9 223.9h1M312.5 224.7h1M310.1 228.5h1M331.0 228.7h1M313.6 225.0h1M332.1 227.9h1M309.5 222.1h1M308.4 217.5h1M314.3 216.1h1M304.5 229.0h1M336.7 221.9h1M314.8 228.0h1M303.6 224.2h1M301.2 216.7h1M304.7 220.5h1M332.7 218.3h1M314.9 215.4h1M335.3 217.3h1M315.1 213.2h1M310.4 224.2h1M304.7 221.4h1M323.4 218.6h1M308.0 198.8h1M325.9 202.2h1M262.5 211.4h1M290.7 170.3h1M300.3 171.9h1M335.4 149.3h1M307.0 164.6h1M292.1 148.3h1M337.6 150.1h1M345.5 172.7h1M336.0 229.8h1M351.7 214.2h1M351.7 174.9h1M237.8 193.8h1M285.8 143.6h1M330.0 178.3h1M296.3 187.9h1M308.0 183.2h1M307.3 185.3h1M340.7 177.6h1M227.1 368.6h1M239.3 358.5h1M223.9 364.6h1M225.6 364.8h1M233.5 357.5h1M242.9 355.1h1M218.6 352.6h1M234.0 370.1h1M232.1 365.4h1M222.9 361.3h1M236.7 353.0h1M232.2 355.5h1M216.9 366.1h1M216.8 354.8h1M236.2 354.7h1M231.1 363.1h1M226.2 360.8h1M238.2 374.3h1M243.4 371.5h1M217.4 366.5h1M221.2 371.9h1M230.8 368.8h1M238.7 372.3h1M242.8 358.2h1M233.7 370.3h1M230.3 358.4h1M222.6 357.9h1M224.0 361.6h1M230.5 360.9h1M221.4 356.2h1M233.2 365.2h1M229.1 353.3h1M241.4 344.2h1M235.4 366.8h1M234.5 365.6h1M220.0 374.9h1M237.0 358.9h1M236.7 355.9h1M224.3 378.9h1M230.8 360.2h1M235.1 372.1h1M234.2 378.4h1M244.3 361.3h1M247.9 351.4h1M230.7 372.1h1M245.5 352.8h1M246.4 359.6h1M229.9 375.8h1M222.0 364.2h1M240.2 360.3h1M240.1 364.7h1M231.1 356.9h1M236.1 359.7h1M235.9 359.7h1M224.9 359.0h1M255.3 367.7h1M237.7 361.4h1M226.0 363.7h1M217.3 353.6h1M238.5 363.6h1M235.9 358.3h1M240.4 351.6h1M217.3 370.5h1M242.1 374.9h1M239.6 371.2h1M222.5 354.7h1M219.2 364.7h1M225.4 366.2h1M241.4 356.3h1M225.4 356.6h1M218.4 362.4h1M234.0 363.9h1M218.1 372.1h1M230.8 359.8h1M226.7 373.4h1M231.7 363.6h1M226.1 359.0h1M222.3 354.7h1M230.7 376.4h1M234.9 371.2h1M232.9 357.5h1M233.6 360.3h1M242.6 372.5h1M242.2 373.0h1M222.5 365.8h1M227.5 363.3h1M239.4 365.2h1M240.0 358.5h1M232.2 370.2h1M229.8 366.0h1M234.8 358.9h1M217.8 359.0h1M237.6 377.5h1M219.2 361.3h1M219.7 368.2h1M218.0 363.6h1M217.2 370.2h1M230.2 360.3h1M235.5 359.6h1M241.0 350.7h1M221.4 361.9h1M217.8 365.1h1M217.2 368.7h1M236.2 367.4h1M242.7 364.0h1M241.3 366.9h1M229.9 361.5h1M233.5 361.3h1M232.5 372.8h1M230.0 355.4h1M234.1 373.4h1M231.8 359.5h1M229.7 364.1h1M228.8 372.3h1M247.1 349.9h1M218.3 368.4h1M223.4 367.8h1M236.7 357.9h1M226.6 365.2h1M219.8 376.3h1M243.5 358.3h1M233.2 372.3h1M220.9 365.0h1M241.6 364.4h1M223.4 363.9h1M227.2 374.8h1M217.5 365.0h1M237.0 358.9h1M243.4 365.6h1M225.1 369.4h1M240.7 355.8h1M223.3 361.9h1M233.1 367.5h1M229.1 370.3h1M229.3 347.2h1M236.2 364.3h1M233.5 354.2h1M244.1 355.8h1M224.8 376.6h1M239.3 357.5h1M225.0 357.6h1M219.3 353.8h1M222.9 353.0h1M238.2 356.6h1M239.1 364.5h1M223.5 358.8h1M239.0 362.5h1M221.6 354.6h1M249.4 350.7h1M224.5 368.4h1M226.0 366.6h1M232.2 360.8h1M234.9 363.3h1M234.8 364.8h1M237.5 362.7h1M237.3 374.5h1M235.4 369.9h1M243.1 370.4h1M220.9 355.2h1M238.5 360.5h1M231.1 369.7h1M216.7 355.9h1M226.6 365.5h1M233.7 367.0h1M248.0 370.7h1M223.3 360.8h1M221.6 354.1h1M247.0 352.4h1M226.0 367.9h1M239.1 359.9h1M244.7 368.9h1M220.2 362.9h1M217.4 349.6h1M228.4 359.4h1M242.4 361.0h1M230.4 358.1h1M228.5 364.4h1M228.6 353.5h1M226.6 356.2h1M238.4 377.8h1M227.9 360.0h1M220.2 350.0h1M230.4 352.7h1M238.5 358.4h1M248.9 359.9h1M235.8 347.6h1M237.7 359.0h1M218.5 370.4h1M226.5 369.4h1M237.5 369.9h1M240.1 364.2h1M236.0 373.4h1M218.1 374.6h1M239.5 373.5h1M226.0 371.7h1M237.0 365.6h1M239.0 360.5h1M229.4 366.8h1M227.7 372.4h1M232.5 370.2h1M232.7 374.7h1M224.5 361.8h1M223.5 370.8h1M227.9 362.0h1M241.0 365.1h1M231.6 368.4h1M222.5 367.1h1M217.1 359.4h1M244.5 360.3h1M224.2 360.0h1M226.2 360.6h1M219.8 356.9h1M235.2 357.7h1M223.2 363.0h1M233.6 359.8h1M234.7 372.1h1M245.4 365.7h1M257.3 371.7h1M232.2 360.7h1M224.4 366.3h1M217.0 355.2h1M236.0 371.0h1M238.4 362.3h1M245.8 363.5h1M231.1 363.4h1M235.1 363.4h1M239.0 361.6h1M229.5 365.6h1M233.2 367.2h1M237.1 364.1h1M233.9 370.4h1M221.6 360.5h1M223.3 361.5h1M224.4 360.3h1M225.0 374.0h1M238.3 368.1h1M225.7 356.0h1M232.7 367.4h1M222.7 368.6h1M234.6 365.5h1M217.6 352.8h1M232.3 348.7h1M234.0 368.6h1M224.2 352.2h1M236.5 360.8h1M233.8 359.3h1M247.3 373.2h1M249.0 342.7h1M217.7 368.7h1M222.9 347.9h1M227.9 365.5h1M239.4 362.7h1M218.3 372.0h1M232.6 369.0h1M227.7 350.4h1M240.6 353.3h1M238.0 363.8h1M219.6 356.9h1M241.0 356.5h1M238.1 367.9h1M229.2 361.8h1M245.5 364.9h1M246.1 365.7h1M248.2 357.3h1M225.3 354.2h1M229.8 368.3h1M221.3 352.6h1M228.2 370.0h1M222.2 371.8h1M239.2 358.0h1M222.3 362.2h1M228.1 372.5h1M239.3 362.9h1M237.2 362.5h1M224.5 376.7h1M217.2 375.1h1M240.9 359.2h1M235.2 369.9h1M247.4 370.8h1M232.0 361.2h1M238.4 360.2h1M237.6 369.5h1M225.3 353.7h1M221.1 365.8h1M216.7 369.4h1M234.1 374.0h1M231.1 375.3h1M230.0 358.9h1M222.4 364.0h1M239.5 351.5h1M220.5 358.5h1M225.7 349.2h1M244.3 353.9h1M228.2 371.1h1M229.7 363.0h1M236.8 370.5h1M227.9 350.9h1M223.0 359.4h1M250.9 371.4h1M235.2 362.7h1M252.6 357.2h1M232.5 359.9h1M243.5 353.0h1M241.0 355.7h1M233.8 378.2h1M229.8 367.7h1M236.0 361.3h1M246.6 373.4h1M230.6 361.8h1M232.0 369.6h1M233.9 367.6h1M219.3 348.9h1M217.0 363.0h1M232.6 349.6h1M221.6 371.7h1M231.5 376.8h1M246.8 367.6h1M233.7 376.0h1M245.0 367.4h1M235.9 372.1h1M244.7 372.4h1M231.6 365.9h1M237.6 376.3h1M221.2 342.3h1M227.4 375.6h1M228.7 363.2h1M231.6 364.6h1M221.0 376.1h1M227.2 357.1h1M229.7 352.7h1M222.9 364.1h1M223.9 363.3h1M221.8 371.6h1M223.0 353.6h1M262.1 362.0h1M236.7 363.2h1M227.6 374.2h1M233.3 376.2h1M239.2 356.2h1M217.6 360.4h1M249.6 356.6h1M221.9 364.7h1M234.2 363.3h1M240.3 358.0h1M227.9 360.5h1M233.8 366.5h1M233.6 361.2h1M223.9 364.9h1M223.0 361.9h1M221.9 356.7h1M218.2 369.4h1M221.2 375.5h1M223.7 363.3h1M228.8 356.9h1M231.9 363.1h1M232.5 356.8h1M221.6 374.2h1M231.6 366.5h1M218.0 373.9h1M230.2 357.4h1M228.7 363.6h1M236.1 378.2h1M229.5 365.6h1M218.6 359.7h1M233.2 367.6h1M239.9 351.3h1M218.2 368.7h1M229.2 359.9h1M234.1 371.1h1M229.5 366.3h1M227.0 362.6h1M226.6 361.0h1M217.2 372.6h1M235.2 364.5h1M230.5 359.1h1M226.4 362.5h1M224.4 363.6h1M244.9 356.9h1M227.1 367.4h1M228.0 353.0h1M230.5 354.7h1M247.8 357.2h1M223.3 358.2h1M239.0 369.3h1M227.6 361.0h1M231.5 367.5h1M220.8 358.6h1M217.0 366.2h1M217.7 370.5h1M218.3 371.3h1M236.7 365.1h1M217.7 373.8h1M228.2 364.8h1M232.5 365.7h1M217.8 366.2h1M239.0 364.5h1M235.1 348.4h1M242.3 368.2h1M220.0 373.1h1M248.0 375.1h1M227.4 358.7h1M231.7 358.0h1M239.0 362.9h1M223.9 360.2h1M228.3 362.4h1M218.3 374.3h1M249.2 360.5h1M228.5 365.7h1M233.4 352.8h1M222.2 366.3h1M238.7 359.6h1M244.1 359.8h1M235.9 372.0h1M223.9 367.6h1M233.5 362.0h1M234.4 350.7h1M233.4 367.3h1M252.2 368.1h1M217.9 375.0h1M217.7 362.1h1M233.4 371.8h1M241.1 373.6h1M221.5 363.4h1M217.5 367.8h1M232.6 350.5h1M230.3 371.0h1M231.2 352.3h1M241.8 369.0h1M240.5 357.9h1M229.9 356.2h1M244.0 363.6h1M238.7 360.5h1M230.4 371.1h1M224.2 367.0h1M237.1 363.2h1M233.1 357.7h1M239.0 363.0h1M221.7 373.1h1M240.3 365.9h1M225.3 374.1h1M227.6 361.6h1M237.5 362.7h1M225.8 361.9h1M220.9 371.1h1M261.8 349.6h1M243.8 356.9h1M221.3 348.0h1M216.6 350.9h1M242.8 373.5h1M227.3 360.6h1M239.4 366.0h1M235.7 369.9h1M233.5 371.7h1M217.8 358.1h1M247.2 366.0h1M243.8 370.2h1M228.4 356.0h1M239.3 352.7h1M237.6 372.8h1M217.9 369.7h1M224.0 365.7h1M229.3 378.1h1M240.8 358.2h1M229.1 364.9h1M236.4 365.4h1M221.0 365.0h1M224.2 354.7h1M228.5 377.3h1M230.2 359.9h1M231.5 364.2h1M236.6 364.3h1M248.0 370.4h1M239.1 366.4h1M237.3 353.1h1M231.6 372.5h1M227.5 352.5h1M217.4 348.5h1M248.1 366.4h1M237.4 357.5h1M226.8 368.0h1M237.8 364.5h1M238.6 369.3h1M229.0 368.8h1M240.5 354.7h1M231.0 350.4h1M252.1 365.9h1M226.1 350.5h1M247.5 353.7h1M220.1 356.4h1M234.6 369.0h1M247.3 364.6h1M254.0 376.3h1M235.0 363.1h1M230.2 361.3h1M222.8 378.6h1M232.7 358.4h1M238.1 368.0h1M233.1 357.5h1M237.8 367.1h1M218.7 366.9h1M251.2 364.0h1M226.4 359.1h1M239.8 367.5h1M237.1 361.8h1M217.0 360.6h1M235.3 366.1h1M227.6 366.2h1M229.0 362.8h1M218.3 360.8h1M225.7 360.2h1M236.1 365.7h1M234.4 354.4h1M243.9 368.4h1M241.9 361.9h1M238.4 368.9h1M222.4 369.2h1M228.2 357.3h1M239.8 363.6h1M236.2 359.1h1M242.3 367.2h1M243.1 362.6h1M236.7 360.3h1M251.4 357.7h1M235.4 367.4h1M230.9 370.1h1M225.0 369.6h1M246.4 361.7h1M240.9 365.7h1M235.9 356.5h1M234.2 355.0h1M248.4 360.0h1M230.7 361.4h1M235.2 364.8h1M218.1 373.4h1M241.7 368.2h1M224.1 375.8h1M243.3 357.7h1M225.3 364.6h1M220.4 366.2h1M225.6 373.2h1M232.5 358.0h1M217.2 364.8h1M232.5 369.1h1M221.4 360.9h1M230.7 367.1h1M233.8 366.1h1M219.7 363.7h1M234.9 369.5h1M230.1 367.8h1M239.6 363.1h1M239.4 356.6h1M246.0 369.0h1M232.8 357.2h1M217.0 358.7h1M232.4 358.5h1M222.8 363.8h1M230.6 363.2h1M218.2 358.3h1M248.8 375.9h1M240.8 376.4h1M224.2 346.2h1M217.2 359.5h1M225.0 358.4h1M233.0 344.3h1M239.9 368.5h1M231.2 359.1h1M238.9 354.0h1M233.9 354.1h1M227.6 353.7h1M218.5 358.0h1M232.1 358.9h1M228.4 374.4h1M234.0 351.3h1M233.8 363.8h1M232.8 346.7h1M233.8 316.2h1M249.9 301.1h1M234.9 304.9h1M231.1 319.7h1M227.7 319.5h1M245.2 313.9h1M224.4 310.9h1M250.5 313.4h1M237.4 314.5h1M226.1 297.5h1M239.3 304.9h1M237.9 307.6h1M233.8 320.5h1M244.8 307.9h1M237.0 322.6h1M234.6 302.6h1M238.9 300.3h1M250.1 311.3h1M234.4 306.9h1M237.6 309.2h1M231.6 308.2h1M234.0 316.4h1M227.0 299.5h1M221.5 307.7h1M245.8 305.4h1M223.4 326.7h1M248.3 313.9h1M243.4 306.9h1M233.5 302.9h1M239.5 320.8h1M220.6 317.4h1M233.7 312.5h1M224.1 312.9h1M249.6 304.6h1M232.2 305.2h1M238.3 309.3h1M223.1 313.0h1M242.0 309.4h1M225.6 315.5h1M245.9 325.8h1M237.8 304.5h1M231.0 315.8h1M232.3 304.1h1M237.3 303.0h1M229.4 304.7h1M230.5 309.0h1M246.1 303.0h1M232.2 316.6h1M243.2 313.9h1M241.1 298.4h1M226.6 315.4h1M249.2 311.6h1M236.9 308.1h1M240.3 316.5h1M240.4 310.9h1M256.0 305.0h1M245.2 316.9h1M237.7 306.7h1M229.7 304.0h1M227.7 308.1h1M236.6 307.1h1M247.4 316.5h1M227.3 303.3h1M235.0 319.1h1M246.3 303.9h1M235.3 299.4h1M218.1 310.8h1M246.0 303.3h1M243.0 312.8h1M226.9 319.4h1M228.2 318.2h1M243.6 315.7h1M224.0 302.2h1M220.3 317.8h1M226.7 311.5h1M247.6 299.1h1M244.3 321.3h1M260.2 316.4h1M236.5 309.1h1M234.0 315.6h1M241.0 322.9h1M234.9 304.5h1M236.4 299.2h1M227.6 306.8h1M221.3 319.8h1M238.5 305.5h1M226.4 316.7h1M253.2 318.7h1M256.9 297.3h1M231.9 299.4h1M240.9 301.3h1M241.3 310.0h1M237.8 299.3h1M246.1 305.9h1M232.6 298.4h1M238.9 300.4h1M248.6 306.0h1M245.3 316.2h1M235.1 304.7h1M252.4 312.3h1M246.3 312.0h1M250.4 296.4h1M258.0 304.6h1M219.1 313.6h1M229.6 296.6h1M246.4 304.6h1M258.4 303.3h1M249.1 313.4h1M220.1 304.2h1M236.7 307.0h1M235.5 319.5h1M241.3 312.2h1M236.5 320.2h1M241.4 305.6h1M221.4 310.4h1M240.1 319.3h1M237.7 308.3h1M229.5 316.2h1M253.8 310.1h1M232.0 300.3h1M245.2 312.9h1M253.3 320.4h1M248.8 326.0h1M252.1 305.4h1M245.3 313.0h1M223.3 308.0h1M227.3 314.7h1M220.3 300.5h1M230.3 307.0h1M256.2 312.6h1M220.6 301.3h1M221.7 310.2h1M238.2 316.4h1M225.6 311.9h1M249.6 305.1h1M218.7 308.2h1M248.2 316.8h1M227.9 323.8h1M236.2 312.1h1M235.9 308.9h1M258.9 318.4h1M246.4 307.9h1M239.3 311.3h1M227.9 309.7h1M230.8 312.5h1M232.9 309.5h1M217.0 302.6h1M231.7 316.7h1M238.0 307.0h1M229.0 298.6h1M225.6 308.8h1M259.4 305.7h1M245.6 306.4h1M230.7 314.7h1M238.8 304.2h1M232.8 307.7h1M238.6 305.8h1M237.0 304.7h1M232.7 305.5h1M230.5 302.0h1M241.8 312.3h1M225.3 317.1h1M250.9 312.5h1M223.1 310.2h1M290.9 303.7h1M280.7 303.4h1M262.9 306.1h1M259.8 302.7h1M264.8 305.7h1M225.5 350.6h1M232.2 352.1h1M239.0 344.2h1M238.3 346.2h1M240.0 336.1h1M225.1 335.6h1M235.5 338.6h1M224.2 329.5h1M257.5 342.6h1M228.9 331.1h1M230.4 335.5h1M242.0 343.4h1M231.9 346.8h1M222.3 335.0h1M233.5 327.0h1M246.1 337.4h1M236.0 329.0h1M239.0 341.0h1M221.4 339.2h1M230.1 331.6h1M230.1 332.4h1M228.2 332.7h1M242.2 337.2h1M239.8 338.9h1M267.8 349.1h1M238.5 332.4h1M232.6 328.8h1M251.8 333.0h1M230.8 340.1h1M225.1 328.6h1M227.7 339.3h1M253.1 348.4h1M238.7 337.0h1M228.4 329.1h1M231.5 335.4h1M233.8 339.8h1M242.8 333.0h1M221.0 327.2h1M242.4 334.5h1M232.4 341.2h1M238.6 340.9h1M234.2 337.5h1M244.3 328.6h1M253.4 336.0h1M240.9 337.3h1M245.8 338.1h1M245.1 336.7h1M222.2 338.2h1M233.5 345.5h1M223.5 332.8h1M217.5 331.4h1M237.0 345.1h1M236.5 329.1h1M250.4 352.4h1M235.4 334.2h1M226.5 330.7h1M232.8 338.5h1M249.5 338.0h1M223.0 335.4h1M237.6 343.9h1M237.6 344.0h1M232.8 343.5h1M230.3 339.4h1M230.5 339.0h1M234.0 343.5h1M235.4 337.6h1M247.5 336.1h1M216.8 344.0h1M229.5 334.7h1M228.9 349.1h1M230.9 330.8h1M237.7 341.9h1M223.4 331.1h1M229.8 332.7h1M230.3 332.2h1M230.0 340.5h1M248.8 347.4h1M234.5 329.9h1M235.1 337.7h1M284.2 357.6h1M265.9 344.1h1M274.0 337.3h1M225.4 298.0h1M298.2 291.7h1M225.8 309.7h1M238.0 316.5h1M273.6 326.7h1M251.1 344.8h1M258.3 335.6h1M261.3 334.5h1M414.1 371.0h1M391.3 369.6h1M403.9 365.3h1M381.5 371.4h1M389.7 369.5h1M396.9 373.0h1M392.5 369.0h1M392.6 358.2h1M399.8 371.8h1M414.0 366.2h1M408.1 363.0h1M392.5 363.7h1M398.0 358.9h1M393.6 368.8h1M406.4 366.5h1M400.2 367.5h1M400.4 351.6h1M410.7 373.3h1M402.4 350.4h1M380.3 370.8h1M394.2 364.5h1M394.5 373.4h1M417.8 354.0h1M390.4 363.6h1M391.5 364.4h1M387.9 364.5h1M424.4 353.9h1M380.7 368.2h1M387.2 365.1h1M390.1 377.2h1M400.0 369.2h1M385.6 361.5h1M384.5 374.1h1M405.6 366.1h1M391.6 377.0h1M395.4 366.5h1M387.0 364.2h1M383.0 362.5h1M381.5 368.9h1M402.4 373.7h1M405.4 359.8h1M399.5 369.3h1M396.2 356.8h1M416.3 363.3h1M381.1 377.5h1M407.5 366.6h1M388.8 357.9h1M399.5 369.0h1M396.0 362.8h1M403.8 365.4h1M390.6 377.7h1M396.4 377.3h1M397.5 370.1h1M392.5 376.7h1M388.0 365.6h1M420.6 373.3h1M404.2 372.1h1M402.1 377.8h1M411.6 357.8h1M420.9 360.4h1M397.3 376.6h1M405.1 356.7h1M390.5 353.6h1M403.5 367.8h1M394.9 371.8h1M384.2 357.4h1M387.0 361.0h1M391.7 365.1h1M387.1 378.0h1M404.6 363.3h1M396.3 378.5h1M397.1 365.2h1M389.1 368.6h1M395.9 366.7h1M396.8 365.6h1M389.1 375.2h1M389.1 365.5h1M388.5 375.7h1M407.1 374.7h1M394.1 364.3h1M387.1 366.6h1M388.1 365.1h1M404.8 365.6h1M381.0 364.7h1M394.5 364.1h1M391.0 362.4h1M409.5 367.4h1M417.5 375.5h1M380.9 378.3h1M380.6 371.5h1M385.7 363.8h1M406.5 376.7h1M380.6 368.5h1M406.9 367.0h1M386.5 365.5h1M384.7 365.6h1M417.0 364.7h1M403.4 366.3h1M383.7 366.5h1M410.1 372.0h1M381.9 365.6h1M415.2 377.4h1M387.8 368.3h1M400.4 367.5h1M397.9 369.4h1M394.1 374.9h1M400.2 368.7h1M406.1 366.7h1M407.2 365.3h1M405.4 358.7h1M406.0 373.0h1M409.8 376.2h1M387.5 365.8h1M381.3 365.6h1M397.1 371.5h1M386.4 362.8h1M385.0 375.6h1M404.0 376.4h1M399.1 368.8h1M392.7 367.6h1M387.4 369.1h1M390.1 369.0h1M406.2 376.0h1M380.4 377.6h1M381.6 370.1h1M388.3 377.4h1M396.1 374.8h1M417.1 364.7h1M380.2 369.8h1M386.4 360.7h1M397.3 375.5h1M380.7 369.8h1M408.9 378.3h1M422.2 376.5h1M382.5 378.0h1M412.3 370.3h1M402.0 372.7h1M396.6 352.5h1M418.1 366.5h1M396.1 375.7h1M384.0 375.2h1M386.8 368.7h1M385.6 362.5h1M385.2 362.7h1M402.6 365.6h1M407.6 374.8h1M410.9 373.0h1M407.4 359.5h1M410.6 362.7h1M392.8 363.0h1M405.4 377.9h1M406.4 360.3h1M392.8 362.7h1M410.2 368.3h1M396.2 363.4h1M398.6 362.9h1M399.2 374.8h1M409.2 373.2h1M386.9 360.1h1M393.6 371.4h1M391.3 370.9h1M417.5 350.2h1M395.4 360.6h1M400.1 360.9h1M412.9 357.4h1M408.0 363.4h1M413.7 374.1h1M402.8 372.4h1M405.0 369.0h1M400.4 354.2h1M390.5 366.1h1M383.3 378.0h1M415.7 365.7h1M406.5 373.0h1M392.0 361.5h1M388.0 365.0h1M381.9 362.2h1M399.5 370.9h1M382.7 356.3h1M398.3 369.2h1M412.4 346.9h1M384.2 370.9h1M408.9 362.8h1M393.5 356.7h1M386.0 375.4h1M406.0 373.6h1M413.8 365.3h1M398.5 364.3h1M391.8 364.3h1M386.4 361.9h1M402.6 357.5h1M401.6 369.1h1M402.0 368.5h1M394.2 372.0h1M415.4 367.8h1M397.8 364.6h1M396.9 372.7h1M395.3 376.0h1M381.6 373.4h1M398.6 367.4h1M401.8 363.8h1M420.3 378.5h1M383.2 369.1h1M387.4 357.9h1M396.7 368.3h1M400.6 359.2h1M403.3 363.4h1M389.4 364.8h1M381.2 367.9h1M381.6 367.1h1M381.6 371.1h1M390.2 355.9h1M405.1 376.3h1M403.0 366.9h1M404.1 363.1h1M392.8 372.7h1M382.3 368.0h1M399.6 372.6h1M407.6 369.8h1M388.9 363.0h1M392.9 361.6h1M401.2 365.0h1M404.9 359.8h1M383.0 372.3h1M388.0 377.1h1M390.2 367.9h1M404.5 368.1h1M397.8 371.0h1M402.7 375.6h1M380.4 369.2h1M401.0 363.3h1M384.8 358.7h1M394.3 369.7h1M396.0 369.2h1M400.6 377.2h1M414.1 369.1h1M403.6 368.8h1M381.2 365.1h1M411.0 373.7h1M400.6 369.2h1M391.8 378.2h1M395.6 360.9h1M410.2 362.3h1M403.3 367.4h1M385.6 372.5h1M402.2 368.5h1M393.5 354.1h1M389.8 371.5h1M395.8 366.8h1M414.9 356.7h1M397.7 370.0h1M382.9 362.0h1M397.9 368.0h1M381.0 365.8h1M396.9 368.1h1M400.6 364.8h1M381.2 365.4h1M397.3 371.2h1M405.6 364.9h1M403.2 364.3h1M396.9 366.0h1M399.5 377.5h1M405.2 368.0h1M405.2 375.4h1M382.5 364.8h1M401.1 361.1h1M390.0 372.7h1M390.0 364.2h1M382.4 364.0h1M396.8 371.3h1M380.6 371.9h1M384.4 369.0h1M389.1 375.1h1M404.5 367.6h1M384.0 355.0h1M410.1 358.0h1M381.4 377.9h1M402.0 366.6h1M401.5 364.3h1M398.8 367.2h1M391.0 364.5h1M403.2 358.9h1M399.0 377.8h1M386.1 363.1h1M399.4 365.5h1M397.5 369.7h1M386.4 369.0h1M407.6 378.0h1M395.6 364.9h1M387.0 372.9h1M390.1 356.3h1M398.5 358.5h1M396.0 375.7h1M380.2 367.9h1M412.9 370.0h1M401.3 362.6h1M399.4 355.2h1M384.5 370.2h1M400.6 366.5h1M413.7 359.6h1M407.8 359.8h1M409.7 367.7h1M390.7 367.7h1M403.4 377.8h1M397.8 366.4h1M385.7 372.7h1M398.6 364.3h1M394.3 356.8h1M391.1 372.0h1M396.2 372.8h1M386.8 372.2h1M396.1 360.4h1M393.7 362.5h1M412.9 367.1h1M403.5 366.0h1M389.8 367.9h1M405.2 365.4h1M390.2 369.5h1M398.1 369.0h1M402.1 368.3h1M382.2 364.2h1M409.5 359.7h1M407.4 371.1h1M394.8 378.3h1M390.2 365.9h1M406.4 367.1h1M385.0 377.8h1M400.5 358.7h1M397.9 370.3h1M380.7 360.5h1M382.2 377.3h1M404.9 369.0h1M404.1 363.8h1M397.8 367.9h1M380.9 363.2h1M416.9 360.4h1M397.7 361.6h1M407.7 368.9h1M395.0 365.1h1M398.5 378.0h1M396.0 365.7h1M400.0 363.3h1M395.9 372.8h1M406.5 360.5h1M395.0 372.4h1M394.8 374.9h1M381.9 362.3h1M387.5 375.8h1M408.2 363.8h1M409.4 370.4h1M390.1 369.7h1M381.0 373.0h1M409.6 368.8h1M406.1 370.7h1M399.1 372.9h1M390.9 368.7h1M404.0 373.5h1M415.4 369.1h1M386.4 372.3h1M383.2 365.4h1M380.8 365.2h1M391.4 371.2h1M389.6 378.3h1M391.2 362.9h1M397.1 372.3h1M412.7 361.0h1M402.3 368.3h1M407.8 369.3h1M395.8 372.8h1M400.3 372.3h1M411.3 350.3h1M391.0 359.4h1M395.4 372.7h1M395.5 368.1h1M404.3 358.9h1M403.3 363.1h1M398.4 367.5h1M385.6 365.1h1M400.0 362.3h1M402.6 362.3h1M389.9 371.1h1M409.2 365.6h1M391.4 376.7h1M402.6 355.9h1M397.4 378.5h1M391.8 374.9h1M403.0 365.6h1M409.3 367.5h1M421.8 370.7h1M418.7 367.3h1M394.2 377.3h1M393.7 362.6h1M402.3 372.9h1M402.4 365.8h1M404.8 378.3h1M409.5 368.5h1M387.0 369.7h1M406.9 357.3h1M404.1 358.9h1M398.4 368.3h1M411.8 369.4h1M386.6 371.1h1M401.4 374.6h1M384.1 364.0h1M397.1 361.5h1M398.3 369.6h1M399.3 363.6h1M402.9 364.6h1M405.3 359.9h1M386.9 363.1h1M394.5 366.7h1M407.8 363.5h1M392.9 360.7h1M418.6 355.1h1M389.4 362.4h1M394.9 359.8h1M381.7 359.1h1M411.6 360.8h1M387.8 378.5h1M408.2 372.3h1M401.7 372.5h1M380.2 378.0h1M395.4 369.8h1M394.6 354.2h1M394.4 372.6h1M393.1 373.0h1M381.8 376.8h1M380.4 377.3h1M407.1 366.5h1M390.4 375.6h1M386.8 358.9h1M415.7 356.8h1M394.3 375.6h1M414.1 371.1h1M389.3 370.3h1M402.7 363.2h1M401.8 366.8h1M414.3 371.3h1M391.7 366.5h1M388.4 377.7h1M387.5 375.2h1M408.5 371.3h1M395.2 375.0h1M411.4 356.9h1M412.3 371.6h1M400.9 378.0h1M408.1 375.7h1M409.2 349.9h1M395.3 367.9h1M417.6 371.0h1M407.1 366.9h1M396.5 377.2h1M407.5 352.0h1M394.9 363.5h1M380.7 363.7h1M389.5 371.6h1M382.1 364.5h1M387.5 370.7h1M398.8 371.2h1M380.6 377.8h1M395.7 368.3h1M414.9 362.6h1M384.3 355.0h1M385.0 372.2h1M407.3 368.5h1M404.0 378.1h1M396.0 371.7h1M397.3 378.2h1M412.3 369.6h1M399.2 373.6h1M385.0 369.8h1M399.7 368.2h1M397.1 370.1h1M389.1 359.5h1M387.0 372.2h1M400.9 369.0h1M404.1 368.9h1M382.8 377.3h1M407.1 367.6h1M399.9 365.5h1M386.5 369.3h1M401.2 370.8h1M406.3 369.1h1M403.4 365.0h1M396.8 364.7h1M404.2 371.0h1M408.0 363.0h1M387.3 366.9h1M406.6 356.1h1M393.7 373.8h1M392.4 373.0h1M392.8 364.0h1M400.9 362.2h1M380.8 372.9h1M388.0 360.5h1M411.3 367.5h1M390.0 364.3h1M405.7 374.6h1M394.3 363.0h1M393.2 364.0h1M390.9 360.0h1M392.7 358.6h1M388.7 365.4h1M391.8 373.4h1M387.1 377.5h1M406.3 375.1h1M383.6 360.2h1M408.0 361.3h1M381.6 369.9h1M413.2 367.1h1M390.3 355.4h1M412.2 378.3h1M400.3 363.7h1M393.5 377.9h1M384.0 372.0h1M399.7 373.7h1M388.5 366.6h1M392.3 366.8h1M391.4 364.9h1M393.6 374.4h1M384.1 378.2h1M404.8 374.1h1M382.1 370.8h1M381.2 373.6h1M384.8 366.7h1M389.6 373.2h1M402.2 372.4h1M387.9 371.8h1M403.4 365.2h1M380.3 371.1h1M405.0 361.7h1M398.6 369.4h1M388.5 378.4h1M411.9 366.1h1M410.7 368.6h1M392.3 371.6h1M384.7 374.1h1M388.7 359.4h1M410.6 371.1h1M389.8 369.0h1M393.9 376.6h1M389.2 369.9h1M397.4 377.8h1M388.5 361.2h1M401.6 363.2h1M391.6 377.8h1M381.8 356.7h1M402.5 359.7h1M386.4 372.6h1M392.9 360.5h1M400.7 372.9h1M385.5 364.2h1M407.2 371.1h1M386.8 377.3h1M393.3 364.1h1M394.3 362.3h1M388.3 372.2h1M423.5 356.4h1M386.1 371.3h1M409.9 370.5h1M406.4 356.5h1M398.4 363.7h1M380.7 371.9h1M380.9 367.6h1M396.2 373.1h1M381.5 377.6h1M382.3 365.5h1M427.7 353.8h1M477.6 339.0h1M425.2 349.6h1M425.0 340.8h1M430.5 357.6h1M464.7 336.1h1M429.1 345.2h1M430.1 335.8h1M456.6 351.5h1M405.9 352.0h1M445.3 333.1h1M448.8 330.9h1M440.9 344.2h1M468.5 318.6h1M420.3 349.9h1M441.2 348.4h1M447.6 349.8h1M434.0 346.2h1M434.2 331.8h1M410.0 367.3h1M408.6 345.7h1M466.2 329.6h1M464.0 336.4h1M427.9 346.6h1M413.6 347.4h1M431.7 345.4h1M442.8 352.3h1M436.8 342.3h1M465.5 344.0h1M461.3 348.5h1M438.9 342.4h1M405.2 354.7h1M456.5 356.4h1M447.2 340.6h1M448.3 350.7h1M466.9 326.0h1M433.5 347.7h1M423.4 343.7h1M417.0 355.5h1M458.6 353.7h1M410.6 365.9h1M441.0 342.6h1M456.9 337.4h1M455.7 325.1h1M439.8 332.1h1M472.3 322.8h1M444.1 346.3h1M424.2 353.9h1M473.5 323.4h1M422.1 345.0h1M435.7 330.0h1M428.2 340.3h1M423.9 340.7h1M418.6 343.4h1M414.1 353.6h1M408.1 363.4h1M455.6 334.3h1M433.7 345.7h1M436.2 366.5h1M438.6 330.6h1M481.4 349.0h1M442.9 338.5h1M446.5 323.6h1M432.6 341.7h1M473.3 347.7h1M468.4 339.5h1M482.1 351.1h1M424.5 351.0h1M468.1 317.6h1M405.6 357.7h1M409.7 349.4h1M465.2 339.3h1M426.2 339.6h1M404.5 353.0h1M437.1 353.1h1M477.3 339.0h1M437.1 334.6h1M468.4 330.2h1M461.2 323.6h1M441.3 350.2h1M435.0 331.4h1M445.2 353.0h1M408.4 364.0h1M442.2 349.0h1M413.6 360.2h1M479.3 341.2h1M415.6 351.5h1M430.0 337.5h1M420.0 344.7h1M473.0 335.9h1M469.5 327.4h1M443.4 357.8h1M442.8 337.2h1M422.6 344.3h1M472.3 317.8h1M413.5 353.8h1M425.8 353.7h1M460.2 330.8h1M418.3 341.8h1M474.6 321.9h1M434.8 344.6h1M419.6 342.3h1M421.0 349.0h1M417.6 349.6h1M425.0 355.2h1M472.8 338.9h1M469.1 332.9h1M424.4 343.8h1M433.3 348.1h1M477.3 343.2h1M455.3 327.8h1M427.2 346.0h1M456.5 321.0h1M423.8 350.4h1M427.3 349.3h1M460.7 336.5h1M431.5 350.2h1M423.3 348.7h1M452.0 348.7h1M432.2 348.3h1M465.4 339.6h1M470.3 328.0h1M468.0 327.0h1M424.7 345.9h1M450.0 338.4h1M421.3 359.4h1M407.6 356.4h1M412.4 357.8h1M477.0 331.3h1M410.0 346.9h1M447.0 338.1h1M420.0 348.1h1M461.4 335.5h1M411.2 355.8h1M428.0 352.0h1M446.2 339.9h1M476.1 339.2h1M475.7 344.9h1M463.7 323.8h1M467.8 327.2h1M398.2 317.0h1M407.7 343.2h1M406.9 316.5h1M428.0 315.3h1M392.4 313.4h1M428.1 348.8h1M427.6 326.0h1M440.3 344.8h1M437.4 322.2h1M399.8 333.4h1M391.5 348.6h1M381.2 341.2h1M405.2 349.3h1M395.6 339.6h1M395.7 352.1h1M397.6 346.5h1M381.8 350.3h1M411.9 341.2h1M409.7 343.3h1M388.0 349.4h1M386.7 342.3h1M472.5 319.5h1M467.1 325.8h1M458.8 337.7h1M472.5 330.8h1M487.8 314.4h1M455.8 330.2h1M468.3 326.5h1M479.2 326.1h1M462.1 328.7h1M460.7 331.5h1M458.0 325.4h1M482.9 339.6h1M480.6 318.3h1M483.8 339.4h1M466.2 314.2h1M457.8 318.7h1M491.8 311.2h1M473.6 330.0h1M459.2 321.8h1M489.5 327.3h1M474.3 323.6h1M459.4 333.4h1M480.9 330.7h1M453.5 316.5h1M487.5 313.6h1M478.1 300.6h1M479.3 328.2h1M469.8 315.8h1M455.0 340.6h1M490.0 313.1h1M465.1 325.1h1M451.6 315.1h1M471.9 325.1h1M454.0 329.1h1M455.5 324.7h1M476.9 307.0h1M464.5 321.3h1M480.8 300.7h1M469.7 322.1h1M461.3 327.9h1M484.1 316.3h1M473.4 327.5h1M490.9 332.7h1M465.9 323.3h1M482.6 320.5h1M476.8 322.3h1M480.1 310.2h1M495.2 332.6h1M454.2 307.9h1M465.9 318.5h1M494.0 329.9h1M464.9 335.5h1M480.2 317.6h1M495.1 335.6h1M455.0 337.8h1M474.3 328.6h1M490.3 334.8h1M486.0 315.0h1M462.9 320.1h1M455.2 306.6h1M477.1 315.9h1M493.1 333.2h1M486.8 323.3h1M496.7 319.4h1M495.1 308.9h1M507.4 328.8h1M484.7 310.3h1M464.1 313.4h1M499.7 347.0h1M446.7 367.8h1M470.0 343.4h1M447.3 357.1h1M415.7 295.3h1M458.8 358.3h1M481.9 327.2h1M403.7 293.7h1M418.5 362.9h1M464.6 324.0h1M508.6 293.5h1M412.9 340.4h1M493.6 330.5h1M467.2 334.5h1M395.2 348.3h1M485.6 300.1h1M445.4 71.7h1M436.5 72.4h1M439.9 74.2h1M432.4 70.1h1M443.5 74.2h1M432.8 71.7h1M446.0 65.4h1M445.3 72.0h1M450.8 67.6h1M440.8 72.6h1M455.6 64.7h1M444.9 71.6h1M446.6 73.9h1M449.9 71.9h1M431.9 74.8h1M436.7 70.6h1M436.2 71.4h1M436.0 78.0h1M440.4 77.2h1M445.5 73.2h1M430.7 74.3h1M431.7 76.3h1M440.9 73.5h1M428.9 74.9h1M435.1 75.8h1M433.0 73.0h1M434.8 71.7h1M431.6 80.0h1M431.0 72.9h1M450.6 73.2h1M446.2 69.8h1M453.9 64.7h1M434.4 74.6h1M431.8 74.8h1M428.4 76.1h1M434.4 73.6h1M434.4 75.7h1M438.5 73.0h1M426.6 72.0h1M443.5 72.5h1M450.4 69.4h1M422.7 75.4h1M439.3 77.9h1M437.9 74.1h1M436.4 73.1h1M447.3 69.8h1M439.8 74.8h1M433.5 74.0h1M448.6 67.9h1M435.5 75.4h1M450.1 69.4h1M448.2 68.1h1M444.6 72.7h1M435.9 74.4h1M433.8 74.9h1M438.6 76.0h1M438.6 76.8h1M432.3 71.3h1M436.9 73.1h1M434.9 73.3h1M440.5 74.9h1M443.5 74.8h1M435.6 71.0h1M436.0 74.5h1M433.9 73.5h1M437.3 73.9h1M455.3 70.2h1M433.1 70.8h1M434.2 73.4h1M436.3 76.1h1M444.2 70.9h1M446.3 69.3h1M417.2 78.2h1M448.5 65.3h1M451.3 70.9h1M437.5 68.9h1M438.7 74.1h1M461.8 68.3h1M430.1 77.5h1M443.6 73.0h1M437.1 70.2h1M443.6 73.1h1M447.9 69.8h1M432.7 73.5h1M452.8 73.3h1M439.9 75.0h1M439.4 70.4h1M439.1 71.5h1M436.9 72.7h1M441.9 71.6h1M449.2 65.0h1M444.1 74.7h1M440.7 76.3h1M437.8 76.1h1M428.9 78.0h1M447.6 75.9h1M436.5 72.3h1M436.0 73.9h1M432.5 73.2h1M434.2 72.0h1M433.4 74.4h1M431.0 74.7h1M451.5 72.2h1M451.0 71.4h1M437.9 72.0h1M430.2 73.3h1M429.8 74.0h1M440.3 75.4h1M452.3 70.2h1M446.4 70.3h1M428.4 75.2h1M440.0 73.8h1M433.6 73.1h1M431.0 77.3h1M439.8 69.5h1M464.1 67.3h1M432.2 75.3h1M436.9 73.6h1M425.1 78.6h1M444.2 71.6h1M436.3 77.5h1M436.5 79.0h1M435.9 71.5h1M457.0 74.4h1M444.0 75.1h1M436.2 72.7h1M433.1 75.9h1M437.8 69.6h1M435.4 73.8h1M438.0 73.5h1M439.1 73.2h1M438.6 72.3h1M456.6 72.3h1M435.3 73.7h1M419.6 77.7h1M435.9 71.1h1M432.0 76.0h1M432.9 72.6h1M443.9 74.2h1M431.1 74.5h1M444.1 70.9h1M441.1 73.4h1M444.7 69.4h1M459.8 64.2h1M456.0 66.3h1M420.6 69.6h1M423.5 78.7h1M418.4 74.6h1M426.3 64.0h1M424.9 67.7h1M446.6 71.1h1M454.9 66.3h1M450.4 69.3h1M431.8 155.9h1M444.5 154.6h1M436.5 154.4h1M422.3 157.3h1M430.1 156.6h1M427.6 157.6h1M435.5 155.1h1M441.5 155.1h1M438.4 155.5h1M414.0 160.0h1M439.6 155.0h1M420.5 159.8h1M415.9 160.4h1M421.6 156.7h1M430.4 156.5h1M442.8 153.8h1M414.5 159.0h1M413.3 160.1h1M415.2 159.5h1M414.5 161.7h1M427.1 157.2h1M441.4 158.2h1M443.4 155.6h1M442.6 153.9h1M449.6 153.2h1M423.1 160.0h1M429.5 161.4h1M438.5 153.8h1M443.3 154.7h1M424.0 155.2h1M415.8 160.8h1M413.3 160.1h1M414.2 158.7h1M430.6 157.3h1M434.8 156.2h1M424.4 157.4h1M425.0 156.7h1M416.2 159.1h1M415.1 160.8h1M443.1 156.5h1M445.0 153.4h1M426.5 154.7h1M442.6 154.7h1M449.7 153.5h1M418.7 160.1h1M416.7 158.9h1M432.1 156.6h1M419.5 160.0h1M441.2 151.9h1M441.6 156.4h1M426.6 161.3h1M425.0 157.9h1M448.0 153.4h1M422.6 156.2h1M418.7 159.5h1M422.6 157.5h1M444.8 155.3h1M436.5 154.8h1M440.1 150.9h1M421.6 158.9h1M435.1 154.7h1M422.3 157.2h1M440.0 157.5h1M414.4 157.5h1M418.4 156.9h1M417.5 159.7h1M413.2 160.7h1M430.2 159.3h1M442.0 150.6h1M437.8 156.2h1M414.7 159.4h1M417.9 160.7h1M442.4 149.7h1M429.1 156.8h1M433.2 156.8h1M426.7 158.3h1M444.0 152.6h1M444.7 152.5h1M424.1 157.9h1M413.7 160.4h1M438.5 154.9h1M428.9 159.6h1M413.6 161.9h1M448.8 151.3h1M437.3 154.8h1M432.8 154.5h1M435.8 153.8h1M422.5 160.5h1M446.9 154.7h1M429.5 159.1h1M449.1 153.1h1M433.3 157.1h1M433.3 158.1h1M443.8 154.1h1M415.1 158.7h1M426.1 158.3h1M420.6 159.6h1M417.0 154.1h1M447.3 156.7h1M437.6 156.2h1M413.3 160.9h1M424.5 158.3h1M420.0 159.5h1M434.0 157.5h1M443.0 151.0h1M432.1 157.1h1M425.3 158.2h1M426.7 155.4h1M450.1 154.0h1M441.4 155.2h1M413.8 160.4h1M415.3 161.4h1M427.5 156.3h1M424.1 159.4h1M413.4 159.7h1M413.3 160.7h1M425.9 158.6h1M443.2 152.5h1M446.8 153.0h1M415.9 162.1h1M421.2 158.8h1M427.6 155.7h1M449.1 153.8h1M444.9 154.1h1M425.1 158.1h1M415.5 161.3h1M428.5 155.9h1M443.8 144.4h1M431.7 151.3h1M456.5 149.0h1M435.3 235.1h1M431.1 224.0h1M439.7 228.8h1M447.2 226.9h1M445.6 231.7h1M449.8 227.5h1M448.9 221.3h1M445.1 225.8h1M443.4 220.5h1M449.7 234.6h1M439.3 225.8h1M440.1 223.6h1M451.6 225.3h1M442.0 230.5h1M451.7 210.4h1M441.8 229.5h1M444.6 227.2h1M446.0 221.8h1M446.5 221.6h1M442.7 215.6h1M450.6 216.6h1M462.3 220.2h1M447.7 223.1h1M439.2 227.3h1M450.1 219.7h1M459.2 224.9h1M431.9 222.9h1M449.8 214.5h1M437.9 225.0h1M443.4 223.7h1M445.9 221.3h1M441.5 231.3h1M431.1 231.6h1M454.2 217.8h1M450.0 232.7h1M450.9 220.7h1M442.3 228.9h1M441.7 223.0h1M446.5 224.4h1M438.6 230.8h1M424.0 237.0h1M456.0 222.0h1M446.1 230.0h1M446.7 229.0h1M447.0 228.3h1M434.0 235.9h1M433.9 214.8h1M435.8 230.7h1M438.5 233.7h1M443.3 227.8h1M440.3 223.9h1M461.2 218.1h1M445.4 223.7h1M452.8 222.6h1M456.4 229.7h1M440.4 226.8h1M446.8 224.5h1M430.7 230.4h1M436.9 225.3h1M443.3 226.8h1M439.3 229.8h1M440.2 225.6h1M447.7 227.0h1M438.6 227.4h1M437.6 233.2h1M445.1 230.6h1M438.2 224.6h1M447.1 221.8h1M434.9 234.6h1M448.7 223.1h1M431.1 230.1h1M437.7 223.4h1M444.9 228.2h1M440.8 230.9h1M454.1 217.3h1M436.8 227.5h1M443.9 233.7h1M442.7 222.3h1M449.4 222.2h1M444.8 217.0h1M429.6 230.4h1M430.8 229.6h1M435.4 225.1h1M435.8 221.8h1M439.1 218.2h1M428.8 230.6h1M434.9 240.3h1M423.8 235.2h1M442.8 221.7h1M439.6 224.6h1M439.8 230.5h1M443.2 223.6h1M435.2 232.5h1M449.8 231.9h1M439.3 224.0h1M448.3 224.7h1M444.3 230.9h1M437.8 227.8h1M450.8 217.8h1M429.9 227.8h1M439.4 227.5h1M440.2 226.4h1M441.4 224.4h1M441.8 223.6h1M440.0 226.3h1M445.6 225.5h1M451.4 219.8h1M443.3 228.2h1M441.1 220.8h1M441.9 226.3h1M438.1 231.5h1M449.0 225.4h1M455.4 225.2h1M447.4 226.9h1M457.8 226.0h1M443.3 224.4h1M436.1 225.5h1M443.5 225.5h1M433.5 218.0h1M444.3 226.0h1M443.4 237.3h1M455.9 217.4h1M447.5 227.9h1M435.4 231.2h1M452.4 227.2h1M449.5 223.3h1M434.6 233.6h1M443.0 233.7h1M439.5 221.6h1M456.1 217.1h1M444.8 231.0h1M435.1 226.7h1M432.9 230.4h1M452.1 220.3h1M443.5 234.1h1M437.8 221.3h1M441.7 233.7h1M437.7 227.6h1M443.4 221.9h1M433.3 224.0h1M432.1 227.6h1M447.2 220.6h1M446.2 219.9h1M436.1 217.1h1M441.5 223.4h1M442.4 223.8h1M433.6 230.2h1M463.7 224.9h1M449.2 220.2h1M434.9 222.9h1M433.7 238.0h1M450.4 217.7h1M469.5 224.0h1M431.7 223.4h1M450.9 240.0h1M443.9 230.3h1M444.2 228.4h1M435.0 235.7h1M453.0 211.9h1M453.3 223.7h1M450.2 219.6h1M443.4 222.2h1M454.6 217.4h1M443.5 222.5h1M436.6 219.1h1M439.5 229.4h1M449.4 222.3h1M441.2 218.5h1M436.9 223.9h1M436.8 228.7h1M442.6 227.2h1M441.0 233.6h1M464.6 212.2h1M433.4 227.1h1M420.0 237.4h1M435.3 223.3h1M438.3 214.7h1M458.5 224.5h1M449.2 216.8h1M459.2 221.6h1M465.3 216.6h1M447.2 230.3h1M436.5 223.4h1M434.5 219.2h1M433.6 228.2h1M450.7 215.9h1M450.4 223.4h1M435.2 223.9h1M441.1 240.8h1M428.6 221.5h1M445.9 227.2h1M440.0 225.9h1M446.3 229.7h1M438.5 233.7h1M443.0 231.0h1M437.7 227.8h1M456.9 225.6h1M449.6 222.0h1M441.2 232.5h1M446.2 218.7h1M433.8 228.1h1M449.1 232.5h1M434.8 221.5h1M452.3 226.6h1M443.9 231.6h1M453.5 231.0h1M437.6 225.2h1M446.4 223.5h1M452.9 220.1h1M443.4 225.4h1M444.6 218.3h1M448.1 219.5h1M437.7 229.7h1M451.5 226.6h1M451.9 228.3h1M460.9 217.2h1M442.5 217.8h1M444.0 215.7h1M433.5 228.4h1M437.3 234.0h1M452.2 219.2h1M439.9 221.2h1M453.5 225.9h1M443.8 230.4h1M444.7 225.5h1M439.8 222.3h1M440.8 221.7h1M452.3 223.9h1M441.5 235.2h1M438.4 224.8h1M432.8 226.4h1M434.5 222.4h1M441.8 230.3h1M447.3 224.1h1M440.1 229.4h1M438.5 239.7h1M448.4 224.5h1M437.1 218.2h1M452.4 209.8h1M416.7 232.6h1M432.8 232.9h1M441.9 235.3h1M458.4 223.2h1M441.1 228.9h1M443.5 222.4h1M468.0 214.1h1M443.1 228.6h1M453.8 222.5h1M435.5 225.5h1M444.6 227.5h1M441.3 225.7h1M445.7 224.2h1M438.1 228.0h1M439.0 225.3h1M428.9 226.1h1M422.9 233.8h1M450.8 224.5h1M448.2 211.9h1M443.3 229.5h1M443.6 227.7h1M438.7 231.6h1M450.0 216.3h1M451.4 227.6h1M439.1 231.7h1M435.5 227.3h1M440.1 230.1h1M427.5 231.7h1M442.0 221.5h1M420.6 236.0h1M453.9 223.3h1M427.4 225.0h1M446.7 220.7h1M439.1 227.1h1M439.8 226.4h1M448.7 225.3h1M445.7 215.9h1M444.9 226.1h1M438.6 222.0h1M443.0 227.0h1M449.0 224.0h1M456.6 214.3h1M445.7 224.0h1M435.4 234.9h1M440.4 228.4h1M434.8 222.0h1M449.1 217.9h1M434.7 218.0h1M450.5 225.4h1M434.0 227.1h1M451.3 219.1h1M441.2 227.5h1M451.0 234.9h1M432.4 231.1h1M441.1 234.3h1M440.7 231.6h1M444.2 227.7h1M431.0 236.5h1M429.5 227.9h1M448.3 225.0h1M440.2 233.0h1M451.1 231.0h1M444.5 221.6h1M448.9 226.8h1M435.9 230.2h1M430.5 236.4h1M431.5 232.0h1M440.0 230.4h1M431.3 229.7h1M434.3 226.5h1M435.0 228.1h1M446.2 219.5h1M437.9 228.9h1M448.4 221.8h1M448.0 215.1h1M450.8 227.7h1M449.0 231.8h1M464.1 216.1h1M438.9 222.9h1M435.8 227.3h1M453.8 223.1h1M432.8 222.2h1M446.9 221.0h1M431.9 227.0h1M439.7 236.7h1M450.1 226.9h1M431.1 233.1h1M437.2 230.8h1M442.3 221.9h1M438.7 228.8h1M451.5 228.4h1M455.1 226.7h1M444.6 223.7h1M434.6 233.5h1M448.6 222.2h1M441.8 223.9h1M452.4 223.1h1M454.9 221.5h1M458.0 212.6h1M456.2 230.2h1M470.8 230.9h1M437.1 226.7h1M451.4 229.4h1M433.4 229.7h1M410.5 232.6h1M443.9 224.7h1M446.8 220.6h1M436.3 221.3h1M446.7 209.8h1M443.0 228.2h1M457.3 224.6h1M454.3 217.5h1M461.8 210.4h1M423.2 240.4h1M460.6 206.6h1M456.6 232.2h1M426.4 235.8h1M439.2 235.8h1M453.5 230.5h1M428.5 232.5h1M455.3 218.6h1M432.0 229.0h1M484.5 209.8h1M452.6 220.8h1M457.2 212.8h1M458.8 203.9h1M452.5 232.4h1M458.9 207.5h1M462.4 216.9h1M444.8 219.9h1M419.4 238.4h1M459.6 216.3h1M430.4 220.4h1M436.3 230.9h1M431.1 220.0h1M476.8 207.1h1M452.1 216.1h1M438.8 222.3h1M440.2 222.9h1M460.5 225.4h1M451.7 229.4h1M453.3 222.9h1M447.9 214.1h1M424.3 223.6h1M450.6 219.9h1M449.3 226.8h1M469.9 202.2h1M465.0 223.2h1M450.2 237.9h1M453.0 223.7h1M474.2 189.6h1M453.4 215.6h1M440.5 215.7h1M448.7 210.2h1M468.9 232.0h1M482.9 216.4h1M454.4 224.3h1M455.8 237.6h1M442.6 223.5h1M434.6 235.0h1M436.1 230.5h1M435.4 238.8h1M432.1 225.4h1M437.7 234.2h1M418.2 241.8h1M449.5 211.2h1M461.3 224.9h1M467.9 208.9h1M451.4 220.3h1M438.7 225.0h1M445.1 228.9h1M465.0 225.9h1M437.2 223.1h1M465.7 211.8h1M438.3 238.1h1M466.9 215.3h1M454.3 230.6h1M431.0 224.5h1M465.2 214.7h1M474.8 207.9h1M462.4 224.1h1M453.8 220.2h1M463.3 226.9h1M444.4 222.3h1M455.3 230.7h1M437.1 238.0h1M432.1 232.5h1M446.3 216.3h1M449.7 220.4h1M442.8 212.8h1M472.7 203.9h1M438.9 236.0h1M458.5 220.6h1M443.5 214.2h1M447.8 222.7h1M430.8 233.4h1M434.9 224.3h1M448.1 219.8h1M433.7 216.7h1M455.1 227.9h1M466.9 212.0h1M468.1 228.6h1M463.2 212.7h1M458.4 211.5h1M462.2 219.1h1M447.5 233.1h1M434.3 226.0h1M442.8 217.6h1M455.3 220.1h1M440.0 217.9h1M446.3 230.9h1M445.5 215.6h1M470.1 210.9h1M448.8 231.6h1M431.6 229.5h1M436.2 222.3h1M439.3 211.9h1M471.4 222.2h1M445.4 230.3h1M433.8 234.4h1M460.2 229.2h1M468.2 223.1h1M446.5 229.5h1M424.5 230.5h1M456.4 230.5h1M461.2 224.6h1M428.2 235.7h1M450.2 218.8h1M419.4 223.1h1M445.8 222.3h1M453.8 210.4h1M447.5 227.4h1M459.7 215.1h1M430.1 219.1h1M434.6 225.1h1M449.2 233.8h1M470.8 199.6h1M439.1 234.6h1M455.8 214.9h1M470.5 220.8h1M452.1 207.6h1M444.6 208.6h1M438.8 232.9h1M438.8 219.4h1M459.7 226.8h1M438.6 218.0h1M457.1 223.2h1M459.3 214.6h1M430.3 228.9h1M436.7 237.5h1M439.6 226.8h1M466.2 206.4h1M466.2 213.2h1M465.5 225.7h1M416.3 233.0h1M425.5 235.5h1M432.0 241.4h1M410.5 242.5h1M418.3 238.3h1M419.8 235.7h1M418.4 241.1h1M424.5 238.8h1M433.6 235.7h1M421.3 236.5h1M433.7 234.4h1M425.8 237.0h1M413.5 237.5h1M417.8 240.2h1M426.7 234.1h1M421.8 238.3h1M433.7 233.1h1M419.4 237.7h1M421.1 237.5h1M416.7 238.5h1M424.4 236.5h1M422.2 239.7h1M423.6 239.7h1M419.8 228.8h1M423.9 234.7h1M429.0 238.0h1M422.1 241.2h1M425.0 236.5h1M428.2 235.2h1M413.8 242.8h1M414.2 240.4h1M428.2 238.4h1M418.3 237.0h1M419.9 239.3h1M428.2 233.4h1M431.1 220.6h1M431.0 222.9h1M419.7 216.5h1M425.5 215.0h1M414.7 223.4h1" stroke="#000" stroke-width="1" stroke-opacity="0.5"/>
</g>
</svg></body></html>
